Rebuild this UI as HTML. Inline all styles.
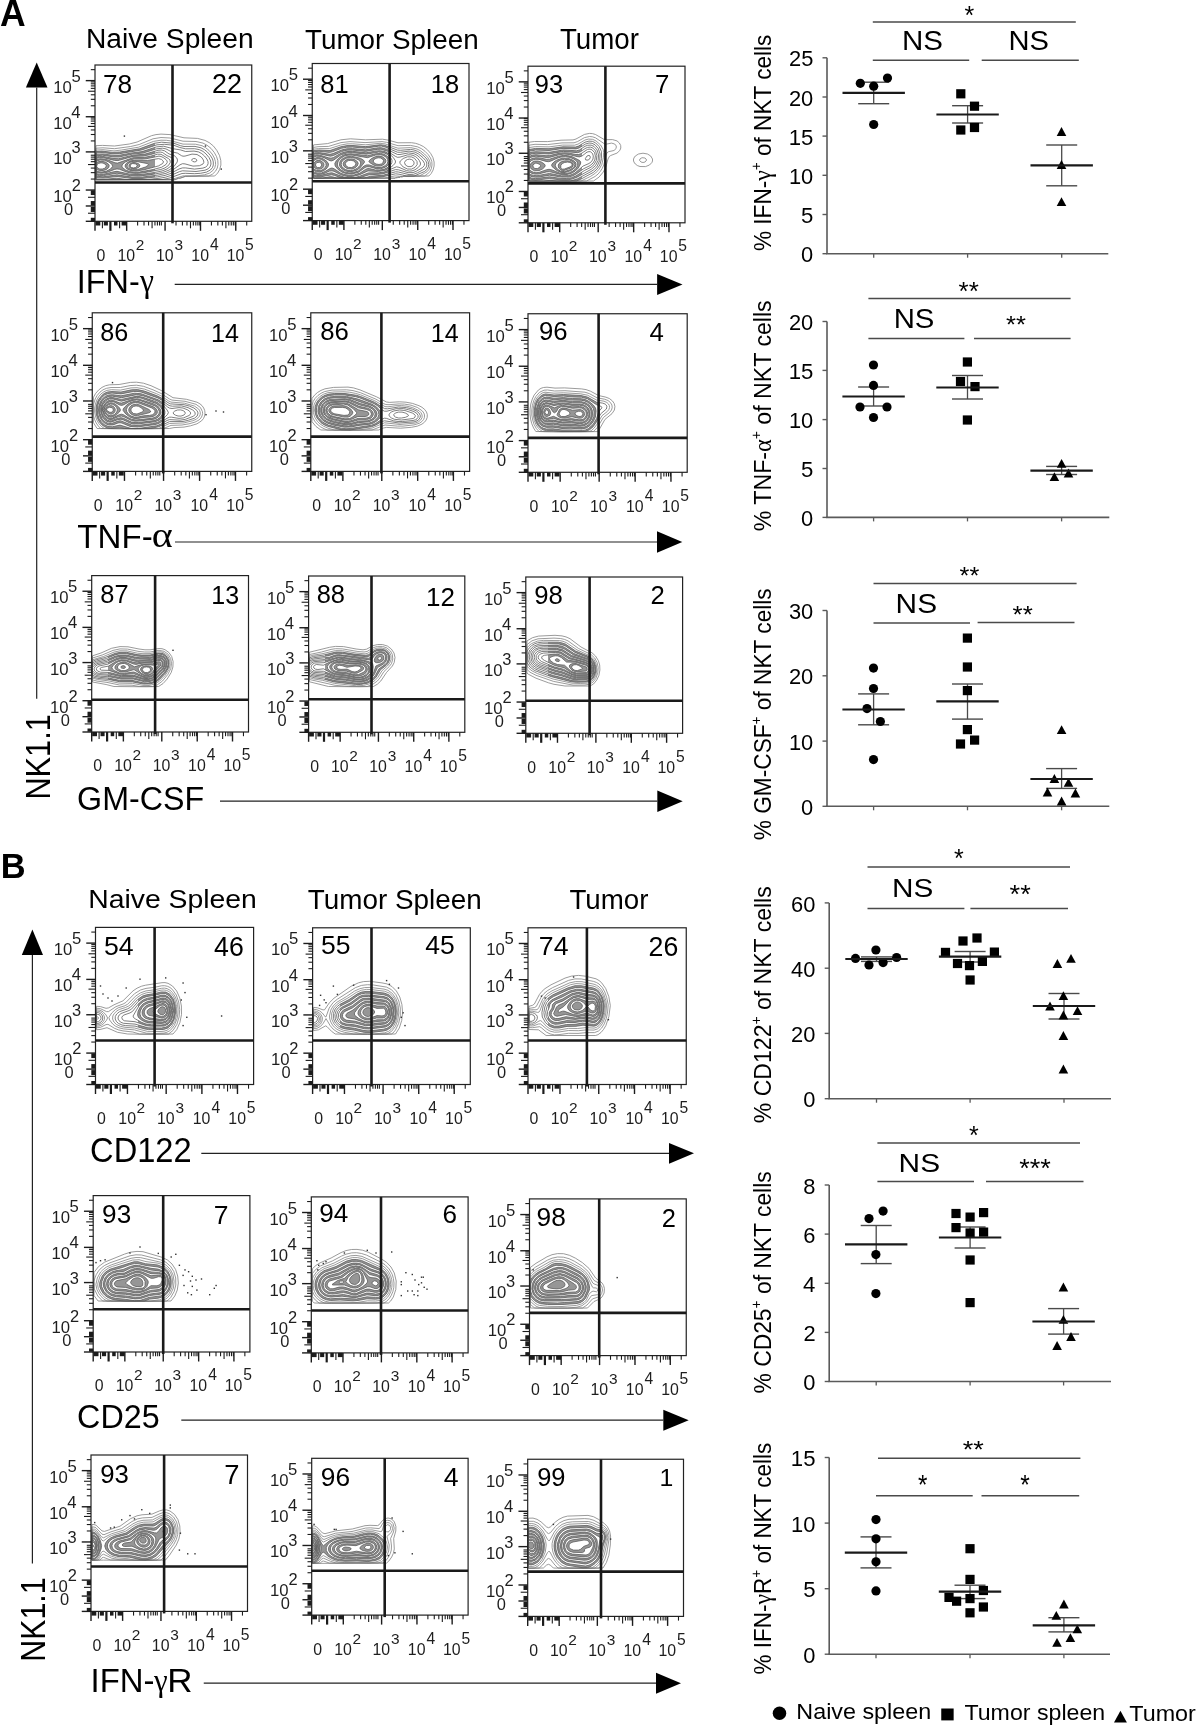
<!DOCTYPE html>
<html><head><meta charset="utf-8"><style>
html,body{margin:0;padding:0;background:#fff;}
svg{display:block;font-family:"Liberation Sans",sans-serif;will-change:transform;}
</style></head><body>
<svg width="1200" height="1726" viewBox="0 0 1200 1726">
<rect width="1200" height="1726" fill="#fff"/>
<defs><path id="A11_0" d="M175 179.8l-79 0.1l-0.4-0.4l-0.1-13.5l0.5-20.3l6.5-0.3l12 0.6l14.8-2l7.8-2l14.4-6.3l4.5-1.1l5-0.5l9 0.5l14 3.2l13.5 0.6l7.5 2l4.5 2.4l4 3.3l3.4 4.4l2.6 5l1.3 5l0.1 4.5l-1.2 4.5l-2 3.5l-3 3l-29.2 0.4l-5.5 1.9l-1.5 0l-3.5 1.5z"/><path id="A11_1" d="M175 179.6l-79 0.2l-0.3-0.3l-0.2-13.5l0.5-17.8l7-0.4l11.5 0.9l16.1-2.2l8.6-2l13.8-5.7l8-1.3l9 0.5l13 3.2l13 0.3l7 1.6l4 2.1l4 3.2l3.3 4.1l2.2 4l1.3 4l0.2 4l-0.7 3.5l-1.8 3.2l-3 2.9l-3.6 1.9l-23.4 0.2l-5.5 1.9l-1.5 0.1l-3.5 1.4z"/><path id="A11_2" d="M171.5 179.5l-75.5 0.2l-0.4-13.7l0.4-15.9l7-0.4l11 1.2l7.8-0.9l16.7-2.8l15-5.8l7.5-1.2l5.5 0.1l6 0.9l10.5 2.9l12.5 0.1l6.5 1.5l3.5 1.9l3.5 2.8l3.1 3.6l2.3 4l1 3.5l0.2 3l-0.8 3l-1.9 3l-3.4 2.6l-5 1.7l-8.5 1.1l-13 0l-11.5 3.6z"/><path id="A11_3" d="M163 179.5l-67 0.1l-0.4-13.6l0.4-14.4l6-0.5l11 1.3l6.7-0.4l19.8-3.2l15-5.5l7-1.1l12.5 1.1l6.5 2.4l3.5 0.8l11-0.1l6 1.4l3.5 1.9l3 2.4l2.9 3.4l2.1 3.5l0.8 3l0 3l-0.8 2.5l-2.1 2.5l-3.9 2.1l-6 1.2l-6 0.4l-9-0.4l-3.5 0.2l-12 4.4l-7 1.6z"/><path id="A11_4" d="M147.5 179.5l-20.3 0l-10.7-1.3l-13.5 1.2l-7-0.4l-0.4-13l0.4-13l6-0.5l11.5 1.4l6-0.2l22-3.7l15.5-5.2l7.5-0.5l9.5 1l5.5 2.1l6 1.4l9-0.1l5 1l3.5 1.7l3.1 2.6l2.9 3.5l1.7 3.5l0.3 3l-1 2.9l-2 2l-3 1.3l-9 1.3l-13.5-0.7l-3 0.8l-8.5 3.8l-5.5 1.8l-6.5 1.1l-11.5 1.2z"/><path id="A11_5" d="M142 178.5l-10 0l-15-2l-14 1.6l-7-0.5l-0.3-11.6l0.3-11.6l6.5-0.5l11.5 1.5l5-0.1l13-2.4l10-1.3l14.5-4.7l7-0.7l10 2.6l7 1.1l5 1.6l8.5-0.4l4.5 0.8l3.1 1.6l2.9 2.5l2.4 3l1.1 2.5l0.1 2l-0.7 2l-1.6 1.5l-2.8 1.1l-8.5 1l-9-1.2l-3 0l-3.5 1.1l-9 4.7l-5 1.7l-7.5 1.4l-15.5 1.7z"/><path id="A11_6" d="M142.5 177l-10.5 0.1l-15-2.3l-14 2l-7-0.6l-0.3-10.2l0.3-10.2l6.5-0.6l11.5 1.8l5 0l13.5-2.9l10.8-1.1l13.2-4.2l6-0.6l3.5 0.7l5.5 2.9l6 1.3l4 2.6l1.5 0.5l2-0.1l7-2l5 0.4l4.2 2.5l1.6 2l0.9 2l0.1 1.5l-0.8 1.5l-3.5 1.7l-6.5 0.4l-8-2.2l-2.5-0.2l-2.5 1.1l-8.5 6l-5.5 2.5l-8 1.8l-15.5 1.9z"/><path id="A11_7" d="M138.5 176l-8-0.3l-13.5-2.5l-13.5 2.4l-4 0l-3.5-0.7l0-17.8l3.5-0.7l3.5 0l11 2.1l4.5 0.2l14.5-3.5l12-1.1l13-3.8l3.5-0.3l3 0.8l4.5 3.1l5.5 1.9l2.3 2.2l0.7 2l-0.3 2l-3.2 4.5l-5 3.6l-6.5 2.5l-13 2.3l-11 1.1zM196 161.6l-1.5 0.3l-1.7-0.4l-1-1l0-1l1.7-1l2 0.2l1.3 1.3l-0.1 1l-0.7 0.6z"/><path id="A11_8" d="M141 174.5l-10-0.1l-14-3.1l-3 0.4l-10.5 2.6l-4 0l-3.5-0.7l0-15.2l3.5-0.7l4 0l11 2.7l3.5 0.2l15-4.2l10.5-0.4l7.2-1.5l7.3-2.3l2.5-0.1l2 0.4l4.5 3.1l4.5 2l1.5 1.4l0.6 1.5l-0.2 2l-2.3 3.5l-4.1 3l-5 2l-7.5 1.5l-13.5 2z"/><path id="A11_9" d="M142.5 173l-6 0.4l-5.5-0.3l-4.5-1.1l-7-2.7l-2.5-0.4l-2.5 0.5l-6.5 2.6l-3.5 0.9l-4 0.3l-3.5-0.6l-1-0.3l0-12.6l4-0.9l4 0.2l4 1l7 2.8l2.5 0.3l15.5-5.4l11.5-0.4l6-1.1l7-2l3.5 0.1l7.3 4.2l1.7 1.5l0.3 2.5l-1.9 3l-3.4 2.4l-4.1 1.6l-18.4 3.5z"/><path id="A11_10" d="M139.5 172l-5.5 0.2l-4.5-0.7l-4-1.6l-3.1-2.4l-0.6-1.5l1-2l2.6-2l3.6-1.7l5.5-1.5l7.5 0.2l5-0.4l12-2.5l2 0.4l2.2 1l2.8 2l1.1 1.5l0.1 1.5l-1.2 2l-4.5 2.8l-8.3 2.2l-13.7 2.5zM102 172l-3-0.2l-3-1l0-9.6l4-1.2l4.5 0.3l4.4 1.7l3.2 2.5l0.5 2l-2.1 2.5l-4 2.1l-4.5 0.9z"/><path id="A11_11" d="M136 171l-3.5-0.1l-3-0.7l-2.4-1.2l-1.5-1.5l-0.6-1.5l0.7-2l1.7-1.5l2.6-1.4l4.5-1l13 0.3l11-1.8l3 0.8l1.7 1.6l0.2 1l-0.7 1.5l-4.2 2.4l-14.5 3.9l-8 1.2zM103.5 170.5l-4 0.1l-3.5-1.5l0-6.2l2.5-1.3l3.5-0.3l3.5 0.8l2.9 1.9l0.8 1.5l-0.4 2l-2.3 1.9l-3 1.1z"/><path id="A11_12" d="M137.5 169.6l-5.5 0.2l-3.9-1.8l-0.9-1.5l0-1.5l1-1.5l1.8-1.2l3-0.9l3 0l11 2.1l1.6 1l-0.7 1l-2.5 1.5l-7.9 2.6zM102.5 169l-2.7 0l-2.2-1l-0.9-1.5l0.4-2l1.4-1.1l2.5-0.6l2 0.3l2 0.9l1.2 1.5l-0.2 1.5l-1.5 1.3l-2 0.7z"/><path id="A11_13" d="M136 168.6l-3 0.3l-2.8-0.9l-1.3-1.5l0.2-2l1.4-1.2l2.5-0.8l2.5 0.1l2.7 0.9l1.3 1l0.5 1.5l-1.4 1.5l-2.6 1.1z"/><path id="A11_14" d="M135.5 167.5l-2 0.4l-2-0.4l-1.1-1l-0.1-1.5l1-1l1.5-0.5l3.2 0.5l1.1 1l0.1 1l-1.7 1.5z"/><clipPath id="cA11"><rect x="95" y="65" width="60" height="156.3"/></clipPath></defs><g clip-path="url(#cA11)"><use href="#A11_3" fill="#969696"/><use href="#A11_4" fill="#fff"/><use href="#A11_5" fill="#969696"/><use href="#A11_6" fill="#fff"/><use href="#A11_7" fill="#969696"/><use href="#A11_8" fill="#fff"/><use href="#A11_9" fill="#969696"/><use href="#A11_10" fill="#fff"/><use href="#A11_11" fill="#969696"/><use href="#A11_12" fill="#fff"/><use href="#A11_13" fill="#969696"/><use href="#A11_14" fill="#fff"/></g><g fill="none" stroke-width="0.75"><use href="#A11_0" stroke="#7a7a7a"/><use href="#A11_1" stroke="#7a7a7a"/><use href="#A11_2" stroke="#7a7a7a"/><use href="#A11_3" stroke="#565656"/><use href="#A11_4" stroke="#565656"/><use href="#A11_5" stroke="#565656"/><use href="#A11_6" stroke="#565656"/><use href="#A11_7" stroke="#565656"/><use href="#A11_8" stroke="#565656"/><use href="#A11_9" stroke="#565656"/><use href="#A11_10" stroke="#565656"/><use href="#A11_11" stroke="#565656"/><use href="#A11_12" stroke="#565656"/><use href="#A11_13" stroke="#565656"/><use href="#A11_14" stroke="#565656"/></g><rect x="123.7" y="135.4" width="1.4" height="1.4" fill="#333"/><rect x="204.8" y="145.3" width="1.4" height="1.4" fill="#333"/><rect x="220.6" y="168.4" width="1.4" height="1.4" fill="#333"/>
<rect x="95.00" y="65.00" width="156.75" height="156.30" fill="none" stroke="#222" stroke-width="1.2"/>
<line x1="172.50" y1="65.00" x2="172.50" y2="223.30" stroke="#1a1a1a" stroke-width="2.6"/>
<line x1="95.00" y1="182.50" x2="251.75" y2="182.50" stroke="#1a1a1a" stroke-width="2.6"/>
<line x1="85.75" y1="190.04" x2="95.00" y2="190.04" stroke="#1c1c1c" stroke-width="1.4"/>
<line x1="90.80" y1="179.06" x2="95.00" y2="179.06" stroke="#1c1c1c" stroke-width="1.1"/>
<line x1="90.80" y1="172.64" x2="95.00" y2="172.64" stroke="#1c1c1c" stroke-width="1.1"/>
<line x1="90.80" y1="168.08" x2="95.00" y2="168.08" stroke="#1c1c1c" stroke-width="1.1"/>
<line x1="88.00" y1="164.55" x2="95.00" y2="164.55" stroke="#1c1c1c" stroke-width="1.1"/>
<line x1="90.80" y1="161.66" x2="95.00" y2="161.66" stroke="#1c1c1c" stroke-width="1.1"/>
<line x1="90.80" y1="159.22" x2="95.00" y2="159.22" stroke="#1c1c1c" stroke-width="1.1"/>
<line x1="90.80" y1="157.10" x2="95.00" y2="157.10" stroke="#1c1c1c" stroke-width="1.1"/>
<line x1="90.80" y1="155.24" x2="95.00" y2="155.24" stroke="#1c1c1c" stroke-width="1.1"/>
<line x1="85.75" y1="151.90" x2="95.00" y2="151.90" stroke="#1c1c1c" stroke-width="1.4"/>
<line x1="90.80" y1="140.92" x2="95.00" y2="140.92" stroke="#1c1c1c" stroke-width="1.1"/>
<line x1="90.80" y1="134.50" x2="95.00" y2="134.50" stroke="#1c1c1c" stroke-width="1.1"/>
<line x1="90.80" y1="129.95" x2="95.00" y2="129.95" stroke="#1c1c1c" stroke-width="1.1"/>
<line x1="88.00" y1="126.41" x2="95.00" y2="126.41" stroke="#1c1c1c" stroke-width="1.1"/>
<line x1="90.80" y1="123.52" x2="95.00" y2="123.52" stroke="#1c1c1c" stroke-width="1.1"/>
<line x1="90.80" y1="121.08" x2="95.00" y2="121.08" stroke="#1c1c1c" stroke-width="1.1"/>
<line x1="90.80" y1="118.97" x2="95.00" y2="118.97" stroke="#1c1c1c" stroke-width="1.1"/>
<line x1="90.80" y1="117.10" x2="95.00" y2="117.10" stroke="#1c1c1c" stroke-width="1.1"/>
<line x1="85.75" y1="116.74" x2="95.00" y2="116.74" stroke="#1c1c1c" stroke-width="1.4"/>
<line x1="90.80" y1="105.76" x2="95.00" y2="105.76" stroke="#1c1c1c" stroke-width="1.1"/>
<line x1="90.80" y1="99.33" x2="95.00" y2="99.33" stroke="#1c1c1c" stroke-width="1.1"/>
<line x1="90.80" y1="94.78" x2="95.00" y2="94.78" stroke="#1c1c1c" stroke-width="1.1"/>
<line x1="88.00" y1="91.24" x2="95.00" y2="91.24" stroke="#1c1c1c" stroke-width="1.1"/>
<line x1="90.80" y1="88.36" x2="95.00" y2="88.36" stroke="#1c1c1c" stroke-width="1.1"/>
<line x1="90.80" y1="85.91" x2="95.00" y2="85.91" stroke="#1c1c1c" stroke-width="1.1"/>
<line x1="90.80" y1="83.80" x2="95.00" y2="83.80" stroke="#1c1c1c" stroke-width="1.1"/>
<line x1="90.80" y1="81.93" x2="95.00" y2="81.93" stroke="#1c1c1c" stroke-width="1.1"/>
<line x1="85.75" y1="80.63" x2="95.00" y2="80.63" stroke="#1c1c1c" stroke-width="1.4"/>
<line x1="90.80" y1="69.65" x2="95.00" y2="69.65" stroke="#1c1c1c" stroke-width="1.1"/>
<line x1="85.75" y1="205.98" x2="95.00" y2="205.98" stroke="#1c1c1c" stroke-width="1.4"/>
<line x1="85.75" y1="221.30" x2="95.00" y2="221.30" stroke="#1c1c1c" stroke-width="1.4"/>
<line x1="88.00" y1="197.29" x2="95.00" y2="197.29" stroke="#1c1c1c" stroke-width="1.1"/>
<line x1="88.00" y1="213.23" x2="95.00" y2="213.23" stroke="#1c1c1c" stroke-width="1.1"/>
<rect x="90.80" y="190.34" width="4.2" height="4.70" fill="#1c1c1c"/>
<rect x="90.80" y="201.04" width="4.2" height="4.50" fill="#1c1c1c"/>
<rect x="90.80" y="206.98" width="4.2" height="5.00" fill="#1c1c1c"/>
<rect x="90.80" y="217.80" width="4.2" height="3.20" fill="#1c1c1c"/>
<line x1="126.66" y1="221.30" x2="126.66" y2="230.80" stroke="#1c1c1c" stroke-width="1.4"/>
<line x1="137.61" y1="221.30" x2="137.61" y2="225.50" stroke="#1c1c1c" stroke-width="1.1"/>
<line x1="144.01" y1="221.30" x2="144.01" y2="225.50" stroke="#1c1c1c" stroke-width="1.1"/>
<line x1="148.56" y1="221.30" x2="148.56" y2="225.50" stroke="#1c1c1c" stroke-width="1.1"/>
<line x1="152.08" y1="221.30" x2="152.08" y2="228.30" stroke="#1c1c1c" stroke-width="1.1"/>
<line x1="154.96" y1="221.30" x2="154.96" y2="225.50" stroke="#1c1c1c" stroke-width="1.1"/>
<line x1="157.40" y1="221.30" x2="157.40" y2="225.50" stroke="#1c1c1c" stroke-width="1.1"/>
<line x1="159.51" y1="221.30" x2="159.51" y2="225.50" stroke="#1c1c1c" stroke-width="1.1"/>
<line x1="161.37" y1="221.30" x2="161.37" y2="225.50" stroke="#1c1c1c" stroke-width="1.1"/>
<line x1="165.07" y1="221.30" x2="165.07" y2="230.80" stroke="#1c1c1c" stroke-width="1.4"/>
<line x1="176.01" y1="221.30" x2="176.01" y2="225.50" stroke="#1c1c1c" stroke-width="1.1"/>
<line x1="182.42" y1="221.30" x2="182.42" y2="225.50" stroke="#1c1c1c" stroke-width="1.1"/>
<line x1="186.96" y1="221.30" x2="186.96" y2="225.50" stroke="#1c1c1c" stroke-width="1.1"/>
<line x1="190.49" y1="221.30" x2="190.49" y2="228.30" stroke="#1c1c1c" stroke-width="1.1"/>
<line x1="193.37" y1="221.30" x2="193.37" y2="225.50" stroke="#1c1c1c" stroke-width="1.1"/>
<line x1="195.80" y1="221.30" x2="195.80" y2="225.50" stroke="#1c1c1c" stroke-width="1.1"/>
<line x1="197.91" y1="221.30" x2="197.91" y2="225.50" stroke="#1c1c1c" stroke-width="1.1"/>
<line x1="199.77" y1="221.30" x2="199.77" y2="225.50" stroke="#1c1c1c" stroke-width="1.1"/>
<line x1="200.49" y1="221.30" x2="200.49" y2="230.80" stroke="#1c1c1c" stroke-width="1.4"/>
<line x1="211.44" y1="221.30" x2="211.44" y2="225.50" stroke="#1c1c1c" stroke-width="1.1"/>
<line x1="217.84" y1="221.30" x2="217.84" y2="225.50" stroke="#1c1c1c" stroke-width="1.1"/>
<line x1="222.39" y1="221.30" x2="222.39" y2="225.50" stroke="#1c1c1c" stroke-width="1.1"/>
<line x1="225.91" y1="221.30" x2="225.91" y2="228.30" stroke="#1c1c1c" stroke-width="1.1"/>
<line x1="228.79" y1="221.30" x2="228.79" y2="225.50" stroke="#1c1c1c" stroke-width="1.1"/>
<line x1="231.23" y1="221.30" x2="231.23" y2="225.50" stroke="#1c1c1c" stroke-width="1.1"/>
<line x1="233.33" y1="221.30" x2="233.33" y2="225.50" stroke="#1c1c1c" stroke-width="1.1"/>
<line x1="235.19" y1="221.30" x2="235.19" y2="225.50" stroke="#1c1c1c" stroke-width="1.1"/>
<line x1="235.76" y1="221.30" x2="235.76" y2="230.80" stroke="#1c1c1c" stroke-width="1.4"/>
<line x1="246.71" y1="221.30" x2="246.71" y2="225.50" stroke="#1c1c1c" stroke-width="1.1"/>
<line x1="95.00" y1="221.30" x2="95.00" y2="230.80" stroke="#1c1c1c" stroke-width="1.4"/>
<line x1="110.40" y1="221.30" x2="110.40" y2="230.80" stroke="#1c1c1c" stroke-width="2.2"/>
<line x1="102.40" y1="221.30" x2="102.40" y2="228.30" stroke="#1c1c1c" stroke-width="1.1"/>
<line x1="119.60" y1="221.30" x2="119.60" y2="228.30" stroke="#1c1c1c" stroke-width="1.1"/>
<rect x="95.50" y="221.30" width="4.80" height="4.2" fill="#1c1c1c"/>
<rect x="103.80" y="221.30" width="4.10" height="4.2" fill="#1c1c1c"/>
<rect x="114.00" y="221.30" width="3.50" height="4.2" fill="#1c1c1c"/>
<rect x="121.60" y="221.30" width="4.90" height="4.2" fill="#1c1c1c"/>
<text x="53.28" y="92.63" font-size="16.71" font-weight="normal" fill="#1e1e1e">10</text>
<text x="71.42" y="81.63" font-size="16.67" font-weight="normal" fill="#1e1e1e">5</text>
<text x="53.28" y="128.74" font-size="16.71" font-weight="normal" fill="#1e1e1e">10</text>
<text x="71.25" y="117.74" font-size="16.67" font-weight="normal" fill="#1e1e1e">4</text>
<text x="53.28" y="163.90" font-size="16.71" font-weight="normal" fill="#1e1e1e">10</text>
<text x="71.54" y="152.90" font-size="16.43" font-weight="normal" fill="#1e1e1e">3</text>
<text x="53.28" y="202.04" font-size="16.71" font-weight="normal" fill="#1e1e1e">10</text>
<text x="71.70" y="191.04" font-size="16.43" font-weight="normal" fill="#1e1e1e">2</text>
<text x="63.96" y="214.98" font-size="16.43" font-weight="normal" fill="#1e1e1e">0</text>
<text x="96.56" y="260.70" font-size="15.86" font-weight="normal" fill="#1e1e1e">0</text>
<text x="117.55" y="260.70" font-size="15.86" font-weight="normal" fill="#1e1e1e">10</text>
<text x="135.82" y="249.70" font-size="15.43" font-weight="normal" fill="#1e1e1e">2</text>
<text x="155.95" y="260.70" font-size="15.86" font-weight="normal" fill="#1e1e1e">10</text>
<text x="174.38" y="249.70" font-size="15.43" font-weight="normal" fill="#1e1e1e">3</text>
<text x="191.37" y="260.70" font-size="15.86" font-weight="normal" fill="#1e1e1e">10</text>
<text x="210.11" y="249.70" font-size="15.65" font-weight="normal" fill="#1e1e1e">4</text>
<text x="226.64" y="260.70" font-size="15.86" font-weight="normal" fill="#1e1e1e">10</text>
<text x="245.06" y="249.70" font-size="15.65" font-weight="normal" fill="#1e1e1e">5</text>
<text x="102.89" y="92.50" font-size="26.14" font-weight="normal" fill="#000">78</text>
<text x="212.03" y="92.80" font-size="26.86" font-weight="normal" fill="#000">22</text>
<defs><path id="A12_0" d="M395 178.3l-81.5 0.1l-0.4-0.4l-0.1-13l0.5-20.1l14-1.3l13.5-3.8l9.5-1l15 1l17-0.6l5.5 0.9l10 2.7l13.5-0.1l4 0.6l4 1.3l4 2l4 3.2l3.2 3.7l2.2 4l1.2 4.5l0 4l-1 4l-1.9 3.5l-2.3 2.5l-25.9 0.4l-0.5 0.5l-2 0l-0.5 0.5l-2-0.1l-0.5 0.5l-2 0l-0.5 0.5z"/><path id="A12_1" d="M395 178l-81.5 0.4l-0.4-0.4l-0.1-13l0.5-17.6l4.5-0.7l10.5-0.3l12.5-3.8l9-1l15 1l17-1l4.5 0.7l11.5 3.4l12.5-0.3l7 1.4l4 1.9l3.5 2.6l3.1 3.2l2.4 3.5l1.3 3.5l0.2 3.5l-0.6 3.5l-1.5 3l-2.4 2.5l-3 2l-21.5 0.3l-0.5 0.4l-2 0l-0.5 0.5l-2 0l-3 0.8z"/><path id="A12_2" d="M384.5 178l-71 0.2l-0.4-13.2l0.4-15.8l5-0.6l11 0l11-3.5l6.5-1.2l5.5-0.1l13 1l14.5-1.5l5 0.6l13 4.3l12.5-0.6l6.5 1.4l3.5 1.8l4 3.2l3 3.1l1.8 2.9l0.9 3l-0.1 3.5l-1.2 3l-1.9 2.3l-7.6 4.2l-16.4 0.1l-0.5 0.4l-7.5-0.6l-10.5 2.1z"/><path id="A12_3" d="M370.5 178l-57 0.1l-0.4-13.1l0.4-14.3l5-0.7l11.5 0.5l11-3.8l6-1.1l6-0.1l12.5 1.1l15-1.9l4.5 0.7l12.5 4.7l3 0.2l10-0.9l3.5 0.6l3.5 1.3l3 1.8l4 3.4l2.3 2.5l1.4 2.5l0.5 3l-0.4 2.5l-1.4 2.5l-2.4 2l-10.4 4.5l-7.4 0l-7.7-1.8l-3.5-0.4l-12.5 2.9l-12.5 1.3z"/><path id="A12_4" d="M364 178l-27.4 0l-3.6-1.1l-2.5-0.3l-7.7 1.4l-7.6 0l-1.7-0.4l-0.3-22.1l0.3-3.5l1-0.3l4.5-0.4l10.5 1.1l3-0.6l9-3.5l5-1l6-0.2l13 1.1l13-2l3-0.1l4 1.1l12 5l3 0.1l8.5-1.2l6 1l3.6 1.9l4.4 3.7l2.6 2.8l1.2 2.5l-0.1 3l-1.7 2.8l-7.5 4l-4 1.5l-4.5 0.3l-10.5-2.6l-3-0.2l-12 3.3l-13 1.2l-6.5 1.7z"/><path id="A12_5" d="M359 178l-17.7 0l-6.8-2.6l-3-0.6l-11.5 2.2l-3.5-0.1l-3-0.8l-0.1-21.1l0.1-1.7l1.5-0.5l4.5-0.2l10.5 1.7l3-0.7l8.5-3.6l5-1.2l6-0.2l13 1.2l13-2.1l3 0l5 1.5l11 5.3l2.5 0l8.5-1.6l5.5 0.8l3 1.5l2.8 2.3l3.3 3.5l1.4 2.5l-0.2 2l-1.6 2l-6.2 3.7l-3.5 1.4l-5 0.1l-9.5-2.9l-3-0.2l-11.5 3.9l-4.5 0.7l-10.5 0.6l-10 3.2z"/><path id="A12_6" d="M354.5 177.6l-5 0.3l-5-0.6l-12.5-4.5l-2.5 0.2l-9.5 2.6l-3.5-0.1l-3-0.8l-0.1-19.2l0.1-0.9l1.5-0.5l4.5-0.2l11 2.3l3-0.7l8-3.9l5.5-1.4l5.5-0.1l13 1.3l12-2l3.5-0.2l6.5 2.1l8 5.1l2 0.9l2.5-0.2l7.5-2.2l3-0.1l2.5 0.6l2.4 1.1l2.1 1.7l1.8 2.3l1.2 2.5l-0.2 2l-2.1 2.5l-3.2 2.3l-3 1.1l-2.5 0.2l-3-0.5l-7.5-3.3l-2.5-0.5l-12.5 5.2l-5.5 0.8l-10 0.1l-9 3.4l-5 1.3z"/><path id="A12_7" d="M352.5 176.5l-4.5 0.1l-4-0.8l-3.7-1.3l-6.3-3.2l-2-0.5l-2.5 0.3l-5.5 2.4l-3.5 0.9l-3.5 0l-3.5-1.1l0-16.8l0-0.6l1-0.5l2.5-0.5l3 0.3l8.5 2.6l2.5 0.4l2.5-0.7l7.5-4.3l5.5-1.6l6-0.3l13.5 1.5l10.5-1.9l4-0.2l4.5 1l4.4 2.3l3.9 3.5l2.2 3.5l-0.2 2l-2.2 2.5l-3.6 2.7l-4 2l-7 1.3l-10.5-0.6l-9 4.1l-6.5 1.5zM411.5 169.1l-4-0.1l-4.3-2l-3.1-3.5l-0.3-1.5l0.5-1l2.9-2.5l4.3-1.7l4 0.1l3 1.4l2.5 3.2l0.2 3l-2.2 2.9l-3.5 1.7z"/><path id="A12_8" d="M354 175l-5 0.3l-5-0.9l-3.5-1.4l-6.5-4.3l-2-0.7l-2 0.5l-5 3l-3.5 1.4l-3.5 0.3l-3.5-0.8l-1-0.5l0-14.5l3-1.2l3.5 0.2l4 1.3l6 3l1.5 0.2l2-0.7l7.5-5.4l6.5-2l5-0.1l14 1.5l12-2.1l3.5 0.2l3 0.9l2.5 1.4l2.3 1.9l1.5 2l0.7 2l-0.1 2l-0.6 1.5l-3.3 3.3l-4 2l-4.5 0.8l-4-0.1l-6-1.4l-2 0l-2 0.8l-5.5 3.7l-6 1.9zM411 166.6l-3 0l-2.6-1.6l-0.9-2.5l1.2-2l1.8-1l2-0.4l2 0.4l1.5 1l1 1.5l0 2l-1 1.5l-2 1.1z"/><path id="A12_9" d="M352 174l-5-0.2l-4.5-1.4l-4.4-2.9l-2.9-3.5l-0.4-2.5l1.6-3l3.1-3.1l4-2.3l3.5-1l4-0.3l16.5 1.9l8.5-2l4.5-0.3l3 0.7l2.8 1.4l2.2 2l1.1 2l0.2 2.5l-0.8 2l-2 2.2l-3 1.6l-3.5 1l-3.5 0.1l-7.5-2.1l-2.5-0.1l-2 0.8l-6.5 4.8l-6.5 1.7zM319.5 172l-3-0.2l-3-1.4l0-11.3l3-1.5l3.5 0.1l3.5 1.3l3.5 2.5l1.6 2.5l-0.5 2.5l-2 2.5l-3.1 2l-3.5 1z"/><path id="A12_10" d="M353.5 172.6l-4.5 0.3l-4.5-1l-4.1-2.4l-2.5-3l-0.6-2.5l1-3l2.7-2.9l3.5-2l3.5-0.9l4-0.1l15.5 2.6l8-2.6l4.5-0.4l2.5 0.5l2.5 1.2l1.8 1.6l0.8 1.5l0.3 2l-0.7 2l-1.7 1.9l-2.5 1.4l-3 0.7l-3 0l-8-2.6l-2.5 0l-2.5 1.2l-5.5 4.7l-5 1.8zM320.5 170.6l-4-0.1l-3-1.9l0-7.5l2.5-1.9l2.5-0.4l3 0.7l3 2l1.4 2l0.2 2l-0.9 2l-2.2 2l-2.5 1.1z"/><path id="A12_11" d="M352.5 171.5l-3.5 0.2l-3-0.6l-2.5-1.1l-2.5-2l-1.3-2l-0.3-2.5l0.9-2.5l1.8-2l4.4-2.2l5-0.6l9 2.1l3.4 2.2l0.6 1l-0.1 1l-4.5 5.5l-3.4 2.3l-4 1.2zM380.5 166l-3.5 0.1l-3-0.9l-4.4-2.7l-0.8-1.5l2.7-2.5l4-1.9l3.5-0.5l3.5 0.7l2.8 2.2l0.6 1.5l-0.1 1.5l-1.8 2.5l-3.5 1.5zM320.5 169.1l-3.5 0.1l-1.5-0.7l-1.4-1.5l-0.5-1.5l0.2-2l0.9-1.5l1.3-1.1l2-0.6l2 0.2l2.1 1l1.4 1.5l0.5 1.5l-0.3 2l-1.2 1.5l-2 1.1z"/><path id="A12_12" d="M353.5 170l-3 0.5l-2.5-0.2l-2.5-0.8l-2.3-1.5l-1.3-1.5l-0.7-2l0.3-2l1.2-2l3.3-2.2l4.5-0.8l5 0.8l4.1 2.2l1.2 2.5l-0.9 2.5l-2.9 3l-3.5 1.5zM379 164.5l-3-0.5l-2.3-1.5l-0.5-1.5l0.9-1.5l1.9-1.2l2.5-0.5l2.1 0.2l1.9 1l1 1.5l-0.4 2l-1.6 1.4l-2.5 0.6zM319.5 167.6l-2.2-0.1l-1.6-1.5l-0.1-2l1.4-1.5l2.5-0.2l1.4 0.7l0.7 1l0 2l-2.1 1.6z"/><path id="A12_13" d="M351.5 169l-4.5-0.5l-2.9-2l-0.8-1.5l-0.1-1.5l0.6-1.5l1.3-1.5l2.9-1.4l3.5-0.2l3.5 0.9l2.5 1.9l0.7 1.8l-1 2.5l-2.4 2l-3.3 1z"/><path id="A12_14" d="M351.5 167.5l-3-0.1l-2.5-1.5l-0.7-2.4l1.3-2l1.9-0.9l2.5-0.3l2.5 0.6l1.5 1.1l0.8 1.5l-0.3 1.5l-1.5 1.6l-2.5 0.9z"/><clipPath id="cA12"><rect x="312.25" y="63.5" width="75.75" height="157.1"/></clipPath></defs><g clip-path="url(#cA12)"><use href="#A12_3" fill="#969696"/><use href="#A12_4" fill="#fff"/><use href="#A12_5" fill="#969696"/><use href="#A12_6" fill="#fff"/><use href="#A12_7" fill="#969696"/><use href="#A12_8" fill="#fff"/><use href="#A12_9" fill="#969696"/><use href="#A12_10" fill="#fff"/><use href="#A12_11" fill="#969696"/><use href="#A12_12" fill="#fff"/><use href="#A12_13" fill="#969696"/><use href="#A12_14" fill="#fff"/></g><g fill="none" stroke-width="0.75"><use href="#A12_0" stroke="#7a7a7a"/><use href="#A12_1" stroke="#7a7a7a"/><use href="#A12_2" stroke="#7a7a7a"/><use href="#A12_3" stroke="#565656"/><use href="#A12_4" stroke="#565656"/><use href="#A12_5" stroke="#565656"/><use href="#A12_6" stroke="#565656"/><use href="#A12_7" stroke="#565656"/><use href="#A12_8" stroke="#565656"/><use href="#A12_9" stroke="#565656"/><use href="#A12_10" stroke="#565656"/><use href="#A12_11" stroke="#565656"/><use href="#A12_12" stroke="#565656"/><use href="#A12_13" stroke="#565656"/><use href="#A12_14" stroke="#565656"/></g>
<rect x="312.25" y="63.50" width="156.75" height="157.10" fill="none" stroke="#222" stroke-width="1.2"/>
<line x1="389.60" y1="63.50" x2="389.60" y2="222.60" stroke="#1a1a1a" stroke-width="2.6"/>
<line x1="312.25" y1="181.20" x2="469.00" y2="181.20" stroke="#1a1a1a" stroke-width="2.6"/>
<line x1="303.00" y1="189.18" x2="312.25" y2="189.18" stroke="#1c1c1c" stroke-width="1.4"/>
<line x1="308.05" y1="178.15" x2="312.25" y2="178.15" stroke="#1c1c1c" stroke-width="1.1"/>
<line x1="308.05" y1="171.69" x2="312.25" y2="171.69" stroke="#1c1c1c" stroke-width="1.1"/>
<line x1="308.05" y1="167.11" x2="312.25" y2="167.11" stroke="#1c1c1c" stroke-width="1.1"/>
<line x1="305.25" y1="163.56" x2="312.25" y2="163.56" stroke="#1c1c1c" stroke-width="1.1"/>
<line x1="308.05" y1="160.66" x2="312.25" y2="160.66" stroke="#1c1c1c" stroke-width="1.1"/>
<line x1="308.05" y1="158.20" x2="312.25" y2="158.20" stroke="#1c1c1c" stroke-width="1.1"/>
<line x1="308.05" y1="156.08" x2="312.25" y2="156.08" stroke="#1c1c1c" stroke-width="1.1"/>
<line x1="308.05" y1="154.20" x2="312.25" y2="154.20" stroke="#1c1c1c" stroke-width="1.1"/>
<line x1="303.00" y1="150.85" x2="312.25" y2="150.85" stroke="#1c1c1c" stroke-width="1.4"/>
<line x1="308.05" y1="139.81" x2="312.25" y2="139.81" stroke="#1c1c1c" stroke-width="1.1"/>
<line x1="308.05" y1="133.36" x2="312.25" y2="133.36" stroke="#1c1c1c" stroke-width="1.1"/>
<line x1="308.05" y1="128.78" x2="312.25" y2="128.78" stroke="#1c1c1c" stroke-width="1.1"/>
<line x1="305.25" y1="125.23" x2="312.25" y2="125.23" stroke="#1c1c1c" stroke-width="1.1"/>
<line x1="308.05" y1="122.32" x2="312.25" y2="122.32" stroke="#1c1c1c" stroke-width="1.1"/>
<line x1="308.05" y1="119.87" x2="312.25" y2="119.87" stroke="#1c1c1c" stroke-width="1.1"/>
<line x1="308.05" y1="117.74" x2="312.25" y2="117.74" stroke="#1c1c1c" stroke-width="1.1"/>
<line x1="308.05" y1="115.87" x2="312.25" y2="115.87" stroke="#1c1c1c" stroke-width="1.1"/>
<line x1="303.00" y1="115.50" x2="312.25" y2="115.50" stroke="#1c1c1c" stroke-width="1.4"/>
<line x1="308.05" y1="104.47" x2="312.25" y2="104.47" stroke="#1c1c1c" stroke-width="1.1"/>
<line x1="308.05" y1="98.01" x2="312.25" y2="98.01" stroke="#1c1c1c" stroke-width="1.1"/>
<line x1="308.05" y1="93.43" x2="312.25" y2="93.43" stroke="#1c1c1c" stroke-width="1.1"/>
<line x1="305.25" y1="89.88" x2="312.25" y2="89.88" stroke="#1c1c1c" stroke-width="1.1"/>
<line x1="308.05" y1="86.98" x2="312.25" y2="86.98" stroke="#1c1c1c" stroke-width="1.1"/>
<line x1="308.05" y1="84.52" x2="312.25" y2="84.52" stroke="#1c1c1c" stroke-width="1.1"/>
<line x1="308.05" y1="82.40" x2="312.25" y2="82.40" stroke="#1c1c1c" stroke-width="1.1"/>
<line x1="308.05" y1="80.52" x2="312.25" y2="80.52" stroke="#1c1c1c" stroke-width="1.1"/>
<line x1="303.00" y1="79.21" x2="312.25" y2="79.21" stroke="#1c1c1c" stroke-width="1.4"/>
<line x1="308.05" y1="68.18" x2="312.25" y2="68.18" stroke="#1c1c1c" stroke-width="1.1"/>
<line x1="303.00" y1="205.20" x2="312.25" y2="205.20" stroke="#1c1c1c" stroke-width="1.4"/>
<line x1="303.00" y1="220.60" x2="312.25" y2="220.60" stroke="#1c1c1c" stroke-width="1.4"/>
<line x1="305.25" y1="196.43" x2="312.25" y2="196.43" stroke="#1c1c1c" stroke-width="1.1"/>
<line x1="305.25" y1="212.45" x2="312.25" y2="212.45" stroke="#1c1c1c" stroke-width="1.1"/>
<rect x="308.05" y="189.48" width="4.2" height="4.70" fill="#1c1c1c"/>
<rect x="308.05" y="200.18" width="4.2" height="4.50" fill="#1c1c1c"/>
<rect x="308.05" y="206.20" width="4.2" height="5.00" fill="#1c1c1c"/>
<rect x="308.05" y="217.10" width="4.2" height="3.20" fill="#1c1c1c"/>
<line x1="343.91" y1="220.60" x2="343.91" y2="230.10" stroke="#1c1c1c" stroke-width="1.4"/>
<line x1="354.86" y1="220.60" x2="354.86" y2="224.80" stroke="#1c1c1c" stroke-width="1.1"/>
<line x1="361.26" y1="220.60" x2="361.26" y2="224.80" stroke="#1c1c1c" stroke-width="1.1"/>
<line x1="365.81" y1="220.60" x2="365.81" y2="224.80" stroke="#1c1c1c" stroke-width="1.1"/>
<line x1="369.33" y1="220.60" x2="369.33" y2="227.60" stroke="#1c1c1c" stroke-width="1.1"/>
<line x1="372.21" y1="220.60" x2="372.21" y2="224.80" stroke="#1c1c1c" stroke-width="1.1"/>
<line x1="374.65" y1="220.60" x2="374.65" y2="224.80" stroke="#1c1c1c" stroke-width="1.1"/>
<line x1="376.76" y1="220.60" x2="376.76" y2="224.80" stroke="#1c1c1c" stroke-width="1.1"/>
<line x1="378.62" y1="220.60" x2="378.62" y2="224.80" stroke="#1c1c1c" stroke-width="1.1"/>
<line x1="382.32" y1="220.60" x2="382.32" y2="230.10" stroke="#1c1c1c" stroke-width="1.4"/>
<line x1="393.26" y1="220.60" x2="393.26" y2="224.80" stroke="#1c1c1c" stroke-width="1.1"/>
<line x1="399.67" y1="220.60" x2="399.67" y2="224.80" stroke="#1c1c1c" stroke-width="1.1"/>
<line x1="404.21" y1="220.60" x2="404.21" y2="224.80" stroke="#1c1c1c" stroke-width="1.1"/>
<line x1="407.74" y1="220.60" x2="407.74" y2="227.60" stroke="#1c1c1c" stroke-width="1.1"/>
<line x1="410.62" y1="220.60" x2="410.62" y2="224.80" stroke="#1c1c1c" stroke-width="1.1"/>
<line x1="413.05" y1="220.60" x2="413.05" y2="224.80" stroke="#1c1c1c" stroke-width="1.1"/>
<line x1="415.16" y1="220.60" x2="415.16" y2="224.80" stroke="#1c1c1c" stroke-width="1.1"/>
<line x1="417.02" y1="220.60" x2="417.02" y2="224.80" stroke="#1c1c1c" stroke-width="1.1"/>
<line x1="417.74" y1="220.60" x2="417.74" y2="230.10" stroke="#1c1c1c" stroke-width="1.4"/>
<line x1="428.69" y1="220.60" x2="428.69" y2="224.80" stroke="#1c1c1c" stroke-width="1.1"/>
<line x1="435.09" y1="220.60" x2="435.09" y2="224.80" stroke="#1c1c1c" stroke-width="1.1"/>
<line x1="439.64" y1="220.60" x2="439.64" y2="224.80" stroke="#1c1c1c" stroke-width="1.1"/>
<line x1="443.16" y1="220.60" x2="443.16" y2="227.60" stroke="#1c1c1c" stroke-width="1.1"/>
<line x1="446.04" y1="220.60" x2="446.04" y2="224.80" stroke="#1c1c1c" stroke-width="1.1"/>
<line x1="448.48" y1="220.60" x2="448.48" y2="224.80" stroke="#1c1c1c" stroke-width="1.1"/>
<line x1="450.58" y1="220.60" x2="450.58" y2="224.80" stroke="#1c1c1c" stroke-width="1.1"/>
<line x1="452.44" y1="220.60" x2="452.44" y2="224.80" stroke="#1c1c1c" stroke-width="1.1"/>
<line x1="453.01" y1="220.60" x2="453.01" y2="230.10" stroke="#1c1c1c" stroke-width="1.4"/>
<line x1="463.96" y1="220.60" x2="463.96" y2="224.80" stroke="#1c1c1c" stroke-width="1.1"/>
<line x1="312.25" y1="220.60" x2="312.25" y2="230.10" stroke="#1c1c1c" stroke-width="1.4"/>
<line x1="327.65" y1="220.60" x2="327.65" y2="230.10" stroke="#1c1c1c" stroke-width="2.2"/>
<line x1="319.65" y1="220.60" x2="319.65" y2="227.60" stroke="#1c1c1c" stroke-width="1.1"/>
<line x1="336.85" y1="220.60" x2="336.85" y2="227.60" stroke="#1c1c1c" stroke-width="1.1"/>
<rect x="312.75" y="220.60" width="4.80" height="4.2" fill="#1c1c1c"/>
<rect x="321.05" y="220.60" width="4.10" height="4.2" fill="#1c1c1c"/>
<rect x="331.25" y="220.60" width="3.50" height="4.2" fill="#1c1c1c"/>
<rect x="338.85" y="220.60" width="4.90" height="4.2" fill="#1c1c1c"/>
<text x="270.53" y="91.21" font-size="16.71" font-weight="normal" fill="#1e1e1e">10</text>
<text x="288.67" y="80.21" font-size="16.67" font-weight="normal" fill="#1e1e1e">5</text>
<text x="270.53" y="127.50" font-size="16.71" font-weight="normal" fill="#1e1e1e">10</text>
<text x="288.50" y="116.50" font-size="16.67" font-weight="normal" fill="#1e1e1e">4</text>
<text x="270.53" y="162.85" font-size="16.71" font-weight="normal" fill="#1e1e1e">10</text>
<text x="288.79" y="151.85" font-size="16.43" font-weight="normal" fill="#1e1e1e">3</text>
<text x="270.53" y="201.18" font-size="16.71" font-weight="normal" fill="#1e1e1e">10</text>
<text x="288.95" y="190.18" font-size="16.43" font-weight="normal" fill="#1e1e1e">2</text>
<text x="281.21" y="214.20" font-size="16.43" font-weight="normal" fill="#1e1e1e">0</text>
<text x="313.81" y="260.00" font-size="15.86" font-weight="normal" fill="#1e1e1e">0</text>
<text x="334.80" y="260.00" font-size="15.86" font-weight="normal" fill="#1e1e1e">10</text>
<text x="353.07" y="249.00" font-size="15.43" font-weight="normal" fill="#1e1e1e">2</text>
<text x="373.20" y="260.00" font-size="15.86" font-weight="normal" fill="#1e1e1e">10</text>
<text x="391.63" y="249.00" font-size="15.43" font-weight="normal" fill="#1e1e1e">3</text>
<text x="408.62" y="260.00" font-size="15.86" font-weight="normal" fill="#1e1e1e">10</text>
<text x="427.36" y="249.00" font-size="15.65" font-weight="normal" fill="#1e1e1e">4</text>
<text x="443.89" y="260.00" font-size="15.86" font-weight="normal" fill="#1e1e1e">10</text>
<text x="462.31" y="249.00" font-size="15.65" font-weight="normal" fill="#1e1e1e">5</text>
<text x="320.26" y="93.20" font-size="25.43" font-weight="normal" fill="#000">81</text>
<text x="430.79" y="93.20" font-size="25.43" font-weight="normal" fill="#000">18</text>
<defs><path id="A13_0" d="M593.5 181l-16.5 0.4l-48 0l-0.4-0.4l-0.1-15l0.5-23.8l5.5-0.7l13 0.1l13.5-1.4l12-0.3l3-0.9l8.5-4.6l5-1l3 0.2l3 0.9l9 5.2l8-0.1l4.5 1.3l2.4 2.1l1.3 2.5l0.1 2.5l-1 2.5l-2.8 2.6l-6.3 2.4l-1.4 1l-1.3 2.5l-2.2 8l-2.5 5l-4.3 5.1l-5.5 3.9zM645.5 166.6l-5.5-0.1l-2.5-0.9l-2.2-1.6l-1.4-2l-0.5-2l0.5-2l1.4-2l3.2-2l4.5-0.8l4.5 0.8l3.2 2l1.8 3l0 2l-0.6 1.5l-2.4 2.5l-4 1.6z"/><path id="A13_1" d="M586.5 181l-57.5 0.4l-0.4-0.4l-0.1-15l0.5-20.8l6-0.9l12.5 0.3l14.5-1.7l12-0.1l3.5-1.2l7-4l5-1.1l3 0.3l3 1l9 6.1l2 0.2l5-1l3.2 0.9l1.6 2l-0.2 2.5l-2.1 2l-5.5 1.2l-1.5 1.1l-1 2.4l-2.2 9.8l-1.6 3.5l-2 3l-2.2 2.6l-3 2.4l-8.5 4.5zM645 162l-2 0.5l-2-0.5l-1.4-1.5l0.3-1.5l2.1-1.3l3 0.3l1.1 1l0.3 1l-0.3 1l-1.1 1z"/><path id="A13_2" d="M581 181l-52 0.3l-0.4-15.3l0.4-18.4l6.5-1l13.5 0.3l13.5-1.8l12 0.1l3.5-1.1l7-4.1l3.5-0.9l4 0.2l3.5 1.6l4.6 4.1l2.6 4.5l0.4 3l-0.2 5l-1.6 7l-2.5 4.5l-3.8 4.1l-5 3.3l-9.5 4.6z"/><path id="A13_3" d="M576.5 181l-47.5 0.1l-0.4-15.1l0.4-16.5l6.5-1.1l13.5 0.3l14-1.9l12.5 0.2l3-0.9l6.5-3.9l4-1.1l3.5 0.3l3 1.4l3.7 3.7l2.2 5l0.2 7l-1.8 6.5l-2.7 4l-3.6 3.3l-12.5 6.8l-4.5 1.9z"/><path id="A13_4" d="M570.5 181l-13.6 0l-6.9-0.7l-6.3 0.7l-14.7-0.3l-0.4-14.7l0.4-14.7l6.5-1.2l13.5 0.4l14-2.1l13 0.5l3-0.9l6.5-4l3.5-1l3 0.3l3 1.5l3.3 3.7l1.8 5.5l-0.4 6.5l-2.4 5.5l-2.8 3.2l-3.5 2.4l-13.5 7.2l-7 2.2z"/><path id="A13_5" d="M567 180l-5.5 0l-12-1.4l-14 1.6l-6.5-1.3l-0.3-12.9l0.3-13l3.5-1l3.5-0.3l13 0.6l14.5-2.4l13 0.9l3-0.9l5.5-3.6l2.5-1l3.5-0.2l3 1.3l3.1 3.6l1.5 5l-0.5 5.5l-2.6 5.1l-4 3.5l-14.5 8.1l-5 1.9l-5 0.9z"/><path id="A13_6" d="M566.5 178.5l-5.5-0.1l-11.5-1.6l-14 1.8l-3.5-0.4l-3-1.1l0-22.3l3.5-1.1l3.5-0.4l13 0.7l14.5-2.6l14 1.3l3-1l4.5-3.1l2.5-1.2l3-0.3l2.5 1l2.6 2.9l1.3 4.5l-0.6 5l-2.3 4.1l-3 2.6l-6.5 3.3l-8.5 5.4l-4.5 1.8l-5 0.8z"/><path id="A13_7" d="M568 177.1l-6.5 0l-12-1.9l-10.5 1.8l-3.5 0.2l-3.5-0.5l-3-1.2l0-19l3.5-1.4l3.5-0.4l10 1l3.5-0.1l9.5-2.3l4.5-0.6l4.5 0.2l8 1.6l2.5 0l2.5-0.8l6.5-4.3l2.5-0.3l2 0.7l2.5 2.7l0.9 3.5l-0.6 4l-1.8 3.1l-3 2.5l-6.5 3.2l-8 5.7l-3.5 1.6l-4 1z"/><path id="A13_8" d="M568.5 175.6l-7 0.2l-12-2.4l-12.5 2.3l-3.5-0.3l-3-0.9l-1.5-0.9l0-15.3l3-1.4l4-0.7l10 1.2l3.5 0l9.5-2.6l5-0.7l5 0.4l8 2.1l2.5 0.3l2.5-0.9l5-3.9l2-0.5l1.5 0.2l2 1.7l0.8 2.5l-0.3 3l-1.5 2.6l-2.5 1.9l-6 2.6l-8 6.9l-3 1.5l-3.5 1.1z"/><path id="A13_9" d="M567 174.5l-6.5-0.1l-11-2.8l-3 0.3l-8.5 2.2l-3 0l-3-0.6l-3-1.8l0-11.4l3-1.8l4-0.8l3.5 0.2l7 1.4l3-0.1l9-2.9l4.5-0.9l4.5 0.2l5 1.2l7.1 3.7l1.1 1.5l-0.2 2l-2.2 4l-3 3l-3.8 2.3l-4.5 1.2zM588 160.1l-2.2-0.1l-0.4-1.5l1.6-2.5l2-0.7l1 0.7l0.3 1.5l-0.8 1.7l-1.5 0.9z"/><path id="A13_10" d="M565.5 173.5l-5.5-0.3l-8-3.3l-3-0.6l-2.5 0.4l-7.5 2.7l-3 0.3l-2.5-0.4l-2.7-1.3l-1.8-1.9l0-6.2l2.5-2.4l3.5-1.2l4 0.1l7 2l2.5 0.3l2-0.5l6.5-2.9l4-1.3l4.5-0.4l4.5 0.8l3.8 1.6l2.7 2l1.2 2l-0.1 2.5l-1.7 3l-2.9 2.5l-3.5 1.7l-4 0.8z"/><path id="A13_11" d="M565 172.5l-4-0.1l-4.2-1.9l-4.8-4l-0.4-1l0.4-1.5l1.9-2l2.6-1.8l5.5-2l6 0l5.5 2.2l1.8 1.6l0.7 1.5l0 2l-1 2l-4 3.1l-6 1.9zM539 170.6l-4.5 0.2l-3.2-1.8l-0.9-1.5l-0.2-2l0.4-1.5l1.2-1.5l2.7-1.4l3.5-0.1l3.4 1l3 2l0.8 1.5l-0.5 1.5l-2.2 2l-3.5 1.6z"/><path id="A13_12" d="M564.5 171.6l-4-0.4l-3.2-2.2l-1.5-2l-0.5-1.5l0.3-1.5l1-1.5l3.4-2.2l4.5-1l5 0.6l4 2l1.3 2.6l-0.3 1.5l-1 1.4l-3.5 2.3l-5.5 1.9zM537.5 168.6l-2.5-0.1l-1.6-1l-0.5-2l1-1.5l1.6-0.8l1.5 0l2.9 1.3l0.6 1l-0.4 1.5l-2.6 1.6z"/><path id="A13_13" d="M564 170.5l-3-0.3l-2.3-2.2l-0.5-3l1.6-2.5l3.2-1.4l3.5-0.4l4 0.7l2.4 1.6l0.5 2l-1.2 2l-2.2 1.3l-6 2.2z"/><path id="A13_14" d="M564.5 169l-2.5 0.2l-1.2-1.2l0-2.5l1.5-2l2.3-1l2.9-0.4l2.5 0.3l1.8 1.1l0.4 1.5l-1.1 1.5l-6.6 2.5z"/><clipPath id="cA13"><rect x="528" y="66.2" width="54" height="156.60000000000002"/></clipPath></defs><g clip-path="url(#cA13)"><use href="#A13_3" fill="#969696"/><use href="#A13_4" fill="#fff"/><use href="#A13_5" fill="#969696"/><use href="#A13_6" fill="#fff"/><use href="#A13_7" fill="#969696"/><use href="#A13_8" fill="#fff"/><use href="#A13_9" fill="#969696"/><use href="#A13_10" fill="#fff"/><use href="#A13_11" fill="#969696"/><use href="#A13_12" fill="#fff"/><use href="#A13_13" fill="#969696"/><use href="#A13_14" fill="#fff"/></g><g fill="none" stroke-width="0.75"><use href="#A13_0" stroke="#7a7a7a"/><use href="#A13_1" stroke="#7a7a7a"/><use href="#A13_2" stroke="#7a7a7a"/><use href="#A13_3" stroke="#565656"/><use href="#A13_4" stroke="#565656"/><use href="#A13_5" stroke="#565656"/><use href="#A13_6" stroke="#565656"/><use href="#A13_7" stroke="#565656"/><use href="#A13_8" stroke="#565656"/><use href="#A13_9" stroke="#565656"/><use href="#A13_10" stroke="#565656"/><use href="#A13_11" stroke="#565656"/><use href="#A13_12" stroke="#565656"/><use href="#A13_13" stroke="#565656"/><use href="#A13_14" stroke="#565656"/></g>
<rect x="528.00" y="66.20" width="157.00" height="156.60" fill="none" stroke="#222" stroke-width="1.2"/>
<line x1="605.40" y1="66.20" x2="605.40" y2="224.80" stroke="#1a1a1a" stroke-width="2.6"/>
<line x1="528.00" y1="183.40" x2="685.00" y2="183.40" stroke="#1a1a1a" stroke-width="2.6"/>
<line x1="518.75" y1="191.48" x2="528.00" y2="191.48" stroke="#1c1c1c" stroke-width="1.4"/>
<line x1="523.80" y1="180.48" x2="528.00" y2="180.48" stroke="#1c1c1c" stroke-width="1.1"/>
<line x1="523.80" y1="174.05" x2="528.00" y2="174.05" stroke="#1c1c1c" stroke-width="1.1"/>
<line x1="523.80" y1="169.48" x2="528.00" y2="169.48" stroke="#1c1c1c" stroke-width="1.1"/>
<line x1="521.00" y1="165.94" x2="528.00" y2="165.94" stroke="#1c1c1c" stroke-width="1.1"/>
<line x1="523.80" y1="163.05" x2="528.00" y2="163.05" stroke="#1c1c1c" stroke-width="1.1"/>
<line x1="523.80" y1="160.60" x2="528.00" y2="160.60" stroke="#1c1c1c" stroke-width="1.1"/>
<line x1="523.80" y1="158.48" x2="528.00" y2="158.48" stroke="#1c1c1c" stroke-width="1.1"/>
<line x1="523.80" y1="156.61" x2="528.00" y2="156.61" stroke="#1c1c1c" stroke-width="1.1"/>
<line x1="518.75" y1="153.27" x2="528.00" y2="153.27" stroke="#1c1c1c" stroke-width="1.4"/>
<line x1="523.80" y1="142.27" x2="528.00" y2="142.27" stroke="#1c1c1c" stroke-width="1.1"/>
<line x1="523.80" y1="135.84" x2="528.00" y2="135.84" stroke="#1c1c1c" stroke-width="1.1"/>
<line x1="523.80" y1="131.27" x2="528.00" y2="131.27" stroke="#1c1c1c" stroke-width="1.1"/>
<line x1="521.00" y1="127.73" x2="528.00" y2="127.73" stroke="#1c1c1c" stroke-width="1.1"/>
<line x1="523.80" y1="124.84" x2="528.00" y2="124.84" stroke="#1c1c1c" stroke-width="1.1"/>
<line x1="523.80" y1="122.39" x2="528.00" y2="122.39" stroke="#1c1c1c" stroke-width="1.1"/>
<line x1="523.80" y1="120.27" x2="528.00" y2="120.27" stroke="#1c1c1c" stroke-width="1.1"/>
<line x1="523.80" y1="118.40" x2="528.00" y2="118.40" stroke="#1c1c1c" stroke-width="1.1"/>
<line x1="518.75" y1="118.03" x2="528.00" y2="118.03" stroke="#1c1c1c" stroke-width="1.4"/>
<line x1="523.80" y1="107.03" x2="528.00" y2="107.03" stroke="#1c1c1c" stroke-width="1.1"/>
<line x1="523.80" y1="100.60" x2="528.00" y2="100.60" stroke="#1c1c1c" stroke-width="1.1"/>
<line x1="523.80" y1="96.04" x2="528.00" y2="96.04" stroke="#1c1c1c" stroke-width="1.1"/>
<line x1="521.00" y1="92.49" x2="528.00" y2="92.49" stroke="#1c1c1c" stroke-width="1.1"/>
<line x1="523.80" y1="89.60" x2="528.00" y2="89.60" stroke="#1c1c1c" stroke-width="1.1"/>
<line x1="523.80" y1="87.15" x2="528.00" y2="87.15" stroke="#1c1c1c" stroke-width="1.1"/>
<line x1="523.80" y1="85.04" x2="528.00" y2="85.04" stroke="#1c1c1c" stroke-width="1.1"/>
<line x1="523.80" y1="83.17" x2="528.00" y2="83.17" stroke="#1c1c1c" stroke-width="1.1"/>
<line x1="518.75" y1="81.86" x2="528.00" y2="81.86" stroke="#1c1c1c" stroke-width="1.4"/>
<line x1="523.80" y1="70.86" x2="528.00" y2="70.86" stroke="#1c1c1c" stroke-width="1.1"/>
<line x1="518.75" y1="207.45" x2="528.00" y2="207.45" stroke="#1c1c1c" stroke-width="1.4"/>
<line x1="518.75" y1="222.80" x2="528.00" y2="222.80" stroke="#1c1c1c" stroke-width="1.4"/>
<line x1="521.00" y1="198.73" x2="528.00" y2="198.73" stroke="#1c1c1c" stroke-width="1.1"/>
<line x1="521.00" y1="214.70" x2="528.00" y2="214.70" stroke="#1c1c1c" stroke-width="1.1"/>
<rect x="523.80" y="191.78" width="4.2" height="4.70" fill="#1c1c1c"/>
<rect x="523.80" y="202.48" width="4.2" height="4.50" fill="#1c1c1c"/>
<rect x="523.80" y="208.45" width="4.2" height="5.00" fill="#1c1c1c"/>
<rect x="523.80" y="219.30" width="4.2" height="3.20" fill="#1c1c1c"/>
<line x1="559.71" y1="222.80" x2="559.71" y2="232.30" stroke="#1c1c1c" stroke-width="1.4"/>
<line x1="570.68" y1="222.80" x2="570.68" y2="227.00" stroke="#1c1c1c" stroke-width="1.1"/>
<line x1="577.09" y1="222.80" x2="577.09" y2="227.00" stroke="#1c1c1c" stroke-width="1.1"/>
<line x1="581.64" y1="222.80" x2="581.64" y2="227.00" stroke="#1c1c1c" stroke-width="1.1"/>
<line x1="585.17" y1="222.80" x2="585.17" y2="229.80" stroke="#1c1c1c" stroke-width="1.1"/>
<line x1="588.06" y1="222.80" x2="588.06" y2="227.00" stroke="#1c1c1c" stroke-width="1.1"/>
<line x1="590.50" y1="222.80" x2="590.50" y2="227.00" stroke="#1c1c1c" stroke-width="1.1"/>
<line x1="592.61" y1="222.80" x2="592.61" y2="227.00" stroke="#1c1c1c" stroke-width="1.1"/>
<line x1="594.47" y1="222.80" x2="594.47" y2="227.00" stroke="#1c1c1c" stroke-width="1.1"/>
<line x1="598.18" y1="222.80" x2="598.18" y2="232.30" stroke="#1c1c1c" stroke-width="1.4"/>
<line x1="609.14" y1="222.80" x2="609.14" y2="227.00" stroke="#1c1c1c" stroke-width="1.1"/>
<line x1="615.56" y1="222.80" x2="615.56" y2="227.00" stroke="#1c1c1c" stroke-width="1.1"/>
<line x1="620.11" y1="222.80" x2="620.11" y2="227.00" stroke="#1c1c1c" stroke-width="1.1"/>
<line x1="623.64" y1="222.80" x2="623.64" y2="229.80" stroke="#1c1c1c" stroke-width="1.1"/>
<line x1="626.52" y1="222.80" x2="626.52" y2="227.00" stroke="#1c1c1c" stroke-width="1.1"/>
<line x1="628.96" y1="222.80" x2="628.96" y2="227.00" stroke="#1c1c1c" stroke-width="1.1"/>
<line x1="631.07" y1="222.80" x2="631.07" y2="227.00" stroke="#1c1c1c" stroke-width="1.1"/>
<line x1="632.94" y1="222.80" x2="632.94" y2="227.00" stroke="#1c1c1c" stroke-width="1.1"/>
<line x1="633.66" y1="222.80" x2="633.66" y2="232.30" stroke="#1c1c1c" stroke-width="1.4"/>
<line x1="644.63" y1="222.80" x2="644.63" y2="227.00" stroke="#1c1c1c" stroke-width="1.1"/>
<line x1="651.04" y1="222.80" x2="651.04" y2="227.00" stroke="#1c1c1c" stroke-width="1.1"/>
<line x1="655.59" y1="222.80" x2="655.59" y2="227.00" stroke="#1c1c1c" stroke-width="1.1"/>
<line x1="659.12" y1="222.80" x2="659.12" y2="229.80" stroke="#1c1c1c" stroke-width="1.1"/>
<line x1="662.00" y1="222.80" x2="662.00" y2="227.00" stroke="#1c1c1c" stroke-width="1.1"/>
<line x1="664.44" y1="222.80" x2="664.44" y2="227.00" stroke="#1c1c1c" stroke-width="1.1"/>
<line x1="666.56" y1="222.80" x2="666.56" y2="227.00" stroke="#1c1c1c" stroke-width="1.1"/>
<line x1="668.42" y1="222.80" x2="668.42" y2="227.00" stroke="#1c1c1c" stroke-width="1.1"/>
<line x1="668.99" y1="222.80" x2="668.99" y2="232.30" stroke="#1c1c1c" stroke-width="1.4"/>
<line x1="679.95" y1="222.80" x2="679.95" y2="227.00" stroke="#1c1c1c" stroke-width="1.1"/>
<line x1="528.00" y1="222.80" x2="528.00" y2="232.30" stroke="#1c1c1c" stroke-width="1.4"/>
<line x1="543.40" y1="222.80" x2="543.40" y2="232.30" stroke="#1c1c1c" stroke-width="2.2"/>
<line x1="535.40" y1="222.80" x2="535.40" y2="229.80" stroke="#1c1c1c" stroke-width="1.1"/>
<line x1="552.60" y1="222.80" x2="552.60" y2="229.80" stroke="#1c1c1c" stroke-width="1.1"/>
<rect x="528.50" y="222.80" width="4.80" height="4.2" fill="#1c1c1c"/>
<rect x="536.80" y="222.80" width="4.10" height="4.2" fill="#1c1c1c"/>
<rect x="547.00" y="222.80" width="3.50" height="4.2" fill="#1c1c1c"/>
<rect x="554.60" y="222.80" width="4.90" height="4.2" fill="#1c1c1c"/>
<text x="486.28" y="93.86" font-size="16.71" font-weight="normal" fill="#1e1e1e">10</text>
<text x="504.42" y="82.86" font-size="16.67" font-weight="normal" fill="#1e1e1e">5</text>
<text x="486.28" y="130.03" font-size="16.71" font-weight="normal" fill="#1e1e1e">10</text>
<text x="504.25" y="119.03" font-size="16.67" font-weight="normal" fill="#1e1e1e">4</text>
<text x="486.28" y="165.27" font-size="16.71" font-weight="normal" fill="#1e1e1e">10</text>
<text x="504.54" y="154.27" font-size="16.43" font-weight="normal" fill="#1e1e1e">3</text>
<text x="486.28" y="203.48" font-size="16.71" font-weight="normal" fill="#1e1e1e">10</text>
<text x="504.70" y="192.48" font-size="16.43" font-weight="normal" fill="#1e1e1e">2</text>
<text x="496.96" y="216.45" font-size="16.43" font-weight="normal" fill="#1e1e1e">0</text>
<text x="529.56" y="262.20" font-size="15.86" font-weight="normal" fill="#1e1e1e">0</text>
<text x="550.60" y="262.20" font-size="15.86" font-weight="normal" fill="#1e1e1e">10</text>
<text x="568.87" y="251.20" font-size="15.43" font-weight="normal" fill="#1e1e1e">2</text>
<text x="589.06" y="262.20" font-size="15.86" font-weight="normal" fill="#1e1e1e">10</text>
<text x="607.49" y="251.20" font-size="15.43" font-weight="normal" fill="#1e1e1e">3</text>
<text x="624.54" y="262.20" font-size="15.86" font-weight="normal" fill="#1e1e1e">10</text>
<text x="643.28" y="251.20" font-size="15.65" font-weight="normal" fill="#1e1e1e">4</text>
<text x="659.87" y="262.20" font-size="15.86" font-weight="normal" fill="#1e1e1e">10</text>
<text x="678.29" y="251.20" font-size="15.65" font-weight="normal" fill="#1e1e1e">5</text>
<text x="534.86" y="93.20" font-size="25.43" font-weight="normal" fill="#000">93</text>
<text x="654.97" y="93.20" font-size="25.80" font-weight="normal" fill="#000">7</text>
<defs><path id="A21_0" d="M169.5 428.5l-34.5 0.4l-37.9-0.4l-3.6-5.7l-0.3-12.8l0.3-12.8l2.1-3.7l2.9-3.4l3.5-2.7l3.5-1.7l4-0.9l9.6-0.3l11.4-2.1l6-0.2l7 1l7.5 2.5l10.5 4.9l11.5 7.1l13.5 1.6l10.5 2.9l3 1.7l2 1.7l1.7 2.4l1 2.5l0.3 2.5l-0.4 3l-1.1 2.5l-2 2.4l-4.5 2.9l-6.5 2l-6.5 1.3l-10 0.5l-4.5 0.9z"/><path id="A21_1" d="M163.5 428.5l-28.5 0.4l-34.3-0.4l-2.4-2.5l-2.1-3l-1.6-3.5l-1.1-3.8l0-11.4l1.7-5.3l1.9-3.5l2.9-3.4l3-2.3l3.5-1.5l4.5-0.8l9.5 0l9.5-1.9l6.5-0.4l7 1.1l9.5 3.5l8.5 3.9l8 5.3l2.5 1.1l13 1.2l11 3l4.4 3.2l2 4l0.2 2l-0.6 2.5l-1.1 2l-1.9 2l-4 2.1l-6 1.7l-7 1.2l-11 0.4l-7.5 3.1z"/><path id="A21_2" d="M158.5 428.5l-54.1 0l-2.9-2l-2.7-3l-2-3.5l-1.4-4l-0.7-4l0-4l0.7-4l1.4-4l2-3.5l2.2-2.6l3-2.2l3-1.3l4.5-0.7l9 0.4l10.5-2.2l6-0.2l7.5 1.4l12 4.6l5 2.4l7 4.8l2.5 1.2l13.5 1.1l10 2.9l4 2.8l1.1 1.6l0.7 2l-0.1 2l-0.7 1.7l-3 3l-4 1.6l-8.5 2.1l-14.5 0.6l-11 5z"/><path id="A21_3" d="M150.5 428.5l-26.1 0l-4.9-0.9l-9 0.9l-3-0.5l-3-1.3l-2.5-1.8l-2.5-2.9l-1.9-3.5l-1.1-3.5l-0.5-4l0.2-4l0.9-4l1.5-3.5l3.9-4.8l2.5-1.7l3-1.1l4-0.4l9 0.5l10.5-2.2l6-0.2l7 1.5l12.5 4.7l4.5 2.3l6.5 4.6l2.5 1.2l13.5 0.8l5.5 1.4l4.4 1.9l3.1 2.5l1.1 2.5l-0.9 3l-2.7 2.2l-6 2l-5.5 1.3l-13.5 0.1l-11 5.2l-8 1.7z"/><path id="A21_4" d="M138.5 428.5l-7.5-0.1l-11-3.3l-7.5 1.6l-3.5-0.1l-4-1.4l-3.5-3l-2.4-3.7l-1.3-4l-0.5-4.5l0.5-4.5l1.3-4l2.4-3.7l3-2.7l3.5-1.5l4-0.5l9 0.8l12.5-2.4l3.5-0.1l4 0.6l17 6l4 2.3l6 4.6l2 0.9l2.5 0.4l9-0.3l6.5 1.7l4.7 2.4l1.7 1.5l0.8 1.5l-0.2 1.6l-1.5 1.6l-8 3.1l-5.5 0.9l-10.5-0.6l-2.5 0.9l-6.5 3.8l-4 1.5l-18 2.7z"/><path id="A21_5" d="M137.5 427l-7.5-0.6l-8-3.3l-2-0.4l-2 0.3l-5 1.9l-4 0.1l-3.5-1.2l-3-2.5l-2.2-3.3l-1.4-4l-0.4-4l0.4-4l1.4-4l2.2-3.3l3-2.5l3-1.2l4-0.3l8.5 1.1l13.5-2.6l6.5 0.5l17 6l3.5 2.1l6 5.1l2 1.2l2.5 0.4l7-0.9l4 0.4l4.9 2l1.9 1.5l0.9 1.5l-0.5 1.5l-1.2 1l-5.5 2.4l-4.5 0.5l-7.5-1.2l-2 0l-2.5 1.1l-6.5 4.3l-4 1.7l-19 2.7z"/><path id="A21_6" d="M141 425l-5 0.5l-4.5-0.5l-11-4.3l-2.5 0.4l-6.5 2.4l-3-0.1l-2.5-1l-2-1.5l-2-2.4l-2.1-5.5l-0.1-5.5l1.9-5.5l3.3-3.8l4-1.8l3.5-0.2l9 1.5l15-3l6.5 1.1l11.5 4l4 1.8l4.4 3.4l4.2 5l1.3 2.5l-0.9 2l-5.1 5l-4.9 2.9l-5 1.2l-11.5 1.4zM181 416.1l-3-0.1l-2.5-0.8l-1.9-1.2l-0.4-1.5l1.6-1.5l2.7-1l3-0.1l2.5 0.6l2 1.5l0.2 1.5l-1.2 1.5l-3 1.1z"/><path id="A21_7" d="M137.5 424l-3.5 0l-3.5-0.7l-7-3.3l-2.5-0.8l-3 0.4l-7 2.6l-2.5-0.2l-2.5-1.1l-3.3-3.4l-1.9-5.5l-0.1-4.5l2-5l2.8-3.1l4-1.8l3.5 0l8.5 1.8l15.5-3.3l6 1.2l11.5 3.9l3.8 1.8l4.1 3.5l2.5 4.5l-0.1 3l-2.4 3.5l-3.4 2.7l-4 1.6l-17.5 2.2z"/><path id="A21_8" d="M138.5 422.5l-3.5 0.1l-3.5-0.5l-8-3.8l-2.5-0.6l-3 0.5l-6.5 2.5l-2 0.1l-2-0.6l-3.3-2.7l-2-4l-0.8-4.5l1.2-4l2.9-4l2-1.3l2-0.7l3.5 0l8.5 2.2l15-3.8l4.5 0.7l15 5.3l4 2.8l2.5 3.8l0.2 3.5l-2.1 3.5l-3.1 2.3l-3.5 1.3l-15.5 1.9z"/><path id="A21_9" d="M139.5 421l-4.5 0.2l-3.5-0.6l-7.5-3.8l-2.5-0.7l-3 0.5l-6.5 2.8l-2 0.1l-2-0.4l-2.5-1.8l-2-3.2l-1.2-4.1l0.4-3l3.3-4.8l2-1.4l2.5-0.6l3 0.3l6 2.3l2 0.3l11.5-3.9l4.5-0.5l16 5l4.2 2.3l2.8 3.5l0.5 3.5l-1.5 2.9l-2.5 2.1l-3 1.2l-14.5 1.8z"/><path id="A21_10" d="M140.5 419.5l-4.5 0.4l-4-0.5l-3-1.3l-5.5-3.4l-2-0.5l-2 0.4l-7 3.4l-3.5 0.1l-2.1-1.1l-1.9-2.2l-1.9-4.3l0-2.5l1.1-2l2.3-2.8l3.5-1.7l4 0.4l5.5 3l2 0.5l2-0.5l5.2-2.9l4.3-1.6l3.5-0.5l3.4 0.6l15.2 5.5l3 2.5l1.2 3l-0.3 2l-0.8 1.5l-3.2 2.4l-3.5 0.9l-11 1.2z"/><path id="A21_11" d="M137.5 418.5l-4-0.1l-3.7-1.4l-4-3l-2.7-3.5l0.1-1.5l2-2.5l2.8-2.5l3-1.7l4-1.1l4 0.4l14 5l2.4 1.4l1.6 2l0.4 2l-0.4 1.5l-1.2 1.5l-1.8 1.1l-3 0.8l-7 0.5l-6.5 1.1zM111.5 417l-2.5-0.2l-2-1.2l-2.5-3.7l-0.8-2.4l0.7-2.5l2.1-2.3l2-1.4l2.5-0.6l3 0.7l2.6 1.6l3 3l0.9 2l-1.1 2l-2.7 2.5l-2.7 1.7l-2.5 0.8z"/><path id="A21_12" d="M138 417l-3.5 0.1l-3.5-1.1l-2.7-2l-1.6-2.5l-0.3-2l1-2.5l2.1-2.1l3-1.7l3-0.7l3.5 0.6l12.9 4.9l1.6 1l1.3 1.5l0.2 1.5l-0.3 1l-2.2 1.7l-3 0.7l-6 0.4l-5.5 1.2zM112 415.6l-2 0.1l-2-0.9l-2.5-2.9l-1.1-2.4l0.3-1.5l1.3-1.6l2.5-1.7l2-0.6l2 0.2l2.3 1.2l1.8 2l0.7 2l-0.1 1.5l-1.1 2l-1.7 1.5l-2.4 1.1z"/><path id="A21_13" d="M137.5 415.6l-2.5 0l-2.5-0.7l-2.2-1.4l-1.3-2l-0.3-2l0.8-2l1.5-1.7l2.5-1.3l3-0.3l3 0.7l9.5 4.6l1.6 1.5l-0.1 1l-1.5 0.8l-11.5 2.8zM112 414.1l-1.5 0.1l-1.5-0.5l-3-2.7l-0.7-2l1.2-1.8l2.5-1.3l2-0.3l2 0.6l1.5 1.3l0.8 2l-0.3 1.9l-1.1 1.6l-1.9 1.1z"/><path id="A21_14" d="M137 414l-3.5-0.5l-2.2-2l-0.4-1.5l0.3-1.5l2.3-2.1l2.5-0.5l2.5 0.4l3.1 1.7l1.8 2l-0.1 1l-1.1 1l-5.2 2zM112 412.1l-2 0.3l-2-1.1l-1.4-1.3l0.1-1.5l2.8-1.2l2.5 0.4l1 1.1l0.3 1.2l-0.3 1.1l-1 1z"/><clipPath id="cA21"><rect x="92.25" y="312.8" width="70.75" height="158.59999999999997"/></clipPath></defs><g clip-path="url(#cA21)"><use href="#A21_3" fill="#969696"/><use href="#A21_4" fill="#fff"/><use href="#A21_5" fill="#969696"/><use href="#A21_6" fill="#fff"/><use href="#A21_7" fill="#969696"/><use href="#A21_8" fill="#fff"/><use href="#A21_9" fill="#969696"/><use href="#A21_10" fill="#fff"/><use href="#A21_11" fill="#969696"/><use href="#A21_12" fill="#fff"/><use href="#A21_13" fill="#969696"/><use href="#A21_14" fill="#fff"/></g><g fill="none" stroke-width="0.75"><use href="#A21_0" stroke="#7a7a7a"/><use href="#A21_1" stroke="#7a7a7a"/><use href="#A21_2" stroke="#7a7a7a"/><use href="#A21_3" stroke="#565656"/><use href="#A21_4" stroke="#565656"/><use href="#A21_5" stroke="#565656"/><use href="#A21_6" stroke="#565656"/><use href="#A21_7" stroke="#565656"/><use href="#A21_8" stroke="#565656"/><use href="#A21_9" stroke="#565656"/><use href="#A21_10" stroke="#565656"/><use href="#A21_11" stroke="#565656"/><use href="#A21_12" stroke="#565656"/><use href="#A21_13" stroke="#565656"/><use href="#A21_14" stroke="#565656"/></g><rect x="111.8" y="381.9" width="1.4" height="1.4" fill="#333"/><rect x="215.3" y="410.3" width="1.4" height="1.4" fill="#333"/><rect x="222.8" y="411.3" width="1.4" height="1.4" fill="#333"/><rect x="205.3" y="414.0" width="1.4" height="1.4" fill="#333"/>
<rect x="92.25" y="312.80" width="159.50" height="158.60" fill="none" stroke="#222" stroke-width="1.2"/>
<line x1="163.20" y1="312.80" x2="163.20" y2="473.40" stroke="#1a1a1a" stroke-width="2.6"/>
<line x1="92.25" y1="436.60" x2="251.75" y2="436.60" stroke="#1a1a1a" stroke-width="2.6"/>
<line x1="83.00" y1="439.68" x2="92.25" y2="439.68" stroke="#1c1c1c" stroke-width="1.4"/>
<line x1="88.05" y1="428.54" x2="92.25" y2="428.54" stroke="#1c1c1c" stroke-width="1.1"/>
<line x1="88.05" y1="422.02" x2="92.25" y2="422.02" stroke="#1c1c1c" stroke-width="1.1"/>
<line x1="88.05" y1="417.40" x2="92.25" y2="417.40" stroke="#1c1c1c" stroke-width="1.1"/>
<line x1="85.25" y1="413.81" x2="92.25" y2="413.81" stroke="#1c1c1c" stroke-width="1.1"/>
<line x1="88.05" y1="410.88" x2="92.25" y2="410.88" stroke="#1c1c1c" stroke-width="1.1"/>
<line x1="88.05" y1="408.41" x2="92.25" y2="408.41" stroke="#1c1c1c" stroke-width="1.1"/>
<line x1="88.05" y1="406.26" x2="92.25" y2="406.26" stroke="#1c1c1c" stroke-width="1.1"/>
<line x1="88.05" y1="404.37" x2="92.25" y2="404.37" stroke="#1c1c1c" stroke-width="1.1"/>
<line x1="83.00" y1="400.98" x2="92.25" y2="400.98" stroke="#1c1c1c" stroke-width="1.4"/>
<line x1="88.05" y1="389.84" x2="92.25" y2="389.84" stroke="#1c1c1c" stroke-width="1.1"/>
<line x1="88.05" y1="383.32" x2="92.25" y2="383.32" stroke="#1c1c1c" stroke-width="1.1"/>
<line x1="88.05" y1="378.70" x2="92.25" y2="378.70" stroke="#1c1c1c" stroke-width="1.1"/>
<line x1="85.25" y1="375.12" x2="92.25" y2="375.12" stroke="#1c1c1c" stroke-width="1.1"/>
<line x1="88.05" y1="372.18" x2="92.25" y2="372.18" stroke="#1c1c1c" stroke-width="1.1"/>
<line x1="88.05" y1="369.71" x2="92.25" y2="369.71" stroke="#1c1c1c" stroke-width="1.1"/>
<line x1="88.05" y1="367.56" x2="92.25" y2="367.56" stroke="#1c1c1c" stroke-width="1.1"/>
<line x1="88.05" y1="365.67" x2="92.25" y2="365.67" stroke="#1c1c1c" stroke-width="1.1"/>
<line x1="83.00" y1="365.30" x2="92.25" y2="365.30" stroke="#1c1c1c" stroke-width="1.4"/>
<line x1="88.05" y1="354.16" x2="92.25" y2="354.16" stroke="#1c1c1c" stroke-width="1.1"/>
<line x1="88.05" y1="347.64" x2="92.25" y2="347.64" stroke="#1c1c1c" stroke-width="1.1"/>
<line x1="88.05" y1="343.02" x2="92.25" y2="343.02" stroke="#1c1c1c" stroke-width="1.1"/>
<line x1="85.25" y1="339.43" x2="92.25" y2="339.43" stroke="#1c1c1c" stroke-width="1.1"/>
<line x1="88.05" y1="336.50" x2="92.25" y2="336.50" stroke="#1c1c1c" stroke-width="1.1"/>
<line x1="88.05" y1="334.02" x2="92.25" y2="334.02" stroke="#1c1c1c" stroke-width="1.1"/>
<line x1="88.05" y1="331.88" x2="92.25" y2="331.88" stroke="#1c1c1c" stroke-width="1.1"/>
<line x1="88.05" y1="329.98" x2="92.25" y2="329.98" stroke="#1c1c1c" stroke-width="1.1"/>
<line x1="83.00" y1="328.66" x2="92.25" y2="328.66" stroke="#1c1c1c" stroke-width="1.4"/>
<line x1="88.05" y1="317.52" x2="92.25" y2="317.52" stroke="#1c1c1c" stroke-width="1.1"/>
<line x1="83.00" y1="455.86" x2="92.25" y2="455.86" stroke="#1c1c1c" stroke-width="1.4"/>
<line x1="83.00" y1="471.40" x2="92.25" y2="471.40" stroke="#1c1c1c" stroke-width="1.4"/>
<line x1="85.25" y1="446.93" x2="92.25" y2="446.93" stroke="#1c1c1c" stroke-width="1.1"/>
<line x1="85.25" y1="463.11" x2="92.25" y2="463.11" stroke="#1c1c1c" stroke-width="1.1"/>
<rect x="88.05" y="439.98" width="4.2" height="4.70" fill="#1c1c1c"/>
<rect x="88.05" y="450.68" width="4.2" height="4.50" fill="#1c1c1c"/>
<rect x="88.05" y="456.86" width="4.2" height="5.00" fill="#1c1c1c"/>
<rect x="88.05" y="467.90" width="4.2" height="3.20" fill="#1c1c1c"/>
<line x1="124.47" y1="471.40" x2="124.47" y2="480.90" stroke="#1c1c1c" stroke-width="1.4"/>
<line x1="135.61" y1="471.40" x2="135.61" y2="475.60" stroke="#1c1c1c" stroke-width="1.1"/>
<line x1="142.12" y1="471.40" x2="142.12" y2="475.60" stroke="#1c1c1c" stroke-width="1.1"/>
<line x1="146.75" y1="471.40" x2="146.75" y2="475.60" stroke="#1c1c1c" stroke-width="1.1"/>
<line x1="150.33" y1="471.40" x2="150.33" y2="478.40" stroke="#1c1c1c" stroke-width="1.1"/>
<line x1="153.26" y1="471.40" x2="153.26" y2="475.60" stroke="#1c1c1c" stroke-width="1.1"/>
<line x1="155.74" y1="471.40" x2="155.74" y2="475.60" stroke="#1c1c1c" stroke-width="1.1"/>
<line x1="157.89" y1="471.40" x2="157.89" y2="475.60" stroke="#1c1c1c" stroke-width="1.1"/>
<line x1="159.78" y1="471.40" x2="159.78" y2="475.60" stroke="#1c1c1c" stroke-width="1.1"/>
<line x1="163.55" y1="471.40" x2="163.55" y2="480.90" stroke="#1c1c1c" stroke-width="1.4"/>
<line x1="174.69" y1="471.40" x2="174.69" y2="475.60" stroke="#1c1c1c" stroke-width="1.1"/>
<line x1="181.20" y1="471.40" x2="181.20" y2="475.60" stroke="#1c1c1c" stroke-width="1.1"/>
<line x1="185.83" y1="471.40" x2="185.83" y2="475.60" stroke="#1c1c1c" stroke-width="1.1"/>
<line x1="189.41" y1="471.40" x2="189.41" y2="478.40" stroke="#1c1c1c" stroke-width="1.1"/>
<line x1="192.34" y1="471.40" x2="192.34" y2="475.60" stroke="#1c1c1c" stroke-width="1.1"/>
<line x1="194.82" y1="471.40" x2="194.82" y2="475.60" stroke="#1c1c1c" stroke-width="1.1"/>
<line x1="196.96" y1="471.40" x2="196.96" y2="475.60" stroke="#1c1c1c" stroke-width="1.1"/>
<line x1="198.86" y1="471.40" x2="198.86" y2="475.60" stroke="#1c1c1c" stroke-width="1.1"/>
<line x1="199.59" y1="471.40" x2="199.59" y2="480.90" stroke="#1c1c1c" stroke-width="1.4"/>
<line x1="210.73" y1="471.40" x2="210.73" y2="475.60" stroke="#1c1c1c" stroke-width="1.1"/>
<line x1="217.25" y1="471.40" x2="217.25" y2="475.60" stroke="#1c1c1c" stroke-width="1.1"/>
<line x1="221.87" y1="471.40" x2="221.87" y2="475.60" stroke="#1c1c1c" stroke-width="1.1"/>
<line x1="225.46" y1="471.40" x2="225.46" y2="478.40" stroke="#1c1c1c" stroke-width="1.1"/>
<line x1="228.39" y1="471.40" x2="228.39" y2="475.60" stroke="#1c1c1c" stroke-width="1.1"/>
<line x1="230.87" y1="471.40" x2="230.87" y2="475.60" stroke="#1c1c1c" stroke-width="1.1"/>
<line x1="233.01" y1="471.40" x2="233.01" y2="475.60" stroke="#1c1c1c" stroke-width="1.1"/>
<line x1="234.90" y1="471.40" x2="234.90" y2="475.60" stroke="#1c1c1c" stroke-width="1.1"/>
<line x1="235.48" y1="471.40" x2="235.48" y2="480.90" stroke="#1c1c1c" stroke-width="1.4"/>
<line x1="246.62" y1="471.40" x2="246.62" y2="475.60" stroke="#1c1c1c" stroke-width="1.1"/>
<line x1="92.25" y1="471.40" x2="92.25" y2="480.90" stroke="#1c1c1c" stroke-width="1.4"/>
<line x1="107.65" y1="471.40" x2="107.65" y2="480.90" stroke="#1c1c1c" stroke-width="2.2"/>
<line x1="99.65" y1="471.40" x2="99.65" y2="478.40" stroke="#1c1c1c" stroke-width="1.1"/>
<line x1="116.85" y1="471.40" x2="116.85" y2="478.40" stroke="#1c1c1c" stroke-width="1.1"/>
<rect x="92.75" y="471.40" width="4.80" height="4.2" fill="#1c1c1c"/>
<rect x="101.05" y="471.40" width="4.10" height="4.2" fill="#1c1c1c"/>
<rect x="111.25" y="471.40" width="3.50" height="4.2" fill="#1c1c1c"/>
<rect x="118.85" y="471.40" width="4.90" height="4.2" fill="#1c1c1c"/>
<text x="50.53" y="340.66" font-size="16.71" font-weight="normal" fill="#1e1e1e">10</text>
<text x="68.67" y="329.66" font-size="16.67" font-weight="normal" fill="#1e1e1e">5</text>
<text x="50.53" y="377.30" font-size="16.71" font-weight="normal" fill="#1e1e1e">10</text>
<text x="68.50" y="366.30" font-size="16.67" font-weight="normal" fill="#1e1e1e">4</text>
<text x="50.53" y="412.98" font-size="16.71" font-weight="normal" fill="#1e1e1e">10</text>
<text x="68.79" y="401.98" font-size="16.43" font-weight="normal" fill="#1e1e1e">3</text>
<text x="50.53" y="451.68" font-size="16.71" font-weight="normal" fill="#1e1e1e">10</text>
<text x="68.95" y="440.68" font-size="16.43" font-weight="normal" fill="#1e1e1e">2</text>
<text x="61.21" y="464.86" font-size="16.43" font-weight="normal" fill="#1e1e1e">0</text>
<text x="93.81" y="510.80" font-size="15.86" font-weight="normal" fill="#1e1e1e">0</text>
<text x="115.35" y="510.80" font-size="15.86" font-weight="normal" fill="#1e1e1e">10</text>
<text x="133.63" y="499.80" font-size="15.43" font-weight="normal" fill="#1e1e1e">2</text>
<text x="154.43" y="510.80" font-size="15.86" font-weight="normal" fill="#1e1e1e">10</text>
<text x="172.86" y="499.80" font-size="15.43" font-weight="normal" fill="#1e1e1e">3</text>
<text x="190.48" y="510.80" font-size="15.86" font-weight="normal" fill="#1e1e1e">10</text>
<text x="209.21" y="499.80" font-size="15.65" font-weight="normal" fill="#1e1e1e">4</text>
<text x="226.36" y="510.80" font-size="15.86" font-weight="normal" fill="#1e1e1e">10</text>
<text x="244.78" y="499.80" font-size="15.65" font-weight="normal" fill="#1e1e1e">5</text>
<text x="100.27" y="340.50" font-size="25.14" font-weight="normal" fill="#000">86</text>
<text x="211.02" y="341.80" font-size="25.07" font-weight="normal" fill="#000">14</text>
<defs><path id="A22_0" d="M378.5 430l-32.5 0.4l-25.1-0.4l-4.9-3.5l-4-4.8l-0.3-11.7l0.3-11.6l2.5-3.2l3-2.7l3.5-2.1l4-1.6l8.5-1.4l14.5-0.3l5.5 0.8l6.5 2l16.5 6.9l10 5.2l3 0.4l10-0.6l6.5 0.4l6.5 1.2l6.5 2.3l3 1.6l2.7 2.2l1.8 2.5l0.8 2.5l-0.1 3l-1 2.5l-1.7 2.2l-2.5 1.9l-4.5 2l-6 1.2l-11 0.9l-14-0.8l-3 0.6l-5 2z"/><path id="A22_1" d="M372 430l-41 0.1l-3.9-0.1l-3.1-1.3l-3.5-1.9l-3.4-2.8l-2.5-3l-1.9-3.5l-0.7-1.8l0-10.2l1.2-4l1.8-3l2.9-3l3.1-2.2l3.5-1.7l7.5-1.5l14.5-0.3l6.5 0.8l7.5 2.1l15.5 6.5l7.3 4.3l2.6 1l3.1 0.2l10-0.8l5.5 0.2l6.5 1.1l6.5 2.3l4.9 3.5l1.4 2l0.7 2l-0.1 2.5l-0.8 2l-1.7 2l-2.4 1.7l-5.5 1.7l-11 1.2l-5.5 0l-12.5-1.1l-13 5z"/><path id="A22_2" d="M359 430l-24.5 0l-6.5-1.8l-4.5-2l-3.5-2.3l-2.9-2.9l-2.4-4l-1.3-4.5l-0.1-4.5l1-4l2.2-4l3-3.2l4-2.6l4.5-1.5l6-0.7l10-0.2l5.5 0.4l6 1.2l5 1.4l14 5.8l10.5 6l3 0.2l8-1.1l5.5-0.1l5.5 0.6l5.5 1.4l6.5 3.1l2 2l1.1 2.3l0 2.5l-1.4 2.5l-2.2 1.8l-3.5 1.3l-15 1.4l-15.5-1.7l-12.5 5.3l-13 1.9z"/><path id="A22_3" d="M350 430l-9-0.3l-13.5-3.4l-3.5-1.6l-3-2l-4-4.7l-1.5-3.5l-0.7-4l0.4-4l1.3-3.5l2-3l3-2.8l3.5-1.9l4-1.2l5.5-0.6l10.5 0l11.5 1.8l4 1.2l14 5.7l10 6.4l3 0.2l11-1.8l8 0.6l6 1.6l4 1.8l2.5 2l1.3 2.5l-0.2 2l-1.2 2l-1.9 1.4l-3 1l-15 1.1l-14.5-2.2l-2.5 0.7l-6.5 3.7l-4 1.5l-21.5 3.3z"/><path id="A22_4" d="M350 428.5l-4 0.2l-4.5-0.5l-13-3.1l-6-3.1l-4.1-4.5l-1.4-3l-0.6-3.5l0.2-3.5l1.1-3.5l1.9-3l2.9-2.6l3-1.7l4-1.2l5-0.5l10.5 0l10.5 1.7l4 1.1l14.5 5.8l3.5 2.2l5 4.4l2 1l2.5 0l9-2.5l7.5-0.1l5 1.1l5.5 1.9l2.9 1.9l1.2 2l-0.1 1.9l-1 1.4l-1.5 1l-2.5 0.7l-10.5 1l-4.5 0l-4.5-0.7l-7-2.4l-2-0.2l-2.5 1l-6.5 4.4l-4 1.6l-21.5 3.3z"/><path id="A22_5" d="M351 427l-6.5 0.2l-10.5-2l-6.5-2l-4.6-2.7l-3.4-4l-1.6-5l0.4-5l2.4-4.5l3.8-3.2l5-1.9l5.5-0.5l11.5 0l11.5 2.7l14 5.1l4.5 2.7l3.7 4.1l1.5 3.5l-1.3 3l-3.4 3.3l-3.5 2.2l-3.5 1.2l-11 1.2l-8 1.6zM401.5 420l-7-0.7l-3-1.3l-1.9-1.5l-0.7-1.5l0.6-1.5l1.9-1.5l2.6-1.1l5.5-0.9l5.4 0.5l7.4 2.5l1.7 1l1.3 1.5l-0.3 1.8l-1.8 1.2l-11.7 1.5z"/><path id="A22_6" d="M348.5 426l-5.5-0.4l-11.5-2.5l-4.5-1.6l-3.5-2.3l-2.9-3.7l-1.3-4.5l0.5-4.5l2.3-4l3.4-2.7l4.5-1.6l5-0.5l11.5 0l5.5 1.2l10.5 3.8l7.5 2.2l3 1.3l2.5 1.8l2.7 3.5l0.7 3l-1 3l-3.4 3.3l-3 1.5l-3 0.9l-9.5 0.8l-10.5 2zM401.5 418l-3 0l-3-0.9l-1.4-1.1l-0.3-1.5l1.5-1.5l3.2-0.9l3.5 0l3.3 0.9l2.6 1.5l0.6 1l-0.3 0.5l-2.7 1.3l-4 0.7z"/><path id="A22_7" d="M351 424.6l-4.5 0.3l-5-0.7l-10.5-2.4l-5.5-2.6l-3.2-3.2l-1.6-4l0-4l1.8-4l3-2.7l4.5-1.9l15.5-0.7l4.5 0.8l10.5 4.1l8.5 2.2l4.4 2.2l2.7 3l1 3l-0.9 3l-2.2 2.5l-5 2.3l-10.5 0.9l-7.5 1.9z"/><path id="A22_8" d="M350 423.6l-5 0l-10.5-2.2l-4.5-1.3l-3.5-1.7l-2.9-2.9l-1.6-3.5l0-3.5l1.4-3.5l2.6-2.5l4-1.8l15.5-1l4 0.9l9.5 4.2l9.5 2.3l3.5 1.7l2.2 2.2l1 3l-0.7 2.6l-2.3 2.4l-4.2 1.7l-9.5 0.6l-8.5 2.3z"/><path id="A22_9" d="M349.5 422.5l-4.5 0l-11-2.4l-4-1.2l-2.7-1.4l-2.6-2.5l-1.4-3l0-3.5l1.2-2.8l2.5-2.4l3.5-1.5l15-1l4 1l9.5 4.5l8.5 1.9l3.1 1.3l2 2l0.8 2.5l-0.8 2.5l-2.1 1.9l-4 1.2l-8.5 0.4l-8.5 2.5z"/><path id="A22_10" d="M348.5 421.5l-3.5-0.2l-11.5-2.5l-5.5-2.3l-2.2-2l-1.2-2.5l-0.1-3l0.9-2.5l2.1-2.1l3.5-1.5l14-1.1l4 1l9.5 5l8 1.6l2.7 1.1l1.6 1.5l0.7 2l-0.8 2l-1.7 1.4l-3 0.8l-8 0.2l-9.5 3.1z"/><path id="A22_11" d="M349.5 420.1l-5-0.1l-11-2.4l-3.5-1.2l-2.5-1.8l-1.4-2.1l-0.4-2.5l0.7-2.5l2.1-2.3l3-1.3l13.5-1l3.7 1.1l9.8 5.8l8.5 1.7l1.4 1l0.5 1.5l-0.4 1l-1.3 1l-2.2 0.5l-7 0l-8.5 3.6z"/><path id="A22_12" d="M349.5 418.6l-4.5 0.2l-11-2.2l-3-1.1l-2-1.3l-1.4-1.7l-0.5-2l0.4-2.2l2-2.2l3-1.1l11-0.9l4 0.8l6.1 4.1l3 3.5l-0.1 1l-1.2 1.5l-3.5 2.5l-2.3 1.1z"/><path id="A22_13" d="M348 417.1l-4 0l-12-2.6l-1.6-1l-1.2-1.5l-0.5-1.5l0.3-1.5l1.5-1.8l3-1.1l9.5-0.5l3.5 0.7l4.2 2.7l2.1 3l-0.2 1.5l-1 1.5l-1.6 1.3l-2 0.8z"/><path id="A22_14" d="M347.5 415.1l-3.5 0.3l-10-1.7l-2.8-1.7l-0.5-1l0.1-1.5l1.7-1.5l2-0.5l8-0.1l3 0.5l2.7 1.6l1.5 2l-0.2 2l-2 1.6z"/><clipPath id="cA22"><rect x="310.8" y="312.8" width="70.19999999999999" height="158.59999999999997"/></clipPath></defs><g clip-path="url(#cA22)"><use href="#A22_3" fill="#969696"/><use href="#A22_4" fill="#fff"/><use href="#A22_5" fill="#969696"/><use href="#A22_6" fill="#fff"/><use href="#A22_7" fill="#969696"/><use href="#A22_8" fill="#fff"/><use href="#A22_9" fill="#969696"/><use href="#A22_10" fill="#fff"/><use href="#A22_11" fill="#969696"/><use href="#A22_12" fill="#fff"/><use href="#A22_13" fill="#969696"/><use href="#A22_14" fill="#fff"/></g><g fill="none" stroke-width="0.75"><use href="#A22_0" stroke="#7a7a7a"/><use href="#A22_1" stroke="#7a7a7a"/><use href="#A22_2" stroke="#7a7a7a"/><use href="#A22_3" stroke="#565656"/><use href="#A22_4" stroke="#565656"/><use href="#A22_5" stroke="#565656"/><use href="#A22_6" stroke="#565656"/><use href="#A22_7" stroke="#565656"/><use href="#A22_8" stroke="#565656"/><use href="#A22_9" stroke="#565656"/><use href="#A22_10" stroke="#565656"/><use href="#A22_11" stroke="#565656"/><use href="#A22_12" stroke="#565656"/><use href="#A22_13" stroke="#565656"/><use href="#A22_14" stroke="#565656"/></g>
<rect x="310.80" y="312.80" width="158.80" height="158.60" fill="none" stroke="#222" stroke-width="1.2"/>
<line x1="381.40" y1="312.80" x2="381.40" y2="473.40" stroke="#1a1a1a" stroke-width="2.6"/>
<line x1="310.80" y1="436.60" x2="469.60" y2="436.60" stroke="#1a1a1a" stroke-width="2.6"/>
<line x1="301.55" y1="439.68" x2="310.80" y2="439.68" stroke="#1c1c1c" stroke-width="1.4"/>
<line x1="306.60" y1="428.54" x2="310.80" y2="428.54" stroke="#1c1c1c" stroke-width="1.1"/>
<line x1="306.60" y1="422.02" x2="310.80" y2="422.02" stroke="#1c1c1c" stroke-width="1.1"/>
<line x1="306.60" y1="417.40" x2="310.80" y2="417.40" stroke="#1c1c1c" stroke-width="1.1"/>
<line x1="303.80" y1="413.81" x2="310.80" y2="413.81" stroke="#1c1c1c" stroke-width="1.1"/>
<line x1="306.60" y1="410.88" x2="310.80" y2="410.88" stroke="#1c1c1c" stroke-width="1.1"/>
<line x1="306.60" y1="408.41" x2="310.80" y2="408.41" stroke="#1c1c1c" stroke-width="1.1"/>
<line x1="306.60" y1="406.26" x2="310.80" y2="406.26" stroke="#1c1c1c" stroke-width="1.1"/>
<line x1="306.60" y1="404.37" x2="310.80" y2="404.37" stroke="#1c1c1c" stroke-width="1.1"/>
<line x1="301.55" y1="400.98" x2="310.80" y2="400.98" stroke="#1c1c1c" stroke-width="1.4"/>
<line x1="306.60" y1="389.84" x2="310.80" y2="389.84" stroke="#1c1c1c" stroke-width="1.1"/>
<line x1="306.60" y1="383.32" x2="310.80" y2="383.32" stroke="#1c1c1c" stroke-width="1.1"/>
<line x1="306.60" y1="378.70" x2="310.80" y2="378.70" stroke="#1c1c1c" stroke-width="1.1"/>
<line x1="303.80" y1="375.12" x2="310.80" y2="375.12" stroke="#1c1c1c" stroke-width="1.1"/>
<line x1="306.60" y1="372.18" x2="310.80" y2="372.18" stroke="#1c1c1c" stroke-width="1.1"/>
<line x1="306.60" y1="369.71" x2="310.80" y2="369.71" stroke="#1c1c1c" stroke-width="1.1"/>
<line x1="306.60" y1="367.56" x2="310.80" y2="367.56" stroke="#1c1c1c" stroke-width="1.1"/>
<line x1="306.60" y1="365.67" x2="310.80" y2="365.67" stroke="#1c1c1c" stroke-width="1.1"/>
<line x1="301.55" y1="365.30" x2="310.80" y2="365.30" stroke="#1c1c1c" stroke-width="1.4"/>
<line x1="306.60" y1="354.16" x2="310.80" y2="354.16" stroke="#1c1c1c" stroke-width="1.1"/>
<line x1="306.60" y1="347.64" x2="310.80" y2="347.64" stroke="#1c1c1c" stroke-width="1.1"/>
<line x1="306.60" y1="343.02" x2="310.80" y2="343.02" stroke="#1c1c1c" stroke-width="1.1"/>
<line x1="303.80" y1="339.43" x2="310.80" y2="339.43" stroke="#1c1c1c" stroke-width="1.1"/>
<line x1="306.60" y1="336.50" x2="310.80" y2="336.50" stroke="#1c1c1c" stroke-width="1.1"/>
<line x1="306.60" y1="334.02" x2="310.80" y2="334.02" stroke="#1c1c1c" stroke-width="1.1"/>
<line x1="306.60" y1="331.88" x2="310.80" y2="331.88" stroke="#1c1c1c" stroke-width="1.1"/>
<line x1="306.60" y1="329.98" x2="310.80" y2="329.98" stroke="#1c1c1c" stroke-width="1.1"/>
<line x1="301.55" y1="328.66" x2="310.80" y2="328.66" stroke="#1c1c1c" stroke-width="1.4"/>
<line x1="306.60" y1="317.52" x2="310.80" y2="317.52" stroke="#1c1c1c" stroke-width="1.1"/>
<line x1="301.55" y1="455.86" x2="310.80" y2="455.86" stroke="#1c1c1c" stroke-width="1.4"/>
<line x1="301.55" y1="471.40" x2="310.80" y2="471.40" stroke="#1c1c1c" stroke-width="1.4"/>
<line x1="303.80" y1="446.93" x2="310.80" y2="446.93" stroke="#1c1c1c" stroke-width="1.1"/>
<line x1="303.80" y1="463.11" x2="310.80" y2="463.11" stroke="#1c1c1c" stroke-width="1.1"/>
<rect x="306.60" y="439.98" width="4.2" height="4.70" fill="#1c1c1c"/>
<rect x="306.60" y="450.68" width="4.2" height="4.50" fill="#1c1c1c"/>
<rect x="306.60" y="456.86" width="4.2" height="5.00" fill="#1c1c1c"/>
<rect x="306.60" y="467.90" width="4.2" height="3.20" fill="#1c1c1c"/>
<line x1="342.88" y1="471.40" x2="342.88" y2="480.90" stroke="#1c1c1c" stroke-width="1.4"/>
<line x1="353.97" y1="471.40" x2="353.97" y2="475.60" stroke="#1c1c1c" stroke-width="1.1"/>
<line x1="360.46" y1="471.40" x2="360.46" y2="475.60" stroke="#1c1c1c" stroke-width="1.1"/>
<line x1="365.06" y1="471.40" x2="365.06" y2="475.60" stroke="#1c1c1c" stroke-width="1.1"/>
<line x1="368.63" y1="471.40" x2="368.63" y2="478.40" stroke="#1c1c1c" stroke-width="1.1"/>
<line x1="371.55" y1="471.40" x2="371.55" y2="475.60" stroke="#1c1c1c" stroke-width="1.1"/>
<line x1="374.01" y1="471.40" x2="374.01" y2="475.60" stroke="#1c1c1c" stroke-width="1.1"/>
<line x1="376.15" y1="471.40" x2="376.15" y2="475.60" stroke="#1c1c1c" stroke-width="1.1"/>
<line x1="378.03" y1="471.40" x2="378.03" y2="475.60" stroke="#1c1c1c" stroke-width="1.1"/>
<line x1="381.78" y1="471.40" x2="381.78" y2="480.90" stroke="#1c1c1c" stroke-width="1.4"/>
<line x1="392.87" y1="471.40" x2="392.87" y2="475.60" stroke="#1c1c1c" stroke-width="1.1"/>
<line x1="399.36" y1="471.40" x2="399.36" y2="475.60" stroke="#1c1c1c" stroke-width="1.1"/>
<line x1="403.96" y1="471.40" x2="403.96" y2="475.60" stroke="#1c1c1c" stroke-width="1.1"/>
<line x1="407.53" y1="471.40" x2="407.53" y2="478.40" stroke="#1c1c1c" stroke-width="1.1"/>
<line x1="410.45" y1="471.40" x2="410.45" y2="475.60" stroke="#1c1c1c" stroke-width="1.1"/>
<line x1="412.92" y1="471.40" x2="412.92" y2="475.60" stroke="#1c1c1c" stroke-width="1.1"/>
<line x1="415.05" y1="471.40" x2="415.05" y2="475.60" stroke="#1c1c1c" stroke-width="1.1"/>
<line x1="416.94" y1="471.40" x2="416.94" y2="475.60" stroke="#1c1c1c" stroke-width="1.1"/>
<line x1="417.67" y1="471.40" x2="417.67" y2="480.90" stroke="#1c1c1c" stroke-width="1.4"/>
<line x1="428.76" y1="471.40" x2="428.76" y2="475.60" stroke="#1c1c1c" stroke-width="1.1"/>
<line x1="435.25" y1="471.40" x2="435.25" y2="475.60" stroke="#1c1c1c" stroke-width="1.1"/>
<line x1="439.85" y1="471.40" x2="439.85" y2="475.60" stroke="#1c1c1c" stroke-width="1.1"/>
<line x1="443.42" y1="471.40" x2="443.42" y2="478.40" stroke="#1c1c1c" stroke-width="1.1"/>
<line x1="446.34" y1="471.40" x2="446.34" y2="475.60" stroke="#1c1c1c" stroke-width="1.1"/>
<line x1="448.81" y1="471.40" x2="448.81" y2="475.60" stroke="#1c1c1c" stroke-width="1.1"/>
<line x1="450.94" y1="471.40" x2="450.94" y2="475.60" stroke="#1c1c1c" stroke-width="1.1"/>
<line x1="452.83" y1="471.40" x2="452.83" y2="475.60" stroke="#1c1c1c" stroke-width="1.1"/>
<line x1="453.40" y1="471.40" x2="453.40" y2="480.90" stroke="#1c1c1c" stroke-width="1.4"/>
<line x1="464.49" y1="471.40" x2="464.49" y2="475.60" stroke="#1c1c1c" stroke-width="1.1"/>
<line x1="310.80" y1="471.40" x2="310.80" y2="480.90" stroke="#1c1c1c" stroke-width="1.4"/>
<line x1="326.20" y1="471.40" x2="326.20" y2="480.90" stroke="#1c1c1c" stroke-width="2.2"/>
<line x1="318.20" y1="471.40" x2="318.20" y2="478.40" stroke="#1c1c1c" stroke-width="1.1"/>
<line x1="335.40" y1="471.40" x2="335.40" y2="478.40" stroke="#1c1c1c" stroke-width="1.1"/>
<rect x="311.30" y="471.40" width="4.80" height="4.2" fill="#1c1c1c"/>
<rect x="319.60" y="471.40" width="4.10" height="4.2" fill="#1c1c1c"/>
<rect x="329.80" y="471.40" width="3.50" height="4.2" fill="#1c1c1c"/>
<rect x="337.40" y="471.40" width="4.90" height="4.2" fill="#1c1c1c"/>
<text x="269.08" y="340.66" font-size="16.71" font-weight="normal" fill="#1e1e1e">10</text>
<text x="287.22" y="329.66" font-size="16.67" font-weight="normal" fill="#1e1e1e">5</text>
<text x="269.08" y="377.30" font-size="16.71" font-weight="normal" fill="#1e1e1e">10</text>
<text x="287.05" y="366.30" font-size="16.67" font-weight="normal" fill="#1e1e1e">4</text>
<text x="269.08" y="412.98" font-size="16.71" font-weight="normal" fill="#1e1e1e">10</text>
<text x="287.34" y="401.98" font-size="16.43" font-weight="normal" fill="#1e1e1e">3</text>
<text x="269.08" y="451.68" font-size="16.71" font-weight="normal" fill="#1e1e1e">10</text>
<text x="287.50" y="440.68" font-size="16.43" font-weight="normal" fill="#1e1e1e">2</text>
<text x="279.76" y="464.86" font-size="16.43" font-weight="normal" fill="#1e1e1e">0</text>
<text x="312.36" y="510.80" font-size="15.86" font-weight="normal" fill="#1e1e1e">0</text>
<text x="333.76" y="510.80" font-size="15.86" font-weight="normal" fill="#1e1e1e">10</text>
<text x="352.03" y="499.80" font-size="15.43" font-weight="normal" fill="#1e1e1e">2</text>
<text x="372.67" y="510.80" font-size="15.86" font-weight="normal" fill="#1e1e1e">10</text>
<text x="391.10" y="499.80" font-size="15.43" font-weight="normal" fill="#1e1e1e">3</text>
<text x="408.55" y="510.80" font-size="15.86" font-weight="normal" fill="#1e1e1e">10</text>
<text x="427.29" y="499.80" font-size="15.65" font-weight="normal" fill="#1e1e1e">4</text>
<text x="444.28" y="510.80" font-size="15.86" font-weight="normal" fill="#1e1e1e">10</text>
<text x="462.70" y="499.80" font-size="15.65" font-weight="normal" fill="#1e1e1e">5</text>
<text x="320.24" y="340.20" font-size="25.71" font-weight="normal" fill="#000">86</text>
<text x="430.72" y="341.80" font-size="25.07" font-weight="normal" fill="#000">14</text>
<defs><path id="A23_0" d="M597 431.6l-35 0.3l-26.2-0.4l-2.2-3.5l-1.9-4.5l-1.1-4.5l-0.6-5l0.1-5l0.7-5l1.5-5l1.9-4l4.3-5.1l2.5-1.6l2.5-0.8l3.5-0.3l8 0.9l9.5-0.2l17 1l4.5 0.7l4.5 1.6l8 4.3l7.5 1.7l3.5 1.4l3 2.4l1.7 2.5l0.7 3l-0.5 3.5l-2.4 3.6l-7.1 5.9l-5.1 9l-2.3 3l-0.5 0.1z"/><path id="A23_1" d="M593.5 431.5l-13.5 0.3l-41-0.3l-2.7-3l-2.2-4l-1.4-4.5l-0.9-5l0-5l0.6-4.5l1.4-5l2-4l3.7-4.2l4.5-2.1l3.5-0.2l7 1l10.5-0.3l20 1.5l4.5 1.5l7.5 4.1l7.5 1.4l3.5 1.3l2.4 2l1.5 2.5l0.3 2.5l-0.7 2.5l-2 2.6l-6.1 4.9l-6.1 10l-3.8 4z"/><path id="A23_2" d="M589.5 431.5l-44.5 0.1l-2.1-0.1l-1.9-1l-2.5-2.1l-2.4-3.4l-1.8-4.5l-0.9-4.5l-0.3-5l0.6-5l1.2-4l1.9-4l3.7-4l2-1.1l2.5-0.7l9 1l9.5-0.4l17 1l7 1.4l9 4.8l7.5 1.2l2.9 1.3l1.6 1.5l0.8 1.5l0.3 2l-0.7 2l-1.6 2l-5.3 4.2l-5.2 8.8l-2.6 3.5l-2.7 2.5l-2 1z"/><path id="A23_3" d="M585.5 431.5l-24.5 0l-7.8-1l-6.7 0.1l-3-0.6l-2.5-1.4l-2.5-2.4l-2-3.2l-1.3-3.5l-0.8-4.5l-0.1-4.5l0.5-4l1.1-4l1.8-3.5l3.8-3.8l4-1.3l8.5 1.1l9.5-0.5l17.5 1l6.5 1.6l9 5.1l6 0.9l2.6 0.9l1.1 1l0.7 1.5l-0.5 2.5l-5.9 5l-3.4 7l-4.1 5.9l-3.5 2.9l-4 1.7z"/><path id="A23_4" d="M582.5 430.5l-11.5-0.6l-9 0.1l-9-1.2l-6.5 0.2l-2.5-0.5l-2.5-1.3l-2-1.8l-1.9-2.9l-1.4-3.5l-0.8-4l-0.1-4l0.4-4l1.1-3.5l1.8-3.5l3.4-3.3l3.5-1.2l8.5 1.1l9.5-0.5l9.4 0.9l8.6 0.2l6 1.6l9 5.9l4.8 1.8l0.5 0.5l0 1l-3 3.5l-2.2 7l-3.6 6l-4.5 4.1l-3 1.3l-3 0.6z"/><path id="A23_5" d="M582 429l-11-0.7l-9 0.2l-9-1.3l-6.5 0.2l-4-1.2l-2.1-1.7l-1.9-2.7l-1.4-3.3l-0.7-3.5l-0.2-4l0.5-3.5l2.3-6l3.5-3.5l4-1l7.5 1.2l9.5-0.6l9 0.9l9 0.2l4 0.9l3.5 1.8l4.3 3.6l2.2 3l0.6 3l-0.7 6l-2.1 4.5l-3.3 4.1l-3.5 2.3l-4.5 1.1z"/><path id="A23_6" d="M582 427.5l-11-0.7l-9 0.2l-8.5-1.3l-7.5 0.2l-3-1l-2-1.6l-1.5-2l-2-5.8l-0.1-6.5l2-6l3.1-3.3l2-0.9l2-0.3l7.5 1.3l9-0.7l9.5 1l8.5 0.1l3.5 0.7l3 1.3l3.4 2.8l2.5 3.5l0.7 3.5l-0.3 4.5l-1.6 4l-2.7 3.6l-3.5 2.4l-4 1z"/><path id="A23_7" d="M583 426l-3.5 0.3l-8.5-0.8l-9 0.2l-8.5-1.4l-7 0.3l-3-0.8l-1.7-1.3l-1.6-2l-1.9-5l-0.1-6l1.5-5l2.8-3.4l3.5-1.2l8 1.3l9-0.9l9.5 1.1l8 0l5.5 1.5l3 2.1l2.4 3l1.2 3.5l0 4l-1 3.5l-2.3 3.5l-2.8 2.2l-3.5 1.3z"/><path id="A23_8" d="M583.5 424.5l-3.5 0.5l-8.5-0.9l-9 0.3l-9-1.6l-6.5 0.5l-2.5-0.5l-3-2.3l-2.1-4.5l-0.4-5l1.1-5l2.4-3.3l1.5-1l2-0.5l7.5 1.4l10-0.9l9 1.1l8.5 0l3.5 0.9l3 1.8l2.2 2.5l1.3 3l0.3 3.5l-0.7 3.5l-1.8 3l-2.3 2.1l-3 1.4z"/><path id="A23_9" d="M582 423.5l-3 0.2l-7.5-0.9l-9 0.4l-9-1.8l-6.5 0.6l-2.5-0.5l-2.5-2.1l-1.8-3.9l-0.4-4.5l0.9-4l2.3-3.3l3-1.2l7.5 1.6l10-1.2l9 1.2l8 0l3.5 0.8l2.7 1.6l2.1 2.5l1.1 3l0.1 3l-0.8 3l-1.7 2.6l-2.5 2l-3 0.9z"/><path id="A23_10" d="M583 422l-3.5 0.4l-8.5-1l-8.5 0.6l-9.5-2l-5.5 0.7l-2-0.2l-2.5-1.5l-1.8-3l-0.6-3.5l0.5-4l1.9-3.3l3-1.4l2 0.1l6 1.7l9-1.5l9 1.3l7.5-0.1l3.5 0.5l2.5 1.3l1.8 1.9l1.2 2.5l0.4 2.5l-0.4 2.5l-1.3 2.5l-1.7 1.8l-2.5 1.2z"/><path id="A23_11" d="M581.5 421.1l-3 0l-7-1l-9.5 0.7l-8.5-2.4l-6 1.1l-2-0.3l-2-1.2l-1.5-2.6l-0.6-3.4l0.5-3l1.9-3l2.7-1l2.4 0.5l5.6 2.3l4.5-1.9l3.5-0.6l9.5 1.5l7.5-0.3l3 0.5l2.1 1l1.9 2l0.9 2l0.2 2.5l-0.6 2.5l-1.4 2l-2.1 1.5l-2 0.6z"/><path id="A23_12" d="M582 419.6l-3 0.2l-7.5-1.2l-9.5 0.9l-3-0.7l-5.5-2.5l-5.4 1.7l-2.1 0l-1.8-1l-1.2-1.8l-0.6-2.2l0.1-2.5l1.5-3l2.5-1.1l2 0.4l2 1.2l2.5 3.9l1.5 0.9l2-1.3l1.9-3.5l3.1-1.4l3.5 0.1l7.5 1.6l6.5-0.5l2.5 0.3l3.3 1.9l1 1.5l0.5 2l-0.2 2l-1 2l-1.6 1.4l-1.5 0.7z"/><path id="A23_13" d="M547 416.5l-1.5-0.3l-1-0.9l-1-2.8l0.7-3l0.8-1l1.5-0.5l1.5 0.3l1.5 1.2l1.3 3.5l-0.8 2.2l-3 1.3zM581.5 418.1l-3 0.1l-6.5-1.5l-7 1.4l-3 0l-3.5-1.3l-1.2-1.3l-0.2-1l2.4-5l2.5-1.5l3 0.1l7.5 2.1l8-0.7l3 1.4l1.2 2.6l-0.7 2.8l-2.5 1.8z"/><path id="A23_14" d="M565 416.6l-3.5-0.1l-2.1-1.5l-0.1-1.5l0.6-1.5l0.9-1.5l1.2-0.8l2-0.3l2.2 0.6l2.6 1.5l1.2 1.5l-0.2 1l-1.1 1l-3.7 1.6zM547 414.6l-1.4-0.6l-0.7-1.5l0.6-2l1-0.6l1.4 0.6l0.7 1.5l-0.1 1.5l-1.5 1.1zM580 416.5l-2-0.3l-2.2-1.2l-0.8-1l0.1-1l1.3-1l2.1-0.7l2 0l1.4 0.7l0.9 1.5l-0.2 1.5l-1.1 1.1l-1.5 0.4z"/><clipPath id="cA23"><rect x="528" y="313.75" width="72" height="158.55"/></clipPath></defs><g clip-path="url(#cA23)"><use href="#A23_3" fill="#969696"/><use href="#A23_4" fill="#fff"/><use href="#A23_5" fill="#969696"/><use href="#A23_6" fill="#fff"/><use href="#A23_7" fill="#969696"/><use href="#A23_8" fill="#fff"/><use href="#A23_9" fill="#969696"/><use href="#A23_10" fill="#fff"/><use href="#A23_11" fill="#969696"/><use href="#A23_12" fill="#fff"/><use href="#A23_13" fill="#969696"/><use href="#A23_14" fill="#fff"/></g><g fill="none" stroke-width="0.75"><use href="#A23_0" stroke="#7a7a7a"/><use href="#A23_1" stroke="#7a7a7a"/><use href="#A23_2" stroke="#7a7a7a"/><use href="#A23_3" stroke="#565656"/><use href="#A23_4" stroke="#565656"/><use href="#A23_5" stroke="#565656"/><use href="#A23_6" stroke="#565656"/><use href="#A23_7" stroke="#565656"/><use href="#A23_8" stroke="#565656"/><use href="#A23_9" stroke="#565656"/><use href="#A23_10" stroke="#565656"/><use href="#A23_11" stroke="#565656"/><use href="#A23_12" stroke="#565656"/><use href="#A23_13" stroke="#565656"/><use href="#A23_14" stroke="#565656"/></g>
<rect x="528.00" y="313.75" width="159.20" height="158.55" fill="none" stroke="#222" stroke-width="1.2"/>
<line x1="598.60" y1="313.75" x2="598.60" y2="474.30" stroke="#1a1a1a" stroke-width="2.6"/>
<line x1="528.00" y1="437.90" x2="687.20" y2="437.90" stroke="#1a1a1a" stroke-width="2.6"/>
<line x1="518.75" y1="440.59" x2="528.00" y2="440.59" stroke="#1c1c1c" stroke-width="1.4"/>
<line x1="523.80" y1="429.45" x2="528.00" y2="429.45" stroke="#1c1c1c" stroke-width="1.1"/>
<line x1="523.80" y1="422.94" x2="528.00" y2="422.94" stroke="#1c1c1c" stroke-width="1.1"/>
<line x1="523.80" y1="418.32" x2="528.00" y2="418.32" stroke="#1c1c1c" stroke-width="1.1"/>
<line x1="521.00" y1="414.73" x2="528.00" y2="414.73" stroke="#1c1c1c" stroke-width="1.1"/>
<line x1="523.80" y1="411.80" x2="528.00" y2="411.80" stroke="#1c1c1c" stroke-width="1.1"/>
<line x1="523.80" y1="409.33" x2="528.00" y2="409.33" stroke="#1c1c1c" stroke-width="1.1"/>
<line x1="523.80" y1="407.18" x2="528.00" y2="407.18" stroke="#1c1c1c" stroke-width="1.1"/>
<line x1="523.80" y1="405.29" x2="528.00" y2="405.29" stroke="#1c1c1c" stroke-width="1.1"/>
<line x1="518.75" y1="401.90" x2="528.00" y2="401.90" stroke="#1c1c1c" stroke-width="1.4"/>
<line x1="523.80" y1="390.77" x2="528.00" y2="390.77" stroke="#1c1c1c" stroke-width="1.1"/>
<line x1="523.80" y1="384.25" x2="528.00" y2="384.25" stroke="#1c1c1c" stroke-width="1.1"/>
<line x1="523.80" y1="379.63" x2="528.00" y2="379.63" stroke="#1c1c1c" stroke-width="1.1"/>
<line x1="521.00" y1="376.05" x2="528.00" y2="376.05" stroke="#1c1c1c" stroke-width="1.1"/>
<line x1="523.80" y1="373.12" x2="528.00" y2="373.12" stroke="#1c1c1c" stroke-width="1.1"/>
<line x1="523.80" y1="370.64" x2="528.00" y2="370.64" stroke="#1c1c1c" stroke-width="1.1"/>
<line x1="523.80" y1="368.49" x2="528.00" y2="368.49" stroke="#1c1c1c" stroke-width="1.1"/>
<line x1="523.80" y1="366.60" x2="528.00" y2="366.60" stroke="#1c1c1c" stroke-width="1.1"/>
<line x1="518.75" y1="366.23" x2="528.00" y2="366.23" stroke="#1c1c1c" stroke-width="1.4"/>
<line x1="523.80" y1="355.09" x2="528.00" y2="355.09" stroke="#1c1c1c" stroke-width="1.1"/>
<line x1="523.80" y1="348.58" x2="528.00" y2="348.58" stroke="#1c1c1c" stroke-width="1.1"/>
<line x1="523.80" y1="343.96" x2="528.00" y2="343.96" stroke="#1c1c1c" stroke-width="1.1"/>
<line x1="521.00" y1="340.37" x2="528.00" y2="340.37" stroke="#1c1c1c" stroke-width="1.1"/>
<line x1="523.80" y1="337.44" x2="528.00" y2="337.44" stroke="#1c1c1c" stroke-width="1.1"/>
<line x1="523.80" y1="334.97" x2="528.00" y2="334.97" stroke="#1c1c1c" stroke-width="1.1"/>
<line x1="523.80" y1="332.82" x2="528.00" y2="332.82" stroke="#1c1c1c" stroke-width="1.1"/>
<line x1="523.80" y1="330.93" x2="528.00" y2="330.93" stroke="#1c1c1c" stroke-width="1.1"/>
<line x1="518.75" y1="329.61" x2="528.00" y2="329.61" stroke="#1c1c1c" stroke-width="1.4"/>
<line x1="523.80" y1="318.47" x2="528.00" y2="318.47" stroke="#1c1c1c" stroke-width="1.1"/>
<line x1="518.75" y1="456.76" x2="528.00" y2="456.76" stroke="#1c1c1c" stroke-width="1.4"/>
<line x1="518.75" y1="472.30" x2="528.00" y2="472.30" stroke="#1c1c1c" stroke-width="1.4"/>
<line x1="521.00" y1="447.84" x2="528.00" y2="447.84" stroke="#1c1c1c" stroke-width="1.1"/>
<line x1="521.00" y1="464.01" x2="528.00" y2="464.01" stroke="#1c1c1c" stroke-width="1.1"/>
<rect x="523.80" y="440.89" width="4.2" height="4.70" fill="#1c1c1c"/>
<rect x="523.80" y="451.59" width="4.2" height="4.50" fill="#1c1c1c"/>
<rect x="523.80" y="457.76" width="4.2" height="5.00" fill="#1c1c1c"/>
<rect x="523.80" y="468.80" width="4.2" height="3.20" fill="#1c1c1c"/>
<line x1="560.16" y1="472.30" x2="560.16" y2="481.80" stroke="#1c1c1c" stroke-width="1.4"/>
<line x1="571.28" y1="472.30" x2="571.28" y2="476.50" stroke="#1c1c1c" stroke-width="1.1"/>
<line x1="577.78" y1="472.30" x2="577.78" y2="476.50" stroke="#1c1c1c" stroke-width="1.1"/>
<line x1="582.40" y1="472.30" x2="582.40" y2="476.50" stroke="#1c1c1c" stroke-width="1.1"/>
<line x1="585.97" y1="472.30" x2="585.97" y2="479.30" stroke="#1c1c1c" stroke-width="1.1"/>
<line x1="588.90" y1="472.30" x2="588.90" y2="476.50" stroke="#1c1c1c" stroke-width="1.1"/>
<line x1="591.37" y1="472.30" x2="591.37" y2="476.50" stroke="#1c1c1c" stroke-width="1.1"/>
<line x1="593.51" y1="472.30" x2="593.51" y2="476.50" stroke="#1c1c1c" stroke-width="1.1"/>
<line x1="595.40" y1="472.30" x2="595.40" y2="476.50" stroke="#1c1c1c" stroke-width="1.1"/>
<line x1="599.16" y1="472.30" x2="599.16" y2="481.80" stroke="#1c1c1c" stroke-width="1.4"/>
<line x1="610.28" y1="472.30" x2="610.28" y2="476.50" stroke="#1c1c1c" stroke-width="1.1"/>
<line x1="616.78" y1="472.30" x2="616.78" y2="476.50" stroke="#1c1c1c" stroke-width="1.1"/>
<line x1="621.40" y1="472.30" x2="621.40" y2="476.50" stroke="#1c1c1c" stroke-width="1.1"/>
<line x1="624.98" y1="472.30" x2="624.98" y2="479.30" stroke="#1c1c1c" stroke-width="1.1"/>
<line x1="627.90" y1="472.30" x2="627.90" y2="476.50" stroke="#1c1c1c" stroke-width="1.1"/>
<line x1="630.38" y1="472.30" x2="630.38" y2="476.50" stroke="#1c1c1c" stroke-width="1.1"/>
<line x1="632.52" y1="472.30" x2="632.52" y2="476.50" stroke="#1c1c1c" stroke-width="1.1"/>
<line x1="634.41" y1="472.30" x2="634.41" y2="476.50" stroke="#1c1c1c" stroke-width="1.1"/>
<line x1="635.14" y1="472.30" x2="635.14" y2="481.80" stroke="#1c1c1c" stroke-width="1.4"/>
<line x1="646.26" y1="472.30" x2="646.26" y2="476.50" stroke="#1c1c1c" stroke-width="1.1"/>
<line x1="652.76" y1="472.30" x2="652.76" y2="476.50" stroke="#1c1c1c" stroke-width="1.1"/>
<line x1="657.38" y1="472.30" x2="657.38" y2="476.50" stroke="#1c1c1c" stroke-width="1.1"/>
<line x1="660.96" y1="472.30" x2="660.96" y2="479.30" stroke="#1c1c1c" stroke-width="1.1"/>
<line x1="663.88" y1="472.30" x2="663.88" y2="476.50" stroke="#1c1c1c" stroke-width="1.1"/>
<line x1="666.35" y1="472.30" x2="666.35" y2="476.50" stroke="#1c1c1c" stroke-width="1.1"/>
<line x1="668.50" y1="472.30" x2="668.50" y2="476.50" stroke="#1c1c1c" stroke-width="1.1"/>
<line x1="670.39" y1="472.30" x2="670.39" y2="476.50" stroke="#1c1c1c" stroke-width="1.1"/>
<line x1="670.96" y1="472.30" x2="670.96" y2="481.80" stroke="#1c1c1c" stroke-width="1.4"/>
<line x1="682.08" y1="472.30" x2="682.08" y2="476.50" stroke="#1c1c1c" stroke-width="1.1"/>
<line x1="528.00" y1="472.30" x2="528.00" y2="481.80" stroke="#1c1c1c" stroke-width="1.4"/>
<line x1="543.40" y1="472.30" x2="543.40" y2="481.80" stroke="#1c1c1c" stroke-width="2.2"/>
<line x1="535.40" y1="472.30" x2="535.40" y2="479.30" stroke="#1c1c1c" stroke-width="1.1"/>
<line x1="552.60" y1="472.30" x2="552.60" y2="479.30" stroke="#1c1c1c" stroke-width="1.1"/>
<rect x="528.50" y="472.30" width="4.80" height="4.2" fill="#1c1c1c"/>
<rect x="536.80" y="472.30" width="4.10" height="4.2" fill="#1c1c1c"/>
<rect x="547.00" y="472.30" width="3.50" height="4.2" fill="#1c1c1c"/>
<rect x="554.60" y="472.30" width="4.90" height="4.2" fill="#1c1c1c"/>
<text x="486.28" y="341.61" font-size="16.71" font-weight="normal" fill="#1e1e1e">10</text>
<text x="504.42" y="330.61" font-size="16.67" font-weight="normal" fill="#1e1e1e">5</text>
<text x="486.28" y="378.23" font-size="16.71" font-weight="normal" fill="#1e1e1e">10</text>
<text x="504.25" y="367.23" font-size="16.67" font-weight="normal" fill="#1e1e1e">4</text>
<text x="486.28" y="413.90" font-size="16.71" font-weight="normal" fill="#1e1e1e">10</text>
<text x="504.54" y="402.90" font-size="16.43" font-weight="normal" fill="#1e1e1e">3</text>
<text x="486.28" y="452.59" font-size="16.71" font-weight="normal" fill="#1e1e1e">10</text>
<text x="504.70" y="441.59" font-size="16.43" font-weight="normal" fill="#1e1e1e">2</text>
<text x="496.96" y="465.76" font-size="16.43" font-weight="normal" fill="#1e1e1e">0</text>
<text x="529.56" y="511.70" font-size="15.86" font-weight="normal" fill="#1e1e1e">0</text>
<text x="551.04" y="511.70" font-size="15.86" font-weight="normal" fill="#1e1e1e">10</text>
<text x="569.32" y="500.70" font-size="15.43" font-weight="normal" fill="#1e1e1e">2</text>
<text x="590.04" y="511.70" font-size="15.86" font-weight="normal" fill="#1e1e1e">10</text>
<text x="608.47" y="500.70" font-size="15.43" font-weight="normal" fill="#1e1e1e">3</text>
<text x="626.02" y="511.70" font-size="15.86" font-weight="normal" fill="#1e1e1e">10</text>
<text x="644.76" y="500.70" font-size="15.65" font-weight="normal" fill="#1e1e1e">4</text>
<text x="661.84" y="511.70" font-size="15.86" font-weight="normal" fill="#1e1e1e">10</text>
<text x="680.26" y="500.70" font-size="15.65" font-weight="normal" fill="#1e1e1e">5</text>
<text x="539.04" y="340.20" font-size="25.71" font-weight="normal" fill="#000">96</text>
<text x="649.56" y="341.30" font-size="25.80" font-weight="normal" fill="#000">4</text>
<defs><path id="A31_0" d="M158.5 686.5l-12 0.3l-32.5-0.3l-7.9-2l-13.6-2.5l-0.5-13l0.5-13.2l8.5-2.8l10.5-4.7l8.5-1.7l8 0.2l11 2.2l6 0.8l5 0l9-1.3l3 0.2l3 1l3.9 2.8l2.8 4l1.4 5l-0.2 5.5l-1.7 5.5l-4 6.5l-4.2 4.6l-4.5 2.9z"/><path id="A31_1" d="M152.5 686.5l-13.1 0l-7.4-1.3l-12.5-0.2l-12.5-2.6l-10-1.3l-4.5-1.2l-0.4-10.9l0.4-11l9.7-3l10.8-4.6l7-1.5l7.5 0.2l11.5 2.4l5.5 0.5l5.5 0l9-1.7l5 1l4 2.8l2.7 4.4l0.8 5l-0.7 5l-3 6l-5.3 6.5l-5 3.7l-5 1.8z"/><path id="A31_2" d="M149 685.5l-6-0.1l-10.5-2l-13.5-0.3l-11-2.3l-10.5-1.3l-5-1.4l-0.4-9.1l0.4-9.2l11-3.3l10.5-4.4l6-1.3l7 0.1l10.5 2.3l5.5 0.5l7-0.1l8.5-1.8l2.5 0.1l2.5 0.7l3.9 2.9l2.2 4l0.6 5l-1.3 5l-3.8 6l-5.6 5.7l-5 2.9l-5.5 1.4z"/><path id="A31_3" d="M150 684l-6.5 0.1l-11-2.2l-13-0.2l-11-2.3l-10.5-1l-4-1.1l-1.5-0.7l-0.1-0.6l0.1-14.7l4-1.6l8.6-2.2l9.9-4.1l5-1.1l6.5 0l10.5 2.3l5 0.5l8-0.1l8.5-2l4.5 0.6l3.3 2.4l2.1 3.5l0.7 4.5l-1 4.5l-3 5l-5.7 6l-4.4 2.9l-5 1.6z"/><path id="A31_4" d="M148 683l-5-0.2l-10-2.3l-13.5-0.2l-10-2.1l-10-0.9l-4.5-1l-2.5-1.2l0-12.3l4-1.7l10-2.6l8.5-3.6l5-1.2l6.5 0l10 2.3l4.5 0.4l9-0.2l8.5-2.1l4 0.5l3.3 2.4l1.9 3.5l0.4 4l-1.3 4.5l-3.3 4.5l-6.2 6l-4.3 2.4l-5 1.1z"/><path id="A31_5" d="M150 681.5l-5.5 0.3l-11-2.7l-12.5 0l-11.5-2.3l-9-0.6l-3.5-0.6l-4.5-2.3l0-8.7l4-2.2l10-2.4l8.5-3.7l5-1.2l6.5 0l9.5 2.2l4 0.4l9.5-0.2l8-2.2l4 0.1l3 1.7l2.1 3.4l0.5 3.5l-1 4l-2.6 3.9l-6 5.9l-3.5 2.3l-4 1.4z"/><path id="A31_6" d="M149 680.6l-6-0.2l-10-2.7l-12 0.1l-11.5-2.4l-11-0.8l-3-1.1l-2.1-1.5l-0.9-1.5l0-3.1l1.5-2l3-1.8l10-2.3l8.5-3.7l4.5-1.2l6-0.1l9.5 2.3l4 0.4l10.5-0.4l7.5-2.3l3.5 0.1l2.9 1.6l1.7 2.5l0.5 3.5l-0.9 3.5l-2.7 3.9l-6.5 6l-3.5 2.1l-3.5 1.1z"/><path id="A31_7" d="M149 679.5l-5.5 0l-10.5-3.1l-11.5 0.4l-11.5-2.6l-10.5-0.6l-2.5-0.8l-1.8-1.3l-1-1.5l-0.1-1.5l1-2l2.4-1.7l10-2.2l8.5-3.9l4-1.2l6 0l9 2.3l3.5 0.4l12-0.7l7-2.2l3-0.1l2.5 1.3l1.8 2.5l0.5 3l-1.1 3.5l-2.2 3l-6.5 6l-3 1.9l-3.5 1.1z"/><path id="A31_8" d="M148.5 678.6l-5.5-0.3l-9.5-3.2l-12 0.5l-12-3.1l-9-0.3l-3-1.2l-0.9-1l-0.2-1.5l0.9-1.5l1.7-1l9-1.9l8.1-4.1l4.4-1.3l5.5 0l8.5 2.5l3 0.3l13.5-0.9l6.5-2.3l2.5-0.1l2.5 1.2l1.4 2.1l0.4 2.5l-0.9 3l-1.9 2.5l-7.2 6.5l-2.8 1.7l-3 0.9z"/><path id="A31_9" d="M148.5 677.6l-2.5 0.2l-3-0.5l-9.5-3.7l-9 0.9l-4.5-0.3l-11-3.8l-7.5-0.2l-1.3-0.7l-0.2-1l1.5-1.1l7-1.3l7.5-4.7l5-1.6l5 0.1l8 2.6l3 0.3l7.5-0.9l6.5-0.3l6.5-2.2l2.5-0.1l2 1.1l1 1.6l0.3 2.5l-1 2.5l-1.8 2.1l-7 6.3l-2.5 1.4l-2.5 0.8z"/><path id="A31_10" d="M149 676.5l-3 0.3l-3-0.5l-7.5-3.7l-2-0.6l-9 1.3l-5-0.4l-5.4-2.4l-1.7-1.5l-0.5-1.5l1.1-2l2.9-2.5l2.6-1.4l3-0.7l5 0.3l7 2.8l2.5 0.4l8-1.5l8-0.3l5.5-2.1l2.5 0l1.5 1l0.7 1.5l-0.1 2l-0.7 1.5l-8.4 8l-4 2z"/><path id="A31_11" d="M149 675.5l-3 0.4l-3.5-0.8l-8.5-5.5l-8.5 2.4l-5.5-0.3l-4.2-2.2l-0.7-1l-0.2-1.5l0.6-1.5l2-1.8l4.5-1.6l2.5 0l3 0.8l7 3.9l8.8-2.8l9.2-0.3l5-1.9l2 0l1 0.7l0.4 1l-0.1 1.5l-0.8 1.4l-7.5 7.2l-3.5 1.9z"/><path id="A31_12" d="M125 670.6l-3.5 0l-2.5-1l-1.5-1.6l0.2-2l1.8-1.7l2.5-0.8l2.5 0l2.7 1l1.8 1.5l0.3 2l-1.4 1.5l-2.9 1.1zM148.5 674.6l-4 0.1l-3.6-1.7l-2.5-3l-0.1-1.5l0.6-1l2-1.5l3.1-1.1l3-0.2l6.5 0.5l4.7-1.2l0.4 0.5l-0.4 1l-2.7 2.5l-2.9 4l-2.1 1.8l-2 0.8z"/><path id="A31_13" d="M124 668.5l-2.5-0.4l-0.6-0.6l0.1-1l2-0.9l1.8 0.4l0.7 1.5l-1.5 1zM148 673.6l-3 0.1l-2.6-1.2l-1.9-2.5l0.4-2l2-1.5l2.6-0.7l3.5 0.2l2.7 1l0.9 1.5l-0.6 2l-1.7 2l-2.3 1.1z"/><path id="A31_14" d="M147.5 672.6l-2.4-0.1l-1.8-1l-1-2l0.8-1.5l1.4-0.8l2-0.3l2 0.3l1.5 0.8l0.5 1l-0.2 1.5l-1.3 1.4l-1.5 0.7z"/><clipPath id="cA31"><rect x="108" y="575.6" width="140.5" height="156.39999999999998"/></clipPath></defs><g clip-path="url(#cA31)"><use href="#A31_3" fill="#969696"/><use href="#A31_4" fill="#fff"/><use href="#A31_5" fill="#969696"/><use href="#A31_6" fill="#fff"/><use href="#A31_7" fill="#969696"/><use href="#A31_8" fill="#fff"/><use href="#A31_9" fill="#969696"/><use href="#A31_10" fill="#fff"/><use href="#A31_11" fill="#969696"/><use href="#A31_12" fill="#fff"/><use href="#A31_13" fill="#969696"/><use href="#A31_14" fill="#fff"/></g><g fill="none" stroke-width="0.75"><use href="#A31_0" stroke="#7a7a7a"/><use href="#A31_1" stroke="#7a7a7a"/><use href="#A31_2" stroke="#7a7a7a"/><use href="#A31_3" stroke="#565656"/><use href="#A31_4" stroke="#565656"/><use href="#A31_5" stroke="#565656"/><use href="#A31_6" stroke="#565656"/><use href="#A31_7" stroke="#565656"/><use href="#A31_8" stroke="#565656"/><use href="#A31_9" stroke="#565656"/><use href="#A31_10" stroke="#565656"/><use href="#A31_11" stroke="#565656"/><use href="#A31_12" stroke="#565656"/><use href="#A31_13" stroke="#565656"/><use href="#A31_14" stroke="#565656"/></g><rect x="172.3" y="649.6" width="1.4" height="1.4" fill="#333"/>
<rect x="91.70" y="575.60" width="156.80" height="156.40" fill="none" stroke="#222" stroke-width="1.2"/>
<line x1="155.10" y1="575.60" x2="155.10" y2="734.00" stroke="#1a1a1a" stroke-width="2.6"/>
<line x1="91.70" y1="699.70" x2="248.50" y2="699.70" stroke="#1a1a1a" stroke-width="2.6"/>
<line x1="82.45" y1="700.72" x2="91.70" y2="700.72" stroke="#1c1c1c" stroke-width="1.4"/>
<line x1="87.50" y1="689.73" x2="91.70" y2="689.73" stroke="#1c1c1c" stroke-width="1.1"/>
<line x1="87.50" y1="683.31" x2="91.70" y2="683.31" stroke="#1c1c1c" stroke-width="1.1"/>
<line x1="87.50" y1="678.75" x2="91.70" y2="678.75" stroke="#1c1c1c" stroke-width="1.1"/>
<line x1="84.70" y1="675.21" x2="91.70" y2="675.21" stroke="#1c1c1c" stroke-width="1.1"/>
<line x1="87.50" y1="672.32" x2="91.70" y2="672.32" stroke="#1c1c1c" stroke-width="1.1"/>
<line x1="87.50" y1="669.88" x2="91.70" y2="669.88" stroke="#1c1c1c" stroke-width="1.1"/>
<line x1="87.50" y1="667.76" x2="91.70" y2="667.76" stroke="#1c1c1c" stroke-width="1.1"/>
<line x1="87.50" y1="665.90" x2="91.70" y2="665.90" stroke="#1c1c1c" stroke-width="1.1"/>
<line x1="82.45" y1="662.56" x2="91.70" y2="662.56" stroke="#1c1c1c" stroke-width="1.4"/>
<line x1="87.50" y1="651.57" x2="91.70" y2="651.57" stroke="#1c1c1c" stroke-width="1.1"/>
<line x1="87.50" y1="645.15" x2="91.70" y2="645.15" stroke="#1c1c1c" stroke-width="1.1"/>
<line x1="87.50" y1="640.59" x2="91.70" y2="640.59" stroke="#1c1c1c" stroke-width="1.1"/>
<line x1="84.70" y1="637.05" x2="91.70" y2="637.05" stroke="#1c1c1c" stroke-width="1.1"/>
<line x1="87.50" y1="634.16" x2="91.70" y2="634.16" stroke="#1c1c1c" stroke-width="1.1"/>
<line x1="87.50" y1="631.72" x2="91.70" y2="631.72" stroke="#1c1c1c" stroke-width="1.1"/>
<line x1="87.50" y1="629.60" x2="91.70" y2="629.60" stroke="#1c1c1c" stroke-width="1.1"/>
<line x1="87.50" y1="627.73" x2="91.70" y2="627.73" stroke="#1c1c1c" stroke-width="1.1"/>
<line x1="82.45" y1="627.37" x2="91.70" y2="627.37" stroke="#1c1c1c" stroke-width="1.4"/>
<line x1="87.50" y1="616.38" x2="91.70" y2="616.38" stroke="#1c1c1c" stroke-width="1.1"/>
<line x1="87.50" y1="609.96" x2="91.70" y2="609.96" stroke="#1c1c1c" stroke-width="1.1"/>
<line x1="87.50" y1="605.40" x2="91.70" y2="605.40" stroke="#1c1c1c" stroke-width="1.1"/>
<line x1="84.70" y1="601.86" x2="91.70" y2="601.86" stroke="#1c1c1c" stroke-width="1.1"/>
<line x1="87.50" y1="598.97" x2="91.70" y2="598.97" stroke="#1c1c1c" stroke-width="1.1"/>
<line x1="87.50" y1="596.53" x2="91.70" y2="596.53" stroke="#1c1c1c" stroke-width="1.1"/>
<line x1="87.50" y1="594.41" x2="91.70" y2="594.41" stroke="#1c1c1c" stroke-width="1.1"/>
<line x1="87.50" y1="592.54" x2="91.70" y2="592.54" stroke="#1c1c1c" stroke-width="1.1"/>
<line x1="82.45" y1="591.24" x2="91.70" y2="591.24" stroke="#1c1c1c" stroke-width="1.4"/>
<line x1="87.50" y1="580.25" x2="91.70" y2="580.25" stroke="#1c1c1c" stroke-width="1.1"/>
<line x1="82.45" y1="716.67" x2="91.70" y2="716.67" stroke="#1c1c1c" stroke-width="1.4"/>
<line x1="82.45" y1="732.00" x2="91.70" y2="732.00" stroke="#1c1c1c" stroke-width="1.4"/>
<line x1="84.70" y1="707.97" x2="91.70" y2="707.97" stroke="#1c1c1c" stroke-width="1.1"/>
<line x1="84.70" y1="723.92" x2="91.70" y2="723.92" stroke="#1c1c1c" stroke-width="1.1"/>
<rect x="87.50" y="701.02" width="4.2" height="4.70" fill="#1c1c1c"/>
<rect x="87.50" y="711.72" width="4.2" height="4.50" fill="#1c1c1c"/>
<rect x="87.50" y="717.67" width="4.2" height="5.00" fill="#1c1c1c"/>
<rect x="87.50" y="728.50" width="4.2" height="3.20" fill="#1c1c1c"/>
<line x1="123.37" y1="732.00" x2="123.37" y2="741.50" stroke="#1c1c1c" stroke-width="1.4"/>
<line x1="134.32" y1="732.00" x2="134.32" y2="736.20" stroke="#1c1c1c" stroke-width="1.1"/>
<line x1="140.73" y1="732.00" x2="140.73" y2="736.20" stroke="#1c1c1c" stroke-width="1.1"/>
<line x1="145.28" y1="732.00" x2="145.28" y2="736.20" stroke="#1c1c1c" stroke-width="1.1"/>
<line x1="148.80" y1="732.00" x2="148.80" y2="739.00" stroke="#1c1c1c" stroke-width="1.1"/>
<line x1="151.68" y1="732.00" x2="151.68" y2="736.20" stroke="#1c1c1c" stroke-width="1.1"/>
<line x1="154.12" y1="732.00" x2="154.12" y2="736.20" stroke="#1c1c1c" stroke-width="1.1"/>
<line x1="156.23" y1="732.00" x2="156.23" y2="736.20" stroke="#1c1c1c" stroke-width="1.1"/>
<line x1="158.09" y1="732.00" x2="158.09" y2="736.20" stroke="#1c1c1c" stroke-width="1.1"/>
<line x1="161.79" y1="732.00" x2="161.79" y2="741.50" stroke="#1c1c1c" stroke-width="1.4"/>
<line x1="172.74" y1="732.00" x2="172.74" y2="736.20" stroke="#1c1c1c" stroke-width="1.1"/>
<line x1="179.15" y1="732.00" x2="179.15" y2="736.20" stroke="#1c1c1c" stroke-width="1.1"/>
<line x1="183.69" y1="732.00" x2="183.69" y2="736.20" stroke="#1c1c1c" stroke-width="1.1"/>
<line x1="187.22" y1="732.00" x2="187.22" y2="739.00" stroke="#1c1c1c" stroke-width="1.1"/>
<line x1="190.10" y1="732.00" x2="190.10" y2="736.20" stroke="#1c1c1c" stroke-width="1.1"/>
<line x1="192.53" y1="732.00" x2="192.53" y2="736.20" stroke="#1c1c1c" stroke-width="1.1"/>
<line x1="194.64" y1="732.00" x2="194.64" y2="736.20" stroke="#1c1c1c" stroke-width="1.1"/>
<line x1="196.50" y1="732.00" x2="196.50" y2="736.20" stroke="#1c1c1c" stroke-width="1.1"/>
<line x1="197.23" y1="732.00" x2="197.23" y2="741.50" stroke="#1c1c1c" stroke-width="1.4"/>
<line x1="208.18" y1="732.00" x2="208.18" y2="736.20" stroke="#1c1c1c" stroke-width="1.1"/>
<line x1="214.58" y1="732.00" x2="214.58" y2="736.20" stroke="#1c1c1c" stroke-width="1.1"/>
<line x1="219.13" y1="732.00" x2="219.13" y2="736.20" stroke="#1c1c1c" stroke-width="1.1"/>
<line x1="222.65" y1="732.00" x2="222.65" y2="739.00" stroke="#1c1c1c" stroke-width="1.1"/>
<line x1="225.53" y1="732.00" x2="225.53" y2="736.20" stroke="#1c1c1c" stroke-width="1.1"/>
<line x1="227.97" y1="732.00" x2="227.97" y2="736.20" stroke="#1c1c1c" stroke-width="1.1"/>
<line x1="230.08" y1="732.00" x2="230.08" y2="736.20" stroke="#1c1c1c" stroke-width="1.1"/>
<line x1="231.94" y1="732.00" x2="231.94" y2="736.20" stroke="#1c1c1c" stroke-width="1.1"/>
<line x1="232.51" y1="732.00" x2="232.51" y2="741.50" stroke="#1c1c1c" stroke-width="1.4"/>
<line x1="243.46" y1="732.00" x2="243.46" y2="736.20" stroke="#1c1c1c" stroke-width="1.1"/>
<line x1="91.70" y1="732.00" x2="91.70" y2="741.50" stroke="#1c1c1c" stroke-width="1.4"/>
<line x1="107.10" y1="732.00" x2="107.10" y2="741.50" stroke="#1c1c1c" stroke-width="2.2"/>
<line x1="99.10" y1="732.00" x2="99.10" y2="739.00" stroke="#1c1c1c" stroke-width="1.1"/>
<line x1="116.30" y1="732.00" x2="116.30" y2="739.00" stroke="#1c1c1c" stroke-width="1.1"/>
<rect x="92.20" y="732.00" width="4.80" height="4.2" fill="#1c1c1c"/>
<rect x="100.50" y="732.00" width="4.10" height="4.2" fill="#1c1c1c"/>
<rect x="110.70" y="732.00" width="3.50" height="4.2" fill="#1c1c1c"/>
<rect x="118.30" y="732.00" width="4.90" height="4.2" fill="#1c1c1c"/>
<text x="49.98" y="603.24" font-size="16.71" font-weight="normal" fill="#1e1e1e">10</text>
<text x="68.12" y="592.24" font-size="16.67" font-weight="normal" fill="#1e1e1e">5</text>
<text x="49.98" y="639.37" font-size="16.71" font-weight="normal" fill="#1e1e1e">10</text>
<text x="67.95" y="628.37" font-size="16.67" font-weight="normal" fill="#1e1e1e">4</text>
<text x="49.98" y="674.56" font-size="16.71" font-weight="normal" fill="#1e1e1e">10</text>
<text x="68.24" y="663.56" font-size="16.43" font-weight="normal" fill="#1e1e1e">3</text>
<text x="49.98" y="712.72" font-size="16.71" font-weight="normal" fill="#1e1e1e">10</text>
<text x="68.40" y="701.72" font-size="16.43" font-weight="normal" fill="#1e1e1e">2</text>
<text x="60.66" y="725.67" font-size="16.43" font-weight="normal" fill="#1e1e1e">0</text>
<text x="93.26" y="771.40" font-size="15.86" font-weight="normal" fill="#1e1e1e">0</text>
<text x="114.26" y="771.40" font-size="15.86" font-weight="normal" fill="#1e1e1e">10</text>
<text x="132.53" y="760.40" font-size="15.43" font-weight="normal" fill="#1e1e1e">2</text>
<text x="152.67" y="771.40" font-size="15.86" font-weight="normal" fill="#1e1e1e">10</text>
<text x="171.10" y="760.40" font-size="15.43" font-weight="normal" fill="#1e1e1e">3</text>
<text x="188.11" y="771.40" font-size="15.86" font-weight="normal" fill="#1e1e1e">10</text>
<text x="206.84" y="760.40" font-size="15.65" font-weight="normal" fill="#1e1e1e">4</text>
<text x="223.39" y="771.40" font-size="15.86" font-weight="normal" fill="#1e1e1e">10</text>
<text x="241.81" y="760.40" font-size="15.65" font-weight="normal" fill="#1e1e1e">5</text>
<text x="100.26" y="603.30" font-size="25.43" font-weight="normal" fill="#000">87</text>
<text x="211.35" y="603.90" font-size="25.00" font-weight="normal" fill="#000">13</text>
<defs><path id="A32_0" d="M373.5 686.5l-14.5 0.3l-30.5-0.3l-19-4.7l-0.5-14.8l0.5-14.8l20-4.9l6-0.9l8 0.2l12.6 2.4l6.9 0.8l3.5-0.6l6.5-3.5l4.5-1.2l5 0l5 1.6l3.8 2.9l2.7 4l1 4.5l-0.8 5l-1.8 3.5l-5.9 6.5l-5.7 8.5l-3.3 3.1l-4 2.4z"/><path id="A32_1" d="M367 686.5l-18.4 0l-13.6-1.2l-25.5-5.8l-0.4-12.5l0.4-12.5l12-2.5l9.5-2.6l4.5-0.7l7 0.2l15.4 2.6l6.1 0.5l3-0.5l6.5-3.9l4-1.2l5 0l4.5 1.6l3.5 3l1.8 3.5l0.5 4.5l-1.3 4.5l-2.2 3l-5.3 5l-4.1 6.5l-2.5 3l-4.9 3.5l-5.5 2z"/><path id="A32_2" d="M363.5 685.5l-7 0.3l-22-2.4l-12-3.1l-9-1.4l-4-1.2l-0.4-10.7l0.4-10.7l3.5-1.1l9-1.4l13.5-3.2l7 0.1l13.7 2.3l8.8 0.9l3-0.8l5.5-3.7l3.5-1.3l4.5-0.3l4.5 1.4l3.3 2.8l1.6 3.5l0.2 4l-1.6 4l-2.1 2.5l-5.4 4.7l-4.2 6.8l-2.8 3l-5 3.2l-6.5 1.8z"/><path id="A32_3" d="M360.5 684.5l-5-0.1l-21.5-2.5l-10.5-2.9l-9.5-1.3l-4.5-1.5l-0.3-9.2l0.3-9.2l4-1.4l9.5-1.2l13-3.2l6.5 0.2l11.5 1.9l11.5 1.2l3-0.6l5.5-4l3-1.3l4.5-0.3l4 1.2l2.7 2.2l1.4 3.5l-0.1 4l-1.6 3.5l-1.9 2l-5.5 4.2l-4.3 7.3l-3.2 3.3l-5.5 2.9l-7 1.3z"/><path id="A32_4" d="M363 683l-6.5 0.2l-11.6-1.7l-9.9-0.9l-11.5-3.1l-9-1.1l-4-1.2l-1-0.5l-0.1-1.7l0.1-13.7l4.5-1.6l10.1-1.2l5.4-1.1l5.5-1.8l3-0.3l4.5 0.2l11.5 1.9l13 1.4l2.5-0.8l4.5-3.8l3-1.5l4-0.4l3.5 0.8l2.5 1.8l1.2 2.6l0.2 3.5l-1.5 3.5l-1.9 2.1l-6 4.2l-3.6 6.7l-2.9 3.4l-4.5 2.7l-5 1.4z"/><path id="A32_5" d="M362 682l-5.5 0.1l-11-1.8l-10-0.9l-11.9-3.4l-8.1-0.7l-3.5-0.9l-2.5-1.3l0-12.2l4.5-1.9l15.5-1.8l5.5-2.1l3.5-0.5l30 3.6l2-0.8l4-3.9l2.5-1.4l3.5-0.6l3.5 0.7l2 1.5l1 2.3l-0.1 3l-1.3 3l-2.1 2l-6 3.6l-3.2 6.9l-2.8 3.5l-4.5 2.7l-5 1.3z"/><path id="A32_6" d="M361 681l-5-0.1l-10-1.7l-10-1l-12-3.6l-8-0.6l-3-0.7l-3.5-2.1l0-8.4l2-1.5l2.5-0.9l9-0.7l6-1.1l7-2.4l2.5-0.3l4 0.2l27.5 3.9l1.9-1l2.7-3.5l2.4-1.9l3-0.8l3 0.4l1.8 1.3l0.7 2l-0.1 2.5l-1.2 2.5l-2.2 1.7l-6.1 2.8l-2.6 7.5l-3.2 4l-4.1 2.3l-5 1.2z"/><path id="A32_7" d="M379.5 662.6l-3 0.1l-1.7-0.7l-0.5-1.5l0.4-2l1.1-2l1.7-1.5l2-0.7l2.5 0.2l1.7 1.5l0.1 3l-1.3 2.1l-3 1.5zM361 680l-5-0.1l-10-1.8l-10-1l-4-1l-8-3l-10-0.8l-2.5-1.2l-1.5-1.6l-0.5-1.1l0-2.8l1.5-2.3l3-1.6l10.5-0.9l13.5-3.8l4 0.1l8.5 1.4l9 0.9l6 1.2l5.7 1.9l1.5 1l0.5 3l-0.4 4.5l-1.6 3.5l-2.3 2.5l-3.6 2l-4.3 1z"/><path id="A32_8" d="M379.5 660.1l-1.6-0.6l-0.1-1.5l1.2-1.2l1.5-0.1l0.9 0.8l0 1l-0.6 1l-1.3 0.6zM360.5 679.1l-4.5-0.2l-9.5-1.9l-11-1.1l-12-4.6l-8.5-0.2l-2-0.9l-1.2-1.2l-0.6-1.5l0.1-1.5l1.2-1.8l2.3-1.2l9.2-0.3l11.5-4l3-0.6l25 3.1l4 1.5l2.6 1.8l1.3 2.5l0.1 3.5l-1.1 3l-2.4 2.7l-3.5 1.9l-4 1z"/><path id="A32_9" d="M360.5 678.1l-4.5-0.1l-9.5-2l-11-1.2l-4-1.5l-8-4.5l-5.6 0.7l-2.4-0.3l-1.7-1.2l-0.2-1.5l0.9-1.2l2-0.8l7 0.7l7.3-3.7l7.2-2.3l3.5 0l8.5 1.5l12 1.1l4 1.4l2.5 1.8l1.4 2.5l0.3 2.5l-1 3l-2.2 2.5l-3 1.7l-3.5 0.9z"/><path id="A32_10" d="M360 677.1l-4-0.1l-9-2l-12-1.5l-3-1.3l-2.5-1.7l-1.8-2l-0.4-2l1.2-2l2-1.6l4-1.8l3.5-0.9l3.5 0.1l8.5 1.4l9 0.5l3.9 0.8l2.6 1.2l2.1 1.8l1 2l0.1 2.5l-0.7 2l-2 2.2l-3 1.6l-3 0.8z"/><path id="A32_11" d="M358.5 676l-4-0.3l-8-1.9l-7.5-0.6l-3.5-0.7l-3-1.4l-1.8-1.6l-1-2l0.1-1.5l1-1.5l2-1.5l2.7-1.2l3-0.5l3.5 0.1l7.5 1.4l9 0.2l4 0.9l2.5 1.2l1.8 1.9l0.6 2l-0.3 2l-1.1 1.7l-2 1.6l-2.7 1.2l-2.8 0.5z"/><path id="A32_12" d="M358.5 674.6l-3.5 0.1l-8-2l-10.7-1.2l-2.2-1l-1.6-1.5l-0.7-1.5l0.1-1.5l1.1-1.5l1.5-1l4.5-1.1l10 1.5l8.5 0l3.8 0.6l2.2 1l1.5 1.3l0.8 1.7l-0.2 1.5l-1.6 2l-5.5 2.6z"/><path id="A32_13" d="M357 673.2l-3 0.1l-7.5-2.1l-8.8-0.7l-2.8-1.5l-0.7-1l-0.2-1.5l1.8-2l3.2-0.8l9.5 1.6l8-0.5l4 0.6l2.6 1.6l0.6 1l-0.2 1.3l-1.3 1.2l-5.2 2.7z"/><path id="A32_14" d="M355 672l-2.9-0.5l-5.1-2.4l-6 0.3l-2.5-0.4l-1.6-1l-0.3-1l0.9-1.2l2-0.5l2.5 0.3l5 1.7l8-1.3l4 0.2l2 1.3l0 1.2l-3.5 2.5l-2.5 0.8z"/><clipPath id="cA32"><rect x="325" y="576" width="139.8" height="156.29999999999995"/></clipPath></defs><g clip-path="url(#cA32)"><use href="#A32_3" fill="#969696"/><use href="#A32_4" fill="#fff"/><use href="#A32_5" fill="#969696"/><use href="#A32_6" fill="#fff"/><use href="#A32_7" fill="#969696"/><use href="#A32_8" fill="#fff"/><use href="#A32_9" fill="#969696"/><use href="#A32_10" fill="#fff"/><use href="#A32_11" fill="#969696"/><use href="#A32_12" fill="#fff"/><use href="#A32_13" fill="#969696"/><use href="#A32_14" fill="#fff"/></g><g fill="none" stroke-width="0.75"><use href="#A32_0" stroke="#7a7a7a"/><use href="#A32_1" stroke="#7a7a7a"/><use href="#A32_2" stroke="#7a7a7a"/><use href="#A32_3" stroke="#565656"/><use href="#A32_4" stroke="#565656"/><use href="#A32_5" stroke="#565656"/><use href="#A32_6" stroke="#565656"/><use href="#A32_7" stroke="#565656"/><use href="#A32_8" stroke="#565656"/><use href="#A32_9" stroke="#565656"/><use href="#A32_10" stroke="#565656"/><use href="#A32_11" stroke="#565656"/><use href="#A32_12" stroke="#565656"/><use href="#A32_13" stroke="#565656"/><use href="#A32_14" stroke="#565656"/></g>
<rect x="308.60" y="576.00" width="156.20" height="156.30" fill="none" stroke="#222" stroke-width="1.2"/>
<line x1="371.50" y1="576.00" x2="371.50" y2="734.30" stroke="#1a1a1a" stroke-width="2.6"/>
<line x1="308.60" y1="699.30" x2="464.80" y2="699.30" stroke="#1a1a1a" stroke-width="2.6"/>
<line x1="299.35" y1="701.04" x2="308.60" y2="701.04" stroke="#1c1c1c" stroke-width="1.4"/>
<line x1="304.40" y1="690.06" x2="308.60" y2="690.06" stroke="#1c1c1c" stroke-width="1.1"/>
<line x1="304.40" y1="683.64" x2="308.60" y2="683.64" stroke="#1c1c1c" stroke-width="1.1"/>
<line x1="304.40" y1="679.08" x2="308.60" y2="679.08" stroke="#1c1c1c" stroke-width="1.1"/>
<line x1="301.60" y1="675.55" x2="308.60" y2="675.55" stroke="#1c1c1c" stroke-width="1.1"/>
<line x1="304.40" y1="672.66" x2="308.60" y2="672.66" stroke="#1c1c1c" stroke-width="1.1"/>
<line x1="304.40" y1="670.22" x2="308.60" y2="670.22" stroke="#1c1c1c" stroke-width="1.1"/>
<line x1="304.40" y1="668.10" x2="308.60" y2="668.10" stroke="#1c1c1c" stroke-width="1.1"/>
<line x1="304.40" y1="666.24" x2="308.60" y2="666.24" stroke="#1c1c1c" stroke-width="1.1"/>
<line x1="299.35" y1="662.90" x2="308.60" y2="662.90" stroke="#1c1c1c" stroke-width="1.4"/>
<line x1="304.40" y1="651.92" x2="308.60" y2="651.92" stroke="#1c1c1c" stroke-width="1.1"/>
<line x1="304.40" y1="645.50" x2="308.60" y2="645.50" stroke="#1c1c1c" stroke-width="1.1"/>
<line x1="304.40" y1="640.95" x2="308.60" y2="640.95" stroke="#1c1c1c" stroke-width="1.1"/>
<line x1="301.60" y1="637.41" x2="308.60" y2="637.41" stroke="#1c1c1c" stroke-width="1.1"/>
<line x1="304.40" y1="634.52" x2="308.60" y2="634.52" stroke="#1c1c1c" stroke-width="1.1"/>
<line x1="304.40" y1="632.08" x2="308.60" y2="632.08" stroke="#1c1c1c" stroke-width="1.1"/>
<line x1="304.40" y1="629.97" x2="308.60" y2="629.97" stroke="#1c1c1c" stroke-width="1.1"/>
<line x1="304.40" y1="628.10" x2="308.60" y2="628.10" stroke="#1c1c1c" stroke-width="1.1"/>
<line x1="299.35" y1="627.74" x2="308.60" y2="627.74" stroke="#1c1c1c" stroke-width="1.4"/>
<line x1="304.40" y1="616.76" x2="308.60" y2="616.76" stroke="#1c1c1c" stroke-width="1.1"/>
<line x1="304.40" y1="610.33" x2="308.60" y2="610.33" stroke="#1c1c1c" stroke-width="1.1"/>
<line x1="304.40" y1="605.78" x2="308.60" y2="605.78" stroke="#1c1c1c" stroke-width="1.1"/>
<line x1="301.60" y1="602.24" x2="308.60" y2="602.24" stroke="#1c1c1c" stroke-width="1.1"/>
<line x1="304.40" y1="599.36" x2="308.60" y2="599.36" stroke="#1c1c1c" stroke-width="1.1"/>
<line x1="304.40" y1="596.91" x2="308.60" y2="596.91" stroke="#1c1c1c" stroke-width="1.1"/>
<line x1="304.40" y1="594.80" x2="308.60" y2="594.80" stroke="#1c1c1c" stroke-width="1.1"/>
<line x1="304.40" y1="592.93" x2="308.60" y2="592.93" stroke="#1c1c1c" stroke-width="1.1"/>
<line x1="299.35" y1="591.63" x2="308.60" y2="591.63" stroke="#1c1c1c" stroke-width="1.4"/>
<line x1="304.40" y1="580.65" x2="308.60" y2="580.65" stroke="#1c1c1c" stroke-width="1.1"/>
<line x1="299.35" y1="716.98" x2="308.60" y2="716.98" stroke="#1c1c1c" stroke-width="1.4"/>
<line x1="299.35" y1="732.30" x2="308.60" y2="732.30" stroke="#1c1c1c" stroke-width="1.4"/>
<line x1="301.60" y1="708.29" x2="308.60" y2="708.29" stroke="#1c1c1c" stroke-width="1.1"/>
<line x1="301.60" y1="724.23" x2="308.60" y2="724.23" stroke="#1c1c1c" stroke-width="1.1"/>
<rect x="304.40" y="701.34" width="4.2" height="4.70" fill="#1c1c1c"/>
<rect x="304.40" y="712.04" width="4.2" height="4.50" fill="#1c1c1c"/>
<rect x="304.40" y="717.98" width="4.2" height="5.00" fill="#1c1c1c"/>
<rect x="304.40" y="728.80" width="4.2" height="3.20" fill="#1c1c1c"/>
<line x1="340.15" y1="732.30" x2="340.15" y2="741.80" stroke="#1c1c1c" stroke-width="1.4"/>
<line x1="351.06" y1="732.30" x2="351.06" y2="736.50" stroke="#1c1c1c" stroke-width="1.1"/>
<line x1="357.44" y1="732.30" x2="357.44" y2="736.50" stroke="#1c1c1c" stroke-width="1.1"/>
<line x1="361.97" y1="732.30" x2="361.97" y2="736.50" stroke="#1c1c1c" stroke-width="1.1"/>
<line x1="365.48" y1="732.30" x2="365.48" y2="739.30" stroke="#1c1c1c" stroke-width="1.1"/>
<line x1="368.35" y1="732.30" x2="368.35" y2="736.50" stroke="#1c1c1c" stroke-width="1.1"/>
<line x1="370.78" y1="732.30" x2="370.78" y2="736.50" stroke="#1c1c1c" stroke-width="1.1"/>
<line x1="372.88" y1="732.30" x2="372.88" y2="736.50" stroke="#1c1c1c" stroke-width="1.1"/>
<line x1="374.73" y1="732.30" x2="374.73" y2="736.50" stroke="#1c1c1c" stroke-width="1.1"/>
<line x1="378.42" y1="732.30" x2="378.42" y2="741.80" stroke="#1c1c1c" stroke-width="1.4"/>
<line x1="389.33" y1="732.30" x2="389.33" y2="736.50" stroke="#1c1c1c" stroke-width="1.1"/>
<line x1="395.71" y1="732.30" x2="395.71" y2="736.50" stroke="#1c1c1c" stroke-width="1.1"/>
<line x1="400.24" y1="732.30" x2="400.24" y2="736.50" stroke="#1c1c1c" stroke-width="1.1"/>
<line x1="403.75" y1="732.30" x2="403.75" y2="739.30" stroke="#1c1c1c" stroke-width="1.1"/>
<line x1="406.62" y1="732.30" x2="406.62" y2="736.50" stroke="#1c1c1c" stroke-width="1.1"/>
<line x1="409.05" y1="732.30" x2="409.05" y2="736.50" stroke="#1c1c1c" stroke-width="1.1"/>
<line x1="411.15" y1="732.30" x2="411.15" y2="736.50" stroke="#1c1c1c" stroke-width="1.1"/>
<line x1="413.00" y1="732.30" x2="413.00" y2="736.50" stroke="#1c1c1c" stroke-width="1.1"/>
<line x1="413.72" y1="732.30" x2="413.72" y2="741.80" stroke="#1c1c1c" stroke-width="1.4"/>
<line x1="424.63" y1="732.30" x2="424.63" y2="736.50" stroke="#1c1c1c" stroke-width="1.1"/>
<line x1="431.01" y1="732.30" x2="431.01" y2="736.50" stroke="#1c1c1c" stroke-width="1.1"/>
<line x1="435.54" y1="732.30" x2="435.54" y2="736.50" stroke="#1c1c1c" stroke-width="1.1"/>
<line x1="439.05" y1="732.30" x2="439.05" y2="739.30" stroke="#1c1c1c" stroke-width="1.1"/>
<line x1="441.92" y1="732.30" x2="441.92" y2="736.50" stroke="#1c1c1c" stroke-width="1.1"/>
<line x1="444.35" y1="732.30" x2="444.35" y2="736.50" stroke="#1c1c1c" stroke-width="1.1"/>
<line x1="446.45" y1="732.30" x2="446.45" y2="736.50" stroke="#1c1c1c" stroke-width="1.1"/>
<line x1="448.30" y1="732.30" x2="448.30" y2="736.50" stroke="#1c1c1c" stroke-width="1.1"/>
<line x1="448.87" y1="732.30" x2="448.87" y2="741.80" stroke="#1c1c1c" stroke-width="1.4"/>
<line x1="459.78" y1="732.30" x2="459.78" y2="736.50" stroke="#1c1c1c" stroke-width="1.1"/>
<line x1="308.60" y1="732.30" x2="308.60" y2="741.80" stroke="#1c1c1c" stroke-width="1.4"/>
<line x1="324.00" y1="732.30" x2="324.00" y2="741.80" stroke="#1c1c1c" stroke-width="2.2"/>
<line x1="316.00" y1="732.30" x2="316.00" y2="739.30" stroke="#1c1c1c" stroke-width="1.1"/>
<line x1="333.20" y1="732.30" x2="333.20" y2="739.30" stroke="#1c1c1c" stroke-width="1.1"/>
<rect x="309.10" y="732.30" width="4.80" height="4.2" fill="#1c1c1c"/>
<rect x="317.40" y="732.30" width="4.10" height="4.2" fill="#1c1c1c"/>
<rect x="327.60" y="732.30" width="3.50" height="4.2" fill="#1c1c1c"/>
<rect x="335.20" y="732.30" width="4.90" height="4.2" fill="#1c1c1c"/>
<text x="266.88" y="603.63" font-size="16.71" font-weight="normal" fill="#1e1e1e">10</text>
<text x="285.02" y="592.63" font-size="16.67" font-weight="normal" fill="#1e1e1e">5</text>
<text x="266.88" y="639.74" font-size="16.71" font-weight="normal" fill="#1e1e1e">10</text>
<text x="284.85" y="628.74" font-size="16.67" font-weight="normal" fill="#1e1e1e">4</text>
<text x="266.88" y="674.90" font-size="16.71" font-weight="normal" fill="#1e1e1e">10</text>
<text x="285.14" y="663.90" font-size="16.43" font-weight="normal" fill="#1e1e1e">3</text>
<text x="266.88" y="713.04" font-size="16.71" font-weight="normal" fill="#1e1e1e">10</text>
<text x="285.30" y="702.04" font-size="16.43" font-weight="normal" fill="#1e1e1e">2</text>
<text x="277.56" y="725.98" font-size="16.43" font-weight="normal" fill="#1e1e1e">0</text>
<text x="310.16" y="771.70" font-size="15.86" font-weight="normal" fill="#1e1e1e">0</text>
<text x="331.03" y="771.70" font-size="15.86" font-weight="normal" fill="#1e1e1e">10</text>
<text x="349.31" y="760.70" font-size="15.43" font-weight="normal" fill="#1e1e1e">2</text>
<text x="369.30" y="771.70" font-size="15.86" font-weight="normal" fill="#1e1e1e">10</text>
<text x="387.73" y="760.70" font-size="15.43" font-weight="normal" fill="#1e1e1e">3</text>
<text x="404.60" y="771.70" font-size="15.86" font-weight="normal" fill="#1e1e1e">10</text>
<text x="423.34" y="760.70" font-size="15.65" font-weight="normal" fill="#1e1e1e">4</text>
<text x="439.75" y="771.70" font-size="15.86" font-weight="normal" fill="#1e1e1e">10</text>
<text x="458.17" y="760.70" font-size="15.65" font-weight="normal" fill="#1e1e1e">5</text>
<text x="316.66" y="603.30" font-size="25.43" font-weight="normal" fill="#000">88</text>
<text x="426.04" y="605.50" font-size="26.00" font-weight="normal" fill="#000">12</text>
<defs><path id="A33_0" d="M590 686l-25 0l-11-1.7l-5.5-1.5l-12.5-4.6l-7.5-3.9l-1.5-1.1l-0.3-3.7l-0.1-19l0.4-9.6l5.5-3.2l6-1.6l16.5-0.8l7 0.6l4 1l4 1.8l11 8.3l11 5.8l3.5 3.2l2.8 4.5l1.4 4.5l0.2 5l-1 5.5l-2.1 4.5l-3.3 4l-3.5 2z"/><path id="A33_1" d="M585 685l-12 0.1l-19.5-3.7l-17.5-6.1l-6-3.1l-3-2.7l-0.4-12.5l0.4-12.4l5-3.8l6-2l16-0.7l6.5 0.4l4 0.9l3.5 1.5l10.6 7.6l12.4 6l3.7 3.5l2.4 4.5l1.1 5l-0.4 5.5l-2 5.5l-2.8 3.6l-3.5 2.1l-4.5 0.8z"/><path id="A33_2" d="M580.5 683.5l-8.5-0.3l-19-4.2l-15.5-5.4l-5.5-2.7l-3-2.4l-2-2.4l0-18.1l2-2.4l2.5-2l6-2.5l6-0.7l16 0.2l3.5 0.7l3.5 1.4l10.5 7.2l13.5 6.2l3.8 3.9l2 4.5l0.6 5.5l-1.1 5.5l-2.3 4l-3 2.6l-3.5 1.1l-6.5 0.3z"/><path id="A33_3" d="M586.5 682l-10 0.3l-5.5-0.6l-19.5-5l-17-6.2l-4.6-3.5l-2.9-4.5l0-10.7l0.8-1.8l1.8-2.5l2.2-2l2.7-1.6l3-1.1l5.5-0.7l15.5 0.1l3.5 0.7l3.5 1.2l10.1 6.9l13.4 5.6l3.1 2.4l2.4 3.5l1.2 4l0.2 4.5l-1.2 4.5l-2.2 3.5l-2.5 2l-3.5 1z"/><path id="A33_4" d="M579 681l-7-0.4l-10-3l-8.5-2l-14.5-4.9l-4.7-2.2l-3.9-3.5l-2.5-5l-0.1-5l2-5l3.7-3.7l5.5-2.2l5-0.4l15 0.3l6 1.7l10 6.7l14.5 5.9l3.3 3.2l1.9 4.5l0.2 5l-1.2 4.5l-2.1 3l-2.6 1.8l-3 0.6l-7 0.1z"/><path id="A33_5" d="M587.5 679.6l-11 0.3l-4.5-0.6l-10-3.3l-9.5-2.3l-15.5-5.5l-4-2.7l-2.8-4l-1-4.5l1-4.5l1.6-2.5l2.2-2.1l3-1.6l3-0.7l17-0.2l4 0.6l3.5 1.3l9.4 6.2l14.6 5.4l3.5 3.1l1.3 2.5l0.7 2.5l-0.2 5.5l-0.8 2.5l-1.5 2.2l-2 1.6l-2 0.8z"/><path id="A33_6" d="M587 678.6l-10.5 0.1l-4-0.5l-10-3.5l-10-2.6l-14.5-5.2l-3.7-2.4l-2.6-3.5l-0.8-4l0.9-4l1.3-2l1.9-1.8l4.5-1.9l4-0.5l14.5 0.2l6 1.8l9.5 6.1l14 4.7l2.5 1.7l1.8 2.2l1.2 3l0.4 3l-0.6 3.5l-1.3 2.7l-2 1.9l-2.5 1z"/><path id="A33_7" d="M587 677.6l-10.5 0.1l-4-0.5l-9.5-3.7l-9.5-2.5l-14.5-5.2l-3.5-2.2l-2.1-2.6l-1-3.5l0.7-3.5l1.1-2l1.8-1.7l2.5-1.3l2.5-0.6l15.5-0.1l6 1.3l9.2 5.9l14.8 4.8l2.4 1.2l1.6 1.5l1.9 4l-0.1 5l-1.8 3.6l-1.5 1.3l-2 0.7z"/><path id="A33_8" d="M587 676.6l-10.5 0.1l-3.5-0.5l-10-4.2l-9-2.3l-13.5-4.9l-3.2-1.8l-2.2-2.5l-0.9-3l0.5-3l2.5-3l4.3-1.6l15-0.2l5.5 1.3l9 5.7l15 4.4l3.5 2.2l2 3.4l0.3 4.3l-1.8 3.8l-3 1.8z"/><path id="A33_9" d="M587 675.6l-10.5 0.1l-3.5-0.5l-9.5-4.5l-9.5-2.5l-12.5-4.7l-2.8-1.5l-1.9-2l-0.7-2l0.2-2.5l2.2-2.8l3.5-1.2l14-0.4l5 1l9 5.6l15.5 4.3l3.5 2l1.8 3l0.2 4l-1.5 3.1l-2.5 1.5z"/><path id="A33_10" d="M587 674.6l-10.5 0.2l-4.5-0.9l-8.5-4.7l-9-2.2l-13.1-5.5l-2.8-2.5l-0.4-1.5l0.2-1.5l1.9-2l3.2-0.9l12-0.6l5 0.9l8.5 5.4l10 2.2l7 2.2l2 1.1l2 2.7l0.4 3l-1.1 3l-2.3 1.6z"/><path id="A33_11" d="M587 673.6l-10.5 0.2l-3.5-0.6l-2.5-1.2l-6.5-4.3l-9.3-2.2l-10.1-5l-2.3-1.5l-0.6-1l0-1l0.9-1l1.9-0.7l9.5-1.2l3.5 0l4 1.4l6.5 4.6l9 1.4l8.5 2.5l2.5 1.5l1.5 3l-0.5 3.3l-2 1.8z"/><path id="A33_12" d="M586.5 672.5l-10 0.4l-3.5-0.8l-2.7-1.6l-5.8-5.3l-7-0.7l-4-1.5l-3.2-2.5l-0.8-2l1-1.2l2.5-1.1l2.5-0.4l2.5 0.1l3.3 1.6l5.2 4.6l9.5 0.2l9.5 2.9l2 1.2l1.1 2.1l-0.3 2.5l-1.8 1.5z"/><path id="A33_13" d="M559 661.5l-2.5-0.2l-1.1-0.8l-0.1-1l1.2-0.8l1.9 0.3l1.3 1.5l-0.7 1zM579 671.6l-4 0l-3-1.4l-2.3-2.7l-0.4-1.5l0.4-1l2.3-1.3l4-0.2l10.2 3.5l1.2 2l-0.9 2l-7.5 0.6z"/><path id="A33_14" d="M577.5 670.6l-2.5-0.2l-2-1.1l-1.3-1.8l0.3-1.6l2-1.1l2.5-0.1l2.3 0.8l3 2l0.6 1l-0.5 0.5l-4.4 1.6z"/><clipPath id="cA33"><rect x="548" y="577" width="134.60000000000002" height="156.29999999999995"/></clipPath></defs><g clip-path="url(#cA33)"><use href="#A33_3" fill="#969696"/><use href="#A33_4" fill="#fff"/><use href="#A33_5" fill="#969696"/><use href="#A33_6" fill="#fff"/><use href="#A33_7" fill="#969696"/><use href="#A33_8" fill="#fff"/><use href="#A33_9" fill="#969696"/><use href="#A33_10" fill="#fff"/><use href="#A33_11" fill="#969696"/><use href="#A33_12" fill="#fff"/><use href="#A33_13" fill="#969696"/><use href="#A33_14" fill="#fff"/></g><g fill="none" stroke-width="0.75"><use href="#A33_0" stroke="#7a7a7a"/><use href="#A33_1" stroke="#7a7a7a"/><use href="#A33_2" stroke="#7a7a7a"/><use href="#A33_3" stroke="#565656"/><use href="#A33_4" stroke="#565656"/><use href="#A33_5" stroke="#565656"/><use href="#A33_6" stroke="#565656"/><use href="#A33_7" stroke="#565656"/><use href="#A33_8" stroke="#565656"/><use href="#A33_9" stroke="#565656"/><use href="#A33_10" stroke="#565656"/><use href="#A33_11" stroke="#565656"/><use href="#A33_12" stroke="#565656"/><use href="#A33_13" stroke="#565656"/><use href="#A33_14" stroke="#565656"/></g>
<rect x="525.80" y="577.00" width="156.80" height="156.30" fill="none" stroke="#222" stroke-width="1.2"/>
<line x1="589.60" y1="577.00" x2="589.60" y2="735.30" stroke="#1a1a1a" stroke-width="2.6"/>
<line x1="525.80" y1="700.80" x2="682.60" y2="700.80" stroke="#1a1a1a" stroke-width="2.6"/>
<line x1="516.55" y1="702.04" x2="525.80" y2="702.04" stroke="#1c1c1c" stroke-width="1.4"/>
<line x1="521.60" y1="691.06" x2="525.80" y2="691.06" stroke="#1c1c1c" stroke-width="1.1"/>
<line x1="521.60" y1="684.64" x2="525.80" y2="684.64" stroke="#1c1c1c" stroke-width="1.1"/>
<line x1="521.60" y1="680.08" x2="525.80" y2="680.08" stroke="#1c1c1c" stroke-width="1.1"/>
<line x1="518.80" y1="676.55" x2="525.80" y2="676.55" stroke="#1c1c1c" stroke-width="1.1"/>
<line x1="521.60" y1="673.66" x2="525.80" y2="673.66" stroke="#1c1c1c" stroke-width="1.1"/>
<line x1="521.60" y1="671.22" x2="525.80" y2="671.22" stroke="#1c1c1c" stroke-width="1.1"/>
<line x1="521.60" y1="669.10" x2="525.80" y2="669.10" stroke="#1c1c1c" stroke-width="1.1"/>
<line x1="521.60" y1="667.24" x2="525.80" y2="667.24" stroke="#1c1c1c" stroke-width="1.1"/>
<line x1="516.55" y1="663.90" x2="525.80" y2="663.90" stroke="#1c1c1c" stroke-width="1.4"/>
<line x1="521.60" y1="652.92" x2="525.80" y2="652.92" stroke="#1c1c1c" stroke-width="1.1"/>
<line x1="521.60" y1="646.50" x2="525.80" y2="646.50" stroke="#1c1c1c" stroke-width="1.1"/>
<line x1="521.60" y1="641.95" x2="525.80" y2="641.95" stroke="#1c1c1c" stroke-width="1.1"/>
<line x1="518.80" y1="638.41" x2="525.80" y2="638.41" stroke="#1c1c1c" stroke-width="1.1"/>
<line x1="521.60" y1="635.52" x2="525.80" y2="635.52" stroke="#1c1c1c" stroke-width="1.1"/>
<line x1="521.60" y1="633.08" x2="525.80" y2="633.08" stroke="#1c1c1c" stroke-width="1.1"/>
<line x1="521.60" y1="630.97" x2="525.80" y2="630.97" stroke="#1c1c1c" stroke-width="1.1"/>
<line x1="521.60" y1="629.10" x2="525.80" y2="629.10" stroke="#1c1c1c" stroke-width="1.1"/>
<line x1="516.55" y1="628.74" x2="525.80" y2="628.74" stroke="#1c1c1c" stroke-width="1.4"/>
<line x1="521.60" y1="617.76" x2="525.80" y2="617.76" stroke="#1c1c1c" stroke-width="1.1"/>
<line x1="521.60" y1="611.33" x2="525.80" y2="611.33" stroke="#1c1c1c" stroke-width="1.1"/>
<line x1="521.60" y1="606.78" x2="525.80" y2="606.78" stroke="#1c1c1c" stroke-width="1.1"/>
<line x1="518.80" y1="603.24" x2="525.80" y2="603.24" stroke="#1c1c1c" stroke-width="1.1"/>
<line x1="521.60" y1="600.36" x2="525.80" y2="600.36" stroke="#1c1c1c" stroke-width="1.1"/>
<line x1="521.60" y1="597.91" x2="525.80" y2="597.91" stroke="#1c1c1c" stroke-width="1.1"/>
<line x1="521.60" y1="595.80" x2="525.80" y2="595.80" stroke="#1c1c1c" stroke-width="1.1"/>
<line x1="521.60" y1="593.93" x2="525.80" y2="593.93" stroke="#1c1c1c" stroke-width="1.1"/>
<line x1="516.55" y1="592.63" x2="525.80" y2="592.63" stroke="#1c1c1c" stroke-width="1.4"/>
<line x1="521.60" y1="581.65" x2="525.80" y2="581.65" stroke="#1c1c1c" stroke-width="1.1"/>
<line x1="516.55" y1="717.98" x2="525.80" y2="717.98" stroke="#1c1c1c" stroke-width="1.4"/>
<line x1="516.55" y1="733.30" x2="525.80" y2="733.30" stroke="#1c1c1c" stroke-width="1.4"/>
<line x1="518.80" y1="709.29" x2="525.80" y2="709.29" stroke="#1c1c1c" stroke-width="1.1"/>
<line x1="518.80" y1="725.23" x2="525.80" y2="725.23" stroke="#1c1c1c" stroke-width="1.1"/>
<rect x="521.60" y="702.34" width="4.2" height="4.70" fill="#1c1c1c"/>
<rect x="521.60" y="713.04" width="4.2" height="4.50" fill="#1c1c1c"/>
<rect x="521.60" y="718.98" width="4.2" height="5.00" fill="#1c1c1c"/>
<rect x="521.60" y="729.80" width="4.2" height="3.20" fill="#1c1c1c"/>
<line x1="557.47" y1="733.30" x2="557.47" y2="742.80" stroke="#1c1c1c" stroke-width="1.4"/>
<line x1="568.42" y1="733.30" x2="568.42" y2="737.50" stroke="#1c1c1c" stroke-width="1.1"/>
<line x1="574.83" y1="733.30" x2="574.83" y2="737.50" stroke="#1c1c1c" stroke-width="1.1"/>
<line x1="579.38" y1="733.30" x2="579.38" y2="737.50" stroke="#1c1c1c" stroke-width="1.1"/>
<line x1="582.90" y1="733.30" x2="582.90" y2="740.30" stroke="#1c1c1c" stroke-width="1.1"/>
<line x1="585.78" y1="733.30" x2="585.78" y2="737.50" stroke="#1c1c1c" stroke-width="1.1"/>
<line x1="588.22" y1="733.30" x2="588.22" y2="737.50" stroke="#1c1c1c" stroke-width="1.1"/>
<line x1="590.33" y1="733.30" x2="590.33" y2="737.50" stroke="#1c1c1c" stroke-width="1.1"/>
<line x1="592.19" y1="733.30" x2="592.19" y2="737.50" stroke="#1c1c1c" stroke-width="1.1"/>
<line x1="595.89" y1="733.30" x2="595.89" y2="742.80" stroke="#1c1c1c" stroke-width="1.4"/>
<line x1="606.84" y1="733.30" x2="606.84" y2="737.50" stroke="#1c1c1c" stroke-width="1.1"/>
<line x1="613.25" y1="733.30" x2="613.25" y2="737.50" stroke="#1c1c1c" stroke-width="1.1"/>
<line x1="617.79" y1="733.30" x2="617.79" y2="737.50" stroke="#1c1c1c" stroke-width="1.1"/>
<line x1="621.32" y1="733.30" x2="621.32" y2="740.30" stroke="#1c1c1c" stroke-width="1.1"/>
<line x1="624.20" y1="733.30" x2="624.20" y2="737.50" stroke="#1c1c1c" stroke-width="1.1"/>
<line x1="626.63" y1="733.30" x2="626.63" y2="737.50" stroke="#1c1c1c" stroke-width="1.1"/>
<line x1="628.74" y1="733.30" x2="628.74" y2="737.50" stroke="#1c1c1c" stroke-width="1.1"/>
<line x1="630.60" y1="733.30" x2="630.60" y2="737.50" stroke="#1c1c1c" stroke-width="1.1"/>
<line x1="631.33" y1="733.30" x2="631.33" y2="742.80" stroke="#1c1c1c" stroke-width="1.4"/>
<line x1="642.28" y1="733.30" x2="642.28" y2="737.50" stroke="#1c1c1c" stroke-width="1.1"/>
<line x1="648.68" y1="733.30" x2="648.68" y2="737.50" stroke="#1c1c1c" stroke-width="1.1"/>
<line x1="653.23" y1="733.30" x2="653.23" y2="737.50" stroke="#1c1c1c" stroke-width="1.1"/>
<line x1="656.75" y1="733.30" x2="656.75" y2="740.30" stroke="#1c1c1c" stroke-width="1.1"/>
<line x1="659.63" y1="733.30" x2="659.63" y2="737.50" stroke="#1c1c1c" stroke-width="1.1"/>
<line x1="662.07" y1="733.30" x2="662.07" y2="737.50" stroke="#1c1c1c" stroke-width="1.1"/>
<line x1="664.18" y1="733.30" x2="664.18" y2="737.50" stroke="#1c1c1c" stroke-width="1.1"/>
<line x1="666.04" y1="733.30" x2="666.04" y2="737.50" stroke="#1c1c1c" stroke-width="1.1"/>
<line x1="666.61" y1="733.30" x2="666.61" y2="742.80" stroke="#1c1c1c" stroke-width="1.4"/>
<line x1="677.56" y1="733.30" x2="677.56" y2="737.50" stroke="#1c1c1c" stroke-width="1.1"/>
<line x1="525.80" y1="733.30" x2="525.80" y2="742.80" stroke="#1c1c1c" stroke-width="1.4"/>
<line x1="541.20" y1="733.30" x2="541.20" y2="742.80" stroke="#1c1c1c" stroke-width="2.2"/>
<line x1="533.20" y1="733.30" x2="533.20" y2="740.30" stroke="#1c1c1c" stroke-width="1.1"/>
<line x1="550.40" y1="733.30" x2="550.40" y2="740.30" stroke="#1c1c1c" stroke-width="1.1"/>
<rect x="526.30" y="733.30" width="4.80" height="4.2" fill="#1c1c1c"/>
<rect x="534.60" y="733.30" width="4.10" height="4.2" fill="#1c1c1c"/>
<rect x="544.80" y="733.30" width="3.50" height="4.2" fill="#1c1c1c"/>
<rect x="552.40" y="733.30" width="4.90" height="4.2" fill="#1c1c1c"/>
<text x="484.08" y="604.63" font-size="16.71" font-weight="normal" fill="#1e1e1e">10</text>
<text x="502.22" y="593.63" font-size="16.67" font-weight="normal" fill="#1e1e1e">5</text>
<text x="484.08" y="640.74" font-size="16.71" font-weight="normal" fill="#1e1e1e">10</text>
<text x="502.05" y="629.74" font-size="16.67" font-weight="normal" fill="#1e1e1e">4</text>
<text x="484.08" y="675.90" font-size="16.71" font-weight="normal" fill="#1e1e1e">10</text>
<text x="502.34" y="664.90" font-size="16.43" font-weight="normal" fill="#1e1e1e">3</text>
<text x="484.08" y="714.04" font-size="16.71" font-weight="normal" fill="#1e1e1e">10</text>
<text x="502.50" y="703.04" font-size="16.43" font-weight="normal" fill="#1e1e1e">2</text>
<text x="494.76" y="726.98" font-size="16.43" font-weight="normal" fill="#1e1e1e">0</text>
<text x="527.36" y="772.70" font-size="15.86" font-weight="normal" fill="#1e1e1e">0</text>
<text x="548.36" y="772.70" font-size="15.86" font-weight="normal" fill="#1e1e1e">10</text>
<text x="566.63" y="761.70" font-size="15.43" font-weight="normal" fill="#1e1e1e">2</text>
<text x="586.77" y="772.70" font-size="15.86" font-weight="normal" fill="#1e1e1e">10</text>
<text x="605.20" y="761.70" font-size="15.43" font-weight="normal" fill="#1e1e1e">3</text>
<text x="622.21" y="772.70" font-size="15.86" font-weight="normal" fill="#1e1e1e">10</text>
<text x="640.94" y="761.70" font-size="15.65" font-weight="normal" fill="#1e1e1e">4</text>
<text x="657.49" y="772.70" font-size="15.86" font-weight="normal" fill="#1e1e1e">10</text>
<text x="675.91" y="761.70" font-size="15.65" font-weight="normal" fill="#1e1e1e">5</text>
<text x="534.24" y="603.70" font-size="25.71" font-weight="normal" fill="#000">98</text>
<text x="650.51" y="604.00" font-size="25.71" font-weight="normal" fill="#000">2</text>
<defs><path id="B11_0" d="M173 1034l-22 0.4l-23.3-0.4l-10.2-1.7l-10.5-4.6l-7 1.8l-3.5 0.2l-0.5-11.7l0.5-11.7l4 0.3l5.5 1.7l2.5-0.4l5.5-3.1l9-4l10-9.9l4-2.7l4.5-2l4-1l16.5-2.5l3-0.1l3 0.7l4.5 2.7l4.2 5l3.1 7l1.6 8l0.1 8.5l-1.6 8l-3.1 7l-3.8 4.5z"/><path id="B11_1" d="M168.5 1034l-28.9 0l-6.8-2l-9.8-1.1l-4.5-1l-4-1.6l-6.5-4l-2 0.3l-5.5 2.7l-4 0.5l-0.4-9.8l0.4-9.8l4 0.5l6 2.9l2 0l7.5-5l7.1-2.6l2.7-1.5l8.7-8.8l6-3.7l5.5-1.6l8.5-1.1l7-1.5l3-0.1l3 0.6l2.5 1.2l2.4 2l3.9 5.5l2.4 7l1 7.5l-0.6 7.5l-2.3 7.5l-3.8 6l-4.5 3.5z"/><path id="B11_2" d="M155.5 1033.5l-9-0.3l-12-3.3l-11-1l-4.5-1.1l-3.5-1.6l-2.8-2.2l-3.1-4l-0.7-2.5l2.8-4.5l3.8-3.5l3-1.8l5.7-1.7l3.3-1.6l8-8.2l5-3.4l5.5-1.9l8.5-1.1l7-1.5l3-0.2l2.5 0.5l3 1.6l2.4 2.3l2.4 3.5l1.5 3.5l1.3 5l0.5 4.5l-0.2 5l-0.8 4.5l-2.8 7l-2.3 3.2l-2.5 2.2l-2.5 1.3l-3 0.9l-8.5 0.4zM99 1026l-2.5 0.2l-0.4-8.2l0.4-8.2l3.5 0.4l3 1.6l3.1 3.2l1.5 3l-1.2 2.5l-2.6 3l-2.3 1.6l-2.5 0.9z"/><path id="B11_3" d="M161 1031.5l-13.5-0.1l-13-3.4l-9.5-0.7l-4.5-0.9l-4-1.9l-2.6-2.5l-1.3-3l0.2-3l1.4-2.5l2.8-2.7l2.5-1.4l6.1-1.9l3.1-1.5l2.3-1.9l5.5-6.1l5-3.5l5-1.7l8-1.1l6.5-1.5l3-0.2l2.5 0.4l2.5 1.2l2 1.7l2.1 2.7l1.6 3l1.9 7.5l0 8l-1.8 7l-3.4 5.5l-4.4 3.3l-3 0.9l-3 0.3zM99 1024.6l-2.5 0.3l-0.3-6.9l0.3-6.9l2.5 0.3l2.5 1.1l1.9 2l1.1 2.5l-0.1 2.5l-1 2l-1.9 2l-2.5 1.1z"/><path id="B11_4" d="M163.5 1029.5l-15 0.1l-4-0.7l-9.5-2.8l-9.5-0.5l-3.4-0.6l-3.5-1.5l-2.2-2l-1.2-2.5l0.1-2.5l1.4-2.5l2.8-2.3l8-2.8l3-1.7l7.1-7.7l4.9-3.4l4-1.3l8.4-1.3l6.6-1.6l4.5 0.2l4 2.3l3.3 4.6l1.9 6l0.5 7l-1.2 6.5l-2.6 5.5l-3.9 3.9l-4.5 1.6zM99 1023.2l-2.5 0.3l0-11l2 0.2l2 0.9l1.4 1.4l0.8 2l0 2l-0.5 1.5l-1.2 1.5l-2 1.2z"/><path id="B11_5" d="M161.5 1028l-13.5-0.2l-13-3.7l-11.5-0.8l-2.5-1l-2-1.6l-0.9-1.7l0-2l1.1-2l1.8-1.5l8-3l2.5-1.4l7-7.9l4.5-3.3l4-1.4l7.5-1.2l6.5-1.6l4.5 0l4 2.3l3.1 4.5l1.8 6l0.1 7l-1.6 6l-2.9 4.8l-4 2.8l-4.5 0.9zM98.5 1021.6l-2 0.2l0-7.6l2.5 0.4l1.1 0.9l0.8 1.5l0.1 1.5l-0.5 1.4l-2 1.7z"/><path id="B11_6" d="M164 1026.1l-12.5 0.1l-5-0.5l-11.5-4l-10.5-0.9l-2.1-1.3l-0.6-2l0.8-1.5l1.4-1l6-2.1l2.5-1.5l6.7-8.4l4.3-3.3l4-1.5l7.4-1.2l6.1-1.7l4 0l3.5 1.7l2.8 3.5l1.8 5l0.5 5.5l-0.8 5.5l-2 4.5l-2.8 3.2l-4 1.9zM97.5 1019.2l-1-0.1l0-2.2l1-0.1l0.7 0.7l0 1l-0.7 0.7z"/><path id="B11_7" d="M164.5 1024.5l-3.5 0.5l-9.5-0.3l-5.5-0.7l-4.5-1.7l-6-3.3l-2-1.5l-0.4-1.5l5.7-10l2.2-2.6l2.5-1.9l4-1.7l7.5-1.3l6-1.7l4-0.1l3 1.5l2.5 3.1l1.6 4.2l0.6 5l-0.6 4.5l-1.7 4.5l-2.4 3.1l-3.5 1.9z"/><path id="B11_8" d="M164.5 1023l-3.5 0.5l-12-0.6l-4-1l-3.5-1.8l-3-2.6l-1-2.5l0.5-3.5l1.9-4l3.1-3.6l4.5-2.4l7.5-1.4l7-2l2.5 0l2.5 1l2.3 2.4l1.5 3l0.8 4l0 4l-1 4l-1.5 3l-2.1 2.2l-2.5 1.3z"/><path id="B11_9" d="M162.5 1022l-13.5-0.7l-3-0.8l-2.8-1.5l-2.4-2.5l-0.9-2.5l0.4-3l1.7-3.6l3-2.9l3.5-1.6l6.5-1.3l7-2.1l2.5 0l2.2 1l2.2 2.5l1.3 3l0.6 3.5l-0.3 4l-1.2 3.5l-1.8 2.7l-2.5 1.7l-2.5 0.6z"/><path id="B11_10" d="M163.5 1020.6l-2.5 0.1l-11-1l-4.5-1.4l-2.2-1.8l-1-2l-0.2-2.5l1-3l2.4-2.8l3-1.6l6.5-1.4l7-2.4l2 0l2 0.7l1.6 1.5l1.4 2.5l0.8 3l0 3.5l-0.7 3l-1.2 2.5l-1.9 1.9l-2.5 1.2z"/><path id="B11_11" d="M164 1019.1l-3.5 0.2l-10.5-1.3l-2.5-0.8l-2-1.5l-1-1.7l-0.3-2l0.6-2l1.7-2.2l2.5-1.5l6-1.5l6.5-2.6l3.5 0.2l1.5 1.1l1.5 2.1l0.8 2.4l0.2 3l-0.5 2.8l-1 2.3l-1.5 1.8l-2 1.2z"/><path id="B11_12" d="M162 1018l-13-2.7l-1.1-0.8l-0.9-1.5l0.3-2.5l2.3-2l5.4-1.8l5.5-2.8l2.5-0.5l2 0.6l1.5 1.3l1.1 2.2l0.4 2.5l-0.2 2.5l-0.8 2.3l-1.3 1.7l-1.7 1.1l-2 0.4z"/><path id="B11_13" d="M164 1016l-2.5 0.4l-2.5-0.6l-5.2-2.8l-0.7-1.5l1.3-1.5l5.3-4l2.3-0.9l2 0.1l2.1 1.8l0.9 3.5l-0.9 3.5l-2.1 2z"/><path id="B11_14" d="M163.5 1014.6l-1.5 0.2l-2-0.6l-1.5-1.2l-0.7-1.5l0.3-1.5l1.1-1.5l1.8-1.4l1.5-0.5l2.2 0.9l1 2.5l-0.6 3l-1.6 1.6z"/><clipPath id="cB11"><rect x="138" y="927.4" width="115.6" height="157.10000000000002"/></clipPath></defs><g clip-path="url(#cB11)"><use href="#B11_4" fill="#969696"/><use href="#B11_5" fill="#fff"/><use href="#B11_6" fill="#969696"/><use href="#B11_7" fill="#fff"/><use href="#B11_8" fill="#969696"/><use href="#B11_9" fill="#fff"/><use href="#B11_10" fill="#969696"/><use href="#B11_11" fill="#fff"/><use href="#B11_12" fill="#969696"/><use href="#B11_13" fill="#fff"/><use href="#B11_14" fill="#969696"/></g><g fill="none" stroke-width="0.75"><use href="#B11_0" stroke="#7a7a7a"/><use href="#B11_1" stroke="#7a7a7a"/><use href="#B11_2" stroke="#7a7a7a"/><use href="#B11_3" stroke="#7a7a7a"/><use href="#B11_4" stroke="#565656"/><use href="#B11_5" stroke="#565656"/><use href="#B11_6" stroke="#565656"/><use href="#B11_7" stroke="#565656"/><use href="#B11_8" stroke="#565656"/><use href="#B11_9" stroke="#565656"/><use href="#B11_10" stroke="#565656"/><use href="#B11_11" stroke="#565656"/><use href="#B11_12" stroke="#565656"/><use href="#B11_13" stroke="#565656"/><use href="#B11_14" stroke="#565656"/></g><rect x="139.3" y="978.5" width="1.4" height="1.4" fill="#333"/><rect x="99.8" y="985.3" width="1.4" height="1.4" fill="#333"/><rect x="125.5" y="987.3" width="1.4" height="1.4" fill="#333"/><rect x="165.0" y="977.2" width="1.4" height="1.4" fill="#333"/><rect x="182.4" y="982.3" width="1.4" height="1.4" fill="#333"/><rect x="184.3" y="991.9" width="1.4" height="1.4" fill="#333"/><rect x="180.6" y="999.3" width="1.4" height="1.4" fill="#333"/><rect x="186.1" y="1016.6" width="1.4" height="1.4" fill="#333"/><rect x="182.4" y="1024.9" width="1.4" height="1.4" fill="#333"/><rect x="220.9" y="1015.3" width="1.4" height="1.4" fill="#333"/><rect x="102.3" y="993.3" width="1.4" height="1.4" fill="#333"/><rect x="107.3" y="997.3" width="1.4" height="1.4" fill="#333"/><rect x="111.3" y="1000.3" width="1.4" height="1.4" fill="#333"/><rect x="117.3" y="995.3" width="1.4" height="1.4" fill="#333"/>
<rect x="95.50" y="927.40" width="158.10" height="157.10" fill="none" stroke="#222" stroke-width="1.2"/>
<line x1="154.60" y1="927.40" x2="154.60" y2="1086.50" stroke="#1a1a1a" stroke-width="2.6"/>
<line x1="95.50" y1="1040.50" x2="253.60" y2="1040.50" stroke="#1a1a1a" stroke-width="2.6"/>
<line x1="86.25" y1="1053.08" x2="95.50" y2="1053.08" stroke="#1c1c1c" stroke-width="1.4"/>
<line x1="91.30" y1="1042.05" x2="95.50" y2="1042.05" stroke="#1c1c1c" stroke-width="1.1"/>
<line x1="91.30" y1="1035.59" x2="95.50" y2="1035.59" stroke="#1c1c1c" stroke-width="1.1"/>
<line x1="91.30" y1="1031.01" x2="95.50" y2="1031.01" stroke="#1c1c1c" stroke-width="1.1"/>
<line x1="88.50" y1="1027.46" x2="95.50" y2="1027.46" stroke="#1c1c1c" stroke-width="1.1"/>
<line x1="91.30" y1="1024.56" x2="95.50" y2="1024.56" stroke="#1c1c1c" stroke-width="1.1"/>
<line x1="91.30" y1="1022.10" x2="95.50" y2="1022.10" stroke="#1c1c1c" stroke-width="1.1"/>
<line x1="91.30" y1="1019.98" x2="95.50" y2="1019.98" stroke="#1c1c1c" stroke-width="1.1"/>
<line x1="91.30" y1="1018.10" x2="95.50" y2="1018.10" stroke="#1c1c1c" stroke-width="1.1"/>
<line x1="86.25" y1="1014.75" x2="95.50" y2="1014.75" stroke="#1c1c1c" stroke-width="1.4"/>
<line x1="91.30" y1="1003.71" x2="95.50" y2="1003.71" stroke="#1c1c1c" stroke-width="1.1"/>
<line x1="91.30" y1="997.26" x2="95.50" y2="997.26" stroke="#1c1c1c" stroke-width="1.1"/>
<line x1="91.30" y1="992.68" x2="95.50" y2="992.68" stroke="#1c1c1c" stroke-width="1.1"/>
<line x1="88.50" y1="989.13" x2="95.50" y2="989.13" stroke="#1c1c1c" stroke-width="1.1"/>
<line x1="91.30" y1="986.22" x2="95.50" y2="986.22" stroke="#1c1c1c" stroke-width="1.1"/>
<line x1="91.30" y1="983.77" x2="95.50" y2="983.77" stroke="#1c1c1c" stroke-width="1.1"/>
<line x1="91.30" y1="981.64" x2="95.50" y2="981.64" stroke="#1c1c1c" stroke-width="1.1"/>
<line x1="91.30" y1="979.77" x2="95.50" y2="979.77" stroke="#1c1c1c" stroke-width="1.1"/>
<line x1="86.25" y1="979.40" x2="95.50" y2="979.40" stroke="#1c1c1c" stroke-width="1.4"/>
<line x1="91.30" y1="968.37" x2="95.50" y2="968.37" stroke="#1c1c1c" stroke-width="1.1"/>
<line x1="91.30" y1="961.91" x2="95.50" y2="961.91" stroke="#1c1c1c" stroke-width="1.1"/>
<line x1="91.30" y1="957.33" x2="95.50" y2="957.33" stroke="#1c1c1c" stroke-width="1.1"/>
<line x1="88.50" y1="953.78" x2="95.50" y2="953.78" stroke="#1c1c1c" stroke-width="1.1"/>
<line x1="91.30" y1="950.88" x2="95.50" y2="950.88" stroke="#1c1c1c" stroke-width="1.1"/>
<line x1="91.30" y1="948.42" x2="95.50" y2="948.42" stroke="#1c1c1c" stroke-width="1.1"/>
<line x1="91.30" y1="946.30" x2="95.50" y2="946.30" stroke="#1c1c1c" stroke-width="1.1"/>
<line x1="91.30" y1="944.42" x2="95.50" y2="944.42" stroke="#1c1c1c" stroke-width="1.1"/>
<line x1="86.25" y1="943.11" x2="95.50" y2="943.11" stroke="#1c1c1c" stroke-width="1.4"/>
<line x1="91.30" y1="932.08" x2="95.50" y2="932.08" stroke="#1c1c1c" stroke-width="1.1"/>
<line x1="86.25" y1="1069.10" x2="95.50" y2="1069.10" stroke="#1c1c1c" stroke-width="1.4"/>
<line x1="86.25" y1="1084.50" x2="95.50" y2="1084.50" stroke="#1c1c1c" stroke-width="1.4"/>
<line x1="88.50" y1="1060.33" x2="95.50" y2="1060.33" stroke="#1c1c1c" stroke-width="1.1"/>
<line x1="88.50" y1="1076.35" x2="95.50" y2="1076.35" stroke="#1c1c1c" stroke-width="1.1"/>
<rect x="91.30" y="1053.38" width="4.2" height="4.70" fill="#1c1c1c"/>
<rect x="91.30" y="1064.08" width="4.2" height="4.50" fill="#1c1c1c"/>
<rect x="91.30" y="1070.10" width="4.2" height="5.00" fill="#1c1c1c"/>
<rect x="91.30" y="1081.00" width="4.2" height="3.20" fill="#1c1c1c"/>
<line x1="127.44" y1="1084.50" x2="127.44" y2="1094.00" stroke="#1c1c1c" stroke-width="1.4"/>
<line x1="138.48" y1="1084.50" x2="138.48" y2="1088.70" stroke="#1c1c1c" stroke-width="1.1"/>
<line x1="144.94" y1="1084.50" x2="144.94" y2="1088.70" stroke="#1c1c1c" stroke-width="1.1"/>
<line x1="149.52" y1="1084.50" x2="149.52" y2="1088.70" stroke="#1c1c1c" stroke-width="1.1"/>
<line x1="153.07" y1="1084.50" x2="153.07" y2="1091.50" stroke="#1c1c1c" stroke-width="1.1"/>
<line x1="155.98" y1="1084.50" x2="155.98" y2="1088.70" stroke="#1c1c1c" stroke-width="1.1"/>
<line x1="158.43" y1="1084.50" x2="158.43" y2="1088.70" stroke="#1c1c1c" stroke-width="1.1"/>
<line x1="160.56" y1="1084.50" x2="160.56" y2="1088.70" stroke="#1c1c1c" stroke-width="1.1"/>
<line x1="162.44" y1="1084.50" x2="162.44" y2="1088.70" stroke="#1c1c1c" stroke-width="1.1"/>
<line x1="166.17" y1="1084.50" x2="166.17" y2="1094.00" stroke="#1c1c1c" stroke-width="1.4"/>
<line x1="177.21" y1="1084.50" x2="177.21" y2="1088.70" stroke="#1c1c1c" stroke-width="1.1"/>
<line x1="183.67" y1="1084.50" x2="183.67" y2="1088.70" stroke="#1c1c1c" stroke-width="1.1"/>
<line x1="188.25" y1="1084.50" x2="188.25" y2="1088.70" stroke="#1c1c1c" stroke-width="1.1"/>
<line x1="191.81" y1="1084.50" x2="191.81" y2="1091.50" stroke="#1c1c1c" stroke-width="1.1"/>
<line x1="194.71" y1="1084.50" x2="194.71" y2="1088.70" stroke="#1c1c1c" stroke-width="1.1"/>
<line x1="197.17" y1="1084.50" x2="197.17" y2="1088.70" stroke="#1c1c1c" stroke-width="1.1"/>
<line x1="199.30" y1="1084.50" x2="199.30" y2="1088.70" stroke="#1c1c1c" stroke-width="1.1"/>
<line x1="201.17" y1="1084.50" x2="201.17" y2="1088.70" stroke="#1c1c1c" stroke-width="1.1"/>
<line x1="201.90" y1="1084.50" x2="201.90" y2="1094.00" stroke="#1c1c1c" stroke-width="1.4"/>
<line x1="212.94" y1="1084.50" x2="212.94" y2="1088.70" stroke="#1c1c1c" stroke-width="1.1"/>
<line x1="219.40" y1="1084.50" x2="219.40" y2="1088.70" stroke="#1c1c1c" stroke-width="1.1"/>
<line x1="223.98" y1="1084.50" x2="223.98" y2="1088.70" stroke="#1c1c1c" stroke-width="1.1"/>
<line x1="227.54" y1="1084.50" x2="227.54" y2="1091.50" stroke="#1c1c1c" stroke-width="1.1"/>
<line x1="230.44" y1="1084.50" x2="230.44" y2="1088.70" stroke="#1c1c1c" stroke-width="1.1"/>
<line x1="232.90" y1="1084.50" x2="232.90" y2="1088.70" stroke="#1c1c1c" stroke-width="1.1"/>
<line x1="235.03" y1="1084.50" x2="235.03" y2="1088.70" stroke="#1c1c1c" stroke-width="1.1"/>
<line x1="236.90" y1="1084.50" x2="236.90" y2="1088.70" stroke="#1c1c1c" stroke-width="1.1"/>
<line x1="237.47" y1="1084.50" x2="237.47" y2="1094.00" stroke="#1c1c1c" stroke-width="1.4"/>
<line x1="248.52" y1="1084.50" x2="248.52" y2="1088.70" stroke="#1c1c1c" stroke-width="1.1"/>
<line x1="95.50" y1="1084.50" x2="95.50" y2="1094.00" stroke="#1c1c1c" stroke-width="1.4"/>
<line x1="110.90" y1="1084.50" x2="110.90" y2="1094.00" stroke="#1c1c1c" stroke-width="2.2"/>
<line x1="102.90" y1="1084.50" x2="102.90" y2="1091.50" stroke="#1c1c1c" stroke-width="1.1"/>
<line x1="120.10" y1="1084.50" x2="120.10" y2="1091.50" stroke="#1c1c1c" stroke-width="1.1"/>
<rect x="96.00" y="1084.50" width="4.80" height="4.2" fill="#1c1c1c"/>
<rect x="104.30" y="1084.50" width="4.10" height="4.2" fill="#1c1c1c"/>
<rect x="114.50" y="1084.50" width="3.50" height="4.2" fill="#1c1c1c"/>
<rect x="122.10" y="1084.50" width="4.90" height="4.2" fill="#1c1c1c"/>
<text x="53.78" y="955.11" font-size="16.71" font-weight="normal" fill="#1e1e1e">10</text>
<text x="71.92" y="944.11" font-size="16.67" font-weight="normal" fill="#1e1e1e">5</text>
<text x="53.78" y="991.40" font-size="16.71" font-weight="normal" fill="#1e1e1e">10</text>
<text x="71.75" y="980.40" font-size="16.67" font-weight="normal" fill="#1e1e1e">4</text>
<text x="53.78" y="1026.75" font-size="16.71" font-weight="normal" fill="#1e1e1e">10</text>
<text x="72.04" y="1015.75" font-size="16.43" font-weight="normal" fill="#1e1e1e">3</text>
<text x="53.78" y="1065.08" font-size="16.71" font-weight="normal" fill="#1e1e1e">10</text>
<text x="72.20" y="1054.08" font-size="16.43" font-weight="normal" fill="#1e1e1e">2</text>
<text x="64.46" y="1078.10" font-size="16.43" font-weight="normal" fill="#1e1e1e">0</text>
<text x="97.06" y="1123.90" font-size="15.86" font-weight="normal" fill="#1e1e1e">0</text>
<text x="118.32" y="1123.90" font-size="15.86" font-weight="normal" fill="#1e1e1e">10</text>
<text x="136.59" y="1112.90" font-size="15.43" font-weight="normal" fill="#1e1e1e">2</text>
<text x="157.05" y="1123.90" font-size="15.86" font-weight="normal" fill="#1e1e1e">10</text>
<text x="175.48" y="1112.90" font-size="15.43" font-weight="normal" fill="#1e1e1e">3</text>
<text x="192.78" y="1123.90" font-size="15.86" font-weight="normal" fill="#1e1e1e">10</text>
<text x="211.52" y="1112.90" font-size="15.65" font-weight="normal" fill="#1e1e1e">4</text>
<text x="228.36" y="1123.90" font-size="15.86" font-weight="normal" fill="#1e1e1e">10</text>
<text x="246.78" y="1112.90" font-size="15.65" font-weight="normal" fill="#1e1e1e">5</text>
<text x="104.03" y="955.00" font-size="26.67" font-weight="normal" fill="#000">54</text>
<text x="214.12" y="956.20" font-size="26.71" font-weight="normal" fill="#000">46</text>
<defs><path id="B12_0" d="M395.5 1034l-28 0.4l-32.3-0.4l-3.7-2.7l-4.5-4.7l-1.5-0.7l-7 3.9l-5 0.8l-0.5-11.6l0.5-11.6l4 0.4l5.5 2.1l1.5-0.1l5.1-7.3l4.4-4.3l17-11.9l7.5-3.5l5-1.2l6-0.3l12.5 1.6l5 1l5 2.6l4.4 4.5l3.4 6l2.1 7.5l0.7 8l-0.9 8l-2.4 7.5l-3.8 6z"/><path id="B12_1" d="M391.5 1034l-24 0.3l-25.4-0.3l-5.1-2.1l-4-2.9l-2.9-3.5l-4.1-6.9l-2.9 4.9l-2.6 2.9l-3.5 1.9l-3.5 0.4l-0.4-9.7l0.4-9.7l3 0.3l3 1.2l2.8 2.2l3.2 4l0.5-0.1l3.2-8.9l4-5.5l4.3-3.4l18-11.5l6-2.2l6-0.7l6 0.3l13 2.1l5 2.6l4.3 4.8l3 6.5l1.5 7l0 8l-1.7 7.5l-3.1 6.5l-2.5 3l-1.5 1z"/><path id="B12_2" d="M387 1034l-33.1 0l-9.4-1.7l-4.5-1.4l-3-1.6l-2.5-2l-2-2.3l-1.7-3l-1-3l-0.3-3l1.3-6l2.3-4l3.9-3.8l9.6-5.7l7.9-5.4l5-2.3l5-1.2l5.5-0.2l14 1.7l4 1.2l4.5 3.2l3.6 5.5l2.1 6.5l0.6 7.5l-1.1 7.5l-2.3 6l-3.9 4.9l-4.5 2.6zM315 1027l-1.5 0.1l-0.1-1.1l0.1-15.1l3 0.4l3 1.6l1.8 2.1l1.1 3l-0.3 3l-1.6 3l-2.5 2.1l-3 0.9z"/><path id="B12_3" d="M374.5 1034l-12.3 0l-8.2-2l-10.5-1.7l-5.5-2.4l-4-3.9l-2.3-5l-0.1-5.5l2.2-5.5l2.6-3l3.1-2.4l8.4-4.6l8.6-5.7l5-2.1l5-0.8l5 0.2l13 1.6l5 2l2.5 2.2l2 2.7l1.7 3.4l1.2 4l0.6 8.5l-1.7 8l-2.9 5.5l-1.9 2.1l-2.5 1.8l-4 1.4l-10 1.2zM315.5 1025.6l-2 0.1l0-13.4l2.5 0.3l2.5 1.3l1.7 2.1l0.6 2l-0.1 2.5l-1.2 2.5l-2 1.8l-2 0.8z"/><path id="B12_4" d="M371 1032.5l-6.5-0.1l-10.5-2.3l-8.5-1.2l-3.5-0.9l-3-1.5l-3.6-3.5l-2-4.5l0-5l1.8-4.5l2.1-2.5l2.7-2.2l9.1-4.8l8.4-5.7l4-1.7l4.5-0.7l5 0.1l13.5 1.6l4.5 1.8l2.4 2.1l1.8 2.5l1.6 3.5l1.1 4l0.4 4l-0.2 4.5l-0.8 4l-1.3 3.5l-3 4.4l-4 2.7l-3.5 0.9l-12.5 1.5zM315.5 1024.1l-2 0.1l0-10.4l2 0.1l1.5 0.7l1.4 1.4l0.8 2l0 2l-0.7 1.8l-1.5 1.5l-1.5 0.8z"/><path id="B12_5" d="M372 1030.6l-4 0.2l-4-0.3l-9.5-2.2l-9.5-1.2l-4.4-1.6l-3.5-3l-1.8-3.5l-0.4-4.5l1.4-4l1.8-2.5l2.9-2.3l9-4.6l7.8-5.6l3.7-1.7l4-0.6l5 0.1l13.5 1.5l4 1.5l2.2 1.7l2 2.5l1.5 3l1 3.5l0.4 7.5l-1.8 7l-2.8 4.2l-3.5 2.6l-3.5 0.9l-11.5 1.4zM314.5 1022.5l-1 0l0-7l2.5 0.5l1 1l0.6 1.5l-0.6 2.5l-1.1 1l-1.4 0.5z"/><path id="B12_6" d="M369.5 1029l-5-0.2l-9.7-2.3l-8.8-0.9l-4.5-1.6l-3-2.5l-1.5-3l-0.4-3.5l1.1-3.5l1.4-2l2.4-2.1l9.5-4.8l8-5.9l3-1.3l3.5-0.5l4.5 0.1l14 1.6l3.5 1.2l2.1 1.7l2 2.5l1.3 3l0.9 3.5l0 7l-0.9 3.5l-1.3 3l-2.6 3.1l-3.5 1.9l-16 2z"/><path id="B12_7" d="M368.5 1027.5l-4.5-0.4l-9.5-2.3l-8.5-0.8l-3.5-1.2l-2.6-2.3l-1.5-3l0.1-3.5l1.4-3l3.1-2.7l8.5-4.1l8.3-6.2l3.2-1.3l5.5-0.3l15 1.7l2.5 0.6l2 1.1l1.7 1.7l1.6 2.5l1.7 6l-0.5 6.5l-0.9 3l-1.5 2.5l-2.1 2.2l-3 1.4l-16.5 1.9z"/><path id="B12_8" d="M372 1025.5l-6.5 0.2l-10-2.6l-8-0.7l-3-0.7l-2-1.2l-1.6-2l-0.7-2.5l0.5-2.5l1.2-2l1.7-1.5l8.9-4.3l8-6.1l2.5-1.2l6-0.3l16.5 2.1l2 1.1l1.7 1.7l2.3 5l0.4 6l-1.7 5.5l-2.2 2.8l-3 1.7l-13 1.5z"/><path id="B12_9" d="M371.5 1024.1l-6 0.1l-10.5-3l-9-1.1l-2.9-2.1l-0.6-1.5l0.1-2l0.9-1.7l1.5-1.4l7.5-3.5l8-6.2l3-1.6l5.5-0.5l8 1.3l8 0.7l2 1l1.5 1.5l2.1 4.4l0.3 5.5l-1.7 5l-2.2 2.4l-2.5 1.2l-7.5 0.5l-5.5 1z"/><path id="B12_10" d="M371.5 1022.6l-3.5 0.4l-3-0.3l-10.5-3.8l-6.5-1l-2-1.3l-0.2-1.6l1.2-1.7l6-3.3l7.5-6.4l4-2.1l4.5-0.4l8 1.4l7.5 0.5l3.1 2l2 4l0.2 5l-1.4 4l-1.8 2l-2.1 1l-7.5 0.5l-5.5 1.1z"/><path id="B12_11" d="M371.5 1021.1l-4 0.4l-4-0.7l-4.7-2.3l-3.9-3l-0.6-1.5l0.4-1.5l4.2-5.5l4.1-3.2l4.5-1.2l3 0.2l6.5 1.4l6.5 0.1l3 1.5l1.8 2.7l0.6 3.5l-0.6 3.5l-1.6 2.5l-3.2 1.7l-6.5 0.1l-5.5 1.3z"/><path id="B12_12" d="M371 1019.6l-3.5 0.4l-3-0.6l-3.5-1.7l-2.3-2.2l-0.8-2l0.5-2.5l1.5-2.5l2.6-2.5l3-1.5l3.5-0.4l8 1.9l6.5 0l1.5 0.6l1.5 1.4l1 2.5l0.1 2.5l-0.6 2.1l-1.5 1.9l-2.5 1l-6.5 0l-5.5 1.6z"/><path id="B12_13" d="M370 1018.1l-3 0.1l-2.5-0.6l-2-1.2l-1.5-1.9l-0.5-2l0.5-2l1.3-2l2.2-1.8l2.5-0.8l2.5 0l7.5 2.5l6.5-0.2l2 1.7l0.4 3.1l-0.7 1.5l-1.2 1.1l-2 0.3l-5-0.3l-7 2.5z"/><path id="B12_14" d="M368.5 1016.5l-2-0.2l-1.9-0.8l-1.3-1.5l-0.5-1.5l0.5-2l1.1-1.5l1.6-1l2-0.4l2.5 0.4l2 1l1.6 1.5l0.6 1.5l-0.6 1.5l-1.6 1.5l-4 1.5z"/><clipPath id="cB12"><rect x="340" y="927.8" width="130.3" height="156.70000000000005"/></clipPath></defs><g clip-path="url(#cB12)"><use href="#B12_4" fill="#969696"/><use href="#B12_5" fill="#fff"/><use href="#B12_6" fill="#969696"/><use href="#B12_7" fill="#fff"/><use href="#B12_8" fill="#969696"/><use href="#B12_9" fill="#fff"/><use href="#B12_10" fill="#969696"/><use href="#B12_11" fill="#fff"/><use href="#B12_12" fill="#969696"/><use href="#B12_13" fill="#fff"/><use href="#B12_14" fill="#969696"/></g><g fill="none" stroke-width="0.75"><use href="#B12_0" stroke="#7a7a7a"/><use href="#B12_1" stroke="#7a7a7a"/><use href="#B12_2" stroke="#7a7a7a"/><use href="#B12_3" stroke="#7a7a7a"/><use href="#B12_4" stroke="#565656"/><use href="#B12_5" stroke="#565656"/><use href="#B12_6" stroke="#565656"/><use href="#B12_7" stroke="#565656"/><use href="#B12_8" stroke="#565656"/><use href="#B12_9" stroke="#565656"/><use href="#B12_10" stroke="#565656"/><use href="#B12_11" stroke="#565656"/><use href="#B12_12" stroke="#565656"/><use href="#B12_13" stroke="#565656"/><use href="#B12_14" stroke="#565656"/></g><rect x="332.7" y="985.4" width="1.4" height="1.4" fill="#333"/><rect x="319.9" y="994.6" width="1.4" height="1.4" fill="#333"/><rect x="323.5" y="999.2" width="1.4" height="1.4" fill="#333"/><rect x="318.9" y="1004.7" width="1.4" height="1.4" fill="#333"/><rect x="325.3" y="1002.0" width="1.4" height="1.4" fill="#333"/><rect x="352.9" y="984.5" width="1.4" height="1.4" fill="#333"/><rect x="385.9" y="979.9" width="1.4" height="1.4" fill="#333"/><rect x="388.7" y="983.6" width="1.4" height="1.4" fill="#333"/><rect x="397.8" y="987.3" width="1.4" height="1.4" fill="#333"/><rect x="402.4" y="1012.1" width="1.4" height="1.4" fill="#333"/><rect x="400.6" y="1016.6" width="1.4" height="1.4" fill="#333"/><rect x="404.3" y="1024.9" width="1.4" height="1.4" fill="#333"/><rect x="336.7" y="993.7" width="1.4" height="1.4" fill="#333"/>
<rect x="312.60" y="927.80" width="157.70" height="156.70" fill="none" stroke="#222" stroke-width="1.2"/>
<line x1="371.50" y1="927.80" x2="371.50" y2="1086.50" stroke="#1a1a1a" stroke-width="2.6"/>
<line x1="312.60" y1="1040.50" x2="470.30" y2="1040.50" stroke="#1a1a1a" stroke-width="2.6"/>
<line x1="303.35" y1="1053.16" x2="312.60" y2="1053.16" stroke="#1c1c1c" stroke-width="1.4"/>
<line x1="308.40" y1="1042.15" x2="312.60" y2="1042.15" stroke="#1c1c1c" stroke-width="1.1"/>
<line x1="308.40" y1="1035.71" x2="312.60" y2="1035.71" stroke="#1c1c1c" stroke-width="1.1"/>
<line x1="308.40" y1="1031.15" x2="312.60" y2="1031.15" stroke="#1c1c1c" stroke-width="1.1"/>
<line x1="305.60" y1="1027.60" x2="312.60" y2="1027.60" stroke="#1c1c1c" stroke-width="1.1"/>
<line x1="308.40" y1="1024.71" x2="312.60" y2="1024.71" stroke="#1c1c1c" stroke-width="1.1"/>
<line x1="308.40" y1="1022.26" x2="312.60" y2="1022.26" stroke="#1c1c1c" stroke-width="1.1"/>
<line x1="308.40" y1="1020.14" x2="312.60" y2="1020.14" stroke="#1c1c1c" stroke-width="1.1"/>
<line x1="308.40" y1="1018.27" x2="312.60" y2="1018.27" stroke="#1c1c1c" stroke-width="1.1"/>
<line x1="303.35" y1="1014.93" x2="312.60" y2="1014.93" stroke="#1c1c1c" stroke-width="1.4"/>
<line x1="308.40" y1="1003.92" x2="312.60" y2="1003.92" stroke="#1c1c1c" stroke-width="1.1"/>
<line x1="308.40" y1="997.48" x2="312.60" y2="997.48" stroke="#1c1c1c" stroke-width="1.1"/>
<line x1="308.40" y1="992.91" x2="312.60" y2="992.91" stroke="#1c1c1c" stroke-width="1.1"/>
<line x1="305.60" y1="989.37" x2="312.60" y2="989.37" stroke="#1c1c1c" stroke-width="1.1"/>
<line x1="308.40" y1="986.47" x2="312.60" y2="986.47" stroke="#1c1c1c" stroke-width="1.1"/>
<line x1="308.40" y1="984.03" x2="312.60" y2="984.03" stroke="#1c1c1c" stroke-width="1.1"/>
<line x1="308.40" y1="981.91" x2="312.60" y2="981.91" stroke="#1c1c1c" stroke-width="1.1"/>
<line x1="308.40" y1="980.03" x2="312.60" y2="980.03" stroke="#1c1c1c" stroke-width="1.1"/>
<line x1="303.35" y1="979.67" x2="312.60" y2="979.67" stroke="#1c1c1c" stroke-width="1.4"/>
<line x1="308.40" y1="968.66" x2="312.60" y2="968.66" stroke="#1c1c1c" stroke-width="1.1"/>
<line x1="308.40" y1="962.22" x2="312.60" y2="962.22" stroke="#1c1c1c" stroke-width="1.1"/>
<line x1="308.40" y1="957.65" x2="312.60" y2="957.65" stroke="#1c1c1c" stroke-width="1.1"/>
<line x1="305.60" y1="954.11" x2="312.60" y2="954.11" stroke="#1c1c1c" stroke-width="1.1"/>
<line x1="308.40" y1="951.22" x2="312.60" y2="951.22" stroke="#1c1c1c" stroke-width="1.1"/>
<line x1="308.40" y1="948.77" x2="312.60" y2="948.77" stroke="#1c1c1c" stroke-width="1.1"/>
<line x1="308.40" y1="946.65" x2="312.60" y2="946.65" stroke="#1c1c1c" stroke-width="1.1"/>
<line x1="308.40" y1="944.78" x2="312.60" y2="944.78" stroke="#1c1c1c" stroke-width="1.1"/>
<line x1="303.35" y1="943.47" x2="312.60" y2="943.47" stroke="#1c1c1c" stroke-width="1.4"/>
<line x1="308.40" y1="932.46" x2="312.60" y2="932.46" stroke="#1c1c1c" stroke-width="1.1"/>
<line x1="303.35" y1="1069.14" x2="312.60" y2="1069.14" stroke="#1c1c1c" stroke-width="1.4"/>
<line x1="303.35" y1="1084.50" x2="312.60" y2="1084.50" stroke="#1c1c1c" stroke-width="1.4"/>
<line x1="305.60" y1="1060.41" x2="312.60" y2="1060.41" stroke="#1c1c1c" stroke-width="1.1"/>
<line x1="305.60" y1="1076.39" x2="312.60" y2="1076.39" stroke="#1c1c1c" stroke-width="1.1"/>
<rect x="308.40" y="1053.46" width="4.2" height="4.70" fill="#1c1c1c"/>
<rect x="308.40" y="1064.16" width="4.2" height="4.50" fill="#1c1c1c"/>
<rect x="308.40" y="1070.14" width="4.2" height="5.00" fill="#1c1c1c"/>
<rect x="308.40" y="1081.00" width="4.2" height="3.20" fill="#1c1c1c"/>
<line x1="344.46" y1="1084.50" x2="344.46" y2="1094.00" stroke="#1c1c1c" stroke-width="1.4"/>
<line x1="355.47" y1="1084.50" x2="355.47" y2="1088.70" stroke="#1c1c1c" stroke-width="1.1"/>
<line x1="361.91" y1="1084.50" x2="361.91" y2="1088.70" stroke="#1c1c1c" stroke-width="1.1"/>
<line x1="366.48" y1="1084.50" x2="366.48" y2="1088.70" stroke="#1c1c1c" stroke-width="1.1"/>
<line x1="370.03" y1="1084.50" x2="370.03" y2="1091.50" stroke="#1c1c1c" stroke-width="1.1"/>
<line x1="372.93" y1="1084.50" x2="372.93" y2="1088.70" stroke="#1c1c1c" stroke-width="1.1"/>
<line x1="375.37" y1="1084.50" x2="375.37" y2="1088.70" stroke="#1c1c1c" stroke-width="1.1"/>
<line x1="377.50" y1="1084.50" x2="377.50" y2="1088.70" stroke="#1c1c1c" stroke-width="1.1"/>
<line x1="379.37" y1="1084.50" x2="379.37" y2="1088.70" stroke="#1c1c1c" stroke-width="1.1"/>
<line x1="383.09" y1="1084.50" x2="383.09" y2="1094.00" stroke="#1c1c1c" stroke-width="1.4"/>
<line x1="394.11" y1="1084.50" x2="394.11" y2="1088.70" stroke="#1c1c1c" stroke-width="1.1"/>
<line x1="400.55" y1="1084.50" x2="400.55" y2="1088.70" stroke="#1c1c1c" stroke-width="1.1"/>
<line x1="405.12" y1="1084.50" x2="405.12" y2="1088.70" stroke="#1c1c1c" stroke-width="1.1"/>
<line x1="408.66" y1="1084.50" x2="408.66" y2="1091.50" stroke="#1c1c1c" stroke-width="1.1"/>
<line x1="411.56" y1="1084.50" x2="411.56" y2="1088.70" stroke="#1c1c1c" stroke-width="1.1"/>
<line x1="414.01" y1="1084.50" x2="414.01" y2="1088.70" stroke="#1c1c1c" stroke-width="1.1"/>
<line x1="416.13" y1="1084.50" x2="416.13" y2="1088.70" stroke="#1c1c1c" stroke-width="1.1"/>
<line x1="418.00" y1="1084.50" x2="418.00" y2="1088.70" stroke="#1c1c1c" stroke-width="1.1"/>
<line x1="418.73" y1="1084.50" x2="418.73" y2="1094.00" stroke="#1c1c1c" stroke-width="1.4"/>
<line x1="429.75" y1="1084.50" x2="429.75" y2="1088.70" stroke="#1c1c1c" stroke-width="1.1"/>
<line x1="436.19" y1="1084.50" x2="436.19" y2="1088.70" stroke="#1c1c1c" stroke-width="1.1"/>
<line x1="440.76" y1="1084.50" x2="440.76" y2="1088.70" stroke="#1c1c1c" stroke-width="1.1"/>
<line x1="444.30" y1="1084.50" x2="444.30" y2="1091.50" stroke="#1c1c1c" stroke-width="1.1"/>
<line x1="447.20" y1="1084.50" x2="447.20" y2="1088.70" stroke="#1c1c1c" stroke-width="1.1"/>
<line x1="449.65" y1="1084.50" x2="449.65" y2="1088.70" stroke="#1c1c1c" stroke-width="1.1"/>
<line x1="451.77" y1="1084.50" x2="451.77" y2="1088.70" stroke="#1c1c1c" stroke-width="1.1"/>
<line x1="453.64" y1="1084.50" x2="453.64" y2="1088.70" stroke="#1c1c1c" stroke-width="1.1"/>
<line x1="454.21" y1="1084.50" x2="454.21" y2="1094.00" stroke="#1c1c1c" stroke-width="1.4"/>
<line x1="465.23" y1="1084.50" x2="465.23" y2="1088.70" stroke="#1c1c1c" stroke-width="1.1"/>
<line x1="312.60" y1="1084.50" x2="312.60" y2="1094.00" stroke="#1c1c1c" stroke-width="1.4"/>
<line x1="328.00" y1="1084.50" x2="328.00" y2="1094.00" stroke="#1c1c1c" stroke-width="2.2"/>
<line x1="320.00" y1="1084.50" x2="320.00" y2="1091.50" stroke="#1c1c1c" stroke-width="1.1"/>
<line x1="337.20" y1="1084.50" x2="337.20" y2="1091.50" stroke="#1c1c1c" stroke-width="1.1"/>
<rect x="313.10" y="1084.50" width="4.80" height="4.2" fill="#1c1c1c"/>
<rect x="321.40" y="1084.50" width="4.10" height="4.2" fill="#1c1c1c"/>
<rect x="331.60" y="1084.50" width="3.50" height="4.2" fill="#1c1c1c"/>
<rect x="339.20" y="1084.50" width="4.90" height="4.2" fill="#1c1c1c"/>
<text x="270.88" y="955.47" font-size="16.71" font-weight="normal" fill="#1e1e1e">10</text>
<text x="289.02" y="944.47" font-size="16.67" font-weight="normal" fill="#1e1e1e">5</text>
<text x="270.88" y="991.67" font-size="16.71" font-weight="normal" fill="#1e1e1e">10</text>
<text x="288.85" y="980.67" font-size="16.67" font-weight="normal" fill="#1e1e1e">4</text>
<text x="270.88" y="1026.93" font-size="16.71" font-weight="normal" fill="#1e1e1e">10</text>
<text x="289.14" y="1015.93" font-size="16.43" font-weight="normal" fill="#1e1e1e">3</text>
<text x="270.88" y="1065.16" font-size="16.71" font-weight="normal" fill="#1e1e1e">10</text>
<text x="289.30" y="1054.16" font-size="16.43" font-weight="normal" fill="#1e1e1e">2</text>
<text x="281.56" y="1078.14" font-size="16.43" font-weight="normal" fill="#1e1e1e">0</text>
<text x="314.16" y="1123.90" font-size="15.86" font-weight="normal" fill="#1e1e1e">0</text>
<text x="335.34" y="1123.90" font-size="15.86" font-weight="normal" fill="#1e1e1e">10</text>
<text x="353.61" y="1112.90" font-size="15.43" font-weight="normal" fill="#1e1e1e">2</text>
<text x="373.97" y="1123.90" font-size="15.86" font-weight="normal" fill="#1e1e1e">10</text>
<text x="392.40" y="1112.90" font-size="15.43" font-weight="normal" fill="#1e1e1e">3</text>
<text x="409.61" y="1123.90" font-size="15.86" font-weight="normal" fill="#1e1e1e">10</text>
<text x="428.35" y="1112.90" font-size="15.65" font-weight="normal" fill="#1e1e1e">4</text>
<text x="445.10" y="1123.90" font-size="15.86" font-weight="normal" fill="#1e1e1e">10</text>
<text x="463.52" y="1112.90" font-size="15.65" font-weight="normal" fill="#1e1e1e">5</text>
<text x="320.94" y="954.00" font-size="26.52" font-weight="normal" fill="#000">55</text>
<text x="425.22" y="954.00" font-size="26.52" font-weight="normal" fill="#000">45</text>
<defs><path id="B13_0" d="M595.5 1035.5l-49.4 0l-7.6-5.7l-9.5-0.3l-0.5-11.5l0.5-11.7l3.5-1l1.9-1.3l5-9.5l2.6-3.2l3-2.7l6-3.8l14-6.7l6.5-2l7-0.7l7 0.8l10.5 2.6l3 1.7l2.5 2.1l4.2 5.9l3.1 8l1.5 9l-1.4 11l-3 9l-2.4 4l-2.5 3l-3 2.2l-2.5 0.8z"/><path id="B13_1" d="M560 1034.5l-5.5 0.4l-4.5-1l-3.5-1.8l-5.4-4.6l-1.6-0.8l-7 1l-3.5-0.2l-0.4-9.5l0.4-9.6l5.5-0.9l1.8-1l5.2-10l2.5-3l3.5-2.9l5-2.9l16-7.3l6.5-1.5l6.5 0.1l12 2.4l3 1.1l2.5 1.5l3.3 3.5l2.5 4.5l1.9 5.5l1.5 7l-0.6 7.5l-1.3 6.5l-2.1 5.5l-2.5 4l-3.2 3l-4 1.6l-8 0l-8.5 0.8l-9.5-0.1l-8.5 1.2z"/><path id="B13_2" d="M559 1032l-4.5 0.2l-4.5-1.1l-3-1.8l-6.5-5.4l-2 0.1l-5.5 2l-4-0.2l-0.4-7.8l0.4-7.9l2.5-0.4l4.5 0.1l1.5-0.4l1.4-1.9l3.8-8.5l4.3-5l5-3.2l17.5-7.9l6-1.3l6.5 0.1l12 2.5l2.5 1l2.5 1.7l2.7 3.1l2.1 4l2 6.5l0.8 4.5l-0.7 8l-1.1 5l-2.1 5l-2.3 3.5l-2.9 2.4l-3.5 1.2l-7.5-0.2l-8 0.8l-10-0.2l-9.5 1.5z"/><path id="B13_3" d="M558.5 1030.1l-4.5 0l-4.5-1.5l-2.9-2.1l-4.6-5l-1.5-0.9l-1.5 0.4l-5 3.2l-2.5 0.5l-2.5-0.3l0-12.8l3-0.5l5.5 1.3l1.5-0.3l1-1.5l3.3-9.1l4.2-5.3l5-3.4l18-8.1l5.5-1.1l6 0.3l12 2.4l2.5 1l2.5 1.9l2.2 2.8l2 4l1.9 6.5l0.3 3l-0.6 7l-1.2 5l-1.9 4.5l-2.6 3.5l-2.6 1.9l-2.5 0.7l-8-0.5l-8.5 0.9l-9-0.1l-10 1.7z"/><path id="B13_4" d="M559 1028l-5 0l-4.5-1.7l-4.1-3.8l-3.1-5.5l-0.4-4.5l1.3-6.5l2.1-4.5l2.9-3.5l4.3-3l15-7l7.5-2.3l6 0l12 2.2l3.5 1.4l2.5 2.1l3.3 5.6l1.6 5.5l0.4 3.5l-0.6 6.5l-1.1 4.5l-1.8 4l-2.3 3l-2 1.4l-2.5 0.8l-11-1l-7 1.1l-9 0.1l-8 1.6zM532.5 1023.1l-3.5-0.3l0-9.6l1-0.4l2.5-0.1l2 0.7l2 1.6l0.8 1.5l0 2l-0.9 2l-1.9 1.8l-2 0.8z"/><path id="B13_5" d="M559 1026.1l-4.5 0.1l-4-1.5l-3.5-3.2l-2.5-4.5l-0.6-4.5l0.9-5.5l1.9-4.5l3.3-3.7l3.5-2.2l15.5-7.2l7-1.9l5 0.1l12.5 2.3l3 1.3l2.5 2.3l1.8 3l1.3 3.5l1 4l0.1 3l-0.5 5l-1.1 4.5l-1.6 3.5l-2.5 2.9l-2 1.1l-2 0.4l-11-1.4l-7.5 1.3l-8.5 0.2l-7.5 1.6zM531 1021.5l-2-0.7l0-5.6l2.5-0.8l2.5 1.1l1 2.5l-1.2 2.5l-2.8 1z"/><path id="B13_6" d="M559.5 1024l-4.5 0.3l-3.5-1.2l-3-2.6l-2.2-4l-0.6-4.5l1.3-5.5l1.6-3.5l2.9-3l18.5-9.1l6.5-1.7l4.5 0.2l12.5 2.3l3 1.4l2.3 2.4l1.6 3l1.2 3.5l0.5 3l0 3.5l-0.5 4l-1.1 3.8l-1.5 2.9l-2 2.1l-2 1.1l-2 0.3l-6.5-1.3l-4-0.1l-7.5 1.2l-8.5 0l-7 1.5z"/><path id="B13_7" d="M557.5 1022.5l-3.5-0.3l-3-1.5l-2.3-2.7l-1.3-3.5l0.1-3l1.5-3.5l0.9-3.5l1.3-2l2.3-1.8l8.5-3.6l9-4.9l6-1.4l3.5 0.1l13.5 2.5l2.5 1.4l2.3 2.7l2.2 6l0.1 6.5l-1.8 6.5l-1.3 2.1l-2 1.8l-3 0.7l-7.5-1.3l-10.5 1.1l-8-0.3l-9.5 1.9z"/><path id="B13_8" d="M558 1020.6l-3-0.2l-2.5-1l-2-2l-1.3-2.9l0.2-2.5l2.6-3.9l0.5-3.6l2.6-2.5l7.4-3l9-5.2l5.5-1.4l3.5 0.2l6.5 1.6l7 0.9l2.5 1.4l2 2.7l1.7 5.3l-0.1 6l-1.6 5.2l-1.5 2.1l-1.5 1.2l-3 0.5l-7-1.2l-10.5 1.1l-8.5-0.7l-8.5 1.9z"/><path id="B13_9" d="M558 1018.6l-2.5-0.1l-2-0.9l-1.5-1.4l-0.8-1.7l0.2-2l2.3-3.5l1.2-4l1.6-1.5l6.5-2.6l9-5.6l3-1l3.5-0.4l9 2.1l5.5 0.3l3 1.5l2.3 3.2l1.1 4.5l-0.3 5.5l-1.6 4.3l-2.5 2.3l-2.5 0.4l-6.5-1.3l-10.5 1.3l-9.5-1.3l-8 1.9z"/><path id="B13_10" d="M593 1016.5l-6.5-1.4l-7.5 1.3l-3.5 0.1l-10-2l-8.5 1.8l-2.3-0.8l-1.1-2l2.9-6.4l1.5-1.6l5.5-2.5l9-6.3l3-1l3.5-0.2l8 2.1l6.5 0.3l2 1.1l1.4 1.5l1.6 5l-0.3 5.5l-0.9 2.5l-1.3 1.8l-1.5 1l-1.5 0.2z"/><path id="B13_11" d="M579 1015l-5.5-0.4l-9.5-3.5l-1.5 0.1l-3 1l-1.2-0.2l-0.2-1l0.9-1.5l4.5-2.8l6-6.3l4-2.5l4.5-1l3 0.5l6 2l6-0.1l1.5 0.6l1.3 1.1l1.5 3l0.4 3.5l-0.7 4l-1.6 2.5l-1.4 0.8l-1.5 0.1l-4.5-1.4l-2-0.2l-7 1.7z"/><path id="B13_12" d="M578.5 1013.6l-3-0.1l-3.1-1l-3.2-2l-1.4-2l-0.2-2l0.8-2l1.8-2.5l2.3-1.9l3-1.3l3.5-0.2l8 3l6-0.6l1.5 0.6l1 1.1l1 2.5l0.1 3.3l-0.6 2.5l-1.5 1.8l-2.5 0.3l-5.5-2l-8 2.5z"/><path id="B13_13" d="M580 1011.5l-2.5 0.4l-2.5-0.3l-2.4-1.1l-1.6-1.5l-0.8-2l0.3-2l1.2-2l1.7-1.5l3.1-1.2l3.5 0.3l3.3 1.9l2.8 3l0.3 1l-1.1 1.5l-2.8 2.3l-2.5 1.2zM593 1011.1l-2.5-1.1l-2.9-3.5l1.6-2l2.8-1.5l2 0.6l1 1.4l0.4 1.5l-0.4 3l-1 1.2l-1 0.4z"/><path id="B13_14" d="M578.5 1010l-3.5-0.3l-1.5-0.9l-0.9-1.3l-0.3-1.5l0.5-1.5l2.7-2.2l2-0.4l2 0.5l1.7 1.1l1 1.5l0.2 1.5l-0.7 1.5l-1.2 1.2l-2 0.8z"/><clipPath id="cB13"><rect x="548" y="927.8" width="138.25" height="156.70000000000005"/></clipPath></defs><g clip-path="url(#cB13)"><use href="#B13_4" fill="#969696"/><use href="#B13_5" fill="#fff"/><use href="#B13_6" fill="#969696"/><use href="#B13_7" fill="#fff"/><use href="#B13_8" fill="#969696"/><use href="#B13_9" fill="#fff"/><use href="#B13_10" fill="#969696"/><use href="#B13_11" fill="#fff"/><use href="#B13_12" fill="#969696"/><use href="#B13_13" fill="#fff"/><use href="#B13_14" fill="#969696"/></g><g fill="none" stroke-width="0.75"><use href="#B13_0" stroke="#7a7a7a"/><use href="#B13_1" stroke="#7a7a7a"/><use href="#B13_2" stroke="#7a7a7a"/><use href="#B13_3" stroke="#7a7a7a"/><use href="#B13_4" stroke="#565656"/><use href="#B13_5" stroke="#565656"/><use href="#B13_6" stroke="#565656"/><use href="#B13_7" stroke="#565656"/><use href="#B13_8" stroke="#565656"/><use href="#B13_9" stroke="#565656"/><use href="#B13_10" stroke="#565656"/><use href="#B13_11" stroke="#565656"/><use href="#B13_12" stroke="#565656"/><use href="#B13_13" stroke="#565656"/><use href="#B13_14" stroke="#565656"/></g><rect x="572.9" y="976.3" width="1.4" height="1.4" fill="#333"/><rect x="540.8" y="995.5" width="1.4" height="1.4" fill="#333"/><rect x="544.4" y="997.3" width="1.4" height="1.4" fill="#333"/><rect x="607.7" y="1019.0" width="1.4" height="1.4" fill="#333"/>
<rect x="528.00" y="927.80" width="158.25" height="156.70" fill="none" stroke="#222" stroke-width="1.2"/>
<line x1="586.90" y1="927.80" x2="586.90" y2="1086.50" stroke="#1a1a1a" stroke-width="2.6"/>
<line x1="528.00" y1="1040.50" x2="686.25" y2="1040.50" stroke="#1a1a1a" stroke-width="2.6"/>
<line x1="518.75" y1="1053.16" x2="528.00" y2="1053.16" stroke="#1c1c1c" stroke-width="1.4"/>
<line x1="523.80" y1="1042.15" x2="528.00" y2="1042.15" stroke="#1c1c1c" stroke-width="1.1"/>
<line x1="523.80" y1="1035.71" x2="528.00" y2="1035.71" stroke="#1c1c1c" stroke-width="1.1"/>
<line x1="523.80" y1="1031.15" x2="528.00" y2="1031.15" stroke="#1c1c1c" stroke-width="1.1"/>
<line x1="521.00" y1="1027.60" x2="528.00" y2="1027.60" stroke="#1c1c1c" stroke-width="1.1"/>
<line x1="523.80" y1="1024.71" x2="528.00" y2="1024.71" stroke="#1c1c1c" stroke-width="1.1"/>
<line x1="523.80" y1="1022.26" x2="528.00" y2="1022.26" stroke="#1c1c1c" stroke-width="1.1"/>
<line x1="523.80" y1="1020.14" x2="528.00" y2="1020.14" stroke="#1c1c1c" stroke-width="1.1"/>
<line x1="523.80" y1="1018.27" x2="528.00" y2="1018.27" stroke="#1c1c1c" stroke-width="1.1"/>
<line x1="518.75" y1="1014.93" x2="528.00" y2="1014.93" stroke="#1c1c1c" stroke-width="1.4"/>
<line x1="523.80" y1="1003.92" x2="528.00" y2="1003.92" stroke="#1c1c1c" stroke-width="1.1"/>
<line x1="523.80" y1="997.48" x2="528.00" y2="997.48" stroke="#1c1c1c" stroke-width="1.1"/>
<line x1="523.80" y1="992.91" x2="528.00" y2="992.91" stroke="#1c1c1c" stroke-width="1.1"/>
<line x1="521.00" y1="989.37" x2="528.00" y2="989.37" stroke="#1c1c1c" stroke-width="1.1"/>
<line x1="523.80" y1="986.47" x2="528.00" y2="986.47" stroke="#1c1c1c" stroke-width="1.1"/>
<line x1="523.80" y1="984.03" x2="528.00" y2="984.03" stroke="#1c1c1c" stroke-width="1.1"/>
<line x1="523.80" y1="981.91" x2="528.00" y2="981.91" stroke="#1c1c1c" stroke-width="1.1"/>
<line x1="523.80" y1="980.03" x2="528.00" y2="980.03" stroke="#1c1c1c" stroke-width="1.1"/>
<line x1="518.75" y1="979.67" x2="528.00" y2="979.67" stroke="#1c1c1c" stroke-width="1.4"/>
<line x1="523.80" y1="968.66" x2="528.00" y2="968.66" stroke="#1c1c1c" stroke-width="1.1"/>
<line x1="523.80" y1="962.22" x2="528.00" y2="962.22" stroke="#1c1c1c" stroke-width="1.1"/>
<line x1="523.80" y1="957.65" x2="528.00" y2="957.65" stroke="#1c1c1c" stroke-width="1.1"/>
<line x1="521.00" y1="954.11" x2="528.00" y2="954.11" stroke="#1c1c1c" stroke-width="1.1"/>
<line x1="523.80" y1="951.22" x2="528.00" y2="951.22" stroke="#1c1c1c" stroke-width="1.1"/>
<line x1="523.80" y1="948.77" x2="528.00" y2="948.77" stroke="#1c1c1c" stroke-width="1.1"/>
<line x1="523.80" y1="946.65" x2="528.00" y2="946.65" stroke="#1c1c1c" stroke-width="1.1"/>
<line x1="523.80" y1="944.78" x2="528.00" y2="944.78" stroke="#1c1c1c" stroke-width="1.1"/>
<line x1="518.75" y1="943.47" x2="528.00" y2="943.47" stroke="#1c1c1c" stroke-width="1.4"/>
<line x1="523.80" y1="932.46" x2="528.00" y2="932.46" stroke="#1c1c1c" stroke-width="1.1"/>
<line x1="518.75" y1="1069.14" x2="528.00" y2="1069.14" stroke="#1c1c1c" stroke-width="1.4"/>
<line x1="518.75" y1="1084.50" x2="528.00" y2="1084.50" stroke="#1c1c1c" stroke-width="1.4"/>
<line x1="521.00" y1="1060.41" x2="528.00" y2="1060.41" stroke="#1c1c1c" stroke-width="1.1"/>
<line x1="521.00" y1="1076.39" x2="528.00" y2="1076.39" stroke="#1c1c1c" stroke-width="1.1"/>
<rect x="523.80" y="1053.46" width="4.2" height="4.70" fill="#1c1c1c"/>
<rect x="523.80" y="1064.16" width="4.2" height="4.50" fill="#1c1c1c"/>
<rect x="523.80" y="1070.14" width="4.2" height="5.00" fill="#1c1c1c"/>
<rect x="523.80" y="1081.00" width="4.2" height="3.20" fill="#1c1c1c"/>
<line x1="559.97" y1="1084.50" x2="559.97" y2="1094.00" stroke="#1c1c1c" stroke-width="1.4"/>
<line x1="571.02" y1="1084.50" x2="571.02" y2="1088.70" stroke="#1c1c1c" stroke-width="1.1"/>
<line x1="577.48" y1="1084.50" x2="577.48" y2="1088.70" stroke="#1c1c1c" stroke-width="1.1"/>
<line x1="582.07" y1="1084.50" x2="582.07" y2="1088.70" stroke="#1c1c1c" stroke-width="1.1"/>
<line x1="585.63" y1="1084.50" x2="585.63" y2="1091.50" stroke="#1c1c1c" stroke-width="1.1"/>
<line x1="588.54" y1="1084.50" x2="588.54" y2="1088.70" stroke="#1c1c1c" stroke-width="1.1"/>
<line x1="590.99" y1="1084.50" x2="590.99" y2="1088.70" stroke="#1c1c1c" stroke-width="1.1"/>
<line x1="593.12" y1="1084.50" x2="593.12" y2="1088.70" stroke="#1c1c1c" stroke-width="1.1"/>
<line x1="595.00" y1="1084.50" x2="595.00" y2="1088.70" stroke="#1c1c1c" stroke-width="1.1"/>
<line x1="598.74" y1="1084.50" x2="598.74" y2="1094.00" stroke="#1c1c1c" stroke-width="1.4"/>
<line x1="609.79" y1="1084.50" x2="609.79" y2="1088.70" stroke="#1c1c1c" stroke-width="1.1"/>
<line x1="616.25" y1="1084.50" x2="616.25" y2="1088.70" stroke="#1c1c1c" stroke-width="1.1"/>
<line x1="620.84" y1="1084.50" x2="620.84" y2="1088.70" stroke="#1c1c1c" stroke-width="1.1"/>
<line x1="624.40" y1="1084.50" x2="624.40" y2="1091.50" stroke="#1c1c1c" stroke-width="1.1"/>
<line x1="627.31" y1="1084.50" x2="627.31" y2="1088.70" stroke="#1c1c1c" stroke-width="1.1"/>
<line x1="629.76" y1="1084.50" x2="629.76" y2="1088.70" stroke="#1c1c1c" stroke-width="1.1"/>
<line x1="631.89" y1="1084.50" x2="631.89" y2="1088.70" stroke="#1c1c1c" stroke-width="1.1"/>
<line x1="633.77" y1="1084.50" x2="633.77" y2="1088.70" stroke="#1c1c1c" stroke-width="1.1"/>
<line x1="634.50" y1="1084.50" x2="634.50" y2="1094.00" stroke="#1c1c1c" stroke-width="1.4"/>
<line x1="645.55" y1="1084.50" x2="645.55" y2="1088.70" stroke="#1c1c1c" stroke-width="1.1"/>
<line x1="652.02" y1="1084.50" x2="652.02" y2="1088.70" stroke="#1c1c1c" stroke-width="1.1"/>
<line x1="656.61" y1="1084.50" x2="656.61" y2="1088.70" stroke="#1c1c1c" stroke-width="1.1"/>
<line x1="660.16" y1="1084.50" x2="660.16" y2="1091.50" stroke="#1c1c1c" stroke-width="1.1"/>
<line x1="663.07" y1="1084.50" x2="663.07" y2="1088.70" stroke="#1c1c1c" stroke-width="1.1"/>
<line x1="665.53" y1="1084.50" x2="665.53" y2="1088.70" stroke="#1c1c1c" stroke-width="1.1"/>
<line x1="667.66" y1="1084.50" x2="667.66" y2="1088.70" stroke="#1c1c1c" stroke-width="1.1"/>
<line x1="669.54" y1="1084.50" x2="669.54" y2="1088.70" stroke="#1c1c1c" stroke-width="1.1"/>
<line x1="670.11" y1="1084.50" x2="670.11" y2="1094.00" stroke="#1c1c1c" stroke-width="1.4"/>
<line x1="681.16" y1="1084.50" x2="681.16" y2="1088.70" stroke="#1c1c1c" stroke-width="1.1"/>
<line x1="528.00" y1="1084.50" x2="528.00" y2="1094.00" stroke="#1c1c1c" stroke-width="1.4"/>
<line x1="543.40" y1="1084.50" x2="543.40" y2="1094.00" stroke="#1c1c1c" stroke-width="2.2"/>
<line x1="535.40" y1="1084.50" x2="535.40" y2="1091.50" stroke="#1c1c1c" stroke-width="1.1"/>
<line x1="552.60" y1="1084.50" x2="552.60" y2="1091.50" stroke="#1c1c1c" stroke-width="1.1"/>
<rect x="528.50" y="1084.50" width="4.80" height="4.2" fill="#1c1c1c"/>
<rect x="536.80" y="1084.50" width="4.10" height="4.2" fill="#1c1c1c"/>
<rect x="547.00" y="1084.50" width="3.50" height="4.2" fill="#1c1c1c"/>
<rect x="554.60" y="1084.50" width="4.90" height="4.2" fill="#1c1c1c"/>
<text x="486.28" y="955.47" font-size="16.71" font-weight="normal" fill="#1e1e1e">10</text>
<text x="504.42" y="944.47" font-size="16.67" font-weight="normal" fill="#1e1e1e">5</text>
<text x="486.28" y="991.67" font-size="16.71" font-weight="normal" fill="#1e1e1e">10</text>
<text x="504.25" y="980.67" font-size="16.67" font-weight="normal" fill="#1e1e1e">4</text>
<text x="486.28" y="1026.93" font-size="16.71" font-weight="normal" fill="#1e1e1e">10</text>
<text x="504.54" y="1015.93" font-size="16.43" font-weight="normal" fill="#1e1e1e">3</text>
<text x="486.28" y="1065.16" font-size="16.71" font-weight="normal" fill="#1e1e1e">10</text>
<text x="504.70" y="1054.16" font-size="16.43" font-weight="normal" fill="#1e1e1e">2</text>
<text x="496.96" y="1078.14" font-size="16.43" font-weight="normal" fill="#1e1e1e">0</text>
<text x="529.56" y="1123.90" font-size="15.86" font-weight="normal" fill="#1e1e1e">0</text>
<text x="550.85" y="1123.90" font-size="15.86" font-weight="normal" fill="#1e1e1e">10</text>
<text x="569.12" y="1112.90" font-size="15.43" font-weight="normal" fill="#1e1e1e">2</text>
<text x="589.62" y="1123.90" font-size="15.86" font-weight="normal" fill="#1e1e1e">10</text>
<text x="608.05" y="1112.90" font-size="15.43" font-weight="normal" fill="#1e1e1e">3</text>
<text x="625.38" y="1123.90" font-size="15.86" font-weight="normal" fill="#1e1e1e">10</text>
<text x="644.12" y="1112.90" font-size="15.65" font-weight="normal" fill="#1e1e1e">4</text>
<text x="660.99" y="1123.90" font-size="15.86" font-weight="normal" fill="#1e1e1e">10</text>
<text x="679.41" y="1112.90" font-size="15.65" font-weight="normal" fill="#1e1e1e">5</text>
<text x="538.87" y="955.00" font-size="26.67" font-weight="normal" fill="#000">74</text>
<text x="648.62" y="956.20" font-size="26.71" font-weight="normal" fill="#000">26</text>
<defs><path id="B21_0" d="M171 1301l-34.5 0.5l-38.4-0.5l-4.1-5.5l0-23l4.5-5.9l6-4.4l20-8.1l6-1.9l6.5-0.8l6 0.3l19 5.6l5.5 2.7l4.5 4l3.6 5.5l2.1 6.5l0.6 7l-1 7l-2.5 6l-3.8 5z"/><path id="B21_1" d="M166.5 1301l-30.5 0.4l-33.4-0.4l-4.8-5l-3.5-7l-0.3-7.6l0.9-3.4l1.4-3.5l2.2-3.5l2.7-3l3.3-2.5l5.5-2.7l20-7l6-1l5.5 0.2l19 4.8l5.5 2.5l4.7 4.2l3.1 5l1.9 6.5l0.1 7l-1.6 6.5l-3.5 6l-2.7 2.7l-1.5 0.8z"/><path id="B21_2" d="M162 1301l-25 0.3l-30.1-0.3l-3.1-2l-2.7-2.5l-2.2-3l-2-4l-1-5l1.4-6.5l3.3-6l2.9-2.9l3-2.1l5-2.2l19.5-6.5l5-0.8l4.5 0.1l20.5 4.7l5.5 3.1l3.9 4.1l2.7 5.5l1 6.5l-0.7 6.5l-2.7 6l-3.7 4.2l-5 2.8z"/><path id="B21_3" d="M150.5 1301l-38.6 0l-3.4-1.2l-3.5-2.2l-2.5-2.3l-2.4-3.3l-1.7-3.5l-0.6-2.5l0-2.5l2.1-7l3.6-4.9l5-3.6l4-1.6l20-6.3l6.5-0.4l7 1.9l12 1.6l3.5 1.2l5.9 4.1l2.1 2.5l1.6 3l1.1 3.5l0.4 3.5l-0.8 7l-2.8 5.7l-2 2.2l-2.5 1.9l-5 2l-9 1.2z"/><path id="B21_4" d="M144.5 1301l-19.4 0l-7.1-0.7l-5.5-0.9l-4.6-1.9l-2.7-2l-2.2-2.3l-1.9-3.2l-1.2-3l-0.3-2.5l0.3-2.5l2.3-6l3.3-3.9l4.5-2.9l24-7.4l4-0.1l7.5 2l12 1.2l5.5 2.2l3 2.2l2 2.2l2.6 5.5l0.6 3.5l-0.1 3.5l-0.7 3.5l-1.2 3l-3.1 4l-4.1 2.6l-4 1.1l-8.5 0.9l-5 1.9z"/><path id="B21_5" d="M140 1300.5l-5.5 0.2l-9.5-1.5l-9.5-0.9l-4-1l-3.5-1.7l-4-4l-2.4-5.1l0.2-5l2.2-5.2l3-3.3l4.5-2.6l10.9-2.9l7.6-2.9l4.5-1l3.5 0l7.9 1.9l12.1 1.5l3 1.1l3 1.6l2.1 1.8l1.9 2.5l1.1 2.5l0.7 3l-0.4 6.5l-1.1 3l-1.5 2.5l-2.8 2.7l-3.5 1.7l-11.5 1.5l-9 3.1z"/><path id="B21_6" d="M140.5 1298.6l-5.5 0.3l-9.5-1.4l-9-0.7l-4-0.9l-3-1.3l-3.5-3.1l-2.4-4.5l-0.2-4.5l1.5-4.5l2.9-3.5l4.2-2.6l4-1.2l7.1-1.2l7.4-3.1l4.5-1.1l3.5 0.1l12.5 2.9l7 0.8l5 1.8l3.8 3.6l1.6 4.5l0.1 3.5l-0.4 3l-2.5 5l-2.6 2.4l-3 1.4l-10.5 1.3l-9 3z"/><path id="B21_7" d="M140.5 1297.1l-5 0.3l-10-1.5l-8.5-0.5l-6-1.7l-3.5-2.7l-2.2-4l-0.4-4l1.2-4l2.4-3.1l4-2.6l4-1.2l7.5-0.8l6.5-3.2l4.5-1.2l5 0.2l11 2.9l8 0.9l3.5 1.2l3.3 2.9l1.5 4l-0.4 6l-1 2.5l-1.4 2.2l-2 1.7l-2.5 1.3l-10 1.3l-9.5 3.1z"/><path id="B21_8" d="M140 1295.6l-4.5 0.2l-10-1.5l-8.5-0.4l-4.9-1.4l-3.1-2.3l-2-3.2l-0.5-3.5l0.9-3.5l2.6-3.3l3.5-2.1l3.5-1l7.5-0.6l7-3.6l4-1l5 0.3l10.5 3.2l7.5 0.5l3.5 0.9l3 2.6l1.1 3.6l-0.7 5.5l-2.4 4l-3.5 2.1l-9 1l-10.5 3.5z"/><path id="B21_9" d="M140 1294.1l-5 0.2l-9-1.5l-9-0.4l-3.5-0.9l-3-2l-1.7-2.5l-0.7-3l0.6-3l2.1-3l3.2-2l3.5-0.9l7.5-0.8l7-3.4l3.5-1l6 0.4l9.5 3.4l7.5 0.1l3 0.6l2.6 2.1l0.9 3l-0.9 5l-2.1 3.3l-3 1.7l-8.5 0.9l-10.5 3.7z"/><path id="B21_10" d="M140.5 1292.5l-5 0.4l-9.5-1.7l-8-0.3l-3-0.6l-2.6-1.3l-1.7-2l-0.9-2.5l0.3-2.5l1.9-2.9l3-1.8l10.5-1.7l7-3.4l3.5-0.9l5.5 0.5l9.5 3.9l7.5-0.6l2.5 0.4l2.1 1.5l0.6 2.5l-0.8 4l-2 3l-2.9 1.4l-7.5 0.5l-6 2.9l-4 1.2z"/><path id="B21_11" d="M141 1291.1l-5.5 0.3l-9.5-1.9l-10-0.6l-2-1l-1.5-1.5l-0.7-1.9l0.2-2l1.5-2.3l2.5-1.5l9.5-1.7l7.5-3.5l3-0.7l3 0l3 0.7l9 4.8l2.5 0l5-1.6l2 0.1l1.5 1.2l0.2 2l-1.2 3.2l-1.5 1.7l-2.5 0.9l-6-0.1l-5.5 3.8l-4.5 1.6z"/><path id="B21_12" d="M137.5 1290l-4-0.4l-8-2.2l-8.5-0.5l-2.1-1.4l-0.5-1l0.1-1.5l1-1.5l1.5-0.9l8.5-1.8l8.5-4l3.5-0.6l3 0.4l3 1.5l2.9 2.4l1.7 2.5l0.1 2l-1.4 3.5l-1.9 2l-2.9 1.1l-4.5 0.4z"/><path id="B21_13" d="M142.5 1288.1l-5.5 0.3l-4.4-0.9l-5.6-3l-0.9-1l-0.1-1l3-3l4.5-2.8l3.5-0.8l3 0.4l3.5 2.2l1.6 3l-0.1 4.5l-1 1.4l-1.5 0.7z"/><path id="B21_14" d="M141 1286.6l-5-0.1l-3-1l-2.1-2l-0.3-1l0.5-1.5l1.9-2l2.5-1.1l2.5-0.2l2.4 0.8l1.6 1.6l0.8 2.4l-0.1 3l-1.7 1.1z"/></defs><g><use href="#B21_4" fill="#969696"/><use href="#B21_5" fill="#fff"/><use href="#B21_6" fill="#969696"/><use href="#B21_7" fill="#fff"/><use href="#B21_8" fill="#969696"/><use href="#B21_9" fill="#fff"/><use href="#B21_10" fill="#969696"/><use href="#B21_11" fill="#fff"/><use href="#B21_12" fill="#969696"/><use href="#B21_13" fill="#fff"/><use href="#B21_14" fill="#969696"/></g><g fill="none" stroke-width="0.75"><use href="#B21_0" stroke="#7a7a7a"/><use href="#B21_1" stroke="#7a7a7a"/><use href="#B21_2" stroke="#7a7a7a"/><use href="#B21_3" stroke="#7a7a7a"/><use href="#B21_4" stroke="#565656"/><use href="#B21_5" stroke="#565656"/><use href="#B21_6" stroke="#565656"/><use href="#B21_7" stroke="#565656"/><use href="#B21_8" stroke="#565656"/><use href="#B21_9" stroke="#565656"/><use href="#B21_10" stroke="#565656"/><use href="#B21_11" stroke="#565656"/><use href="#B21_12" stroke="#565656"/><use href="#B21_13" stroke="#565656"/><use href="#B21_14" stroke="#565656"/></g><rect x="139.3" y="1246.3" width="1.4" height="1.4" fill="#333"/><rect x="129.3" y="1252.3" width="1.4" height="1.4" fill="#333"/><rect x="95.3" y="1261.9" width="1.4" height="1.4" fill="#333"/><rect x="99.8" y="1260.0" width="1.4" height="1.4" fill="#333"/><rect x="104.4" y="1259.1" width="1.4" height="1.4" fill="#333"/><rect x="157.6" y="1252.7" width="1.4" height="1.4" fill="#333"/><rect x="170.5" y="1256.3" width="1.4" height="1.4" fill="#333"/><rect x="175.1" y="1253.6" width="1.4" height="1.4" fill="#333"/><rect x="178.7" y="1264.6" width="1.4" height="1.4" fill="#333"/><rect x="184.3" y="1269.2" width="1.4" height="1.4" fill="#333"/><rect x="187.9" y="1271.0" width="1.4" height="1.4" fill="#333"/><rect x="182.4" y="1274.7" width="1.4" height="1.4" fill="#333"/><rect x="191.6" y="1275.6" width="1.4" height="1.4" fill="#333"/><rect x="195.3" y="1279.3" width="1.4" height="1.4" fill="#333"/><rect x="200.8" y="1278.3" width="1.4" height="1.4" fill="#333"/><rect x="189.8" y="1280.3" width="1.4" height="1.4" fill="#333"/><rect x="183.3" y="1284.8" width="1.4" height="1.4" fill="#333"/><rect x="191.6" y="1285.7" width="1.4" height="1.4" fill="#333"/><rect x="196.2" y="1289.4" width="1.4" height="1.4" fill="#333"/><rect x="187.0" y="1292.1" width="1.4" height="1.4" fill="#333"/><rect x="190.7" y="1294.0" width="1.4" height="1.4" fill="#333"/><rect x="209.0" y="1294.0" width="1.4" height="1.4" fill="#333"/><rect x="215.4" y="1284.8" width="1.4" height="1.4" fill="#333"/><rect x="213.6" y="1287.6" width="1.4" height="1.4" fill="#333"/>
<rect x="93.20" y="1195.60" width="156.70" height="156.40" fill="none" stroke="#222" stroke-width="1.2"/>
<line x1="163.20" y1="1195.60" x2="163.20" y2="1354.00" stroke="#1a1a1a" stroke-width="2.6"/>
<line x1="93.20" y1="1309.25" x2="249.90" y2="1309.25" stroke="#1a1a1a" stroke-width="2.6"/>
<line x1="83.95" y1="1320.72" x2="93.20" y2="1320.72" stroke="#1c1c1c" stroke-width="1.4"/>
<line x1="89.00" y1="1309.73" x2="93.20" y2="1309.73" stroke="#1c1c1c" stroke-width="1.1"/>
<line x1="89.00" y1="1303.31" x2="93.20" y2="1303.31" stroke="#1c1c1c" stroke-width="1.1"/>
<line x1="89.00" y1="1298.75" x2="93.20" y2="1298.75" stroke="#1c1c1c" stroke-width="1.1"/>
<line x1="86.20" y1="1295.21" x2="93.20" y2="1295.21" stroke="#1c1c1c" stroke-width="1.1"/>
<line x1="89.00" y1="1292.32" x2="93.20" y2="1292.32" stroke="#1c1c1c" stroke-width="1.1"/>
<line x1="89.00" y1="1289.88" x2="93.20" y2="1289.88" stroke="#1c1c1c" stroke-width="1.1"/>
<line x1="89.00" y1="1287.76" x2="93.20" y2="1287.76" stroke="#1c1c1c" stroke-width="1.1"/>
<line x1="89.00" y1="1285.90" x2="93.20" y2="1285.90" stroke="#1c1c1c" stroke-width="1.1"/>
<line x1="83.95" y1="1282.56" x2="93.20" y2="1282.56" stroke="#1c1c1c" stroke-width="1.4"/>
<line x1="89.00" y1="1271.57" x2="93.20" y2="1271.57" stroke="#1c1c1c" stroke-width="1.1"/>
<line x1="89.00" y1="1265.15" x2="93.20" y2="1265.15" stroke="#1c1c1c" stroke-width="1.1"/>
<line x1="89.00" y1="1260.59" x2="93.20" y2="1260.59" stroke="#1c1c1c" stroke-width="1.1"/>
<line x1="86.20" y1="1257.05" x2="93.20" y2="1257.05" stroke="#1c1c1c" stroke-width="1.1"/>
<line x1="89.00" y1="1254.16" x2="93.20" y2="1254.16" stroke="#1c1c1c" stroke-width="1.1"/>
<line x1="89.00" y1="1251.72" x2="93.20" y2="1251.72" stroke="#1c1c1c" stroke-width="1.1"/>
<line x1="89.00" y1="1249.60" x2="93.20" y2="1249.60" stroke="#1c1c1c" stroke-width="1.1"/>
<line x1="89.00" y1="1247.73" x2="93.20" y2="1247.73" stroke="#1c1c1c" stroke-width="1.1"/>
<line x1="83.95" y1="1247.37" x2="93.20" y2="1247.37" stroke="#1c1c1c" stroke-width="1.4"/>
<line x1="89.00" y1="1236.38" x2="93.20" y2="1236.38" stroke="#1c1c1c" stroke-width="1.1"/>
<line x1="89.00" y1="1229.96" x2="93.20" y2="1229.96" stroke="#1c1c1c" stroke-width="1.1"/>
<line x1="89.00" y1="1225.40" x2="93.20" y2="1225.40" stroke="#1c1c1c" stroke-width="1.1"/>
<line x1="86.20" y1="1221.86" x2="93.20" y2="1221.86" stroke="#1c1c1c" stroke-width="1.1"/>
<line x1="89.00" y1="1218.97" x2="93.20" y2="1218.97" stroke="#1c1c1c" stroke-width="1.1"/>
<line x1="89.00" y1="1216.53" x2="93.20" y2="1216.53" stroke="#1c1c1c" stroke-width="1.1"/>
<line x1="89.00" y1="1214.41" x2="93.20" y2="1214.41" stroke="#1c1c1c" stroke-width="1.1"/>
<line x1="89.00" y1="1212.54" x2="93.20" y2="1212.54" stroke="#1c1c1c" stroke-width="1.1"/>
<line x1="83.95" y1="1211.24" x2="93.20" y2="1211.24" stroke="#1c1c1c" stroke-width="1.4"/>
<line x1="89.00" y1="1200.25" x2="93.20" y2="1200.25" stroke="#1c1c1c" stroke-width="1.1"/>
<line x1="83.95" y1="1336.67" x2="93.20" y2="1336.67" stroke="#1c1c1c" stroke-width="1.4"/>
<line x1="83.95" y1="1352.00" x2="93.20" y2="1352.00" stroke="#1c1c1c" stroke-width="1.4"/>
<line x1="86.20" y1="1327.97" x2="93.20" y2="1327.97" stroke="#1c1c1c" stroke-width="1.1"/>
<line x1="86.20" y1="1343.92" x2="93.20" y2="1343.92" stroke="#1c1c1c" stroke-width="1.1"/>
<rect x="89.00" y="1321.02" width="4.2" height="4.70" fill="#1c1c1c"/>
<rect x="89.00" y="1331.72" width="4.2" height="4.50" fill="#1c1c1c"/>
<rect x="89.00" y="1337.67" width="4.2" height="5.00" fill="#1c1c1c"/>
<rect x="89.00" y="1348.50" width="4.2" height="3.20" fill="#1c1c1c"/>
<line x1="124.85" y1="1352.00" x2="124.85" y2="1361.50" stroke="#1c1c1c" stroke-width="1.4"/>
<line x1="135.80" y1="1352.00" x2="135.80" y2="1356.20" stroke="#1c1c1c" stroke-width="1.1"/>
<line x1="142.20" y1="1352.00" x2="142.20" y2="1356.20" stroke="#1c1c1c" stroke-width="1.1"/>
<line x1="146.74" y1="1352.00" x2="146.74" y2="1356.20" stroke="#1c1c1c" stroke-width="1.1"/>
<line x1="150.26" y1="1352.00" x2="150.26" y2="1359.00" stroke="#1c1c1c" stroke-width="1.1"/>
<line x1="153.14" y1="1352.00" x2="153.14" y2="1356.20" stroke="#1c1c1c" stroke-width="1.1"/>
<line x1="155.58" y1="1352.00" x2="155.58" y2="1356.20" stroke="#1c1c1c" stroke-width="1.1"/>
<line x1="157.68" y1="1352.00" x2="157.68" y2="1356.20" stroke="#1c1c1c" stroke-width="1.1"/>
<line x1="159.54" y1="1352.00" x2="159.54" y2="1356.20" stroke="#1c1c1c" stroke-width="1.1"/>
<line x1="163.24" y1="1352.00" x2="163.24" y2="1361.50" stroke="#1c1c1c" stroke-width="1.4"/>
<line x1="174.19" y1="1352.00" x2="174.19" y2="1356.20" stroke="#1c1c1c" stroke-width="1.1"/>
<line x1="180.59" y1="1352.00" x2="180.59" y2="1356.20" stroke="#1c1c1c" stroke-width="1.1"/>
<line x1="185.13" y1="1352.00" x2="185.13" y2="1356.20" stroke="#1c1c1c" stroke-width="1.1"/>
<line x1="188.66" y1="1352.00" x2="188.66" y2="1359.00" stroke="#1c1c1c" stroke-width="1.1"/>
<line x1="191.53" y1="1352.00" x2="191.53" y2="1356.20" stroke="#1c1c1c" stroke-width="1.1"/>
<line x1="193.97" y1="1352.00" x2="193.97" y2="1356.20" stroke="#1c1c1c" stroke-width="1.1"/>
<line x1="196.08" y1="1352.00" x2="196.08" y2="1356.20" stroke="#1c1c1c" stroke-width="1.1"/>
<line x1="197.94" y1="1352.00" x2="197.94" y2="1356.20" stroke="#1c1c1c" stroke-width="1.1"/>
<line x1="198.66" y1="1352.00" x2="198.66" y2="1361.50" stroke="#1c1c1c" stroke-width="1.4"/>
<line x1="209.60" y1="1352.00" x2="209.60" y2="1356.20" stroke="#1c1c1c" stroke-width="1.1"/>
<line x1="216.00" y1="1352.00" x2="216.00" y2="1356.20" stroke="#1c1c1c" stroke-width="1.1"/>
<line x1="220.55" y1="1352.00" x2="220.55" y2="1356.20" stroke="#1c1c1c" stroke-width="1.1"/>
<line x1="224.07" y1="1352.00" x2="224.07" y2="1359.00" stroke="#1c1c1c" stroke-width="1.1"/>
<line x1="226.95" y1="1352.00" x2="226.95" y2="1356.20" stroke="#1c1c1c" stroke-width="1.1"/>
<line x1="229.38" y1="1352.00" x2="229.38" y2="1356.20" stroke="#1c1c1c" stroke-width="1.1"/>
<line x1="231.49" y1="1352.00" x2="231.49" y2="1356.20" stroke="#1c1c1c" stroke-width="1.1"/>
<line x1="233.35" y1="1352.00" x2="233.35" y2="1356.20" stroke="#1c1c1c" stroke-width="1.1"/>
<line x1="233.92" y1="1352.00" x2="233.92" y2="1361.50" stroke="#1c1c1c" stroke-width="1.4"/>
<line x1="244.86" y1="1352.00" x2="244.86" y2="1356.20" stroke="#1c1c1c" stroke-width="1.1"/>
<line x1="93.20" y1="1352.00" x2="93.20" y2="1361.50" stroke="#1c1c1c" stroke-width="1.4"/>
<line x1="108.60" y1="1352.00" x2="108.60" y2="1361.50" stroke="#1c1c1c" stroke-width="2.2"/>
<line x1="100.60" y1="1352.00" x2="100.60" y2="1359.00" stroke="#1c1c1c" stroke-width="1.1"/>
<line x1="117.80" y1="1352.00" x2="117.80" y2="1359.00" stroke="#1c1c1c" stroke-width="1.1"/>
<rect x="93.70" y="1352.00" width="4.80" height="4.2" fill="#1c1c1c"/>
<rect x="102.00" y="1352.00" width="4.10" height="4.2" fill="#1c1c1c"/>
<rect x="112.20" y="1352.00" width="3.50" height="4.2" fill="#1c1c1c"/>
<rect x="119.80" y="1352.00" width="4.90" height="4.2" fill="#1c1c1c"/>
<text x="51.48" y="1223.24" font-size="16.71" font-weight="normal" fill="#1e1e1e">10</text>
<text x="69.62" y="1212.24" font-size="16.67" font-weight="normal" fill="#1e1e1e">5</text>
<text x="51.48" y="1259.37" font-size="16.71" font-weight="normal" fill="#1e1e1e">10</text>
<text x="69.45" y="1248.37" font-size="16.67" font-weight="normal" fill="#1e1e1e">4</text>
<text x="51.48" y="1294.56" font-size="16.71" font-weight="normal" fill="#1e1e1e">10</text>
<text x="69.74" y="1283.56" font-size="16.43" font-weight="normal" fill="#1e1e1e">3</text>
<text x="51.48" y="1332.72" font-size="16.71" font-weight="normal" fill="#1e1e1e">10</text>
<text x="69.90" y="1321.72" font-size="16.43" font-weight="normal" fill="#1e1e1e">2</text>
<text x="62.16" y="1345.67" font-size="16.43" font-weight="normal" fill="#1e1e1e">0</text>
<text x="94.76" y="1391.40" font-size="15.86" font-weight="normal" fill="#1e1e1e">0</text>
<text x="115.74" y="1391.40" font-size="15.86" font-weight="normal" fill="#1e1e1e">10</text>
<text x="134.01" y="1380.40" font-size="15.43" font-weight="normal" fill="#1e1e1e">2</text>
<text x="154.13" y="1391.40" font-size="15.86" font-weight="normal" fill="#1e1e1e">10</text>
<text x="172.56" y="1380.40" font-size="15.43" font-weight="normal" fill="#1e1e1e">3</text>
<text x="189.54" y="1391.40" font-size="15.86" font-weight="normal" fill="#1e1e1e">10</text>
<text x="208.27" y="1380.40" font-size="15.65" font-weight="normal" fill="#1e1e1e">4</text>
<text x="224.80" y="1391.40" font-size="15.86" font-weight="normal" fill="#1e1e1e">10</text>
<text x="243.22" y="1380.40" font-size="15.65" font-weight="normal" fill="#1e1e1e">5</text>
<text x="102.12" y="1223.10" font-size="26.14" font-weight="normal" fill="#000">93</text>
<text x="213.71" y="1224.00" font-size="26.52" font-weight="normal" fill="#000">7</text>
<defs><path id="B22_0" d="M388.5 1303l-57 0.4l-17.3-0.4l-1.7-1.7l-0.2-2.8l-0.2-18.5l0.4-11.4l3.5-3.2l4-2.5l11.1-4.9l9.9-5.4l5-2l5.5-1.1l5.5-0.1l5.5 0.8l6 2.1l13.5 7l4.5 3l4.5 4.7l3.3 6l1.9 8l-0.4 8.5l-2.5 7.5l-2.6 4l-2.2 2z"/><path id="B22_1" d="M384 1303l-64.9 0l-3.6-2.8l-3-3.6l0-23.3l3.5-4.1l4.5-3.3l11.8-4.9l9.2-4.9l4.5-1.9l5.5-1.3l5-0.2l5 0.8l5 1.6l14.5 7.1l4 2.5l4.2 4.3l3.1 5.5l1.1 4l0.6 4.5l-0.2 4.5l-0.9 4l-1.7 4l-1.9 3l-2.8 2.9l-2.5 1.6z"/><path id="B22_2" d="M366.5 1303l-40 0.1l-1.9-0.1l-2.6-1.1l-3-1.8l-2.9-2.6l-2.2-3l-1.4-3l0-13l0.8-2l3.6-5l5.1-3.8l12.1-4.7l10.4-5.4l6-1.8l5.5-0.4l6 1l18.5 8.3l3.5 2.1l2.5 2.2l2.3 3l1.8 3.5l1.1 4l0.4 4l-0.3 4l-1 4l-1.6 3.5l-1.8 2.5l-2.4 2.3l-3 1.8l-5 1.3l-10.5 0.1z"/><path id="B22_3" d="M357 1302.5l-17-0.6l-10.5 0.3l-4.5-1l-4-1.9l-2.8-2.3l-2.1-2.5l-1.6-3l-1-3l-0.3-3l0.2-3.5l1.1-3.5l1.5-3l3.5-3.9l4.5-2.8l11-4l11-5.6l6.5-1.6l5 0l5 1.1l20 9.2l2.6 2.1l2.4 3l1.8 3.5l1.1 4l0.2 4l-0.5 4l-1.3 4l-1.8 2.9l-3.5 3.3l-4.5 1.9l-3.5 0.4l-8-0.2l-10.5 1.7z"/><path id="B22_4" d="M358 1300.5l-5 0.3l-13-0.8l-9.5 0.5l-4-0.7l-3.5-1.4l-2.5-1.7l-2.2-2.2l-2.7-5l-0.6-3l0-3l0.6-3l1.3-3l3.1-4l4-2.8l12-4.2l10.5-5.4l5.5-1.5l4.5-0.1l5 0.9l19.5 8.6l2.8 2l2.2 2.5l1.7 3l1.1 3.5l0.4 4l-0.3 3.5l-1.1 3.5l-1.7 3l-3.1 3l-4 1.8l-3.5 0.4l-8.5-0.4l-9 1.7z"/><path id="B22_5" d="M356.5 1299l-16-0.8l-10 0.6l-3.5-0.6l-3-1.2l-4.3-3.5l-2.4-4.5l-0.6-5.5l1.6-5l2.7-3.6l4-2.8l11-3.6l10.5-5.4l6-1.7l4.5-0.1l4.5 1l10 4.9l8.5 3.2l2.5 1.6l2.4 2.5l1.7 3l0.9 3l0.3 3.5l-0.4 3.5l-1.2 3.5l-1.7 2.5l-2.5 2.2l-3.5 1.5l-3 0.2l-8.5-0.6l-10.5 2.2z"/><path id="B22_6" d="M356.5 1297.5l-3.5 0.1l-11-1.4l-11.5 0.9l-5.5-1.4l-3.9-3.2l-2.2-4l-0.5-4.5l1.3-4.5l2.6-3.5l3.7-2.5l11-3.4l10-5.3l6-1.7l4 0l4 0.8l10 5.2l8 2.7l2.5 1.5l2.2 2.2l1.5 2.5l0.9 3l0.3 3l-0.3 3l-1.1 3l-1.5 2.3l-2.5 2.1l-3 1.1l-3 0.2l-8-0.9l-10.5 2.7z"/><path id="B22_7" d="M357.5 1296l-4.5 0.4l-9.5-1.9l-11.5 1.2l-5.5-1l-3.5-2.3l-2.3-3.4l-0.8-4l0.8-4l2.2-3.5l3.1-2.3l3.5-1.5l8.5-2.2l11-5.8l6.5-1.3l3.5 0.4l3 0.9l8.5 5l7.5 2.3l3.3 2l1.8 2l1.3 2.5l0.7 3l-0.1 3l-0.6 2.5l-1.3 2.5l-1.6 1.7l-2.1 1.3l-3.9 0.6l-6-1l-3 0l-9 2.9z"/><path id="B22_8" d="M356 1295l-3 0.1l-6-1.9l-3.5-0.6l-11 1.5l-5-0.8l-3-1.8l-2.2-3l-0.7-3.5l0.6-3.5l2-3l2.8-2l3-1.2l9-2.3l11-6l6-1.2l5.5 1.1l8.5 5.7l7.5 2.1l3 1.7l1.5 1.7l1.2 2.4l0.5 2.5l-0.2 3l-2 4l-3 2l-3 0.4l-6-1.2l-3 0l-10.5 3.8z"/><path id="B22_9" d="M356 1293.6l-3 0.1l-5.5-2.1l-4-0.8l-3 0.1l-7.5 1.6l-4.5-0.5l-2.6-1.5l-1.9-2.3l-0.7-2.7l0.3-3l1.9-3l2.5-1.8l11.5-2.9l11-6.5l5-1.2l5 0.6l3.2 1.8l5.8 5l7.5 1.8l2.5 1.4l2.3 3.3l0.4 4l-1.5 3.5l-2.7 1.8l-3 0.2l-5.5-1.4l-2.5 0l-3.5 1.1l-7.5 3.4z"/><path id="B22_10" d="M355 1292.1l-2-0.2l-6-2.2l-4-0.8l-3 0.2l-7 1.7l-3.5-0.3l-2-1l-1.5-1.5l-0.9-2l0.1-2.5l1.3-2.5l3-2.1l11-2.6l7.7-5.3l4.3-2.1l3.5-0.7l3.5 0.3l3.6 2l5.9 6.4l2 0.7l5 0.5l2.5 1.2l1.7 2.2l0.3 3.2l-1 2.3l-2 1.4l-2.5 0.2l-5-1.8l-2.5-0.1l-12.5 5.4z"/><path id="B22_11" d="M355 1290l-2.5-0.2l-7.5-2.5l-2.5-0.4l-3.5 0.2l-6 1.7l-2.5-0.1l-2.6-1.7l-0.6-1.5l0-1.5l0.7-1.5l1.7-1.5l12.3-3.5l6.5-5l3.5-2l3.5-1.2l3.5 0.1l2.3 1.1l2 2l4.1 7.5l0.2 2l-1.5 2l-3.9 3l-3.7 2l-3.5 1zM377 1285.5l-1.5 0.3l-2-0.8l-1.3-1.5l-0.1-1.5l2.4-1.2l2.5 0.6l1.1 2.1l-1.1 2z"/><path id="B22_12" d="M355.5 1288.1l-4-0.4l-7-2.7l-11.5 0l-1-0.5l5.6-4l6.9-2.2l4.5-4.3l3.5-2.3l3-1.2l2.5-0.1l2.5 0.9l1.9 2.2l1.5 4.5l0.3 3l-1 2.5l-1.9 2l-2.8 1.7l-3 0.9z"/><path id="B22_13" d="M356.5 1286l-3 0.3l-2.8-0.8l-3.1-2l-1.7-2l2.2-4l2.3-2.5l3.6-2.5l3.5-0.9l2 0.7l1.4 1.7l0.7 2.5l0.3 3.5l-0.5 2l-0.9 1.5l-1.7 1.5l-2.3 1zM342.5 1283.1l-2.5 0.2l-1-0.8l0.1-0.5l1.4-0.9l2-0.1l1.3 0.5l0.1 0.5l-1.4 1.1z"/><path id="B22_14" d="M356.5 1284.1l-2 0.4l-2.5-0.6l-1.9-1.4l-0.7-2l0.6-2.2l1.9-2.3l2.7-2l2.4-0.7l1 0.2l1.1 1l0.7 4.5l-0.8 3l-2.5 2.1z"/></defs><g><use href="#B22_4" fill="#969696"/><use href="#B22_5" fill="#fff"/><use href="#B22_6" fill="#969696"/><use href="#B22_7" fill="#fff"/><use href="#B22_8" fill="#969696"/><use href="#B22_9" fill="#fff"/><use href="#B22_10" fill="#969696"/><use href="#B22_11" fill="#fff"/><use href="#B22_12" fill="#969696"/><use href="#B22_13" fill="#fff"/><use href="#B22_14" fill="#969696"/></g><g fill="none" stroke-width="0.75"><use href="#B22_0" stroke="#7a7a7a"/><use href="#B22_1" stroke="#7a7a7a"/><use href="#B22_2" stroke="#7a7a7a"/><use href="#B22_3" stroke="#7a7a7a"/><use href="#B22_4" stroke="#565656"/><use href="#B22_5" stroke="#565656"/><use href="#B22_6" stroke="#565656"/><use href="#B22_7" stroke="#565656"/><use href="#B22_8" stroke="#565656"/><use href="#B22_9" stroke="#565656"/><use href="#B22_10" stroke="#565656"/><use href="#B22_11" stroke="#565656"/><use href="#B22_12" stroke="#565656"/><use href="#B22_13" stroke="#565656"/><use href="#B22_14" stroke="#565656"/></g><rect x="316.2" y="1260.0" width="1.4" height="1.4" fill="#333"/><rect x="318.0" y="1264.6" width="1.4" height="1.4" fill="#333"/><rect x="317.1" y="1269.2" width="1.4" height="1.4" fill="#333"/><rect x="322.6" y="1262.8" width="1.4" height="1.4" fill="#333"/><rect x="325.3" y="1261.0" width="1.4" height="1.4" fill="#333"/><rect x="343.7" y="1252.3" width="1.4" height="1.4" fill="#333"/><rect x="366.6" y="1249.6" width="1.4" height="1.4" fill="#333"/><rect x="375.3" y="1252.3" width="1.4" height="1.4" fill="#333"/><rect x="391.0" y="1251.3" width="1.4" height="1.4" fill="#333"/><rect x="405.2" y="1272.0" width="1.4" height="1.4" fill="#333"/><rect x="411.6" y="1273.8" width="1.4" height="1.4" fill="#333"/><rect x="414.3" y="1279.3" width="1.4" height="1.4" fill="#333"/><rect x="420.8" y="1276.5" width="1.4" height="1.4" fill="#333"/><rect x="422.6" y="1276.5" width="1.4" height="1.4" fill="#333"/><rect x="400.6" y="1281.1" width="1.4" height="1.4" fill="#333"/><rect x="400.6" y="1283.9" width="1.4" height="1.4" fill="#333"/><rect x="418.0" y="1283.9" width="1.4" height="1.4" fill="#333"/><rect x="420.8" y="1282.1" width="1.4" height="1.4" fill="#333"/><rect x="423.5" y="1286.6" width="1.4" height="1.4" fill="#333"/><rect x="426.3" y="1288.5" width="1.4" height="1.4" fill="#333"/><rect x="407.0" y="1290.3" width="1.4" height="1.4" fill="#333"/><rect x="411.6" y="1290.3" width="1.4" height="1.4" fill="#333"/><rect x="417.1" y="1290.3" width="1.4" height="1.4" fill="#333"/><rect x="413.4" y="1294.0" width="1.4" height="1.4" fill="#333"/><rect x="417.1" y="1294.9" width="1.4" height="1.4" fill="#333"/><rect x="400.6" y="1294.9" width="1.4" height="1.4" fill="#333"/>
<rect x="311.30" y="1196.90" width="156.80" height="156.00" fill="none" stroke="#222" stroke-width="1.2"/>
<line x1="381.00" y1="1196.90" x2="381.00" y2="1354.90" stroke="#1a1a1a" stroke-width="2.6"/>
<line x1="311.30" y1="1310.50" x2="468.10" y2="1310.50" stroke="#1a1a1a" stroke-width="2.6"/>
<line x1="302.05" y1="1321.70" x2="311.30" y2="1321.70" stroke="#1c1c1c" stroke-width="1.4"/>
<line x1="307.10" y1="1310.74" x2="311.30" y2="1310.74" stroke="#1c1c1c" stroke-width="1.1"/>
<line x1="307.10" y1="1304.33" x2="311.30" y2="1304.33" stroke="#1c1c1c" stroke-width="1.1"/>
<line x1="307.10" y1="1299.79" x2="311.30" y2="1299.79" stroke="#1c1c1c" stroke-width="1.1"/>
<line x1="304.30" y1="1296.26" x2="311.30" y2="1296.26" stroke="#1c1c1c" stroke-width="1.1"/>
<line x1="307.10" y1="1293.38" x2="311.30" y2="1293.38" stroke="#1c1c1c" stroke-width="1.1"/>
<line x1="307.10" y1="1290.94" x2="311.30" y2="1290.94" stroke="#1c1c1c" stroke-width="1.1"/>
<line x1="307.10" y1="1288.83" x2="311.30" y2="1288.83" stroke="#1c1c1c" stroke-width="1.1"/>
<line x1="307.10" y1="1286.97" x2="311.30" y2="1286.97" stroke="#1c1c1c" stroke-width="1.1"/>
<line x1="302.05" y1="1283.64" x2="311.30" y2="1283.64" stroke="#1c1c1c" stroke-width="1.4"/>
<line x1="307.10" y1="1272.68" x2="311.30" y2="1272.68" stroke="#1c1c1c" stroke-width="1.1"/>
<line x1="307.10" y1="1266.27" x2="311.30" y2="1266.27" stroke="#1c1c1c" stroke-width="1.1"/>
<line x1="307.10" y1="1261.72" x2="311.30" y2="1261.72" stroke="#1c1c1c" stroke-width="1.1"/>
<line x1="304.30" y1="1258.19" x2="311.30" y2="1258.19" stroke="#1c1c1c" stroke-width="1.1"/>
<line x1="307.10" y1="1255.31" x2="311.30" y2="1255.31" stroke="#1c1c1c" stroke-width="1.1"/>
<line x1="307.10" y1="1252.87" x2="311.30" y2="1252.87" stroke="#1c1c1c" stroke-width="1.1"/>
<line x1="307.10" y1="1250.76" x2="311.30" y2="1250.76" stroke="#1c1c1c" stroke-width="1.1"/>
<line x1="307.10" y1="1248.90" x2="311.30" y2="1248.90" stroke="#1c1c1c" stroke-width="1.1"/>
<line x1="302.05" y1="1248.54" x2="311.30" y2="1248.54" stroke="#1c1c1c" stroke-width="1.4"/>
<line x1="307.10" y1="1237.58" x2="311.30" y2="1237.58" stroke="#1c1c1c" stroke-width="1.1"/>
<line x1="307.10" y1="1231.17" x2="311.30" y2="1231.17" stroke="#1c1c1c" stroke-width="1.1"/>
<line x1="307.10" y1="1226.62" x2="311.30" y2="1226.62" stroke="#1c1c1c" stroke-width="1.1"/>
<line x1="304.30" y1="1223.09" x2="311.30" y2="1223.09" stroke="#1c1c1c" stroke-width="1.1"/>
<line x1="307.10" y1="1220.21" x2="311.30" y2="1220.21" stroke="#1c1c1c" stroke-width="1.1"/>
<line x1="307.10" y1="1217.77" x2="311.30" y2="1217.77" stroke="#1c1c1c" stroke-width="1.1"/>
<line x1="307.10" y1="1215.66" x2="311.30" y2="1215.66" stroke="#1c1c1c" stroke-width="1.1"/>
<line x1="307.10" y1="1213.80" x2="311.30" y2="1213.80" stroke="#1c1c1c" stroke-width="1.1"/>
<line x1="302.05" y1="1212.50" x2="311.30" y2="1212.50" stroke="#1c1c1c" stroke-width="1.4"/>
<line x1="307.10" y1="1201.54" x2="311.30" y2="1201.54" stroke="#1c1c1c" stroke-width="1.1"/>
<line x1="302.05" y1="1337.61" x2="311.30" y2="1337.61" stroke="#1c1c1c" stroke-width="1.4"/>
<line x1="302.05" y1="1352.90" x2="311.30" y2="1352.90" stroke="#1c1c1c" stroke-width="1.4"/>
<line x1="304.30" y1="1328.95" x2="311.30" y2="1328.95" stroke="#1c1c1c" stroke-width="1.1"/>
<line x1="304.30" y1="1344.86" x2="311.30" y2="1344.86" stroke="#1c1c1c" stroke-width="1.1"/>
<rect x="307.10" y="1322.00" width="4.2" height="4.70" fill="#1c1c1c"/>
<rect x="307.10" y="1332.70" width="4.2" height="4.50" fill="#1c1c1c"/>
<rect x="307.10" y="1338.61" width="4.2" height="5.00" fill="#1c1c1c"/>
<rect x="307.10" y="1349.40" width="4.2" height="3.20" fill="#1c1c1c"/>
<line x1="342.97" y1="1352.90" x2="342.97" y2="1362.40" stroke="#1c1c1c" stroke-width="1.4"/>
<line x1="353.92" y1="1352.90" x2="353.92" y2="1357.10" stroke="#1c1c1c" stroke-width="1.1"/>
<line x1="360.33" y1="1352.90" x2="360.33" y2="1357.10" stroke="#1c1c1c" stroke-width="1.1"/>
<line x1="364.88" y1="1352.90" x2="364.88" y2="1357.10" stroke="#1c1c1c" stroke-width="1.1"/>
<line x1="368.40" y1="1352.90" x2="368.40" y2="1359.90" stroke="#1c1c1c" stroke-width="1.1"/>
<line x1="371.28" y1="1352.90" x2="371.28" y2="1357.10" stroke="#1c1c1c" stroke-width="1.1"/>
<line x1="373.72" y1="1352.90" x2="373.72" y2="1357.10" stroke="#1c1c1c" stroke-width="1.1"/>
<line x1="375.83" y1="1352.90" x2="375.83" y2="1357.10" stroke="#1c1c1c" stroke-width="1.1"/>
<line x1="377.69" y1="1352.90" x2="377.69" y2="1357.10" stroke="#1c1c1c" stroke-width="1.1"/>
<line x1="381.39" y1="1352.90" x2="381.39" y2="1362.40" stroke="#1c1c1c" stroke-width="1.4"/>
<line x1="392.34" y1="1352.90" x2="392.34" y2="1357.10" stroke="#1c1c1c" stroke-width="1.1"/>
<line x1="398.75" y1="1352.90" x2="398.75" y2="1357.10" stroke="#1c1c1c" stroke-width="1.1"/>
<line x1="403.29" y1="1352.90" x2="403.29" y2="1357.10" stroke="#1c1c1c" stroke-width="1.1"/>
<line x1="406.82" y1="1352.90" x2="406.82" y2="1359.90" stroke="#1c1c1c" stroke-width="1.1"/>
<line x1="409.70" y1="1352.90" x2="409.70" y2="1357.10" stroke="#1c1c1c" stroke-width="1.1"/>
<line x1="412.13" y1="1352.90" x2="412.13" y2="1357.10" stroke="#1c1c1c" stroke-width="1.1"/>
<line x1="414.24" y1="1352.90" x2="414.24" y2="1357.10" stroke="#1c1c1c" stroke-width="1.1"/>
<line x1="416.10" y1="1352.90" x2="416.10" y2="1357.10" stroke="#1c1c1c" stroke-width="1.1"/>
<line x1="416.83" y1="1352.90" x2="416.83" y2="1362.40" stroke="#1c1c1c" stroke-width="1.4"/>
<line x1="427.78" y1="1352.90" x2="427.78" y2="1357.10" stroke="#1c1c1c" stroke-width="1.1"/>
<line x1="434.18" y1="1352.90" x2="434.18" y2="1357.10" stroke="#1c1c1c" stroke-width="1.1"/>
<line x1="438.73" y1="1352.90" x2="438.73" y2="1357.10" stroke="#1c1c1c" stroke-width="1.1"/>
<line x1="442.25" y1="1352.90" x2="442.25" y2="1359.90" stroke="#1c1c1c" stroke-width="1.1"/>
<line x1="445.13" y1="1352.90" x2="445.13" y2="1357.10" stroke="#1c1c1c" stroke-width="1.1"/>
<line x1="447.57" y1="1352.90" x2="447.57" y2="1357.10" stroke="#1c1c1c" stroke-width="1.1"/>
<line x1="449.68" y1="1352.90" x2="449.68" y2="1357.10" stroke="#1c1c1c" stroke-width="1.1"/>
<line x1="451.54" y1="1352.90" x2="451.54" y2="1357.10" stroke="#1c1c1c" stroke-width="1.1"/>
<line x1="452.11" y1="1352.90" x2="452.11" y2="1362.40" stroke="#1c1c1c" stroke-width="1.4"/>
<line x1="463.06" y1="1352.90" x2="463.06" y2="1357.10" stroke="#1c1c1c" stroke-width="1.1"/>
<line x1="311.30" y1="1352.90" x2="311.30" y2="1362.40" stroke="#1c1c1c" stroke-width="1.4"/>
<line x1="326.70" y1="1352.90" x2="326.70" y2="1362.40" stroke="#1c1c1c" stroke-width="2.2"/>
<line x1="318.70" y1="1352.90" x2="318.70" y2="1359.90" stroke="#1c1c1c" stroke-width="1.1"/>
<line x1="335.90" y1="1352.90" x2="335.90" y2="1359.90" stroke="#1c1c1c" stroke-width="1.1"/>
<rect x="311.80" y="1352.90" width="4.80" height="4.2" fill="#1c1c1c"/>
<rect x="320.10" y="1352.90" width="4.10" height="4.2" fill="#1c1c1c"/>
<rect x="330.30" y="1352.90" width="3.50" height="4.2" fill="#1c1c1c"/>
<rect x="337.90" y="1352.90" width="4.90" height="4.2" fill="#1c1c1c"/>
<text x="269.58" y="1224.50" font-size="16.71" font-weight="normal" fill="#1e1e1e">10</text>
<text x="287.72" y="1213.50" font-size="16.67" font-weight="normal" fill="#1e1e1e">5</text>
<text x="269.58" y="1260.54" font-size="16.71" font-weight="normal" fill="#1e1e1e">10</text>
<text x="287.55" y="1249.54" font-size="16.67" font-weight="normal" fill="#1e1e1e">4</text>
<text x="269.58" y="1295.64" font-size="16.71" font-weight="normal" fill="#1e1e1e">10</text>
<text x="287.84" y="1284.64" font-size="16.43" font-weight="normal" fill="#1e1e1e">3</text>
<text x="269.58" y="1333.70" font-size="16.71" font-weight="normal" fill="#1e1e1e">10</text>
<text x="288.00" y="1322.70" font-size="16.43" font-weight="normal" fill="#1e1e1e">2</text>
<text x="280.26" y="1346.61" font-size="16.43" font-weight="normal" fill="#1e1e1e">0</text>
<text x="312.86" y="1392.30" font-size="15.86" font-weight="normal" fill="#1e1e1e">0</text>
<text x="333.86" y="1392.30" font-size="15.86" font-weight="normal" fill="#1e1e1e">10</text>
<text x="352.13" y="1381.30" font-size="15.43" font-weight="normal" fill="#1e1e1e">2</text>
<text x="372.27" y="1392.30" font-size="15.86" font-weight="normal" fill="#1e1e1e">10</text>
<text x="390.70" y="1381.30" font-size="15.43" font-weight="normal" fill="#1e1e1e">3</text>
<text x="407.71" y="1392.30" font-size="15.86" font-weight="normal" fill="#1e1e1e">10</text>
<text x="426.44" y="1381.30" font-size="15.65" font-weight="normal" fill="#1e1e1e">4</text>
<text x="442.99" y="1392.30" font-size="15.86" font-weight="normal" fill="#1e1e1e">10</text>
<text x="461.41" y="1381.30" font-size="15.65" font-weight="normal" fill="#1e1e1e">5</text>
<text x="319.32" y="1222.20" font-size="26.14" font-weight="normal" fill="#000">94</text>
<text x="442.54" y="1223.10" font-size="26.14" font-weight="normal" fill="#000">6</text>
<defs><path id="B23_0" d="M587.5 1308l-29 0.4l-28-0.4l-0.5-20l0.5-20.7l5.5-4l11-6.5l5-2.1l5.5-1.1l6 0.1l6 1.6l6 2.9l7 4.5l6.6 5.8l6.5 9.5l6.4 4.9l1.6 2.6l0.8 3l-0.3 4.5l-2.1 4l-2.5 2.1l-5.5 2.4l-6.5 6.5z"/><path id="B23_1" d="M582.5 1308l-43 0.2l-4.7-0.2l-0.7-0.5l-3.6-3l-0.4-16.5l0.4-17l5-3.9l12-7l4.5-1.9l5.5-1.2l6 0.2l5.5 1.5l5.5 2.6l8 5l5.7 5.2l5.8 8.9l5 2.8l1.5 1.3l1.5 2.5l0.5 3l-0.8 3.5l-1.7 2.4l-2 1.2l-5.5 1.8l-5.5 6.1l-4.5 3z"/><path id="B23_2" d="M567.5 1308l-22.1 0l-6.4-0.6l-3-1.2l-4.5-3.8l-1-1l-0.3-15.4l0.3-11.8l1.1-1.2l4.4-3.5l14-8l3.5-1.3l5-0.6l5.5 0.4l5.5 1.7l10 5.4l5.8 4.4l3.3 4l4.2 7.5l1.2 0.9l4 1.5l1.5 1.4l0.9 2.7l-0.5 3l-2.4 2.2l-6 0.9l-4.6 6.4l-4.9 3.7l-5 1.5l-9.5 0.8z"/><path id="B23_3" d="M562 1306.5l-14.5-0.2l-8-0.9l-2-0.7l-3-2l-4-4.1l0-21.6l2.6-3l3.4-2.7l7.5-3.8l7-4.5l3.5-1.3l6.5 0l5.5 1.1l5.5 2.4l8.5 4.7l3.5 2.7l3 3.4l5.5 11.2l1 0.6l3 0.2l1.2 1.5l-0.2 1.5l-1 0.8l-3.5-0.7l-2 1l-2 2.3l-2.6 5.6l-2.4 2.4l-2.5 1.5l-5 1.5l-14.5 1.1z"/><path id="B23_4" d="M563 1304.5l-15.5 0l-7-0.8l-3-1.2l-3-1.9l-2.1-2.1l-1.9-3l0-15.3l1.6-2.7l2.4-2.6l3-2.3l8.2-4.1l6.3-4.1l2.5-0.9l6.5 0.1l5 1.1l5 2.1l9 4.9l3.5 2.7l2.6 3.1l1.8 3.5l1.4 4.5l0.3 3l-0.4 2l-3.7 7.9l-2.5 2.6l-3 1.7l-3 0.8l-14 1z"/><path id="B23_5" d="M564.5 1302.5l-7 0.5l-13.5-0.4l-4.5-1l-4-2.3l-3.3-3.8l-1.7-4.7l0.2-6.8l1.1-3l1.9-3l2.5-2.5l3.3-2.3l13.5-7l3-0.9l6 0.3l4.5 1.2l10.5 5.1l4.5 2.8l2.4 2.3l1.7 2.5l1.4 3l0.8 3.5l-0.2 4l-3.4 7.5l-2.7 2.6l-3.5 1.4l-13.5 1z"/><path id="B23_6" d="M562 1301l-18 0l-4-0.9l-3.5-2l-3.3-4.1l-1.4-5l0.6-5.5l2.5-4.5l2.6-2.6l3.5-2.2l12.5-5.9l4.5-1l4.5 0.2l4 1.2l10.5 5.1l4 2.5l2.1 2.2l1.7 2.5l1.6 5.5l-0.5 4l-3.3 6.5l-2.6 2l-3 1l-15 1z"/><path id="B23_7" d="M561.5 1299.5l-17 0.1l-4-0.9l-3-1.6l-3-3.5l-1.4-4.1l0.3-4.5l2.1-4.6l2.8-2.9l3.7-2.3l11.5-5.2l5-1.1l4 0.2l3.5 1l13.5 6.9l3.8 4l1.7 5l-0.3 4.5l-2.7 5.1l-2.5 2l-3 1l-15 0.9z"/><path id="B23_8" d="M560.5 1298l-15.5 0.2l-3.5-0.7l-2.5-1.2l-2.9-2.8l-1.5-4l0.1-4l1.7-4l2.6-2.7l3.7-2.3l10.8-4.8l5-1.1l3.5 0.1l3.5 1l13 6.4l3.4 3.4l1.7 4.5l-0.3 4.5l-2.3 4l-2 1.6l-3 0.9l-8 0.2l-7.5 0.8z"/><path id="B23_9" d="M560.5 1296.5l-15 0.3l-3-0.5l-2.5-1l-2.5-2.3l-1.4-3l-0.2-3.5l1.2-3.5l2.4-2.9l3.3-2.1l10.7-4.7l4.5-1.2l3 0l3.5 0.8l12.5 6.1l3.5 3l1.6 3.5l0 4l-2.1 3.9l-2 1.4l-2 0.6l-8 0.2l-7.5 0.9z"/><path id="B23_10" d="M561 1295l-14.5 0.5l-4.8-1l-2.2-1.5l-1.7-2.5l-0.6-3l0.7-3l1.7-2.5l2.4-2l12.5-5.6l5.5-0.9l5.5 1.4l10.5 5.3l2.5 1.8l2 3.1l0.2 3.9l-1.5 3l-2.7 1.6l-8.5 0.4l-7 1z"/><path id="B23_11" d="M549 1294l-5-0.3l-3-1.4l-2-2.9l-0.2-1.9l0.3-2l1.5-2.5l2.5-2l12.9-5.5l4.5-0.5l4.5 1.3l11.4 6.2l1.6 1.6l1 1.9l0.1 2l-0.6 1.8l-1 1.2l-2 0.9l-7.5 0.4l-9 1.5l-10 0.2z"/><path id="B23_12" d="M561 1292l-13 0.5l-3.9-0.5l-1.9-1l-1.2-1.4l-0.5-1.6l0.3-2l1.1-2l2.1-1.7l9.5-4.4l5-1.3l4 0.4l3 1.4l9 5.6l1.5 1.5l0.5 2l-0.5 1.1l-1.5 1l-6 0.6l-7.5 1.8z"/><path id="B23_13" d="M559.5 1290.6l-13.5-0.3l-2.5-1.3l-0.5-1l0-1.5l0.9-1.5l1.6-1.3l8.5-4.2l4-1.2l3.4 0.2l2.6 1.1l2.4 1.9l2.1 2.5l0.5 1.5l-0.8 1.5l-2.3 1.5l-6.4 2.1z"/><path id="B23_14" d="M560.5 1288.6l-4 0.3l-5.5-0.6l-3-0.8l-0.6-1l1.1-1.5l5.5-3.5l3-1.2l3-0.2l3.2 1.4l1.3 1.5l0.5 1.5l-0.4 1.5l-0.9 1l-3.2 1.6z"/></defs><g><use href="#B23_4" fill="#969696"/><use href="#B23_5" fill="#fff"/><use href="#B23_6" fill="#969696"/><use href="#B23_7" fill="#fff"/><use href="#B23_8" fill="#969696"/><use href="#B23_9" fill="#fff"/><use href="#B23_10" fill="#969696"/><use href="#B23_11" fill="#fff"/><use href="#B23_12" fill="#969696"/><use href="#B23_13" fill="#fff"/><use href="#B23_14" fill="#969696"/></g><g fill="none" stroke-width="0.75"><use href="#B23_0" stroke="#7a7a7a"/><use href="#B23_1" stroke="#7a7a7a"/><use href="#B23_2" stroke="#7a7a7a"/><use href="#B23_3" stroke="#7a7a7a"/><use href="#B23_4" stroke="#565656"/><use href="#B23_5" stroke="#565656"/><use href="#B23_6" stroke="#565656"/><use href="#B23_7" stroke="#565656"/><use href="#B23_8" stroke="#565656"/><use href="#B23_9" stroke="#565656"/><use href="#B23_10" stroke="#565656"/><use href="#B23_11" stroke="#565656"/><use href="#B23_12" stroke="#565656"/><use href="#B23_13" stroke="#565656"/><use href="#B23_14" stroke="#565656"/></g><rect x="532.5" y="1269.2" width="1.4" height="1.4" fill="#333"/><rect x="616.5" y="1276.9" width="1.4" height="1.4" fill="#333"/>
<rect x="529.50" y="1198.90" width="156.75" height="156.70" fill="none" stroke="#222" stroke-width="1.2"/>
<line x1="599.20" y1="1198.90" x2="599.20" y2="1357.60" stroke="#1a1a1a" stroke-width="2.6"/>
<line x1="529.50" y1="1312.90" x2="686.25" y2="1312.90" stroke="#1a1a1a" stroke-width="2.6"/>
<line x1="520.25" y1="1324.26" x2="529.50" y2="1324.26" stroke="#1c1c1c" stroke-width="1.4"/>
<line x1="525.30" y1="1313.25" x2="529.50" y2="1313.25" stroke="#1c1c1c" stroke-width="1.1"/>
<line x1="525.30" y1="1306.81" x2="529.50" y2="1306.81" stroke="#1c1c1c" stroke-width="1.1"/>
<line x1="525.30" y1="1302.25" x2="529.50" y2="1302.25" stroke="#1c1c1c" stroke-width="1.1"/>
<line x1="522.50" y1="1298.70" x2="529.50" y2="1298.70" stroke="#1c1c1c" stroke-width="1.1"/>
<line x1="525.30" y1="1295.81" x2="529.50" y2="1295.81" stroke="#1c1c1c" stroke-width="1.1"/>
<line x1="525.30" y1="1293.36" x2="529.50" y2="1293.36" stroke="#1c1c1c" stroke-width="1.1"/>
<line x1="525.30" y1="1291.24" x2="529.50" y2="1291.24" stroke="#1c1c1c" stroke-width="1.1"/>
<line x1="525.30" y1="1289.37" x2="529.50" y2="1289.37" stroke="#1c1c1c" stroke-width="1.1"/>
<line x1="520.25" y1="1286.03" x2="529.50" y2="1286.03" stroke="#1c1c1c" stroke-width="1.4"/>
<line x1="525.30" y1="1275.02" x2="529.50" y2="1275.02" stroke="#1c1c1c" stroke-width="1.1"/>
<line x1="525.30" y1="1268.58" x2="529.50" y2="1268.58" stroke="#1c1c1c" stroke-width="1.1"/>
<line x1="525.30" y1="1264.01" x2="529.50" y2="1264.01" stroke="#1c1c1c" stroke-width="1.1"/>
<line x1="522.50" y1="1260.47" x2="529.50" y2="1260.47" stroke="#1c1c1c" stroke-width="1.1"/>
<line x1="525.30" y1="1257.57" x2="529.50" y2="1257.57" stroke="#1c1c1c" stroke-width="1.1"/>
<line x1="525.30" y1="1255.13" x2="529.50" y2="1255.13" stroke="#1c1c1c" stroke-width="1.1"/>
<line x1="525.30" y1="1253.01" x2="529.50" y2="1253.01" stroke="#1c1c1c" stroke-width="1.1"/>
<line x1="525.30" y1="1251.13" x2="529.50" y2="1251.13" stroke="#1c1c1c" stroke-width="1.1"/>
<line x1="520.25" y1="1250.77" x2="529.50" y2="1250.77" stroke="#1c1c1c" stroke-width="1.4"/>
<line x1="525.30" y1="1239.76" x2="529.50" y2="1239.76" stroke="#1c1c1c" stroke-width="1.1"/>
<line x1="525.30" y1="1233.32" x2="529.50" y2="1233.32" stroke="#1c1c1c" stroke-width="1.1"/>
<line x1="525.30" y1="1228.75" x2="529.50" y2="1228.75" stroke="#1c1c1c" stroke-width="1.1"/>
<line x1="522.50" y1="1225.21" x2="529.50" y2="1225.21" stroke="#1c1c1c" stroke-width="1.1"/>
<line x1="525.30" y1="1222.32" x2="529.50" y2="1222.32" stroke="#1c1c1c" stroke-width="1.1"/>
<line x1="525.30" y1="1219.87" x2="529.50" y2="1219.87" stroke="#1c1c1c" stroke-width="1.1"/>
<line x1="525.30" y1="1217.75" x2="529.50" y2="1217.75" stroke="#1c1c1c" stroke-width="1.1"/>
<line x1="525.30" y1="1215.88" x2="529.50" y2="1215.88" stroke="#1c1c1c" stroke-width="1.1"/>
<line x1="520.25" y1="1214.57" x2="529.50" y2="1214.57" stroke="#1c1c1c" stroke-width="1.4"/>
<line x1="525.30" y1="1203.56" x2="529.50" y2="1203.56" stroke="#1c1c1c" stroke-width="1.1"/>
<line x1="520.25" y1="1340.24" x2="529.50" y2="1340.24" stroke="#1c1c1c" stroke-width="1.4"/>
<line x1="520.25" y1="1355.60" x2="529.50" y2="1355.60" stroke="#1c1c1c" stroke-width="1.4"/>
<line x1="522.50" y1="1331.51" x2="529.50" y2="1331.51" stroke="#1c1c1c" stroke-width="1.1"/>
<line x1="522.50" y1="1347.49" x2="529.50" y2="1347.49" stroke="#1c1c1c" stroke-width="1.1"/>
<rect x="525.30" y="1324.56" width="4.2" height="4.70" fill="#1c1c1c"/>
<rect x="525.30" y="1335.26" width="4.2" height="4.50" fill="#1c1c1c"/>
<rect x="525.30" y="1341.24" width="4.2" height="5.00" fill="#1c1c1c"/>
<rect x="525.30" y="1352.10" width="4.2" height="3.20" fill="#1c1c1c"/>
<line x1="561.16" y1="1355.60" x2="561.16" y2="1365.10" stroke="#1c1c1c" stroke-width="1.4"/>
<line x1="572.11" y1="1355.60" x2="572.11" y2="1359.80" stroke="#1c1c1c" stroke-width="1.1"/>
<line x1="578.51" y1="1355.60" x2="578.51" y2="1359.80" stroke="#1c1c1c" stroke-width="1.1"/>
<line x1="583.06" y1="1355.60" x2="583.06" y2="1359.80" stroke="#1c1c1c" stroke-width="1.1"/>
<line x1="586.58" y1="1355.60" x2="586.58" y2="1362.60" stroke="#1c1c1c" stroke-width="1.1"/>
<line x1="589.46" y1="1355.60" x2="589.46" y2="1359.80" stroke="#1c1c1c" stroke-width="1.1"/>
<line x1="591.90" y1="1355.60" x2="591.90" y2="1359.80" stroke="#1c1c1c" stroke-width="1.1"/>
<line x1="594.01" y1="1355.60" x2="594.01" y2="1359.80" stroke="#1c1c1c" stroke-width="1.1"/>
<line x1="595.87" y1="1355.60" x2="595.87" y2="1359.80" stroke="#1c1c1c" stroke-width="1.1"/>
<line x1="599.57" y1="1355.60" x2="599.57" y2="1365.10" stroke="#1c1c1c" stroke-width="1.4"/>
<line x1="610.51" y1="1355.60" x2="610.51" y2="1359.80" stroke="#1c1c1c" stroke-width="1.1"/>
<line x1="616.92" y1="1355.60" x2="616.92" y2="1359.80" stroke="#1c1c1c" stroke-width="1.1"/>
<line x1="621.46" y1="1355.60" x2="621.46" y2="1359.80" stroke="#1c1c1c" stroke-width="1.1"/>
<line x1="624.99" y1="1355.60" x2="624.99" y2="1362.60" stroke="#1c1c1c" stroke-width="1.1"/>
<line x1="627.87" y1="1355.60" x2="627.87" y2="1359.80" stroke="#1c1c1c" stroke-width="1.1"/>
<line x1="630.30" y1="1355.60" x2="630.30" y2="1359.80" stroke="#1c1c1c" stroke-width="1.1"/>
<line x1="632.41" y1="1355.60" x2="632.41" y2="1359.80" stroke="#1c1c1c" stroke-width="1.1"/>
<line x1="634.27" y1="1355.60" x2="634.27" y2="1359.80" stroke="#1c1c1c" stroke-width="1.1"/>
<line x1="634.99" y1="1355.60" x2="634.99" y2="1365.10" stroke="#1c1c1c" stroke-width="1.4"/>
<line x1="645.94" y1="1355.60" x2="645.94" y2="1359.80" stroke="#1c1c1c" stroke-width="1.1"/>
<line x1="652.34" y1="1355.60" x2="652.34" y2="1359.80" stroke="#1c1c1c" stroke-width="1.1"/>
<line x1="656.89" y1="1355.60" x2="656.89" y2="1359.80" stroke="#1c1c1c" stroke-width="1.1"/>
<line x1="660.41" y1="1355.60" x2="660.41" y2="1362.60" stroke="#1c1c1c" stroke-width="1.1"/>
<line x1="663.29" y1="1355.60" x2="663.29" y2="1359.80" stroke="#1c1c1c" stroke-width="1.1"/>
<line x1="665.73" y1="1355.60" x2="665.73" y2="1359.80" stroke="#1c1c1c" stroke-width="1.1"/>
<line x1="667.83" y1="1355.60" x2="667.83" y2="1359.80" stroke="#1c1c1c" stroke-width="1.1"/>
<line x1="669.69" y1="1355.60" x2="669.69" y2="1359.80" stroke="#1c1c1c" stroke-width="1.1"/>
<line x1="670.26" y1="1355.60" x2="670.26" y2="1365.10" stroke="#1c1c1c" stroke-width="1.4"/>
<line x1="681.21" y1="1355.60" x2="681.21" y2="1359.80" stroke="#1c1c1c" stroke-width="1.1"/>
<line x1="529.50" y1="1355.60" x2="529.50" y2="1365.10" stroke="#1c1c1c" stroke-width="1.4"/>
<line x1="544.90" y1="1355.60" x2="544.90" y2="1365.10" stroke="#1c1c1c" stroke-width="2.2"/>
<line x1="536.90" y1="1355.60" x2="536.90" y2="1362.60" stroke="#1c1c1c" stroke-width="1.1"/>
<line x1="554.10" y1="1355.60" x2="554.10" y2="1362.60" stroke="#1c1c1c" stroke-width="1.1"/>
<rect x="530.00" y="1355.60" width="4.80" height="4.2" fill="#1c1c1c"/>
<rect x="538.30" y="1355.60" width="4.10" height="4.2" fill="#1c1c1c"/>
<rect x="548.50" y="1355.60" width="3.50" height="4.2" fill="#1c1c1c"/>
<rect x="556.10" y="1355.60" width="4.90" height="4.2" fill="#1c1c1c"/>
<text x="487.78" y="1226.57" font-size="16.71" font-weight="normal" fill="#1e1e1e">10</text>
<text x="505.92" y="1215.57" font-size="16.67" font-weight="normal" fill="#1e1e1e">5</text>
<text x="487.78" y="1262.77" font-size="16.71" font-weight="normal" fill="#1e1e1e">10</text>
<text x="505.75" y="1251.77" font-size="16.67" font-weight="normal" fill="#1e1e1e">4</text>
<text x="487.78" y="1298.03" font-size="16.71" font-weight="normal" fill="#1e1e1e">10</text>
<text x="506.04" y="1287.03" font-size="16.43" font-weight="normal" fill="#1e1e1e">3</text>
<text x="487.78" y="1336.26" font-size="16.71" font-weight="normal" fill="#1e1e1e">10</text>
<text x="506.20" y="1325.26" font-size="16.43" font-weight="normal" fill="#1e1e1e">2</text>
<text x="498.46" y="1349.24" font-size="16.43" font-weight="normal" fill="#1e1e1e">0</text>
<text x="531.06" y="1395.00" font-size="15.86" font-weight="normal" fill="#1e1e1e">0</text>
<text x="552.05" y="1395.00" font-size="15.86" font-weight="normal" fill="#1e1e1e">10</text>
<text x="570.32" y="1384.00" font-size="15.43" font-weight="normal" fill="#1e1e1e">2</text>
<text x="590.45" y="1395.00" font-size="15.86" font-weight="normal" fill="#1e1e1e">10</text>
<text x="608.88" y="1384.00" font-size="15.43" font-weight="normal" fill="#1e1e1e">3</text>
<text x="625.87" y="1395.00" font-size="15.86" font-weight="normal" fill="#1e1e1e">10</text>
<text x="644.61" y="1384.00" font-size="15.65" font-weight="normal" fill="#1e1e1e">4</text>
<text x="661.14" y="1395.00" font-size="15.86" font-weight="normal" fill="#1e1e1e">10</text>
<text x="679.56" y="1384.00" font-size="15.65" font-weight="normal" fill="#1e1e1e">5</text>
<text x="536.62" y="1225.90" font-size="26.29" font-weight="normal" fill="#000">98</text>
<text x="661.66" y="1226.80" font-size="25.43" font-weight="normal" fill="#000">2</text>
<defs><path id="B31_0" d="M165.5 1560l-13 0.4l-49-0.3l-11.5 0.3l-0.4-0.4l-0.1-14l0.5-21.5l2 0l2 0.7l6 5.7l2.5 0.5l15.5-5.2l10.5-7.5l6.5-2.9l5-1l10-0.7l7.5-3.2l3.5-1l3.5 0l3.5 1.1l4.5 3.4l3.4 5.1l1.9 6.5l0.3 7l-1.2 6l-2.6 6l-7 10.5l-3.8 4.5z"/><path id="B31_1" d="M161 1560l-17 0.4l-33.4-0.4l-7.1-2.7l-1.5 0.5l-2 2.2l-8 0.4l-0.4-0.4l-0.1-14l0.5-19l2 0l2 0.8l6 6.4l2 0.5l7-2.9l10.7-3.3l10.3-7l5.5-2.6l5-1l9.5-0.5l8-3.8l3-0.9l3.5 0l3 1l4.1 3.3l3 5l1.4 6l-0.3 6.5l-1.4 5l-2.6 5l-9 12l-3.7 3.5z"/><path id="B31_2" d="M157 1560l-16 0.3l-22-0.6l-7.5-1.6l-8-3.9l-2 1l-3.4 4.8l-6.1 0.3l-0.4-14.3l0.4-16.9l2.5 0.1l2 1.2l5 6.4l2 1l8-4l12.5-3.8l9-6.2l5-2.4l5-1.1l9.5-0.4l7.5-3.9l3-1l3-0.1l2.5 0.7l4 3.1l2.7 4.8l1.2 6l-0.6 6l-1.7 4.5l-2.6 4.1l-9.7 11.9l-4.8 4z"/><path id="B31_3" d="M153 1560l-18.7 0l-5.8-1.2l-12-1l-6.5-2.1l-6-4.4l-1-0.2l-1.5 1.2l-3 5.2l-2.1 2.5l-4.4 0.1l-0.4-14.1l0.4-15.3l2.5 0.1l2 1.3l2 2.4l3.5 5.8l1.5 0.6l5-3.7l3-1.6l14-4.3l8.5-5.9l4.5-2.1l5-1.1l9.5-0.3l7-4l3-1.1l3-0.1l2.5 0.8l3.5 3l2.4 5l0.6 5.5l-1.2 6l-2.8 5.1l-10.5 12.4l-3.5 3.3l-4 2.2z"/><path id="B31_4" d="M145.5 1560l-5-0.3l-11-2.5l-11.5-0.7l-5.5-1.5l-4-2.4l-2.6-3.1l-1.2-3.5l0.9-3l2.2-3l3.2-2.3l4-1.7l11-3l8.5-5.8l4-2l5-1.1l9.5-0.1l2-0.8l7-4.4l3-0.4l3 0.8l2 1.4l1.5 1.9l2 5l0 5.5l-1.9 5.5l-2.1 2.9l-13 14.4l-5 3l-6 1.2zM94.5 1559.6l-2.5 0.2l-0.2-2.3l0-22l0.2-3.3l1-0.1l2.5 0.8l2.3 2.6l2.5 5l1.3 5l-0.5 3.5l-2.4 6l-2 3l-2.2 1.6z"/><path id="B31_5" d="M147.5 1558l-5.5 0.2l-11-2.5l-11.5-0.5l-5-1.1l-3.5-1.9l-2.3-2.2l-1.3-3l0.2-3l1.9-3l3-2.2l4-1.6l10.5-2.8l8.5-5.7l3-1.6l5.5-1.3l9.5 0.2l2-0.8l6.5-4.5l2.5-0.6l2 0.3l2 1.1l1.5 1.4l2 4.1l0.3 5l-1.6 5l-2.1 3l-5.6 5.3l-7 8.6l-4 2.7l-4.5 1.4zM94.5 1558.1l-2.5 0.2l-0.1-1.8l-0.1-20.5l0.2-2.3l1-0.2l2.5 1l2 2.4l1.8 4.1l0.7 4l-0.2 4l-1.2 4l-2.1 3.5l-2 1.6z"/><path id="B31_6" d="M146 1556.5l-5-0.2l-10-2.3l-10.5-0.3l-5-1.1l-3.1-1.6l-2.1-2.5l-0.6-3l0.8-2.5l2-2.1l3-1.7l13-3.6l7.5-5.3l4-2l5-0.8l9 0.6l2-0.8l4.5-3.8l2-1.1l2.5-0.4l2.5 0.9l2.3 2.6l1.1 3.5l-0.2 4l-1.7 3.9l-2 2.3l-5.1 4.3l-4.6 6.5l-2.8 2.9l-4 2.5l-4.5 1.1zM93 1557l-1-0.2l-0.3-10.8l0.3-10.8l1-0.2l2.4 1l1.9 2.5l1.3 3.5l0.5 4l-0.5 4l-1.3 3.5l-1.9 2.5l-2.4 1z"/><path id="B31_7" d="M146 1555l-5-0.2l-10-2.4l-9.5-0.1l-4.5-0.8l-2.9-1.5l-1.7-2l-0.5-2.5l0.7-2l2-2l2.9-1.5l12-3.3l7-5.1l3.5-1.7l5.5-0.9l7.5 1.2l2-0.1l2-1l3.5-3.5l2-1.3l2.5-0.5l2 0.8l1.6 1.9l0.9 3l-0.1 3l-1.4 3.2l-2 2.2l-5.5 4.1l-4.1 6.5l-2.6 3l-3.8 2.5l-4 1zM94 1555.6l-2-0.1l-0.1-1.5l0.1-17l0-0.5l1-0.2l2 0.7l1.5 1.9l1.1 2.6l0.6 3.5l-0.1 3.5l-0.8 3l-1.4 2.5l-1.9 1.6z"/><path id="B31_8" d="M145 1553.5l-4.5-0.4l-9.5-2.5l-9 0l-3.5-0.6l-2.1-1l-1.4-1.5l-0.4-2l0.9-1.9l1.9-1.6l2.6-1.2l10-2.5l6.5-5.1l4-2l3-0.6l3 0l8 2.2l2 0.1l1.5-1l2.9-3.9l1.6-1.3l2-0.6l1.5 0.5l1.2 1.4l0.6 2l-0.3 2.5l-1 2l-2 1.8l-5 2.5l-4.1 8.2l-2.9 3.5l-3.5 2.2l-4 0.8zM94 1554.2l-2-0.2l0-16l1-0.4l1.5 0.5l1.5 1.8l1.4 5.1l-0.7 5.5l-1.2 2.4l-1.5 1.3z"/><path id="B31_9" d="M164 1532.2l-1 0l-0.2-0.7l0.5-1l0.7-0.4l0.7 0.9l-0.7 1.2zM145 1552l-4.5-0.4l-9-2.9l-10.5-0.2l-2.7-1.5l-0.4-2l1.1-1.5l2.5-1.5l9.5-2.4l5.5-5l3-1.8l4-0.9l4 0.3l4 1.6l3 2.2l1.2 2l0.1 3l-1.4 4.5l-2.4 3.4l-3 2.1l-4 1zM94 1552.8l-2-0.1l0-13.4l1-0.3l1.5 0.6l1 1.2l1.2 4.2l-0.7 5l-2 2.8z"/><path id="B31_10" d="M145 1550.5l-5-0.6l-8-3.7l-7.5 0.3l-1.7-0.5l-0.6-1l0.5-1l1.8-1l5.5-0.7l1.5-0.6l5-5.7l3-2.1l3.5-0.9l3.5 0.3l3 1.2l2.5 2l1.5 2.5l0.3 2.5l-0.9 3.5l-1.9 2.7l-2.5 1.8l-3.5 1zM93.5 1551.5l-1.5-0.3l0-10.4l1-0.4l1 0.3l1 1.2l0.9 3.6l-0.6 4l-1.8 2z"/><path id="B31_11" d="M146.5 1548.6l-3 0.4l-3.5-0.9l-3-1.7l-2.1-2.4l-0.3-2l1.1-3l1.8-2.5l2-1.5l3-0.9l3.5 0.3l3.1 1.6l2.1 2.5l0.7 3l-0.7 3l-1.8 2.5l-2.9 1.6zM93.5 1549.8l-1.5-0.5l0-6.6l1-0.6l1.5 1.1l0.6 2.3l-0.5 3l-1.1 1.3z"/><path id="B31_12" d="M145.5 1547.1l-2.5 0.1l-2.5-0.8l-2.1-1.4l-1.4-1.9l-0.4-2.1l0.4-2l1.4-2l1.6-1.2l2.5-0.7l3 0.4l2.5 1.4l1.6 2.1l0.5 2.5l-0.6 2.5l-1.7 2l-2.3 1.1zM93 1547.2l-0.5-1.2l0.5-1.2l0.6 1.2l-0.6 1.2z"/><path id="B31_13" d="M145 1545.1l-3.5-0.3l-1.9-1.3l-1.1-1.4l-0.4-1.6l0.3-1.5l2.1-2.3l2-0.6l2 0.2l2 1.1l1.2 1.6l0.5 1.5l-0.3 2l-1 1.5l-1.9 1.1z"/><path id="B31_14" d="M144.5 1543.1l-2.5 0l-2-1.5l-0.5-2.1l1-1.6l2.5-0.7l1.5 0.4l1.2 0.9l0.6 2.5l-0.8 1.5l-1 0.6z"/></defs><g><use href="#B31_4" fill="#969696"/><use href="#B31_5" fill="#fff"/><use href="#B31_6" fill="#969696"/><use href="#B31_7" fill="#fff"/><use href="#B31_8" fill="#969696"/><use href="#B31_9" fill="#fff"/><use href="#B31_10" fill="#969696"/><use href="#B31_11" fill="#fff"/><use href="#B31_12" fill="#969696"/><use href="#B31_13" fill="#fff"/><use href="#B31_14" fill="#969696"/></g><g fill="none" stroke-width="0.75"><use href="#B31_0" stroke="#7a7a7a"/><use href="#B31_1" stroke="#7a7a7a"/><use href="#B31_2" stroke="#7a7a7a"/><use href="#B31_3" stroke="#7a7a7a"/><use href="#B31_4" stroke="#565656"/><use href="#B31_5" stroke="#565656"/><use href="#B31_6" stroke="#565656"/><use href="#B31_7" stroke="#565656"/><use href="#B31_8" stroke="#565656"/><use href="#B31_9" stroke="#565656"/><use href="#B31_10" stroke="#565656"/><use href="#B31_11" stroke="#565656"/><use href="#B31_12" stroke="#565656"/><use href="#B31_13" stroke="#565656"/><use href="#B31_14" stroke="#565656"/></g><rect x="94.0" y="1521.9" width="1.4" height="1.4" fill="#333"/><rect x="109.9" y="1527.3" width="1.4" height="1.4" fill="#333"/><rect x="113.6" y="1526.5" width="1.4" height="1.4" fill="#333"/><rect x="121.0" y="1519.1" width="1.4" height="1.4" fill="#333"/><rect x="129.3" y="1514.9" width="1.4" height="1.4" fill="#333"/><rect x="133.8" y="1518.2" width="1.4" height="1.4" fill="#333"/><rect x="141.1" y="1509.0" width="1.4" height="1.4" fill="#333"/><rect x="149.0" y="1512.7" width="1.4" height="1.4" fill="#333"/><rect x="169.6" y="1504.4" width="1.4" height="1.4" fill="#333"/><rect x="169.6" y="1507.2" width="1.4" height="1.4" fill="#333"/><rect x="179.7" y="1532.5" width="1.4" height="1.4" fill="#333"/><rect x="178.7" y="1549.4" width="1.4" height="1.4" fill="#333"/><rect x="187.0" y="1553.1" width="1.4" height="1.4" fill="#333"/><rect x="194.3" y="1553.1" width="1.4" height="1.4" fill="#333"/>
<rect x="91.00" y="1455.00" width="156.50" height="156.40" fill="none" stroke="#222" stroke-width="1.2"/>
<line x1="164.10" y1="1455.00" x2="164.10" y2="1613.40" stroke="#1a1a1a" stroke-width="2.6"/>
<line x1="91.00" y1="1566.50" x2="247.50" y2="1566.50" stroke="#1a1a1a" stroke-width="2.6"/>
<line x1="81.75" y1="1580.12" x2="91.00" y2="1580.12" stroke="#1c1c1c" stroke-width="1.4"/>
<line x1="86.80" y1="1569.13" x2="91.00" y2="1569.13" stroke="#1c1c1c" stroke-width="1.1"/>
<line x1="86.80" y1="1562.71" x2="91.00" y2="1562.71" stroke="#1c1c1c" stroke-width="1.1"/>
<line x1="86.80" y1="1558.15" x2="91.00" y2="1558.15" stroke="#1c1c1c" stroke-width="1.1"/>
<line x1="84.00" y1="1554.61" x2="91.00" y2="1554.61" stroke="#1c1c1c" stroke-width="1.1"/>
<line x1="86.80" y1="1551.72" x2="91.00" y2="1551.72" stroke="#1c1c1c" stroke-width="1.1"/>
<line x1="86.80" y1="1549.28" x2="91.00" y2="1549.28" stroke="#1c1c1c" stroke-width="1.1"/>
<line x1="86.80" y1="1547.16" x2="91.00" y2="1547.16" stroke="#1c1c1c" stroke-width="1.1"/>
<line x1="86.80" y1="1545.30" x2="91.00" y2="1545.30" stroke="#1c1c1c" stroke-width="1.1"/>
<line x1="81.75" y1="1541.96" x2="91.00" y2="1541.96" stroke="#1c1c1c" stroke-width="1.4"/>
<line x1="86.80" y1="1530.97" x2="91.00" y2="1530.97" stroke="#1c1c1c" stroke-width="1.1"/>
<line x1="86.80" y1="1524.55" x2="91.00" y2="1524.55" stroke="#1c1c1c" stroke-width="1.1"/>
<line x1="86.80" y1="1519.99" x2="91.00" y2="1519.99" stroke="#1c1c1c" stroke-width="1.1"/>
<line x1="84.00" y1="1516.45" x2="91.00" y2="1516.45" stroke="#1c1c1c" stroke-width="1.1"/>
<line x1="86.80" y1="1513.56" x2="91.00" y2="1513.56" stroke="#1c1c1c" stroke-width="1.1"/>
<line x1="86.80" y1="1511.12" x2="91.00" y2="1511.12" stroke="#1c1c1c" stroke-width="1.1"/>
<line x1="86.80" y1="1509.00" x2="91.00" y2="1509.00" stroke="#1c1c1c" stroke-width="1.1"/>
<line x1="86.80" y1="1507.13" x2="91.00" y2="1507.13" stroke="#1c1c1c" stroke-width="1.1"/>
<line x1="81.75" y1="1506.77" x2="91.00" y2="1506.77" stroke="#1c1c1c" stroke-width="1.4"/>
<line x1="86.80" y1="1495.78" x2="91.00" y2="1495.78" stroke="#1c1c1c" stroke-width="1.1"/>
<line x1="86.80" y1="1489.36" x2="91.00" y2="1489.36" stroke="#1c1c1c" stroke-width="1.1"/>
<line x1="86.80" y1="1484.80" x2="91.00" y2="1484.80" stroke="#1c1c1c" stroke-width="1.1"/>
<line x1="84.00" y1="1481.26" x2="91.00" y2="1481.26" stroke="#1c1c1c" stroke-width="1.1"/>
<line x1="86.80" y1="1478.37" x2="91.00" y2="1478.37" stroke="#1c1c1c" stroke-width="1.1"/>
<line x1="86.80" y1="1475.93" x2="91.00" y2="1475.93" stroke="#1c1c1c" stroke-width="1.1"/>
<line x1="86.80" y1="1473.81" x2="91.00" y2="1473.81" stroke="#1c1c1c" stroke-width="1.1"/>
<line x1="86.80" y1="1471.94" x2="91.00" y2="1471.94" stroke="#1c1c1c" stroke-width="1.1"/>
<line x1="81.75" y1="1470.64" x2="91.00" y2="1470.64" stroke="#1c1c1c" stroke-width="1.4"/>
<line x1="86.80" y1="1459.65" x2="91.00" y2="1459.65" stroke="#1c1c1c" stroke-width="1.1"/>
<line x1="81.75" y1="1596.07" x2="91.00" y2="1596.07" stroke="#1c1c1c" stroke-width="1.4"/>
<line x1="81.75" y1="1611.40" x2="91.00" y2="1611.40" stroke="#1c1c1c" stroke-width="1.4"/>
<line x1="84.00" y1="1587.37" x2="91.00" y2="1587.37" stroke="#1c1c1c" stroke-width="1.1"/>
<line x1="84.00" y1="1603.32" x2="91.00" y2="1603.32" stroke="#1c1c1c" stroke-width="1.1"/>
<rect x="86.80" y="1580.42" width="4.2" height="4.70" fill="#1c1c1c"/>
<rect x="86.80" y="1591.12" width="4.2" height="4.50" fill="#1c1c1c"/>
<rect x="86.80" y="1597.07" width="4.2" height="5.00" fill="#1c1c1c"/>
<rect x="86.80" y="1607.90" width="4.2" height="3.20" fill="#1c1c1c"/>
<line x1="122.61" y1="1611.40" x2="122.61" y2="1620.90" stroke="#1c1c1c" stroke-width="1.4"/>
<line x1="133.54" y1="1611.40" x2="133.54" y2="1615.60" stroke="#1c1c1c" stroke-width="1.1"/>
<line x1="139.94" y1="1611.40" x2="139.94" y2="1615.60" stroke="#1c1c1c" stroke-width="1.1"/>
<line x1="144.47" y1="1611.40" x2="144.47" y2="1615.60" stroke="#1c1c1c" stroke-width="1.1"/>
<line x1="147.99" y1="1611.40" x2="147.99" y2="1618.40" stroke="#1c1c1c" stroke-width="1.1"/>
<line x1="150.87" y1="1611.40" x2="150.87" y2="1615.60" stroke="#1c1c1c" stroke-width="1.1"/>
<line x1="153.30" y1="1611.40" x2="153.30" y2="1615.60" stroke="#1c1c1c" stroke-width="1.1"/>
<line x1="155.40" y1="1611.40" x2="155.40" y2="1615.60" stroke="#1c1c1c" stroke-width="1.1"/>
<line x1="157.26" y1="1611.40" x2="157.26" y2="1615.60" stroke="#1c1c1c" stroke-width="1.1"/>
<line x1="160.96" y1="1611.40" x2="160.96" y2="1620.90" stroke="#1c1c1c" stroke-width="1.4"/>
<line x1="171.89" y1="1611.40" x2="171.89" y2="1615.60" stroke="#1c1c1c" stroke-width="1.1"/>
<line x1="178.28" y1="1611.40" x2="178.28" y2="1615.60" stroke="#1c1c1c" stroke-width="1.1"/>
<line x1="182.82" y1="1611.40" x2="182.82" y2="1615.60" stroke="#1c1c1c" stroke-width="1.1"/>
<line x1="186.33" y1="1611.40" x2="186.33" y2="1618.40" stroke="#1c1c1c" stroke-width="1.1"/>
<line x1="189.21" y1="1611.40" x2="189.21" y2="1615.60" stroke="#1c1c1c" stroke-width="1.1"/>
<line x1="191.64" y1="1611.40" x2="191.64" y2="1615.60" stroke="#1c1c1c" stroke-width="1.1"/>
<line x1="193.74" y1="1611.40" x2="193.74" y2="1615.60" stroke="#1c1c1c" stroke-width="1.1"/>
<line x1="195.60" y1="1611.40" x2="195.60" y2="1615.60" stroke="#1c1c1c" stroke-width="1.1"/>
<line x1="196.32" y1="1611.40" x2="196.32" y2="1620.90" stroke="#1c1c1c" stroke-width="1.4"/>
<line x1="207.25" y1="1611.40" x2="207.25" y2="1615.60" stroke="#1c1c1c" stroke-width="1.1"/>
<line x1="213.65" y1="1611.40" x2="213.65" y2="1615.60" stroke="#1c1c1c" stroke-width="1.1"/>
<line x1="218.18" y1="1611.40" x2="218.18" y2="1615.60" stroke="#1c1c1c" stroke-width="1.1"/>
<line x1="221.70" y1="1611.40" x2="221.70" y2="1618.40" stroke="#1c1c1c" stroke-width="1.1"/>
<line x1="224.58" y1="1611.40" x2="224.58" y2="1615.60" stroke="#1c1c1c" stroke-width="1.1"/>
<line x1="227.01" y1="1611.40" x2="227.01" y2="1615.60" stroke="#1c1c1c" stroke-width="1.1"/>
<line x1="229.11" y1="1611.40" x2="229.11" y2="1615.60" stroke="#1c1c1c" stroke-width="1.1"/>
<line x1="230.97" y1="1611.40" x2="230.97" y2="1615.60" stroke="#1c1c1c" stroke-width="1.1"/>
<line x1="231.54" y1="1611.40" x2="231.54" y2="1620.90" stroke="#1c1c1c" stroke-width="1.4"/>
<line x1="242.47" y1="1611.40" x2="242.47" y2="1615.60" stroke="#1c1c1c" stroke-width="1.1"/>
<line x1="91.00" y1="1611.40" x2="91.00" y2="1620.90" stroke="#1c1c1c" stroke-width="1.4"/>
<line x1="106.40" y1="1611.40" x2="106.40" y2="1620.90" stroke="#1c1c1c" stroke-width="2.2"/>
<line x1="98.40" y1="1611.40" x2="98.40" y2="1618.40" stroke="#1c1c1c" stroke-width="1.1"/>
<line x1="115.60" y1="1611.40" x2="115.60" y2="1618.40" stroke="#1c1c1c" stroke-width="1.1"/>
<rect x="91.50" y="1611.40" width="4.80" height="4.2" fill="#1c1c1c"/>
<rect x="99.80" y="1611.40" width="4.10" height="4.2" fill="#1c1c1c"/>
<rect x="110.00" y="1611.40" width="3.50" height="4.2" fill="#1c1c1c"/>
<rect x="117.60" y="1611.40" width="4.90" height="4.2" fill="#1c1c1c"/>
<text x="49.28" y="1482.64" font-size="16.71" font-weight="normal" fill="#1e1e1e">10</text>
<text x="67.42" y="1471.64" font-size="16.67" font-weight="normal" fill="#1e1e1e">5</text>
<text x="49.28" y="1518.77" font-size="16.71" font-weight="normal" fill="#1e1e1e">10</text>
<text x="67.25" y="1507.77" font-size="16.67" font-weight="normal" fill="#1e1e1e">4</text>
<text x="49.28" y="1553.96" font-size="16.71" font-weight="normal" fill="#1e1e1e">10</text>
<text x="67.54" y="1542.96" font-size="16.43" font-weight="normal" fill="#1e1e1e">3</text>
<text x="49.28" y="1592.12" font-size="16.71" font-weight="normal" fill="#1e1e1e">10</text>
<text x="67.70" y="1581.12" font-size="16.43" font-weight="normal" fill="#1e1e1e">2</text>
<text x="59.96" y="1605.07" font-size="16.43" font-weight="normal" fill="#1e1e1e">0</text>
<text x="92.56" y="1650.80" font-size="15.86" font-weight="normal" fill="#1e1e1e">0</text>
<text x="113.50" y="1650.80" font-size="15.86" font-weight="normal" fill="#1e1e1e">10</text>
<text x="131.77" y="1639.80" font-size="15.43" font-weight="normal" fill="#1e1e1e">2</text>
<text x="151.84" y="1650.80" font-size="15.86" font-weight="normal" fill="#1e1e1e">10</text>
<text x="170.27" y="1639.80" font-size="15.43" font-weight="normal" fill="#1e1e1e">3</text>
<text x="187.21" y="1650.80" font-size="15.86" font-weight="normal" fill="#1e1e1e">10</text>
<text x="205.94" y="1639.80" font-size="15.65" font-weight="normal" fill="#1e1e1e">4</text>
<text x="222.42" y="1650.80" font-size="15.86" font-weight="normal" fill="#1e1e1e">10</text>
<text x="240.84" y="1639.80" font-size="15.65" font-weight="normal" fill="#1e1e1e">5</text>
<text x="100.24" y="1482.60" font-size="25.71" font-weight="normal" fill="#000">93</text>
<text x="224.27" y="1483.70" font-size="27.39" font-weight="normal" fill="#000">7</text>
<defs><path id="B32_0" d="M386.5 1563.1l-74 0.3l-0.4-0.4l-0.1-15l0.5-22.3l2 0.2l2 0.9l6 6.2l2.5 0.7l11-2.9l16.3-1.8l12.7-3.3l5-0.4l7.5 0.3l1.5-0.7l3.5-4.4l2.5-1.8l3-0.7l3 0.7l2 1.5l1.4 1.8l1.5 4.5l-0.1 4.5l-2.1 7.5l0.6 10.5l-1 4.5l-1.6 3.5l-2.8 4l-2.4 2.1z"/><path id="B32_1" d="M383 1563l-51 0.1l-2.7-0.1l-5.8-2l-1.5 0.4l-1.7 1.6l-7.8 0.4l-0.4-0.4l-0.1-15l0.5-19.9l2 0.2l2 1l5.5 6.5l1 0.7l1.5 0.2l11-3.5l16.5-1.7l13.5-3.4l5-0.3l8.5 0.8l1.4-1.1l2.3-4l2.3-2.3l2.5-0.9l2.5 0.4l1.5 1l1.5 1.8l1.2 4.5l-0.7 4l-2.9 6.5l0.9 7.5l-0.2 4l-1 3.5l-2.1 4l-2.6 3.5l-2.6 2z"/><path id="B32_2" d="M378 1563l-42 0l-5.5-1.7l-7-3.1l-2 0.9l-3.2 3.9l-5.8 0.3l-0.5-15.3l0.5-17.9l2 0.2l2 1.1l2 2.1l3.5 5.1l2 0.9l7-3l4.5-1.4l5.5-0.9l12.5-1l12.5-3.1l6-0.2l9 1.8l1-0.7l1.3-4.5l1.7-2.7l2-1.2l2.5 0.2l2.2 2.2l0.8 3.5l-0.4 2l-0.9 2l-4.3 4l2.3 8.5l-0.5 6l-1.6 4l-3.1 4.7l-2.5 2l-3.5 1.3z"/><path id="B32_3" d="M389 1531.6l-1 0.3l-1.5-0.2l-1-0.8l-0.6-1.4l0.5-3l1.1-1.3l1-0.5l2 0.6l1 1.7l0 2.5l-1.5 2.1zM368.5 1563l-11.5-0.6l-12.5 0.2l-5.5-0.5l-7.5-2.1l-8-4.4l-2 1.1l-4.9 6.3l-4.1 0.1l-0.4-15.1l0.4-16.4l2.5 0.4l2 1.5l5 7.6l1.5 1l7.5-3.9l5.5-1.8l5-0.9l12.5-0.9l12-3l7 0.1l6 2l5.1 4.3l2.3 3.5l1.1 5.5l-0.9 5l-3.1 5.5l-3 2.9l-5.5 1.8l-6.5 0.8z"/><path id="B32_4" d="M313.5 1563l-1 0l-0.3-4.5l0.3-25.5l2.5 0.5l2 1.6l2.2 3.4l2.8 5.8l1.5 1.4l6-4.9l6.5-2.9l6-1.1l12.3-0.8l10.2-2.6l4-0.5l5 0.4l4.5 1.7l5.1 4.5l2.2 4l0.5 2.5l-0.2 3l-1.8 5l-3.6 4.5l-4.7 2l-7.5 1.1l-11-0.6l-12 0.3l-5.5-0.5l-4.5-1l-4-1.7l-3.2-2.1l-3.8-3.6l-1-0.3l-1 0.9l-4.6 7.5l-1.9 1.8l-2 0.7z"/><path id="B32_5" d="M314 1561.6l-1.5 0.1l-0.3-4.2l0-18.5l0.3-4.6l0.5-0.1l2.5 0.9l2.4 2.8l2.4 5.5l0.9 4.5l-0.5 4l-2.1 5l-2.1 3l-2.5 1.6zM371 1560l-4.5 0.2l-10-0.6l-11.5 0.4l-8-1.1l-5-2l-3.7-2.9l-2-3.5l0-3l1.2-2.5l2.5-2.6l3.5-2.1l4-1.4l5.5-0.9l11.5-0.6l12.5-3l3.5-0.1l3.5 0.6l4.5 2.3l3.8 3.8l1.6 3.5l0.2 4l-1.6 4.5l-3 3.8l-3.5 2l-5 1.2z"/><path id="B32_6" d="M314.5 1560.1l-2 0.3l-0.1-1.9l-0.2-18l0.3-4.8l0.5-0.1l2.5 1l1.9 2.4l1.8 4l0.8 4.5l-0.2 3.5l-1.2 4l-2.1 3.5l-2 1.6zM371.5 1558.5l-4.5 0.4l-10.5-0.6l-11 0.5l-7-0.9l-4.5-1.6l-3.5-2.6l-1.9-3.2l0-3l1.3-2.5l2-2l3.1-1.7l3.5-1.2l5-0.9l11.5-0.5l12-2.9l6 0.3l4 1.7l3.1 2.7l2 3.5l0.5 3.5l-1 4l-2.5 3.5l-3.1 2.2l-4.5 1.3z"/><path id="B32_7" d="M314 1559.1l-1.5 0.1l-0.2-2.7l0-16l0.2-3.7l0.5 0l2 0.6l2 2.3l1.5 3.8l0.7 4l-0.3 4l-1.1 3.5l-1.8 2.8l-2 1.3zM370 1557.6l-13-0.5l-11.5 0.6l-6-0.7l-4-1.5l-3-2l-1.8-2.5l-0.3-3l1.1-2.4l2-1.9l2.5-1.5l3.5-1.2l5-0.7l11-0.5l11.5-2.8l5.5 0.2l3.5 1.5l3.2 2.8l1.6 3l0.3 3.5l-1.1 3.5l-2.5 3.1l-3.5 2l-4 1z"/><path id="B32_8" d="M313.5 1558.1l-1-0.1l-0.2-4.5l0.1-13.5l0.1-2l0.5-0.1l2 0.8l1.8 2.3l1.3 3.5l0.4 3.5l-0.4 3.5l-1.1 3.3l-1.5 2.2l-2 1.1zM346.5 1556.5l-4.5-0.3l-3.5-0.9l-3.5-1.8l-1.9-2l-0.7-2.5l0.7-2.5l1.9-2l3.5-1.8l5.5-1.2l11.5-0.3l9.5-2.6l4.5-0.5l3 0.5l3 1.3l2.3 2.1l1.4 2.5l0.4 3.5l-1 3l-2.1 2.6l-3.5 2l-5 0.9l-11-0.8l-10.5 0.8z"/><path id="B32_9" d="M313 1557l-0.5-0.1l-0.2-8.9l0.2-8.9l0.5-0.1l1.5 0.5l1.8 2l1.1 3l0.4 3.5l-0.3 3.5l-1 2.7l-1.5 2l-2 0.8zM370.5 1555l-4 0.3l-9.5-0.9l-10 0.9l-5-0.3l-3.3-1l-2.4-1.5l-1.6-2l-0.3-2l0.6-1.5l1.3-1.5l4.7-2.3l4.5-0.6l10-0.1l10.5-2.9l5-0.1l3 1l2.5 2l1.4 2.5l0.3 2.5l-0.6 2.5l-1.6 2.3l-2.5 1.7l-3 1z"/><path id="B32_10" d="M314 1555.8l-1.5 0.1l-0.1-12.9l0.1-2.8l0.5-0.1l1.5 0.5l1.2 1.4l1.5 5l-0.7 5.5l-1 1.9l-1.5 1.4zM369 1554l-12-1l-9.5 1.1l-4.5-0.2l-2.5-0.7l-2.3-1.2l-1.3-1.5l-0.3-2l1.6-2.5l4.3-1.8l4-0.4l9.5 0.1l9.5-3l5-0.3l2.5 0.8l2.1 1.6l1.3 2l0.4 2.5l-0.8 2.5l-1.7 2l-2.3 1.3l-3 0.7z"/><path id="B32_11" d="M314 1554.7l-1.5 0.1l-0.1-12.3l0.1-1.3l0.5 0l1.5 0.6l1 1.2l1.1 4l-0.6 5l-2 2.7zM370 1552.6l-4 0.2l-9.5-1.6l-8.5 1.5l-4-0.1l-2.4-0.6l-1.6-1l-0.8-1l-0.2-1.5l1.5-1.9l3-1.2l3.5-0.3l9 0.6l9.5-3.5l4.5-0.3l3.6 1.6l1.2 1.5l0.5 2l-0.4 2l-1 1.5l-1.9 1.4l-2 0.7z"/><path id="B32_12" d="M314 1553.5l-1.5 0.2l0-11.2l0.5-0.2l1 0.3l1 1.1l1 3.3l-0.4 4l-1.6 2.5zM370 1551.1l-3.5 0.3l-3.5-0.8l-2.8-1.6l-0.3-1.5l2.1-2l3-1.6l3-0.7l2.5 0.3l2.2 1.5l0.8 2.5l-1 2.1l-2.5 1.5zM348.5 1550.6l-2.5 0.3l-2-0.3l-1.5-1.1l0-1l1.1-1l1.9-0.5l4.1 0.5l1.1 0.5l0.5 1l-1 1l-1.7 0.6z"/><path id="B32_13" d="M313.5 1552.5l-1-0.1l0-8.8l0.5-0.1l1.5 1l0.9 3l-0.4 3.2l-1.5 1.8zM368 1549.5l-3-0.8l-0.5-0.7l0-1l2-1.5l3-0.1l1.3 1.1l0 1.5l-1 1l-1.8 0.5z"/><path id="B32_14" d="M313.5 1551.2l-1-0.1l0-6.1l0.5-0.2l1 0.5l0.7 2.2l-0.2 2.3l-1 1.4z"/></defs><g><use href="#B32_4" fill="#969696"/><use href="#B32_5" fill="#fff"/><use href="#B32_6" fill="#969696"/><use href="#B32_7" fill="#fff"/><use href="#B32_8" fill="#969696"/><use href="#B32_9" fill="#fff"/><use href="#B32_10" fill="#969696"/><use href="#B32_11" fill="#fff"/><use href="#B32_12" fill="#969696"/><use href="#B32_13" fill="#fff"/><use href="#B32_14" fill="#969696"/></g><g fill="none" stroke-width="0.75"><use href="#B32_0" stroke="#7a7a7a"/><use href="#B32_1" stroke="#7a7a7a"/><use href="#B32_2" stroke="#7a7a7a"/><use href="#B32_3" stroke="#7a7a7a"/><use href="#B32_4" stroke="#565656"/><use href="#B32_5" stroke="#565656"/><use href="#B32_6" stroke="#565656"/><use href="#B32_7" stroke="#565656"/><use href="#B32_8" stroke="#565656"/><use href="#B32_9" stroke="#565656"/><use href="#B32_10" stroke="#565656"/><use href="#B32_11" stroke="#565656"/><use href="#B32_12" stroke="#565656"/><use href="#B32_13" stroke="#565656"/><use href="#B32_14" stroke="#565656"/></g><rect x="313.4" y="1523.7" width="1.4" height="1.4" fill="#333"/><rect x="333.6" y="1528.7" width="1.4" height="1.4" fill="#333"/><rect x="335.4" y="1528.7" width="1.4" height="1.4" fill="#333"/><rect x="391.4" y="1517.3" width="1.4" height="1.4" fill="#333"/><rect x="402.4" y="1530.7" width="1.4" height="1.4" fill="#333"/><rect x="394.2" y="1552.1" width="1.4" height="1.4" fill="#333"/><rect x="411.6" y="1553.1" width="1.4" height="1.4" fill="#333"/><rect x="387.7" y="1554.9" width="1.4" height="1.4" fill="#333"/>
<rect x="311.70" y="1458.30" width="156.40" height="156.80" fill="none" stroke="#222" stroke-width="1.2"/>
<line x1="384.70" y1="1458.30" x2="384.70" y2="1617.10" stroke="#1a1a1a" stroke-width="2.6"/>
<line x1="311.70" y1="1570.70" x2="468.10" y2="1570.70" stroke="#1a1a1a" stroke-width="2.6"/>
<line x1="302.45" y1="1583.74" x2="311.70" y2="1583.74" stroke="#1c1c1c" stroke-width="1.4"/>
<line x1="307.50" y1="1572.73" x2="311.70" y2="1572.73" stroke="#1c1c1c" stroke-width="1.1"/>
<line x1="307.50" y1="1566.28" x2="311.70" y2="1566.28" stroke="#1c1c1c" stroke-width="1.1"/>
<line x1="307.50" y1="1561.71" x2="311.70" y2="1561.71" stroke="#1c1c1c" stroke-width="1.1"/>
<line x1="304.70" y1="1558.17" x2="311.70" y2="1558.17" stroke="#1c1c1c" stroke-width="1.1"/>
<line x1="307.50" y1="1555.27" x2="311.70" y2="1555.27" stroke="#1c1c1c" stroke-width="1.1"/>
<line x1="307.50" y1="1552.82" x2="311.70" y2="1552.82" stroke="#1c1c1c" stroke-width="1.1"/>
<line x1="307.50" y1="1550.70" x2="311.70" y2="1550.70" stroke="#1c1c1c" stroke-width="1.1"/>
<line x1="307.50" y1="1548.83" x2="311.70" y2="1548.83" stroke="#1c1c1c" stroke-width="1.1"/>
<line x1="302.45" y1="1545.48" x2="311.70" y2="1545.48" stroke="#1c1c1c" stroke-width="1.4"/>
<line x1="307.50" y1="1534.47" x2="311.70" y2="1534.47" stroke="#1c1c1c" stroke-width="1.1"/>
<line x1="307.50" y1="1528.02" x2="311.70" y2="1528.02" stroke="#1c1c1c" stroke-width="1.1"/>
<line x1="307.50" y1="1523.45" x2="311.70" y2="1523.45" stroke="#1c1c1c" stroke-width="1.1"/>
<line x1="304.70" y1="1519.91" x2="311.70" y2="1519.91" stroke="#1c1c1c" stroke-width="1.1"/>
<line x1="307.50" y1="1517.01" x2="311.70" y2="1517.01" stroke="#1c1c1c" stroke-width="1.1"/>
<line x1="307.50" y1="1514.56" x2="311.70" y2="1514.56" stroke="#1c1c1c" stroke-width="1.1"/>
<line x1="307.50" y1="1512.44" x2="311.70" y2="1512.44" stroke="#1c1c1c" stroke-width="1.1"/>
<line x1="307.50" y1="1510.57" x2="311.70" y2="1510.57" stroke="#1c1c1c" stroke-width="1.1"/>
<line x1="302.45" y1="1510.20" x2="311.70" y2="1510.20" stroke="#1c1c1c" stroke-width="1.4"/>
<line x1="307.50" y1="1499.19" x2="311.70" y2="1499.19" stroke="#1c1c1c" stroke-width="1.1"/>
<line x1="307.50" y1="1492.74" x2="311.70" y2="1492.74" stroke="#1c1c1c" stroke-width="1.1"/>
<line x1="307.50" y1="1488.17" x2="311.70" y2="1488.17" stroke="#1c1c1c" stroke-width="1.1"/>
<line x1="304.70" y1="1484.63" x2="311.70" y2="1484.63" stroke="#1c1c1c" stroke-width="1.1"/>
<line x1="307.50" y1="1481.73" x2="311.70" y2="1481.73" stroke="#1c1c1c" stroke-width="1.1"/>
<line x1="307.50" y1="1479.28" x2="311.70" y2="1479.28" stroke="#1c1c1c" stroke-width="1.1"/>
<line x1="307.50" y1="1477.16" x2="311.70" y2="1477.16" stroke="#1c1c1c" stroke-width="1.1"/>
<line x1="307.50" y1="1475.29" x2="311.70" y2="1475.29" stroke="#1c1c1c" stroke-width="1.1"/>
<line x1="302.45" y1="1473.98" x2="311.70" y2="1473.98" stroke="#1c1c1c" stroke-width="1.4"/>
<line x1="307.50" y1="1462.97" x2="311.70" y2="1462.97" stroke="#1c1c1c" stroke-width="1.1"/>
<line x1="302.45" y1="1599.73" x2="311.70" y2="1599.73" stroke="#1c1c1c" stroke-width="1.4"/>
<line x1="302.45" y1="1615.10" x2="311.70" y2="1615.10" stroke="#1c1c1c" stroke-width="1.4"/>
<line x1="304.70" y1="1590.99" x2="311.70" y2="1590.99" stroke="#1c1c1c" stroke-width="1.1"/>
<line x1="304.70" y1="1606.98" x2="311.70" y2="1606.98" stroke="#1c1c1c" stroke-width="1.1"/>
<rect x="307.50" y="1584.04" width="4.2" height="4.70" fill="#1c1c1c"/>
<rect x="307.50" y="1594.74" width="4.2" height="4.50" fill="#1c1c1c"/>
<rect x="307.50" y="1600.73" width="4.2" height="5.00" fill="#1c1c1c"/>
<rect x="307.50" y="1611.60" width="4.2" height="3.20" fill="#1c1c1c"/>
<line x1="343.29" y1="1615.10" x2="343.29" y2="1624.60" stroke="#1c1c1c" stroke-width="1.4"/>
<line x1="354.22" y1="1615.10" x2="354.22" y2="1619.30" stroke="#1c1c1c" stroke-width="1.1"/>
<line x1="360.61" y1="1615.10" x2="360.61" y2="1619.30" stroke="#1c1c1c" stroke-width="1.1"/>
<line x1="365.14" y1="1615.10" x2="365.14" y2="1619.30" stroke="#1c1c1c" stroke-width="1.1"/>
<line x1="368.65" y1="1615.10" x2="368.65" y2="1622.10" stroke="#1c1c1c" stroke-width="1.1"/>
<line x1="371.53" y1="1615.10" x2="371.53" y2="1619.30" stroke="#1c1c1c" stroke-width="1.1"/>
<line x1="373.96" y1="1615.10" x2="373.96" y2="1619.30" stroke="#1c1c1c" stroke-width="1.1"/>
<line x1="376.06" y1="1615.10" x2="376.06" y2="1619.30" stroke="#1c1c1c" stroke-width="1.1"/>
<line x1="377.92" y1="1615.10" x2="377.92" y2="1619.30" stroke="#1c1c1c" stroke-width="1.1"/>
<line x1="381.61" y1="1615.10" x2="381.61" y2="1624.60" stroke="#1c1c1c" stroke-width="1.4"/>
<line x1="392.53" y1="1615.10" x2="392.53" y2="1619.30" stroke="#1c1c1c" stroke-width="1.1"/>
<line x1="398.92" y1="1615.10" x2="398.92" y2="1619.30" stroke="#1c1c1c" stroke-width="1.1"/>
<line x1="403.46" y1="1615.10" x2="403.46" y2="1619.30" stroke="#1c1c1c" stroke-width="1.1"/>
<line x1="406.97" y1="1615.10" x2="406.97" y2="1622.10" stroke="#1c1c1c" stroke-width="1.1"/>
<line x1="409.85" y1="1615.10" x2="409.85" y2="1619.30" stroke="#1c1c1c" stroke-width="1.1"/>
<line x1="412.28" y1="1615.10" x2="412.28" y2="1619.30" stroke="#1c1c1c" stroke-width="1.1"/>
<line x1="414.38" y1="1615.10" x2="414.38" y2="1619.30" stroke="#1c1c1c" stroke-width="1.1"/>
<line x1="416.24" y1="1615.10" x2="416.24" y2="1619.30" stroke="#1c1c1c" stroke-width="1.1"/>
<line x1="416.96" y1="1615.10" x2="416.96" y2="1624.60" stroke="#1c1c1c" stroke-width="1.4"/>
<line x1="427.88" y1="1615.10" x2="427.88" y2="1619.30" stroke="#1c1c1c" stroke-width="1.1"/>
<line x1="434.27" y1="1615.10" x2="434.27" y2="1619.30" stroke="#1c1c1c" stroke-width="1.1"/>
<line x1="438.80" y1="1615.10" x2="438.80" y2="1619.30" stroke="#1c1c1c" stroke-width="1.1"/>
<line x1="442.32" y1="1615.10" x2="442.32" y2="1622.10" stroke="#1c1c1c" stroke-width="1.1"/>
<line x1="445.19" y1="1615.10" x2="445.19" y2="1619.30" stroke="#1c1c1c" stroke-width="1.1"/>
<line x1="447.62" y1="1615.10" x2="447.62" y2="1619.30" stroke="#1c1c1c" stroke-width="1.1"/>
<line x1="449.73" y1="1615.10" x2="449.73" y2="1619.30" stroke="#1c1c1c" stroke-width="1.1"/>
<line x1="451.58" y1="1615.10" x2="451.58" y2="1619.30" stroke="#1c1c1c" stroke-width="1.1"/>
<line x1="452.15" y1="1615.10" x2="452.15" y2="1624.60" stroke="#1c1c1c" stroke-width="1.4"/>
<line x1="463.07" y1="1615.10" x2="463.07" y2="1619.30" stroke="#1c1c1c" stroke-width="1.1"/>
<line x1="311.70" y1="1615.10" x2="311.70" y2="1624.60" stroke="#1c1c1c" stroke-width="1.4"/>
<line x1="327.10" y1="1615.10" x2="327.10" y2="1624.60" stroke="#1c1c1c" stroke-width="2.2"/>
<line x1="319.10" y1="1615.10" x2="319.10" y2="1622.10" stroke="#1c1c1c" stroke-width="1.1"/>
<line x1="336.30" y1="1615.10" x2="336.30" y2="1622.10" stroke="#1c1c1c" stroke-width="1.1"/>
<rect x="312.20" y="1615.10" width="4.80" height="4.2" fill="#1c1c1c"/>
<rect x="320.50" y="1615.10" width="4.10" height="4.2" fill="#1c1c1c"/>
<rect x="330.70" y="1615.10" width="3.50" height="4.2" fill="#1c1c1c"/>
<rect x="338.30" y="1615.10" width="4.90" height="4.2" fill="#1c1c1c"/>
<text x="269.98" y="1485.98" font-size="16.71" font-weight="normal" fill="#1e1e1e">10</text>
<text x="288.12" y="1474.98" font-size="16.67" font-weight="normal" fill="#1e1e1e">5</text>
<text x="269.98" y="1522.20" font-size="16.71" font-weight="normal" fill="#1e1e1e">10</text>
<text x="287.95" y="1511.20" font-size="16.67" font-weight="normal" fill="#1e1e1e">4</text>
<text x="269.98" y="1557.48" font-size="16.71" font-weight="normal" fill="#1e1e1e">10</text>
<text x="288.24" y="1546.48" font-size="16.43" font-weight="normal" fill="#1e1e1e">3</text>
<text x="269.98" y="1595.74" font-size="16.71" font-weight="normal" fill="#1e1e1e">10</text>
<text x="288.40" y="1584.74" font-size="16.43" font-weight="normal" fill="#1e1e1e">2</text>
<text x="280.66" y="1608.73" font-size="16.43" font-weight="normal" fill="#1e1e1e">0</text>
<text x="313.26" y="1654.50" font-size="15.86" font-weight="normal" fill="#1e1e1e">0</text>
<text x="334.17" y="1654.50" font-size="15.86" font-weight="normal" fill="#1e1e1e">10</text>
<text x="352.45" y="1643.50" font-size="15.43" font-weight="normal" fill="#1e1e1e">2</text>
<text x="372.49" y="1654.50" font-size="15.86" font-weight="normal" fill="#1e1e1e">10</text>
<text x="390.92" y="1643.50" font-size="15.43" font-weight="normal" fill="#1e1e1e">3</text>
<text x="407.84" y="1654.50" font-size="15.86" font-weight="normal" fill="#1e1e1e">10</text>
<text x="426.57" y="1643.50" font-size="15.65" font-weight="normal" fill="#1e1e1e">4</text>
<text x="443.03" y="1654.50" font-size="15.86" font-weight="normal" fill="#1e1e1e">10</text>
<text x="461.45" y="1643.50" font-size="15.65" font-weight="normal" fill="#1e1e1e">5</text>
<text x="320.82" y="1485.90" font-size="26.29" font-weight="normal" fill="#000">96</text>
<text x="443.80" y="1485.90" font-size="26.67" font-weight="normal" fill="#000">4</text>
<defs><path id="B33_0" d="M603 1568l-15.5 0.4l-32.5-0.3l-1.7-0.1l-2.8-2.8l-2-0.9l-2 0.8l-3.1 2.9l-14.9 0.4l-0.4-1.4l-0.1-21.5l0.5-27.3l4.5-0.1l4 1.2l4 2.5l5.5 5.1l2 0.8l2-0.9l5-4.9l3.5-2.6l4-2l4.5-1.2l20.5-0.7l5.5 1.3l5 2.7l6 4.2l2.8 2.9l2.3 4.5l1 5l-0.3 9l-1.5 10.5l-2.4 7l-3.4 5.5z"/><path id="B33_1" d="M599 1568l-14.5 0.4l-26.5-0.4l-3.1-3l-4.4-5.6l-2-1l-1.5 0.9l-4.5 5.7l-3.3 3l-10.7 0.2l-0.5-22.7l0.5-24.2l5 0l4.5 1.8l3.5 2.9l5.5 6.7l1.5 0.9l2-1l5-6.2l4-3.5l4.5-2.3l5-1.3l15.5-0.7l5 0.4l4.5 1.4l9.5 5.2l2.6 2.4l2 3.5l0.9 4l-0.1 4.5l-2.1 13l-1.6 5.5l-2.4 5l-3.8 4.5z"/><path id="B33_2" d="M595 1568l-32.2 0l-3.3-2.1l-3.4-3.4l-2.4-3.5l-3.7-7l-1-0.9l-1.5 1.5l-4.6 8.4l-3.9 4.4l-4.7 2.6l-5.8 0l-0.5-22.5l0.5-21.7l3-0.3l2.5 0.4l2.5 1l2.5 1.7l3.9 4.4l4.6 8.4l1.5 1.5l1-0.9l4.3-8l3.2-4.1l4.5-3.5l5-1.9l5.5-0.7l16-0.3l4 1.1l11 5.1l2.3 2.3l1.5 3.5l0.5 4l-0.6 4l-2.7 12.5l-1.8 5l-3.2 5.2l-4.5 3.8z"/><path id="B33_3" d="M591.5 1568l-20.9 0l-2.6-0.4l-6-2.4l-2.5-2l-2.5-2.7l-2.4-4l-1.7-4.5l-0.8-4.5l0-4l1.1-4.5l1.9-4.5l2.7-4l3.2-3l4-2.2l4-1.1l18-0.8l4 0.8l6 2.9l5 1.5l3 2.4l1.5 3.5l0.1 4l-4.4 17.5l-1.9 4l-2.2 3l-3.1 2.9l-3.5 2.1zM532.5 1566.5l-4-0.2l-0.2-2.8l0-35.5l0.2-2.3l2-0.3l3 0.3l2.5 0.9l2.5 1.8l2.1 2.1l3.7 6.5l1.4 4.5l0.5 3.5l-0.9 7l-3.3 7.5l-2 2.7l-2.5 2.2l-2.5 1.4l-2.5 0.7z"/><path id="B33_4" d="M587.5 1567.6l-4.5 0.2l-16.5-2.7l-5-2.7l-4.3-4.9l-1.7-3.5l-1.1-4l-0.4-4l0.4-4l1.3-4.5l1.8-3.5l2.5-3.1l3-2.4l3.5-1.6l3.5-0.8l17-0.7l4 0.9l6 2.8l5 1.1l2.5 2.3l1 3l-0.1 3.5l-2.3 7l-1.7 7.5l-1.6 4l-2.2 3.5l-2.6 2.6l-4 2.7l-3.5 1.3zM533.5 1564.5l-2.5 0.4l-2.5-0.4l-0.2-33.5l0.2-3.5l1.5-0.3l2.5 0.1l2.5 0.7l2.5 1.6l2 1.9l3.3 5.5l1.6 7l-0.3 6.5l-2.3 6.5l-3.8 5l-4.5 2.5z"/><path id="B33_5" d="M585.5 1566l-15.5-2l-3.5-0.9l-4.5-2.6l-3.5-4.2l-1.6-3.3l-1-4l-0.2-4l0.5-3.5l1.1-3.5l1.7-3.1l2.5-2.9l2.5-1.9l3-1.4l3.5-0.7l16.5-0.8l4 1l5.5 2.8l5 0.8l2 1.7l0.9 2.5l-0.2 3l-2.3 6l-2.1 8.5l-1.5 3.5l-2.3 3.3l-3 2.7l-4 2.2l-3.5 0.8zM532.5 1563l-4-0.2l-0.1-1.8l0-30.5l0.1-1.3l2-0.4l2.5 0.3l2 0.7l4 3.3l2.7 4.9l1.5 6.5l-0.6 6.5l-2.3 6l-3.4 4l-4.4 2z"/><path id="B33_6" d="M585.5 1564l-18-2.5l-4-2.1l-3.2-3.4l-1.6-3l-0.9-3l-0.5-3.5l0.3-3.5l2.1-6l1.8-2.5l2.5-2.2l3-1.6l3.5-0.9l16-0.8l4 0.9l6 3.2l4.5 0.7l1.4 1.2l0.4 1.5l-0.1 2l-2.2 5.5l-1.8 8.5l-1.7 3.8l-2 2.7l-3 2.5l-3.5 1.8l-3 0.7zM531.5 1561.5l-3-0.4l-0.2-5.6l0.2-24.6l2.5-0.5l4 1.1l3.5 3.2l2.5 4.8l1 6l-0.7 6l-2.2 5l-3.6 3.7l-4 1.3z"/><path id="B33_7" d="M586.5 1562l-3 0.1l-14.5-1.9l-4-1.7l-3-2.8l-2.6-5.2l-0.6-6l1.7-5.9l3.5-4.3l3-1.8l3.5-1l16-0.9l4.5 1.2l5.5 3.6l3.3 1.6l0.4 1.5l-2 11l-2 5.5l-1.8 2.5l-2.4 2.2l-2.5 1.4l-3 0.9zM532 1560.1l-3.5-0.4l-0.1-1.2l0.1-26.2l2-0.4l3.5 0.6l3.5 2.8l2.3 4.2l1.1 5.5l-0.5 5.5l-1.7 4.5l-3.2 3.6l-3.5 1.5z"/><path id="B33_8" d="M587 1560l-3 0.2l-14-1.5l-3.3-1.2l-2.7-2l-2.9-4.5l-0.8-5l0.8-5l2.9-4.5l2.7-2l3.3-1.2l15-1.2l5 1l4.7 3.4l1.9 2.5l0.7 2.5l-0.1 5.5l-1 4.5l-1.7 3.5l-2 2.3l-2.5 1.7l-3 1zM532 1558.6l-3.5-0.5l0-24.3l2-0.5l3.5 0.8l2.9 2.4l2.1 4l0.9 4.5l-0.4 5l-1.6 4l-2.5 3l-3.4 1.6z"/><path id="B33_9" d="M585 1558.5l-14.9-1.5l-3.1-1.2l-2.3-1.8l-2.2-3.5l-0.8-4.5l0.8-4.5l2.5-3.8l2.5-1.8l3-1l14-1.3l4.5 0.7l4.1 2.7l2 3l0.8 3l0 4l-0.9 4l-1.5 3.1l-2.5 2.5l-3 1.5l-3 0.4zM532.5 1557l-2 0.2l-2-0.8l0-21.1l2-0.6l3 0.6l2.5 1.9l1.9 3.3l1 4l-0.2 4l-1.2 4l-2.3 3l-2.7 1.5z"/><path id="B33_10" d="M587.5 1556.6l-3.5 0.3l-12-1.2l-2.9-0.7l-2.1-1.1l-2.5-2.8l-1.2-3.6l0.2-4l1.6-3.5l2.9-2.5l4.5-1.3l13-1.1l3 0.5l2.5 1.4l1.9 2l1.3 2.5l0.5 3l-0.2 3l-1 3.4l-1.5 2.7l-2 1.9l-2.5 1.1zM532.5 1555.5l-2.1 0l-1.9-1.4l0-17.4l2-0.7l2.5 0.4l2.5 1.9l1.6 2.7l0.8 3.5l0 3.5l-1.1 3.5l-1.8 2.6l-2.5 1.4z"/><path id="B33_11" d="M586 1555l-13.5-0.9l-4.5-1.6l-2-2.1l-1.1-2.9l0-3l1.1-3l2.5-2.3l3.5-1.2l13-1.4l2.5 0.3l2.4 1.1l1.6 1.5l1.4 2.5l0.4 2.5l-0.3 2.5l-3 5.9l-2 1.5l-2 0.6zM533.5 1553.5l-2.5 0.2l-2.5-2l0-13.6l1.5-0.7l2 0l2.1 1.1l1.6 2l1.1 3l0.3 3l-0.6 3l-1.3 2.5l-1.7 1.5z"/><path id="B33_12" d="M582.5 1552.6l-9.5-0.3l-3.9-1.3l-1.6-1.7l-0.9-2.3l0-2l0.9-2.3l2-1.9l3-1l12-1.7l2.5 0.2l2 0.9l2.3 2.8l0.4 2l-0.3 1.5l-1.4 1.6l-4.5 1.3l-0.8 1.1l-0.4 2l-1.8 1.1zM533 1552l-2-0.2l-2.5-1.6l0-10.6l2-0.9l2 0.3l1.4 1l1.1 1.5l0.9 2.5l0.2 2.5l-0.5 2.5l-1.1 2l-1.5 1z"/><path id="B33_13" d="M578.5 1550.1l-5 0l-3-1.2l-1.2-1.4l-0.3-1.5l0.3-1.5l1.2-1.5l2.5-1l11-2l3 0.3l1.8 1.2l0.6 1.5l-0.6 1.5l-4.8 1.8l-3.5 3l-2 0.8zM533 1550.3l-2-0.1l-2.5-1.5l0-7.3l1.5-1l2.5 0.2l1.4 1.4l0.8 1.5l0.2 4l-0.9 2l-1 0.8z"/><path id="B33_14" d="M532.5 1548.8l-2-0.1l-2-1.8l0-3.1l0.9-1.3l1.1-0.6l2 0.5l1.2 2.1l0.1 2.5l-1.3 1.8z"/></defs><g><use href="#B33_4" fill="#969696"/><use href="#B33_5" fill="#fff"/><use href="#B33_6" fill="#969696"/><use href="#B33_7" fill="#fff"/><use href="#B33_8" fill="#969696"/><use href="#B33_9" fill="#fff"/><use href="#B33_10" fill="#969696"/><use href="#B33_11" fill="#fff"/><use href="#B33_12" fill="#969696"/><use href="#B33_13" fill="#fff"/><use href="#B33_14" fill="#969696"/></g><g fill="none" stroke-width="0.75"><use href="#B33_0" stroke="#7a7a7a"/><use href="#B33_1" stroke="#7a7a7a"/><use href="#B33_2" stroke="#7a7a7a"/><use href="#B33_3" stroke="#7a7a7a"/><use href="#B33_4" stroke="#565656"/><use href="#B33_5" stroke="#565656"/><use href="#B33_6" stroke="#565656"/><use href="#B33_7" stroke="#565656"/><use href="#B33_8" stroke="#565656"/><use href="#B33_9" stroke="#565656"/><use href="#B33_10" stroke="#565656"/><use href="#B33_11" stroke="#565656"/><use href="#B33_12" stroke="#565656"/><use href="#B33_13" stroke="#565656"/><use href="#B33_14" stroke="#565656"/></g><rect x="552.7" y="1523.7" width="1.4" height="1.4" fill="#333"/><rect x="609.9" y="1538.4" width="1.4" height="1.4" fill="#333"/>
<rect x="527.70" y="1459.25" width="155.80" height="157.15" fill="none" stroke="#222" stroke-width="1.2"/>
<line x1="601.00" y1="1459.25" x2="601.00" y2="1618.40" stroke="#1a1a1a" stroke-width="2.6"/>
<line x1="527.70" y1="1571.60" x2="683.50" y2="1571.60" stroke="#1a1a1a" stroke-width="2.6"/>
<line x1="518.45" y1="1584.97" x2="527.70" y2="1584.97" stroke="#1c1c1c" stroke-width="1.4"/>
<line x1="523.50" y1="1573.93" x2="527.70" y2="1573.93" stroke="#1c1c1c" stroke-width="1.1"/>
<line x1="523.50" y1="1567.47" x2="527.70" y2="1567.47" stroke="#1c1c1c" stroke-width="1.1"/>
<line x1="523.50" y1="1562.89" x2="527.70" y2="1562.89" stroke="#1c1c1c" stroke-width="1.1"/>
<line x1="520.70" y1="1559.34" x2="527.70" y2="1559.34" stroke="#1c1c1c" stroke-width="1.1"/>
<line x1="523.50" y1="1556.44" x2="527.70" y2="1556.44" stroke="#1c1c1c" stroke-width="1.1"/>
<line x1="523.50" y1="1553.98" x2="527.70" y2="1553.98" stroke="#1c1c1c" stroke-width="1.1"/>
<line x1="523.50" y1="1551.86" x2="527.70" y2="1551.86" stroke="#1c1c1c" stroke-width="1.1"/>
<line x1="523.50" y1="1549.98" x2="527.70" y2="1549.98" stroke="#1c1c1c" stroke-width="1.1"/>
<line x1="518.45" y1="1546.63" x2="527.70" y2="1546.63" stroke="#1c1c1c" stroke-width="1.4"/>
<line x1="523.50" y1="1535.59" x2="527.70" y2="1535.59" stroke="#1c1c1c" stroke-width="1.1"/>
<line x1="523.50" y1="1529.13" x2="527.70" y2="1529.13" stroke="#1c1c1c" stroke-width="1.1"/>
<line x1="523.50" y1="1524.55" x2="527.70" y2="1524.55" stroke="#1c1c1c" stroke-width="1.1"/>
<line x1="520.70" y1="1521.00" x2="527.70" y2="1521.00" stroke="#1c1c1c" stroke-width="1.1"/>
<line x1="523.50" y1="1518.09" x2="527.70" y2="1518.09" stroke="#1c1c1c" stroke-width="1.1"/>
<line x1="523.50" y1="1515.64" x2="527.70" y2="1515.64" stroke="#1c1c1c" stroke-width="1.1"/>
<line x1="523.50" y1="1513.51" x2="527.70" y2="1513.51" stroke="#1c1c1c" stroke-width="1.1"/>
<line x1="523.50" y1="1511.63" x2="527.70" y2="1511.63" stroke="#1c1c1c" stroke-width="1.1"/>
<line x1="518.45" y1="1511.27" x2="527.70" y2="1511.27" stroke="#1c1c1c" stroke-width="1.4"/>
<line x1="523.50" y1="1500.23" x2="527.70" y2="1500.23" stroke="#1c1c1c" stroke-width="1.1"/>
<line x1="523.50" y1="1493.77" x2="527.70" y2="1493.77" stroke="#1c1c1c" stroke-width="1.1"/>
<line x1="523.50" y1="1489.19" x2="527.70" y2="1489.19" stroke="#1c1c1c" stroke-width="1.1"/>
<line x1="520.70" y1="1485.64" x2="527.70" y2="1485.64" stroke="#1c1c1c" stroke-width="1.1"/>
<line x1="523.50" y1="1482.73" x2="527.70" y2="1482.73" stroke="#1c1c1c" stroke-width="1.1"/>
<line x1="523.50" y1="1480.28" x2="527.70" y2="1480.28" stroke="#1c1c1c" stroke-width="1.1"/>
<line x1="523.50" y1="1478.15" x2="527.70" y2="1478.15" stroke="#1c1c1c" stroke-width="1.1"/>
<line x1="523.50" y1="1476.28" x2="527.70" y2="1476.28" stroke="#1c1c1c" stroke-width="1.1"/>
<line x1="518.45" y1="1474.96" x2="527.70" y2="1474.96" stroke="#1c1c1c" stroke-width="1.4"/>
<line x1="523.50" y1="1463.93" x2="527.70" y2="1463.93" stroke="#1c1c1c" stroke-width="1.1"/>
<line x1="518.45" y1="1601.00" x2="527.70" y2="1601.00" stroke="#1c1c1c" stroke-width="1.4"/>
<line x1="518.45" y1="1616.40" x2="527.70" y2="1616.40" stroke="#1c1c1c" stroke-width="1.4"/>
<line x1="520.70" y1="1592.22" x2="527.70" y2="1592.22" stroke="#1c1c1c" stroke-width="1.1"/>
<line x1="520.70" y1="1608.25" x2="527.70" y2="1608.25" stroke="#1c1c1c" stroke-width="1.1"/>
<rect x="523.50" y="1585.27" width="4.2" height="4.70" fill="#1c1c1c"/>
<rect x="523.50" y="1595.97" width="4.2" height="4.50" fill="#1c1c1c"/>
<rect x="523.50" y="1602.00" width="4.2" height="5.00" fill="#1c1c1c"/>
<rect x="523.50" y="1612.90" width="4.2" height="3.20" fill="#1c1c1c"/>
<line x1="559.17" y1="1616.40" x2="559.17" y2="1625.90" stroke="#1c1c1c" stroke-width="1.4"/>
<line x1="570.05" y1="1616.40" x2="570.05" y2="1620.60" stroke="#1c1c1c" stroke-width="1.1"/>
<line x1="576.42" y1="1616.40" x2="576.42" y2="1620.60" stroke="#1c1c1c" stroke-width="1.1"/>
<line x1="580.93" y1="1616.40" x2="580.93" y2="1620.60" stroke="#1c1c1c" stroke-width="1.1"/>
<line x1="584.44" y1="1616.40" x2="584.44" y2="1623.40" stroke="#1c1c1c" stroke-width="1.1"/>
<line x1="587.30" y1="1616.40" x2="587.30" y2="1620.60" stroke="#1c1c1c" stroke-width="1.1"/>
<line x1="589.72" y1="1616.40" x2="589.72" y2="1620.60" stroke="#1c1c1c" stroke-width="1.1"/>
<line x1="591.81" y1="1616.40" x2="591.81" y2="1620.60" stroke="#1c1c1c" stroke-width="1.1"/>
<line x1="593.66" y1="1616.40" x2="593.66" y2="1620.60" stroke="#1c1c1c" stroke-width="1.1"/>
<line x1="597.34" y1="1616.40" x2="597.34" y2="1625.90" stroke="#1c1c1c" stroke-width="1.4"/>
<line x1="608.22" y1="1616.40" x2="608.22" y2="1620.60" stroke="#1c1c1c" stroke-width="1.1"/>
<line x1="614.59" y1="1616.40" x2="614.59" y2="1620.60" stroke="#1c1c1c" stroke-width="1.1"/>
<line x1="619.10" y1="1616.40" x2="619.10" y2="1620.60" stroke="#1c1c1c" stroke-width="1.1"/>
<line x1="622.61" y1="1616.40" x2="622.61" y2="1623.40" stroke="#1c1c1c" stroke-width="1.1"/>
<line x1="625.47" y1="1616.40" x2="625.47" y2="1620.60" stroke="#1c1c1c" stroke-width="1.1"/>
<line x1="627.89" y1="1616.40" x2="627.89" y2="1620.60" stroke="#1c1c1c" stroke-width="1.1"/>
<line x1="629.99" y1="1616.40" x2="629.99" y2="1620.60" stroke="#1c1c1c" stroke-width="1.1"/>
<line x1="631.83" y1="1616.40" x2="631.83" y2="1620.60" stroke="#1c1c1c" stroke-width="1.1"/>
<line x1="632.55" y1="1616.40" x2="632.55" y2="1625.90" stroke="#1c1c1c" stroke-width="1.4"/>
<line x1="643.43" y1="1616.40" x2="643.43" y2="1620.60" stroke="#1c1c1c" stroke-width="1.1"/>
<line x1="649.80" y1="1616.40" x2="649.80" y2="1620.60" stroke="#1c1c1c" stroke-width="1.1"/>
<line x1="654.32" y1="1616.40" x2="654.32" y2="1620.60" stroke="#1c1c1c" stroke-width="1.1"/>
<line x1="657.82" y1="1616.40" x2="657.82" y2="1623.40" stroke="#1c1c1c" stroke-width="1.1"/>
<line x1="660.68" y1="1616.40" x2="660.68" y2="1620.60" stroke="#1c1c1c" stroke-width="1.1"/>
<line x1="663.10" y1="1616.40" x2="663.10" y2="1620.60" stroke="#1c1c1c" stroke-width="1.1"/>
<line x1="665.20" y1="1616.40" x2="665.20" y2="1620.60" stroke="#1c1c1c" stroke-width="1.1"/>
<line x1="667.05" y1="1616.40" x2="667.05" y2="1620.60" stroke="#1c1c1c" stroke-width="1.1"/>
<line x1="667.61" y1="1616.40" x2="667.61" y2="1625.90" stroke="#1c1c1c" stroke-width="1.4"/>
<line x1="678.49" y1="1616.40" x2="678.49" y2="1620.60" stroke="#1c1c1c" stroke-width="1.1"/>
<line x1="527.70" y1="1616.40" x2="527.70" y2="1625.90" stroke="#1c1c1c" stroke-width="1.4"/>
<line x1="543.10" y1="1616.40" x2="543.10" y2="1625.90" stroke="#1c1c1c" stroke-width="2.2"/>
<line x1="535.10" y1="1616.40" x2="535.10" y2="1623.40" stroke="#1c1c1c" stroke-width="1.1"/>
<line x1="552.30" y1="1616.40" x2="552.30" y2="1623.40" stroke="#1c1c1c" stroke-width="1.1"/>
<rect x="528.20" y="1616.40" width="4.80" height="4.2" fill="#1c1c1c"/>
<rect x="536.50" y="1616.40" width="4.10" height="4.2" fill="#1c1c1c"/>
<rect x="546.70" y="1616.40" width="3.50" height="4.2" fill="#1c1c1c"/>
<rect x="554.30" y="1616.40" width="4.90" height="4.2" fill="#1c1c1c"/>
<text x="485.98" y="1486.96" font-size="16.71" font-weight="normal" fill="#1e1e1e">10</text>
<text x="504.12" y="1475.96" font-size="16.67" font-weight="normal" fill="#1e1e1e">5</text>
<text x="485.98" y="1523.27" font-size="16.71" font-weight="normal" fill="#1e1e1e">10</text>
<text x="503.95" y="1512.27" font-size="16.67" font-weight="normal" fill="#1e1e1e">4</text>
<text x="485.98" y="1558.63" font-size="16.71" font-weight="normal" fill="#1e1e1e">10</text>
<text x="504.24" y="1547.63" font-size="16.43" font-weight="normal" fill="#1e1e1e">3</text>
<text x="485.98" y="1596.97" font-size="16.71" font-weight="normal" fill="#1e1e1e">10</text>
<text x="504.40" y="1585.97" font-size="16.43" font-weight="normal" fill="#1e1e1e">2</text>
<text x="496.66" y="1610.00" font-size="16.43" font-weight="normal" fill="#1e1e1e">0</text>
<text x="529.26" y="1655.80" font-size="15.86" font-weight="normal" fill="#1e1e1e">0</text>
<text x="550.05" y="1655.80" font-size="15.86" font-weight="normal" fill="#1e1e1e">10</text>
<text x="568.33" y="1644.80" font-size="15.43" font-weight="normal" fill="#1e1e1e">2</text>
<text x="588.22" y="1655.80" font-size="15.86" font-weight="normal" fill="#1e1e1e">10</text>
<text x="606.65" y="1644.80" font-size="15.43" font-weight="normal" fill="#1e1e1e">3</text>
<text x="623.44" y="1655.80" font-size="15.86" font-weight="normal" fill="#1e1e1e">10</text>
<text x="642.17" y="1644.80" font-size="15.65" font-weight="normal" fill="#1e1e1e">4</text>
<text x="658.49" y="1655.80" font-size="15.86" font-weight="normal" fill="#1e1e1e">10</text>
<text x="676.91" y="1644.80" font-size="15.65" font-weight="normal" fill="#1e1e1e">5</text>
<text x="537.16" y="1486.40" font-size="25.43" font-weight="normal" fill="#000">99</text>
<text x="659.56" y="1485.50" font-size="24.78" font-weight="normal" fill="#000">1</text>
<text transform="translate(0.11,26.00) scale(0.9804,1)" font-size="36.23" font-weight="bold" fill="#000">A</text>
<text transform="translate(0.76,877.80) scale(0.9578,1)" font-size="35.94" font-weight="bold" fill="#000">B</text>
<text transform="translate(85.99,48.20) scale(1.0244,1)" font-size="27.52" font-weight="normal" fill="#000">Naive Spleen</text>
<text transform="translate(304.94,48.50) scale(1.0048,1)" font-size="27.72" font-weight="normal" fill="#000">Tumor Spleen</text>
<text transform="translate(559.95,48.50) scale(0.9512,1)" font-size="29.13" font-weight="normal" fill="#000">Tumor</text>
<text transform="translate(88.23,908.00) scale(1.1115,1)" font-size="25.52" font-weight="normal" fill="#000">Naive Spleen</text>
<text transform="translate(307.84,908.50) scale(1.0357,1)" font-size="26.90" font-weight="normal" fill="#000">Tumor Spleen</text>
<text transform="translate(569.45,908.50) scale(0.9805,1)" font-size="28.26" font-weight="normal" fill="#000">Tumor</text>
<path d="M25.90,87.50 L36.70,62.50 L47.50,87.50 Z" fill="#000"/>
<line x1="36.70" y1="87.50" x2="36.70" y2="698.75" stroke="#222" stroke-width="1.2"/>
<path d="M21.80,955.00 L32.40,929.50 L43.00,955.00 Z" fill="#000"/>
<line x1="32.40" y1="955.00" x2="32.40" y2="1563.50" stroke="#222" stroke-width="1.2"/>
<text transform="translate(49.90,799.56) rotate(-90) scale(0.8789,1)" font-size="34.93">NK1.1</text>
<text transform="translate(45.20,1661.73) rotate(-90) scale(0.8790,1)" font-size="34.49">NK1.1</text>
<text transform="translate(76.79,292.50) scale(0.9798,1)" font-size="33.04" font-weight="normal" fill="#000">IFN-</text>
<text transform="translate(140.00,292.37) scale(0.9293,1)" font-size="34.07" font-weight="normal" fill="#000" font-family="Liberation Serif">γ</text>
<line x1="174.70" y1="284.40" x2="657.10" y2="284.40" stroke="#222" stroke-width="1.2"/>
<path d="M657.10,273.90 L682.50,284.40 L657.10,294.90 Z" fill="#000"/>
<text transform="translate(77.34,547.50) scale(0.9800,1)" font-size="33.77" font-weight="normal" fill="#000">TNF-</text>
<text transform="translate(151.70,547.44) scale(1.1163,1)" font-size="35.83" font-weight="normal" fill="#000" font-family="Liberation Serif">α</text>
<line x1="175.00" y1="542.00" x2="657.00" y2="542.00" stroke="#222" stroke-width="1.2"/>
<path d="M657.00,531.30 L682.30,542.00 L657.00,552.70 Z" fill="#000"/>
<text transform="translate(77.09,809.70) scale(0.9444,1)" font-size="34.14" font-weight="normal" fill="#000">GM-CSF</text>
<line x1="220.00" y1="801.20" x2="657.30" y2="801.20" stroke="#222" stroke-width="1.2"/>
<path d="M657.30,790.50 L682.70,801.20 L657.30,811.90 Z" fill="#000"/>
<text transform="translate(90.07,1161.70) scale(0.9446,1)" font-size="34.57" font-weight="normal" fill="#000">CD122</text>
<line x1="201.30" y1="1153.30" x2="669.00" y2="1153.30" stroke="#222" stroke-width="1.2"/>
<path d="M669.00,1142.90 L694.00,1153.30 L669.00,1163.70 Z" fill="#000"/>
<text transform="translate(77.09,1428.30) scale(0.9701,1)" font-size="33.29" font-weight="normal" fill="#000">CD25</text>
<line x1="181.30" y1="1420.20" x2="663.30" y2="1420.20" stroke="#222" stroke-width="1.2"/>
<path d="M663.30,1409.70 L688.70,1420.20 L663.30,1430.70 Z" fill="#000"/>
<text transform="translate(90.54,1692.00) scale(0.9652,1)" font-size="34.06" font-weight="normal" fill="#000">IFN-</text>
<text transform="translate(154.00,1691.49) scale(0.9497,1)" font-size="32.59" font-weight="normal" fill="#000" font-family="Liberation Serif">γ</text>
<text transform="translate(167.20,1692.00) scale(1.0264,1)" font-size="34.06" font-weight="normal" fill="#000">R</text>
<line x1="203.75" y1="1683.20" x2="656.00" y2="1683.20" stroke="#222" stroke-width="1.2"/>
<path d="M656.00,1672.70 L681.00,1683.20 L656.00,1693.70 Z" fill="#000"/>
<line x1="827.00" y1="57.80" x2="827.00" y2="253.70" stroke="#5a5a5a" stroke-width="1.6"/>
<line x1="826.20" y1="253.70" x2="1108.30" y2="253.70" stroke="#5a5a5a" stroke-width="1.6"/>
<line x1="822.50" y1="57.80" x2="827.00" y2="57.80" stroke="#5a5a5a" stroke-width="1.4"/>
<text x="789.01" y="66.45" font-size="21.86">25</text>
<line x1="822.50" y1="97.00" x2="827.00" y2="97.00" stroke="#5a5a5a" stroke-width="1.4"/>
<text x="788.90" y="105.65" font-size="21.86">20</text>
<line x1="822.50" y1="136.10" x2="827.00" y2="136.10" stroke="#5a5a5a" stroke-width="1.4"/>
<text x="788.67" y="144.75" font-size="22.17">15</text>
<line x1="822.50" y1="175.30" x2="827.00" y2="175.30" stroke="#5a5a5a" stroke-width="1.4"/>
<text x="788.90" y="183.95" font-size="21.86">10</text>
<line x1="822.50" y1="214.50" x2="827.00" y2="214.50" stroke="#5a5a5a" stroke-width="1.4"/>
<text x="800.98" y="223.15" font-size="22.17">5</text>
<line x1="822.50" y1="253.70" x2="827.00" y2="253.70" stroke="#5a5a5a" stroke-width="1.4"/>
<text x="801.03" y="262.35" font-size="21.86">0</text>
<line x1="873.70" y1="253.70" x2="873.70" y2="257.70" stroke="#5a5a5a" stroke-width="1.3"/>
<line x1="967.60" y1="253.70" x2="967.60" y2="257.70" stroke="#5a5a5a" stroke-width="1.3"/>
<line x1="1061.70" y1="253.70" x2="1061.70" y2="257.70" stroke="#5a5a5a" stroke-width="1.3"/>
<line x1="873.70" y1="82.20" x2="873.70" y2="103.70" stroke="#4a4a4a" stroke-width="1.3"/>
<line x1="858.20" y1="82.20" x2="889.20" y2="82.20" stroke="#4a4a4a" stroke-width="1.4"/>
<line x1="858.20" y1="103.70" x2="889.20" y2="103.70" stroke="#4a4a4a" stroke-width="1.4"/>
<line x1="967.60" y1="105.70" x2="967.60" y2="123.00" stroke="#4a4a4a" stroke-width="1.3"/>
<line x1="952.10" y1="105.70" x2="983.10" y2="105.70" stroke="#4a4a4a" stroke-width="1.4"/>
<line x1="952.10" y1="123.00" x2="983.10" y2="123.00" stroke="#4a4a4a" stroke-width="1.4"/>
<line x1="1061.70" y1="145.00" x2="1061.70" y2="185.80" stroke="#4a4a4a" stroke-width="1.3"/>
<line x1="1046.20" y1="145.00" x2="1077.20" y2="145.00" stroke="#4a4a4a" stroke-width="1.4"/>
<line x1="1046.20" y1="185.80" x2="1077.20" y2="185.80" stroke="#4a4a4a" stroke-width="1.4"/>
<circle cx="860.30" cy="83.30" r="4.6" fill="#000"/>
<circle cx="873.70" cy="86.20" r="4.6" fill="#000"/>
<circle cx="887.50" cy="78.00" r="4.6" fill="#000"/>
<circle cx="873.70" cy="124.50" r="4.6" fill="#000"/>
<rect x="956.20" y="89.20" width="9.2" height="9.2" fill="#000"/>
<rect x="969.90" y="101.60" width="9.2" height="9.2" fill="#000"/>
<rect x="956.20" y="125.40" width="9.2" height="9.2" fill="#000"/>
<rect x="969.90" y="122.90" width="9.2" height="9.2" fill="#000"/>
<path d="M1056.70,135.90 L1061.50,127.10 L1066.30,135.90 Z" fill="#000"/>
<path d="M1056.70,168.90 L1061.50,160.10 L1066.30,168.90 Z" fill="#000"/>
<path d="M1056.70,206.10 L1061.50,197.30 L1066.30,206.10 Z" fill="#000"/>
<line x1="842.50" y1="92.80" x2="904.90" y2="92.80" stroke="#1a1a1a" stroke-width="2.2"/>
<line x1="936.40" y1="114.50" x2="998.80" y2="114.50" stroke="#1a1a1a" stroke-width="2.2"/>
<line x1="1030.50" y1="165.40" x2="1092.90" y2="165.40" stroke="#1a1a1a" stroke-width="2.2"/>
<line x1="872.80" y1="22.00" x2="1075.80" y2="22.00" stroke="#4a4a4a" stroke-width="1.5"/>
<text transform="translate(964.62,23.94) scale(0.951,1)" font-size="26.29">*</text>
<line x1="872.80" y1="60.30" x2="969.20" y2="60.30" stroke="#4a4a4a" stroke-width="1.5"/>
<text transform="translate(902.04,50.00) scale(1.060,1)" font-size="27.86">NS</text>
<line x1="981.70" y1="60.30" x2="1078.80" y2="60.30" stroke="#4a4a4a" stroke-width="1.5"/>
<text transform="translate(1008.47,50.00) scale(1.046,1)" font-size="27.86">NS</text>
<text transform="translate(771.00,251.08) rotate(-90) scale(0.981,1)" font-size="23.05">% IFN-<tspan font-family="Liberation Serif" font-size="24.20">γ</tspan><tspan dy="-9.68" font-size="13.83">+</tspan><tspan dy="9.68"> of NKT cells</tspan></text>
<line x1="827.00" y1="321.50" x2="827.00" y2="517.40" stroke="#5a5a5a" stroke-width="1.6"/>
<line x1="826.20" y1="517.40" x2="1109.30" y2="517.40" stroke="#5a5a5a" stroke-width="1.6"/>
<line x1="822.50" y1="321.50" x2="827.00" y2="321.50" stroke="#5a5a5a" stroke-width="1.4"/>
<text x="788.90" y="330.15" font-size="21.86">20</text>
<line x1="822.50" y1="370.40" x2="827.00" y2="370.40" stroke="#5a5a5a" stroke-width="1.4"/>
<text x="788.67" y="379.05" font-size="22.17">15</text>
<line x1="822.50" y1="419.60" x2="827.00" y2="419.60" stroke="#5a5a5a" stroke-width="1.4"/>
<text x="788.90" y="428.25" font-size="21.86">10</text>
<line x1="822.50" y1="468.50" x2="827.00" y2="468.50" stroke="#5a5a5a" stroke-width="1.4"/>
<text x="800.98" y="477.15" font-size="22.17">5</text>
<line x1="822.50" y1="517.40" x2="827.00" y2="517.40" stroke="#5a5a5a" stroke-width="1.4"/>
<text x="801.03" y="526.05" font-size="21.86">0</text>
<line x1="873.60" y1="517.40" x2="873.60" y2="521.40" stroke="#5a5a5a" stroke-width="1.3"/>
<line x1="967.50" y1="517.40" x2="967.50" y2="521.40" stroke="#5a5a5a" stroke-width="1.3"/>
<line x1="1061.60" y1="517.40" x2="1061.60" y2="521.40" stroke="#5a5a5a" stroke-width="1.3"/>
<line x1="873.60" y1="387.00" x2="873.60" y2="406.00" stroke="#4a4a4a" stroke-width="1.3"/>
<line x1="858.10" y1="387.00" x2="889.10" y2="387.00" stroke="#4a4a4a" stroke-width="1.4"/>
<line x1="858.10" y1="406.00" x2="889.10" y2="406.00" stroke="#4a4a4a" stroke-width="1.4"/>
<line x1="967.50" y1="375.50" x2="967.50" y2="399.00" stroke="#4a4a4a" stroke-width="1.3"/>
<line x1="952.00" y1="375.50" x2="983.00" y2="375.50" stroke="#4a4a4a" stroke-width="1.4"/>
<line x1="952.00" y1="399.00" x2="983.00" y2="399.00" stroke="#4a4a4a" stroke-width="1.4"/>
<line x1="1061.60" y1="466.40" x2="1061.60" y2="474.50" stroke="#4a4a4a" stroke-width="1.3"/>
<line x1="1046.10" y1="466.40" x2="1077.10" y2="466.40" stroke="#4a4a4a" stroke-width="1.4"/>
<line x1="1046.10" y1="474.50" x2="1077.10" y2="474.50" stroke="#4a4a4a" stroke-width="1.4"/>
<circle cx="873.50" cy="365.00" r="4.6" fill="#000"/>
<circle cx="873.50" cy="385.40" r="4.6" fill="#000"/>
<circle cx="860.00" cy="407.00" r="4.6" fill="#000"/>
<circle cx="887.00" cy="407.00" r="4.6" fill="#000"/>
<circle cx="873.50" cy="417.50" r="4.6" fill="#000"/>
<rect x="962.80" y="357.40" width="9.2" height="9.2" fill="#000"/>
<rect x="955.90" y="376.90" width="9.2" height="9.2" fill="#000"/>
<rect x="970.40" y="382.00" width="9.2" height="9.2" fill="#000"/>
<rect x="962.80" y="415.40" width="9.2" height="9.2" fill="#000"/>
<path d="M1056.80,467.80 L1061.60,459.00 L1066.40,467.80 Z" fill="#000"/>
<path d="M1049.60,481.00 L1054.40,472.20 L1059.20,481.00 Z" fill="#000"/>
<path d="M1063.70,477.40 L1068.50,468.60 L1073.30,477.40 Z" fill="#000"/>
<line x1="842.40" y1="396.50" x2="904.80" y2="396.50" stroke="#1a1a1a" stroke-width="2.2"/>
<line x1="936.30" y1="387.50" x2="998.70" y2="387.50" stroke="#1a1a1a" stroke-width="2.2"/>
<line x1="1030.40" y1="470.60" x2="1092.80" y2="470.60" stroke="#1a1a1a" stroke-width="2.2"/>
<line x1="868.40" y1="298.40" x2="1070.60" y2="298.40" stroke="#4a4a4a" stroke-width="1.5"/>
<text transform="translate(958.61,300.24) scale(1.011,1)" font-size="25.71">**</text>
<line x1="868.40" y1="338.60" x2="964.40" y2="338.60" stroke="#4a4a4a" stroke-width="1.5"/>
<text transform="translate(893.65,328.40) scale(1.088,1)" font-size="27.00">NS</text>
<line x1="974.00" y1="338.60" x2="1070.60" y2="338.60" stroke="#4a4a4a" stroke-width="1.5"/>
<text transform="translate(1006.02,332.76) scale(1.054,1)" font-size="24.29">**</text>
<text transform="translate(771.00,531.29) rotate(-90) scale(1.005,1)" font-size="23.05">% TNF-<tspan font-family="Liberation Serif" font-size="24.20">α</tspan><tspan dy="-9.68" font-size="13.83">+</tspan><tspan dy="9.68"> of NKT cells</tspan></text>
<line x1="827.00" y1="610.50" x2="827.00" y2="806.30" stroke="#5a5a5a" stroke-width="1.6"/>
<line x1="826.20" y1="806.30" x2="1109.30" y2="806.30" stroke="#5a5a5a" stroke-width="1.6"/>
<line x1="822.50" y1="610.50" x2="827.00" y2="610.50" stroke="#5a5a5a" stroke-width="1.4"/>
<text x="788.90" y="619.15" font-size="21.86">30</text>
<line x1="822.50" y1="675.80" x2="827.00" y2="675.80" stroke="#5a5a5a" stroke-width="1.4"/>
<text x="788.90" y="684.45" font-size="21.86">20</text>
<line x1="822.50" y1="741.10" x2="827.00" y2="741.10" stroke="#5a5a5a" stroke-width="1.4"/>
<text x="788.90" y="749.75" font-size="21.86">10</text>
<line x1="822.50" y1="806.30" x2="827.00" y2="806.30" stroke="#5a5a5a" stroke-width="1.4"/>
<text x="801.03" y="814.95" font-size="21.86">0</text>
<line x1="873.60" y1="806.30" x2="873.60" y2="810.30" stroke="#5a5a5a" stroke-width="1.3"/>
<line x1="967.50" y1="806.30" x2="967.50" y2="810.30" stroke="#5a5a5a" stroke-width="1.3"/>
<line x1="1061.60" y1="806.30" x2="1061.60" y2="810.30" stroke="#5a5a5a" stroke-width="1.3"/>
<line x1="873.60" y1="693.90" x2="873.60" y2="724.80" stroke="#4a4a4a" stroke-width="1.3"/>
<line x1="858.10" y1="693.90" x2="889.10" y2="693.90" stroke="#4a4a4a" stroke-width="1.4"/>
<line x1="858.10" y1="724.80" x2="889.10" y2="724.80" stroke="#4a4a4a" stroke-width="1.4"/>
<line x1="967.50" y1="684.00" x2="967.50" y2="719.10" stroke="#4a4a4a" stroke-width="1.3"/>
<line x1="952.00" y1="684.00" x2="983.00" y2="684.00" stroke="#4a4a4a" stroke-width="1.4"/>
<line x1="952.00" y1="719.10" x2="983.00" y2="719.10" stroke="#4a4a4a" stroke-width="1.4"/>
<line x1="1061.60" y1="768.60" x2="1061.60" y2="788.40" stroke="#4a4a4a" stroke-width="1.3"/>
<line x1="1046.10" y1="768.60" x2="1077.10" y2="768.60" stroke="#4a4a4a" stroke-width="1.4"/>
<line x1="1046.10" y1="788.40" x2="1077.10" y2="788.40" stroke="#4a4a4a" stroke-width="1.4"/>
<circle cx="873.50" cy="668.10" r="4.6" fill="#000"/>
<circle cx="873.50" cy="688.50" r="4.6" fill="#000"/>
<circle cx="867.00" cy="708.60" r="4.6" fill="#000"/>
<circle cx="880.40" cy="721.50" r="4.6" fill="#000"/>
<circle cx="873.50" cy="759.60" r="4.6" fill="#000"/>
<rect x="962.80" y="633.50" width="9.2" height="9.2" fill="#000"/>
<rect x="962.80" y="662.40" width="9.2" height="9.2" fill="#000"/>
<rect x="962.80" y="686.00" width="9.2" height="9.2" fill="#000"/>
<rect x="962.80" y="725.00" width="9.2" height="9.2" fill="#000"/>
<rect x="955.90" y="739.40" width="9.2" height="9.2" fill="#000"/>
<rect x="970.00" y="735.50" width="9.2" height="9.2" fill="#000"/>
<path d="M1056.80,734.00 L1061.60,725.20 L1066.40,734.00 Z" fill="#000"/>
<path d="M1049.60,782.90 L1054.40,774.10 L1059.20,782.90 Z" fill="#000"/>
<path d="M1063.70,786.80 L1068.50,778.00 L1073.30,786.80 Z" fill="#000"/>
<path d="M1042.70,796.40 L1047.50,787.60 L1052.30,796.40 Z" fill="#000"/>
<path d="M1070.60,797.40 L1075.40,788.60 L1080.20,797.40 Z" fill="#000"/>
<path d="M1056.80,805.40 L1061.60,796.60 L1066.40,805.40 Z" fill="#000"/>
<line x1="842.40" y1="709.50" x2="904.80" y2="709.50" stroke="#1a1a1a" stroke-width="2.2"/>
<line x1="936.30" y1="701.40" x2="998.70" y2="701.40" stroke="#1a1a1a" stroke-width="2.2"/>
<line x1="1030.40" y1="779.00" x2="1092.80" y2="779.00" stroke="#1a1a1a" stroke-width="2.2"/>
<line x1="873.50" y1="583.50" x2="1076.60" y2="583.50" stroke="#4a4a4a" stroke-width="1.5"/>
<text transform="translate(959.62,584.47) scale(1.095,1)" font-size="23.14">**</text>
<line x1="873.50" y1="623.10" x2="970.00" y2="623.10" stroke="#4a4a4a" stroke-width="1.5"/>
<text transform="translate(895.61,613.00) scale(1.099,1)" font-size="27.14">NS</text>
<line x1="977.60" y1="622.50" x2="1074.50" y2="622.50" stroke="#4a4a4a" stroke-width="1.5"/>
<text transform="translate(1012.61,623.16) scale(1.083,1)" font-size="24.00">**</text>
<text transform="translate(771.00,840.28) rotate(-90) scale(0.984,1)" font-size="23.05">% GM-CSF<tspan dy="-9.68" font-size="13.83">+</tspan><tspan dy="9.68"> of NKT cells</tspan></text>
<line x1="829.20" y1="902.90" x2="829.20" y2="1098.70" stroke="#5a5a5a" stroke-width="1.6"/>
<line x1="828.40" y1="1098.70" x2="1111.00" y2="1098.70" stroke="#5a5a5a" stroke-width="1.6"/>
<line x1="824.70" y1="902.90" x2="829.20" y2="902.90" stroke="#5a5a5a" stroke-width="1.4"/>
<text x="791.10" y="911.55" font-size="21.86">60</text>
<line x1="824.70" y1="968.20" x2="829.20" y2="968.20" stroke="#5a5a5a" stroke-width="1.4"/>
<text x="791.10" y="976.85" font-size="21.86">40</text>
<line x1="824.70" y1="1033.40" x2="829.20" y2="1033.40" stroke="#5a5a5a" stroke-width="1.4"/>
<text x="791.10" y="1042.05" font-size="21.86">20</text>
<line x1="824.70" y1="1098.70" x2="829.20" y2="1098.70" stroke="#5a5a5a" stroke-width="1.4"/>
<text x="803.23" y="1107.35" font-size="21.86">0</text>
<line x1="876.50" y1="1098.70" x2="876.50" y2="1102.70" stroke="#5a5a5a" stroke-width="1.3"/>
<line x1="970.10" y1="1098.70" x2="970.10" y2="1102.70" stroke="#5a5a5a" stroke-width="1.3"/>
<line x1="1064.00" y1="1098.70" x2="1064.00" y2="1102.70" stroke="#5a5a5a" stroke-width="1.3"/>
<line x1="876.50" y1="956.90" x2="876.50" y2="961.40" stroke="#4a4a4a" stroke-width="1.3"/>
<line x1="861.00" y1="956.90" x2="892.00" y2="956.90" stroke="#4a4a4a" stroke-width="1.4"/>
<line x1="861.00" y1="961.40" x2="892.00" y2="961.40" stroke="#4a4a4a" stroke-width="1.4"/>
<line x1="970.10" y1="951.50" x2="970.10" y2="962.00" stroke="#4a4a4a" stroke-width="1.3"/>
<line x1="954.60" y1="951.50" x2="985.60" y2="951.50" stroke="#4a4a4a" stroke-width="1.4"/>
<line x1="954.60" y1="962.00" x2="985.60" y2="962.00" stroke="#4a4a4a" stroke-width="1.4"/>
<line x1="1064.00" y1="993.50" x2="1064.00" y2="1019.00" stroke="#4a4a4a" stroke-width="1.3"/>
<line x1="1048.50" y1="993.50" x2="1079.50" y2="993.50" stroke="#4a4a4a" stroke-width="1.4"/>
<line x1="1048.50" y1="1019.00" x2="1079.50" y2="1019.00" stroke="#4a4a4a" stroke-width="1.4"/>
<circle cx="855.50" cy="958.40" r="4.6" fill="#000"/>
<circle cx="875.90" cy="950.00" r="4.6" fill="#000"/>
<circle cx="869.00" cy="965.00" r="4.6" fill="#000"/>
<circle cx="883.10" cy="962.60" r="4.6" fill="#000"/>
<circle cx="896.60" cy="957.50" r="4.6" fill="#000"/>
<rect x="940.90" y="947.80" width="9.2" height="9.2" fill="#000"/>
<rect x="958.40" y="936.40" width="9.2" height="9.2" fill="#000"/>
<rect x="972.40" y="933.40" width="9.2" height="9.2" fill="#000"/>
<rect x="989.80" y="947.50" width="9.2" height="9.2" fill="#000"/>
<rect x="952.90" y="958.90" width="9.2" height="9.2" fill="#000"/>
<rect x="964.90" y="961.00" width="9.2" height="9.2" fill="#000"/>
<rect x="977.80" y="956.80" width="9.2" height="9.2" fill="#000"/>
<rect x="965.50" y="975.40" width="9.2" height="9.2" fill="#000"/>
<path d="M1052.60,967.90 L1057.40,959.10 L1062.20,967.90 Z" fill="#000"/>
<path d="M1066.20,962.80 L1071.00,954.00 L1075.80,962.80 Z" fill="#000"/>
<path d="M1058.60,1000.00 L1063.40,991.20 L1068.20,1000.00 Z" fill="#000"/>
<path d="M1045.20,1010.40 L1050.00,1001.60 L1054.80,1010.40 Z" fill="#000"/>
<path d="M1072.70,1015.00 L1077.50,1006.20 L1082.30,1015.00 Z" fill="#000"/>
<path d="M1058.60,1019.40 L1063.40,1010.60 L1068.20,1019.40 Z" fill="#000"/>
<path d="M1058.60,1039.90 L1063.40,1031.10 L1068.20,1039.90 Z" fill="#000"/>
<path d="M1058.60,1073.40 L1063.40,1064.60 L1068.20,1073.40 Z" fill="#000"/>
<line x1="845.30" y1="959.00" x2="907.70" y2="959.00" stroke="#1a1a1a" stroke-width="2.2"/>
<line x1="938.90" y1="956.60" x2="1001.30" y2="956.60" stroke="#1a1a1a" stroke-width="2.2"/>
<line x1="1032.80" y1="1006.00" x2="1095.20" y2="1006.00" stroke="#1a1a1a" stroke-width="2.2"/>
<line x1="867.50" y1="866.90" x2="1070.00" y2="866.90" stroke="#4a4a4a" stroke-width="1.5"/>
<text transform="translate(954.12,867.24) scale(0.972,1)" font-size="25.71">*</text>
<line x1="867.50" y1="908.60" x2="964.40" y2="908.60" stroke="#4a4a4a" stroke-width="1.5"/>
<text transform="translate(892.12,896.60) scale(1.120,1)" font-size="26.57">NS</text>
<line x1="970.40" y1="908.60" x2="1068.00" y2="908.60" stroke="#4a4a4a" stroke-width="1.5"/>
<text transform="translate(1009.59,903.24) scale(1.058,1)" font-size="25.71">**</text>
<text transform="translate(771.00,1123.19) rotate(-90) scale(1.000,1)" font-size="23.05">% CD122<tspan dy="-9.68" font-size="13.83">+</tspan><tspan dy="9.68"> of NKT cells</tspan></text>
<line x1="829.20" y1="1185.00" x2="829.20" y2="1381.50" stroke="#5a5a5a" stroke-width="1.6"/>
<line x1="828.40" y1="1381.50" x2="1111.00" y2="1381.50" stroke="#5a5a5a" stroke-width="1.6"/>
<line x1="824.70" y1="1185.00" x2="829.20" y2="1185.00" stroke="#5a5a5a" stroke-width="1.4"/>
<text x="803.34" y="1193.65" font-size="21.86">8</text>
<line x1="824.70" y1="1234.10" x2="829.20" y2="1234.10" stroke="#5a5a5a" stroke-width="1.4"/>
<text x="803.34" y="1242.75" font-size="21.86">6</text>
<line x1="824.70" y1="1283.30" x2="829.20" y2="1283.30" stroke="#5a5a5a" stroke-width="1.4"/>
<text x="802.96" y="1291.95" font-size="22.17">4</text>
<line x1="824.70" y1="1332.40" x2="829.20" y2="1332.40" stroke="#5a5a5a" stroke-width="1.4"/>
<text x="803.56" y="1341.05" font-size="21.86">2</text>
<line x1="824.70" y1="1381.50" x2="829.20" y2="1381.50" stroke="#5a5a5a" stroke-width="1.4"/>
<text x="803.23" y="1390.15" font-size="21.86">0</text>
<line x1="876.20" y1="1381.50" x2="876.20" y2="1385.50" stroke="#5a5a5a" stroke-width="1.3"/>
<line x1="970.10" y1="1381.50" x2="970.10" y2="1385.50" stroke="#5a5a5a" stroke-width="1.3"/>
<line x1="1063.60" y1="1381.50" x2="1063.60" y2="1385.50" stroke="#5a5a5a" stroke-width="1.3"/>
<line x1="876.20" y1="1225.50" x2="876.20" y2="1263.60" stroke="#4a4a4a" stroke-width="1.3"/>
<line x1="860.70" y1="1225.50" x2="891.70" y2="1225.50" stroke="#4a4a4a" stroke-width="1.4"/>
<line x1="860.70" y1="1263.60" x2="891.70" y2="1263.60" stroke="#4a4a4a" stroke-width="1.4"/>
<line x1="970.10" y1="1227.00" x2="970.10" y2="1248.00" stroke="#4a4a4a" stroke-width="1.3"/>
<line x1="954.60" y1="1227.00" x2="985.60" y2="1227.00" stroke="#4a4a4a" stroke-width="1.4"/>
<line x1="954.60" y1="1248.00" x2="985.60" y2="1248.00" stroke="#4a4a4a" stroke-width="1.4"/>
<line x1="1063.60" y1="1308.60" x2="1063.60" y2="1334.10" stroke="#4a4a4a" stroke-width="1.3"/>
<line x1="1048.10" y1="1308.60" x2="1079.10" y2="1308.60" stroke="#4a4a4a" stroke-width="1.4"/>
<line x1="1048.10" y1="1334.10" x2="1079.10" y2="1334.10" stroke="#4a4a4a" stroke-width="1.4"/>
<circle cx="869.00" cy="1218.60" r="4.6" fill="#000"/>
<circle cx="883.10" cy="1211.10" r="4.6" fill="#000"/>
<circle cx="875.90" cy="1254.60" r="4.6" fill="#000"/>
<circle cx="875.90" cy="1293.60" r="4.6" fill="#000"/>
<rect x="951.40" y="1208.90" width="9.2" height="9.2" fill="#000"/>
<rect x="965.50" y="1212.50" width="9.2" height="9.2" fill="#000"/>
<rect x="979.00" y="1208.00" width="9.2" height="9.2" fill="#000"/>
<rect x="951.40" y="1223.00" width="9.2" height="9.2" fill="#000"/>
<rect x="965.50" y="1228.40" width="9.2" height="9.2" fill="#000"/>
<rect x="979.00" y="1227.50" width="9.2" height="9.2" fill="#000"/>
<rect x="965.50" y="1255.40" width="9.2" height="9.2" fill="#000"/>
<rect x="965.50" y="1298.00" width="9.2" height="9.2" fill="#000"/>
<path d="M1058.60,1291.40 L1063.40,1282.60 L1068.20,1291.40 Z" fill="#000"/>
<path d="M1058.60,1323.80 L1063.40,1315.00 L1068.20,1323.80 Z" fill="#000"/>
<path d="M1066.20,1340.90 L1071.00,1332.10 L1075.80,1340.90 Z" fill="#000"/>
<path d="M1052.30,1349.90 L1057.10,1341.10 L1061.90,1349.90 Z" fill="#000"/>
<line x1="845.00" y1="1244.40" x2="907.40" y2="1244.40" stroke="#1a1a1a" stroke-width="2.2"/>
<line x1="938.90" y1="1237.50" x2="1001.30" y2="1237.50" stroke="#1a1a1a" stroke-width="2.2"/>
<line x1="1032.40" y1="1321.50" x2="1094.80" y2="1321.50" stroke="#1a1a1a" stroke-width="2.2"/>
<line x1="877.40" y1="1143.00" x2="1080.00" y2="1143.00" stroke="#4a4a4a" stroke-width="1.5"/>
<text transform="translate(969.12,1144.24) scale(0.972,1)" font-size="25.71">*</text>
<line x1="877.40" y1="1181.40" x2="974.00" y2="1181.40" stroke="#4a4a4a" stroke-width="1.5"/>
<text transform="translate(898.61,1172.10) scale(1.123,1)" font-size="26.57">NS</text>
<line x1="986.00" y1="1181.40" x2="1083.50" y2="1181.40" stroke="#4a4a4a" stroke-width="1.5"/>
<text transform="translate(1019.19,1177.24) scale(1.054,1)" font-size="25.71">***</text>
<text transform="translate(771.00,1393.49) rotate(-90) scale(0.992,1)" font-size="23.05">% CD25<tspan dy="-9.68" font-size="13.83">+</tspan><tspan dy="9.68"> of NKT cells</tspan></text>
<line x1="829.20" y1="1457.50" x2="829.20" y2="1654.20" stroke="#5a5a5a" stroke-width="1.6"/>
<line x1="828.40" y1="1654.20" x2="1110.00" y2="1654.20" stroke="#5a5a5a" stroke-width="1.6"/>
<line x1="824.70" y1="1457.50" x2="829.20" y2="1457.50" stroke="#5a5a5a" stroke-width="1.4"/>
<text x="790.87" y="1466.15" font-size="22.17">15</text>
<line x1="824.70" y1="1523.10" x2="829.20" y2="1523.10" stroke="#5a5a5a" stroke-width="1.4"/>
<text x="791.10" y="1531.75" font-size="21.86">10</text>
<line x1="824.70" y1="1588.70" x2="829.20" y2="1588.70" stroke="#5a5a5a" stroke-width="1.4"/>
<text x="803.18" y="1597.35" font-size="22.17">5</text>
<line x1="824.70" y1="1654.20" x2="829.20" y2="1654.20" stroke="#5a5a5a" stroke-width="1.4"/>
<text x="803.23" y="1662.85" font-size="21.86">0</text>
<line x1="876.00" y1="1654.20" x2="876.00" y2="1658.20" stroke="#5a5a5a" stroke-width="1.3"/>
<line x1="970.00" y1="1654.20" x2="970.00" y2="1658.20" stroke="#5a5a5a" stroke-width="1.3"/>
<line x1="1063.90" y1="1654.20" x2="1063.90" y2="1658.20" stroke="#5a5a5a" stroke-width="1.3"/>
<line x1="876.00" y1="1536.90" x2="876.00" y2="1567.90" stroke="#4a4a4a" stroke-width="1.3"/>
<line x1="860.50" y1="1536.90" x2="891.50" y2="1536.90" stroke="#4a4a4a" stroke-width="1.4"/>
<line x1="860.50" y1="1567.90" x2="891.50" y2="1567.90" stroke="#4a4a4a" stroke-width="1.4"/>
<line x1="970.00" y1="1585.20" x2="970.00" y2="1598.60" stroke="#4a4a4a" stroke-width="1.3"/>
<line x1="954.50" y1="1585.20" x2="985.50" y2="1585.20" stroke="#4a4a4a" stroke-width="1.4"/>
<line x1="954.50" y1="1598.60" x2="985.50" y2="1598.60" stroke="#4a4a4a" stroke-width="1.4"/>
<line x1="1063.90" y1="1617.70" x2="1063.90" y2="1631.90" stroke="#4a4a4a" stroke-width="1.3"/>
<line x1="1048.40" y1="1617.70" x2="1079.40" y2="1617.70" stroke="#4a4a4a" stroke-width="1.4"/>
<line x1="1048.40" y1="1631.90" x2="1079.40" y2="1631.90" stroke="#4a4a4a" stroke-width="1.4"/>
<circle cx="876.00" cy="1519.60" r="4.6" fill="#000"/>
<circle cx="876.00" cy="1538.80" r="4.6" fill="#000"/>
<circle cx="876.00" cy="1561.80" r="4.6" fill="#000"/>
<circle cx="876.00" cy="1590.90" r="4.6" fill="#000"/>
<rect x="965.40" y="1544.10" width="9.2" height="9.2" fill="#000"/>
<rect x="965.40" y="1574.80" width="9.2" height="9.2" fill="#000"/>
<rect x="978.80" y="1585.90" width="9.2" height="9.2" fill="#000"/>
<rect x="944.40" y="1592.80" width="9.2" height="9.2" fill="#000"/>
<rect x="952.00" y="1596.60" width="9.2" height="9.2" fill="#000"/>
<rect x="965.40" y="1594.00" width="9.2" height="9.2" fill="#000"/>
<rect x="978.80" y="1602.40" width="9.2" height="9.2" fill="#000"/>
<rect x="965.40" y="1608.20" width="9.2" height="9.2" fill="#000"/>
<path d="M1059.10,1608.40 L1063.90,1599.60 L1068.70,1608.40 Z" fill="#000"/>
<path d="M1051.50,1619.80 L1056.30,1611.00 L1061.10,1619.80 Z" fill="#000"/>
<path d="M1072.50,1633.20 L1077.30,1624.40 L1082.10,1633.20 Z" fill="#000"/>
<path d="M1065.60,1642.10 L1070.40,1633.30 L1075.20,1642.10 Z" fill="#000"/>
<path d="M1052.20,1646.70 L1057.00,1637.90 L1061.80,1646.70 Z" fill="#000"/>
<line x1="844.80" y1="1552.60" x2="907.20" y2="1552.60" stroke="#1a1a1a" stroke-width="2.2"/>
<line x1="938.80" y1="1591.70" x2="1001.20" y2="1591.70" stroke="#1a1a1a" stroke-width="2.2"/>
<line x1="1032.70" y1="1625.40" x2="1095.10" y2="1625.40" stroke="#1a1a1a" stroke-width="2.2"/>
<line x1="878.00" y1="1458.30" x2="1080.40" y2="1458.30" stroke="#4a4a4a" stroke-width="1.5"/>
<text transform="translate(962.69,1457.96) scale(1.128,1)" font-size="24.00">**</text>
<line x1="876.00" y1="1495.80" x2="972.70" y2="1495.80" stroke="#4a4a4a" stroke-width="1.5"/>
<text transform="translate(917.94,1494.23) scale(0.890,1)" font-size="27.14">*</text>
<line x1="981.50" y1="1495.80" x2="1079.20" y2="1495.80" stroke="#4a4a4a" stroke-width="1.5"/>
<text transform="translate(1020.23,1494.23) scale(0.901,1)" font-size="27.14">*</text>
<text transform="translate(771.00,1674.42) rotate(-90) scale(0.976,1)" font-size="23.05">% IFN-<tspan font-family="Liberation Serif" font-size="24.20">γ</tspan>R<tspan dy="-9.68" font-size="13.83">+</tspan><tspan dy="9.68"> of NKT cells</tspan></text>
<circle cx="779.50" cy="1713.25" r="6.75" fill="#000"/>
<text transform="translate(796.33,1719.25) scale(1.054,1)" font-size="22.14">Naive spleen</text>
<rect x="941.25" y="1708.5" width="12.4" height="11.9" fill="#000"/>
<text transform="translate(964.44,1719.70) scale(1.037,1)" font-size="22.34">Tumor spleen</text>
<path d="M1114,1722.6 L1120.45,1710.7 L1126.9,1722.6 Z" fill="#000"/>
<text transform="translate(1129.33,1721.00) scale(1.026,1)" font-size="22.75">Tumor</text>
</svg></body></html>
